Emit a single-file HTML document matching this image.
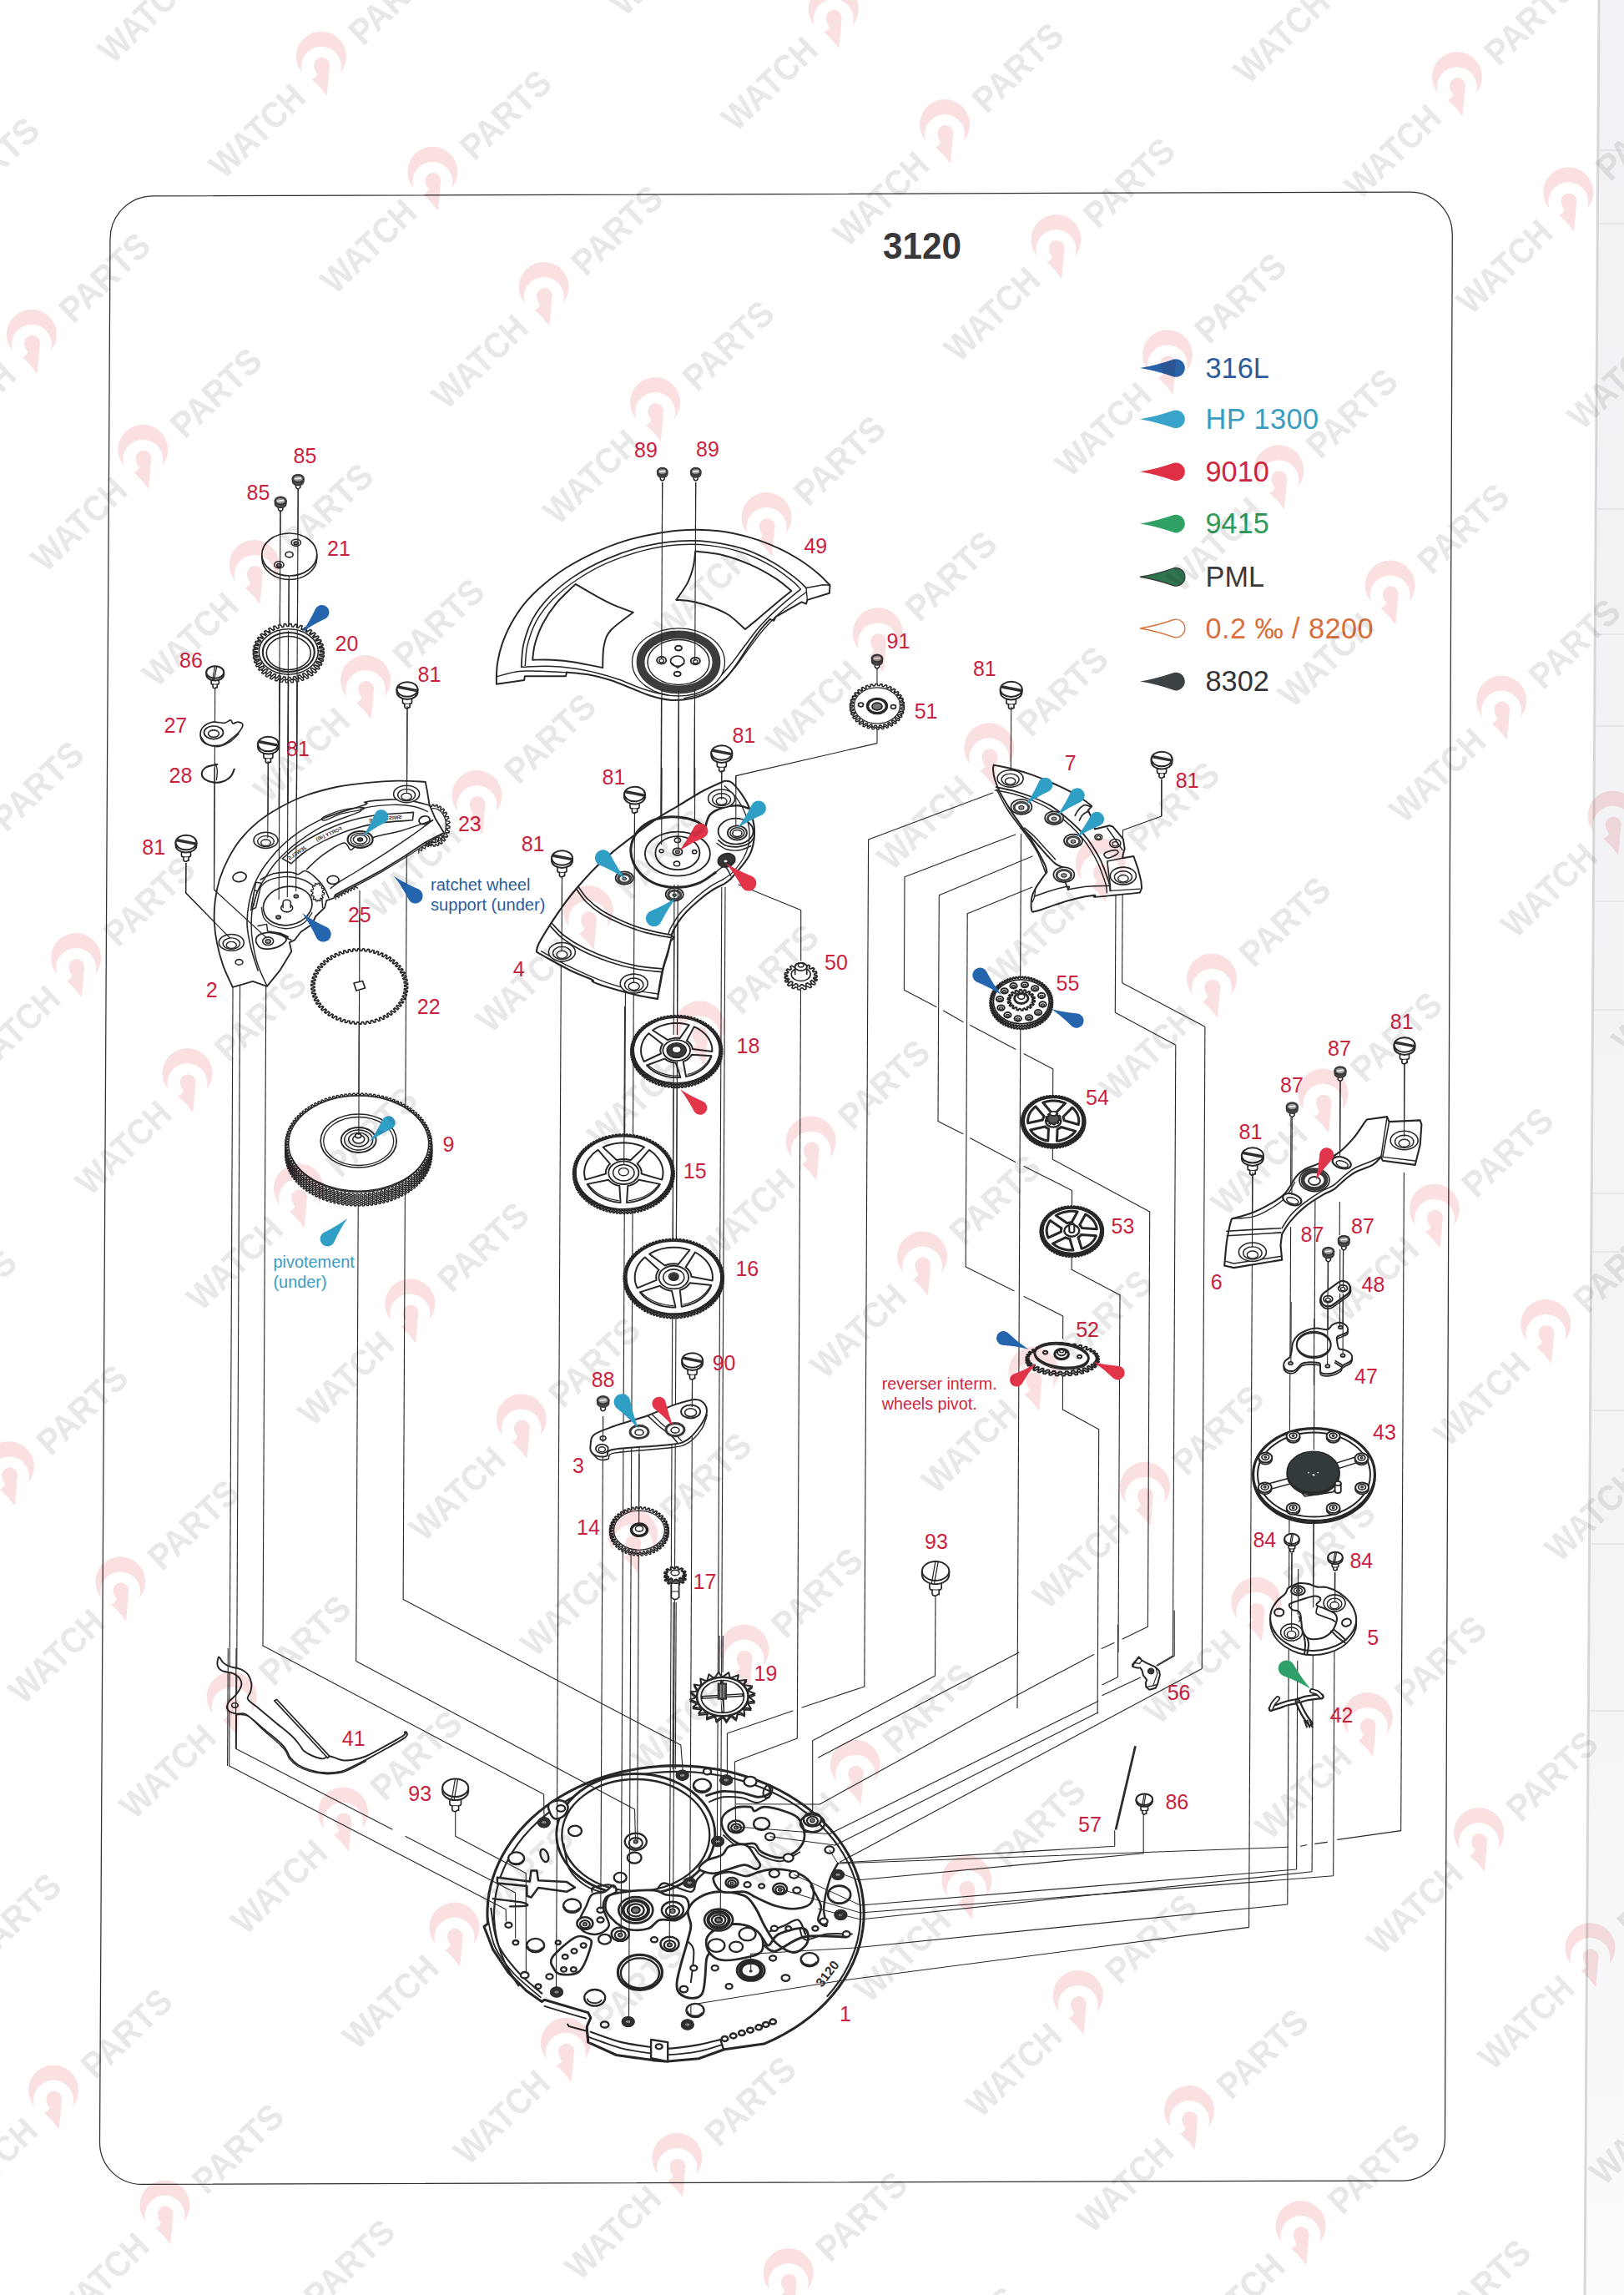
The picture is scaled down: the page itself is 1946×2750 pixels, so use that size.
<!DOCTYPE html>
<html lang="en">
<head>
<meta charset="utf-8">
<title>3120</title>
<style>
html,body{margin:0;padding:0;background:#fff;}
body{width:1946px;height:2750px;overflow:hidden;font-family:"Liberation Sans",Arial,Helvetica,sans-serif;}
svg{display:block;}
</style>
</head>
<body>
<svg width="1946" height="2750" viewBox="0 0 1946 2750" font-family="'Liberation Sans', Arial, Helvetica, sans-serif">
<rect x="0" y="0" width="1946" height="2750" fill="#fff"/>
<defs><linearGradient id="strip" x1="0" y1="0" x2="0" y2="1"><stop offset="0" stop-color="#f1f2f5"/><stop offset="0.7" stop-color="#f4f4f7"/><stop offset="1" stop-color="#fbfbfc"/></linearGradient></defs>
<polygon points="1916,0 1946,0 1946,2750 1899,2750" fill="url(#strip)"/>
<line x1="1916" y1="0" x2="1899" y2="2750" stroke="#d6d8d8" stroke-width="3"/>
<line x1="1916.9" y1="180" x2="1946" y2="180" stroke="#e6e7ea" stroke-width="2"/>
<line x1="1916.3" y1="268" x2="1946" y2="268" stroke="#e6e7ea" stroke-width="2"/>
<line x1="1914.2" y1="610" x2="1946" y2="610" stroke="#e6e7ea" stroke-width="2"/>
<line x1="1913.3" y1="760" x2="1946" y2="760" stroke="#e6e7ea" stroke-width="2"/>
<line x1="1912.6" y1="870" x2="1946" y2="870" stroke="#e6e7ea" stroke-width="2"/>
<line x1="1911.3" y1="1080" x2="1946" y2="1080" stroke="#e6e7ea" stroke-width="2"/>
<line x1="1910.5" y1="1210" x2="1946" y2="1210" stroke="#e6e7ea" stroke-width="2"/>
<line x1="1909.1" y1="1430" x2="1946" y2="1430" stroke="#e6e7ea" stroke-width="2"/>
<line x1="1908.7" y1="1500" x2="1946" y2="1500" stroke="#e6e7ea" stroke-width="2"/>
<line x1="1907.5" y1="1690" x2="1946" y2="1690" stroke="#e6e7ea" stroke-width="2"/>
<line x1="1906.5" y1="1850" x2="1946" y2="1850" stroke="#e6e7ea" stroke-width="2"/>
<line x1="1905.3" y1="2050" x2="1946" y2="2050" stroke="#e6e7ea" stroke-width="2"/>
<path d="M132 286 C132.2 257.8 155.1 234.9 183.3 234.8 L1689.5 230.2 C1717.7 230.1 1740.4 252.8 1740.3 281 L1731.5 2561.8 C1731.4 2590 1708.5 2612.9 1680.3 2613 L170.2 2617.4 C142 2617.5 119.3 2594.8 119.5 2566.6 Z" fill="none" stroke="#303033" stroke-width="1.25" stroke-linejoin="round" stroke-linecap="round" />
<path d="M584.5 2305.1 L584 2296 L584.1 2286.8 L584.8 2277.7 L586.1 2268.5 L588 2259.5 L590.5 2250.5 L593.6 2241.7 L597.3 2233 L601.5 2224.4 L606.3 2216.1 L611.7 2207.9 L617.5 2200 L623.9 2192.3 L630.8 2184.9 L638.2 2177.7 L646 2170.9 L654.3 2164.4 L662.9 2158.3 L672 2152.5 L681.5 2147.1 L691.3 2142.1 L701.4 2137.5 L711.8 2133.3 L722.4 2129.5 L733.3 2126.2 L744.4 2123.3 L755.7 2120.9 L767.1 2119 L778.7 2117.5 L790.3 2116.4 L802 2115.9 L813.7 2115.8 L825.3 2116.2 L837 2117.1 L848.5 2118.5 L860 2120.3 L871.3 2122.6 L882.5 2125.3 L893.4 2128.5 L904.2 2132.1 L914.7 2136.2 L924.9 2140.6 L934.8 2145.5 L944.3 2150.8 L953.5 2156.5 L962.3 2162.5 L970.7 2168.9 L978.7 2175.6 L986.2 2182.7 L993.2 2190 L999.8 2197.6 L1005.8 2205.4 L1011.3 2213.5 L1016.3 2221.8 L1020.7 2230.3 L1024.5 2239 L1027.8 2247.8 L1030.5 2256.7 L1032.6 2265.8 L1034 2274.9 L1034.9 2284 L1035.2 2293.2 L1034.9 2302.3 L1033.9 2311.5 L1032.4 2320.6 L1030.3 2329.6 L1030.3 2329.6 L1026.9 2340.3 L1022.7 2350.8 L1017.7 2361.1 L1011.9 2371.2 L1005.3 2380.9 L997.9 2390.3 L989.8 2399.3 L981 2407.9 L971.5 2416.1 L961.4 2423.7 L950.7 2430.9 L939.5 2437.5 L927.7 2443.6 L915.5 2449.1 L867.9 2455.7 L837.1 2466.8 L800.2 2470.1 L781.7 2468.6 L738.6 2462.5 L704.7 2447.1 L703.2 2428.6 L707.8 2417.8 L704.7 2411.6 L652.4 2396.3 L649.3 2398.4 L630.8 2385.5 L609.3 2363.9 L590.8 2336.2 L580 2308.5Z" fill="#fff" stroke="#27272a" stroke-width="3.06" stroke-linejoin="round" stroke-linecap="round" />
<path d="M621.4 2379.3 L615.1 2370.1 L609.5 2360.6 L604.6 2350.9 L600.5 2340.9 L597.2 2330.8 L594.7 2320.6 L593 2310.2 L592.1 2299.8 L592.1 2289.3 L592.8 2278.9 L594.4 2268.5 L596.8 2258.2 L600 2248.1 L604 2238.1 L608.7 2228.4 L614.2 2218.8 L620.5 2209.6 L627.4 2200.7 L635.1 2192.1 L643.4 2183.9 L652.3 2176.1 L661.8 2168.7 L671.9 2161.9 L682.5 2155.5 L693.6 2149.6 L705.1 2144.2 L717.1 2139.5 L729.3 2135.3 L741.9 2131.6 L754.8 2128.6 L767.8 2126.2 L781 2124.5 L794.4 2123.3 L807.8 2122.8 L821.2 2123 L834.6 2123.7 L847.8 2125.1 L861 2127.2 L874 2129.8 L886.7 2133.1 L899.2 2137 L911.3 2141.4 L923.1 2146.5 L934.4 2152 L945.3 2158.1 L955.7 2164.7 L965.5 2171.8 L974.8 2179.4 L983.5 2187.3 L991.5 2195.7 L998.8 2204.5 L1005.5 2213.5 L1011.4 2222.9 L1016.6 2232.5 L1021 2242.4 L1024.7 2252.4 L1027.5 2262.6 L1029.6 2273 L1030.8 2283.4 L1031.2 2293.8 L1030.8 2304.2 L1029.6 2314.6 L1027.5 2325 L1024.7 2335.2 L1021 2345.2 L1016.6 2355.1 L1011.4 2364.7 L1005.5 2374.1 L998.8 2383.1 L991.5 2391.9" fill="none" stroke="#27272a" stroke-width="2.16" stroke-linejoin="round" stroke-linecap="round" />
<path d="M588.3 2286.9 C589.8 2294.1 591.4 2317.2 596.9 2330.1 C602.5 2342.9 612.9 2354.2 621.6 2363.9 C630.3 2373.7 644.7 2384.4 649.3 2388.6" fill="none" stroke="#27272a" stroke-width="2.16" stroke-linejoin="round" stroke-linecap="round" />
<path d="M584 2296.2 C585.6 2302.3 588 2321.7 593.3 2333.1 C598.5 2344.5 606.3 2354.5 615.4 2364.5 C624.5 2374.5 642.4 2388.4 647.8 2393.2" fill="none" stroke="#27272a" stroke-width="1.8" stroke-linejoin="round" stroke-linecap="round" />
<path d="M652.4 2403.9 C657.5 2405.5 674.8 2410.7 683.2 2413.2 C691.5 2415.7 699.1 2417.8 702.2 2418.7" fill="none" stroke="#27272a" stroke-width="1.8" stroke-linejoin="round" stroke-linecap="round" />
<path d="M707.8 2434.7 C714 2436.8 732.4 2444 744.7 2447.1 C757.1 2450.1 772.5 2451.9 781.7 2453.2 C790.9 2454.5 790.9 2455.3 800.2 2454.8 C809.4 2454.2 826.6 2451.9 837.1 2450.1 C847.6 2448.3 858.9 2445 863.3 2444" fill="none" stroke="#27272a" stroke-width="2.16" stroke-linejoin="round" stroke-linecap="round" />
<path d="M705.3 2440.9 C711.9 2443.2 732 2451.2 744.7 2454.4 C757.5 2457.7 772.5 2459.3 781.7 2460.6 C790.9 2461.9 790.9 2462.6 800.2 2462.1 C809.4 2461.7 826.2 2460.1 837.1 2458.1 C848 2456.1 860.7 2451.5 865.4 2450.1" fill="none" stroke="#27272a" stroke-width="1.8" stroke-linejoin="round" stroke-linecap="round" />
<polygon points="780.1,2444 800.2,2447.1 800.2,2470.1 780.1,2466.1" fill="#fff" stroke="#27272a" stroke-width="2.34" stroke-linejoin="round" stroke-linecap="round" />
<ellipse cx="789.7" cy="2452.3" rx="4" ry="3" fill="none" stroke="#27272a" stroke-width="2.34" />
<polyline points="863.3,2444 867,2455.7" fill="none" stroke="#27272a" stroke-width="2.34" stroke-linejoin="round" stroke-linecap="round" />
<polyline points="703.2,2428.6 704.7,2447.1" fill="none" stroke="#27272a" stroke-width="2.16" stroke-linejoin="round" stroke-linecap="round" />
<polyline points="680.1,2425.5 681.6,2428 702.2,2433.5" fill="none" stroke="#27272a" stroke-width="1.98" stroke-linejoin="round" stroke-linecap="round" />
<ellipse cx="761.8" cy="2198" rx="95" ry="72.5" fill="#fff" stroke="#27272a" stroke-width="2.88" />
<ellipse cx="761.8" cy="2199" rx="88.5" ry="67" fill="none" stroke="#27272a" stroke-width="2.34" />
<path d="M675.5 2209.2 C676.6 2214.3 677.7 2231.2 682.3 2239.7 C686.8 2248.1 694.7 2254.9 702.6 2260 C710.5 2265.1 725.2 2268.5 729.7 2270.2" fill="none" stroke="#27272a" stroke-width="1.98" stroke-linejoin="round" stroke-linecap="round" />
<ellipse cx="761.8" cy="2206.8" rx="13" ry="10.1" fill="#fff" stroke="#27272a" stroke-width="2.34" />
<ellipse cx="761.8" cy="2208.4" rx="8.1" ry="6.3" fill="none" stroke="#27272a" stroke-width="2.11" />
<ellipse cx="761.8" cy="2206.8" rx="2.4" ry="1.9" fill="#777" stroke="#27272a" stroke-width="1.44" />
<ellipse cx="760.2" cy="2226.1" rx="8.4" ry="6.6" fill="#fff" stroke="#27272a" stroke-width="2.34" />
<path d="M846.5 2151.6 C849.6 2150.8 858.1 2147.1 865.2 2146.5 C872.2 2146 881.5 2147.1 888.9 2148.2 C896.2 2149.4 903.5 2153.3 909.2 2153.3 C914.8 2153.3 920.8 2150.7 922.7 2148.2 C924.7 2145.8 921.3 2140.3 921 2138.7" fill="none" stroke="#27272a" stroke-width="2.88" stroke-linejoin="round" stroke-linecap="round" />
<path d="M849.9 2159.1 C852.7 2158.1 860.4 2154.1 866.8 2153.3 C873.3 2152.5 882.1 2153.2 888.9 2154.3 C895.6 2155.4 902 2160.2 907.5 2160.1 C913 2159.9 919.6 2154.4 922.1 2153.3" fill="none" stroke="#27272a" stroke-width="1.98" stroke-linejoin="round" stroke-linecap="round" />
<ellipse cx="920" cy="2146.5" rx="5" ry="8" fill="none" stroke="#27272a" stroke-width="2.16" transform="rotate(20 920 2146.5)" />
<path d="M865.2 2178.7 C866.8 2173.9 873.1 2169.1 878.7 2166.9 C884.3 2164.6 894.8 2164.6 899 2165.2 C903.3 2165.7 901.3 2170.2 904.1 2170.2 C906.9 2170.2 910 2165.2 916 2165.2 C921.9 2165.2 932.9 2168 939.7 2170.2 C946.4 2172.5 952.5 2173.9 956.6 2178.7 C960.7 2183.5 964.1 2192.8 964.1 2199 C964.1 2205.2 961.2 2211.4 956.6 2216 C952 2220.5 943.6 2225.6 936.3 2226.1 C928.9 2226.7 917.9 2222.2 912.6 2219.3 C907.2 2216.5 908.6 2210.9 904.1 2209.2 C899.6 2207.5 891.4 2211.4 885.5 2209.2 C879.5 2206.9 871.9 2200.7 868.5 2195.6 C865.2 2190.6 863.5 2183.5 865.2 2178.7Z" fill="#fff" stroke="#27272a" stroke-width="2.7" stroke-linejoin="round" stroke-linecap="round" />
<path d="M866.8 2199 C869.8 2201.4 878.9 2210.9 884.8 2213.3 C890.7 2215.6 897.9 2211.6 902.4 2213.3 C906.9 2214.9 906.2 2220.6 911.9 2223.4 C917.5 2226.2 928.5 2230.9 936.3 2230.2 C944 2229.5 954.6 2221.2 958.3 2219.3" fill="none" stroke="#27272a" stroke-width="1.8" stroke-linejoin="round" stroke-linecap="round" />
<path d="M838.1 2239.7 C836.6 2237.1 842 2232.3 846.5 2229.5 C851 2226.7 860.6 2225.6 865.2 2222.7 C869.7 2219.9 868.8 2214.6 873.6 2212.6 C878.4 2210.6 888.6 2208.6 893.9 2210.9 C899.3 2213.1 903 2222.2 905.8 2226.1 C908.6 2230.1 910.9 2232.3 910.9 2234.6 C910.9 2236.8 908.9 2239.7 905.8 2239.7 C902.7 2239.7 897.6 2234.6 892.2 2234.6 C886.9 2234.6 879.8 2238 873.6 2239.7 C867.4 2241.4 860.9 2244.8 855 2244.8 C849.1 2244.8 839.5 2242.2 838.1 2239.7Z" fill="#fff" stroke="#27272a" stroke-width="2.7" stroke-linejoin="round" stroke-linecap="round" />
<path d="M824.5 2288.8 C826.2 2283.1 831.8 2277.2 838.1 2273.5 C844.3 2269.9 852.7 2267.1 861.8 2266.8 C870.8 2266.5 884.9 2268.5 892.2 2271.8 C899.6 2275.2 901.8 2281.2 905.8 2287.1 C909.7 2293 912 2300.6 916 2307.4 C919.9 2314.2 923.6 2322.4 929.5 2327.7 C935.4 2333.1 945.2 2339.6 951.5 2339.6 C957.8 2339.6 965.5 2332.5 967.4 2327.7 C969.4 2322.9 969.1 2312.5 963.4 2310.8 C957.6 2309.1 939.9 2314.2 932.9 2317.6 C925.8 2321 924.4 2330.6 921 2331.1 C917.7 2331.7 916.2 2324.6 912.6 2321 C908.9 2317.3 904.7 2311.6 899 2309.1 C893.4 2306.6 885.8 2305.2 878.7 2305.7 C871.6 2306.3 862 2309.4 856.7 2312.5 C851.3 2315.6 847.7 2319.8 846.5 2324.3 C845.4 2328.9 849.9 2335.6 849.9 2339.6 C849.9 2343.5 847.9 2339.9 846.5 2348.1 C845.1 2356.2 845.7 2381.2 841.4 2388.7 C837.2 2396.2 826.2 2394.7 821.1 2392.8 C816 2390.8 810.5 2388 811 2376.8 C811.4 2365.7 821 2337.6 823.8 2326 C826.7 2314.5 827.8 2313.6 827.9 2307.4 C828 2301.2 822.8 2294.4 824.5 2288.8Z" fill="#fff" stroke="#27272a" stroke-width="2.88" stroke-linejoin="round" stroke-linecap="round" />
<path d="M846.5 2324.3 C847.7 2319.8 851.3 2315.6 856.7 2312.5 C862 2309.4 871.6 2306.3 878.7 2305.7 C885.8 2305.2 893.4 2306.6 899 2309.1 C904.7 2311.6 910.3 2316.2 912.6 2321 C914.8 2325.8 915.4 2333.8 912.6 2337.9 C909.7 2342 903.5 2343.5 895.6 2345.3 C887.7 2347.2 872.8 2349.7 865.2 2348.7 C857.5 2347.8 853 2343.7 849.9 2339.6 C846.8 2335.5 845.4 2328.9 846.5 2324.3Z" fill="#fff" stroke="#27272a" stroke-width="2.7" stroke-linejoin="round" stroke-linecap="round" />
<path d="M823.8 2326 C825.1 2328 830.6 2329.7 831.3 2337.9 C832 2346.1 828.5 2368.9 827.9 2375.2" fill="none" stroke="#27272a" stroke-width="1.98" stroke-linejoin="round" stroke-linecap="round" />
<path d="M855 2249.8 C856.4 2245.9 867.1 2243.3 873.6 2243.1 C880.1 2242.8 888 2248.1 893.9 2248.1 C899.9 2248.1 903.3 2244.5 909.2 2243.1 C915.1 2241.6 921.6 2239.4 929.5 2239.7 C937.4 2240 949.3 2241.4 956.6 2244.8 C963.9 2248.1 971 2254.1 973.5 2260 C976.1 2265.9 975.2 2275.8 971.8 2280.3 C968.5 2284.8 960.3 2286.5 953.2 2287.1 C946.2 2287.7 937.4 2286 929.5 2283.7 C921.6 2281.4 912 2276.4 905.8 2273.5 C899.6 2270.7 899 2267.9 892.2 2266.8 C885.5 2265.6 871.4 2269.6 865.2 2266.8 C858.9 2263.9 853.6 2253.8 855 2249.8Z" fill="#fff" stroke="#27272a" stroke-width="2.7" stroke-linejoin="round" stroke-linecap="round" />
<path d="M971.8 2260 C973.8 2263.9 982.3 2276.9 983.7 2283.7 C985.1 2290.5 979.2 2296.7 980.3 2300.6 C981.4 2304.6 989.3 2309.7 990.5 2307.4 C991.6 2305.2 986.5 2296.1 987.1 2287.1 C987.6 2278.1 991 2262.3 993.9 2253.2 C996.7 2244.2 1002.3 2236.3 1004 2232.9" fill="none" stroke="#27272a" stroke-width="2.52" stroke-linejoin="round" stroke-linecap="round" />
<path d="M922.7 2314.2 C925.6 2313.1 934 2309.7 939.7 2307.4 C945.3 2305.2 952.4 2298.9 956.6 2300.6 C960.8 2302.3 963.7 2314.8 965.1 2317.6" fill="none" stroke="#27272a" stroke-width="2.34" stroke-linejoin="round" stroke-linecap="round" />
<path d="M916 2331.1 C918.2 2332.2 921.6 2339.6 929.5 2337.9 C937.4 2336.2 949.3 2323.8 963.4 2321 C977.5 2318.1 1005.7 2321 1014.2 2321" fill="none" stroke="#27272a" stroke-width="2.88" stroke-linejoin="round" stroke-linecap="round" />
<path d="M958.3 2310.8 C959.4 2313.1 959.7 2323.2 965.1 2324.3 C970.4 2325.5 981.2 2318.7 990.5 2317.6 C999.8 2316.4 1015.9 2317.6 1021 2317.6" fill="none" stroke="#27272a" stroke-width="1.98" stroke-linejoin="round" stroke-linecap="round" />
<path d="M729.7 2271.8 C733.7 2268.5 741 2267.9 750 2266.8 C759 2265.6 776 2264.5 783.9 2265.1 C791.8 2265.6 791.2 2268.7 797.4 2270.2 C803.6 2271.6 816.6 2270.4 821.1 2273.5 C825.6 2276.6 826.2 2284.3 824.5 2288.8 C822.8 2293.3 816.6 2298.7 811 2300.6 C805.3 2302.6 796.3 2298.9 790.6 2300.6 C785 2302.3 782.7 2308.8 777.1 2310.8 C771.4 2312.8 762.4 2313.1 756.8 2312.5 C751.1 2311.9 747.2 2309.7 743.2 2307.4 C739.3 2305.2 736 2302.3 733.1 2298.9 C730.1 2295.6 726.2 2291.6 725.6 2287.1 C725 2282.6 725.6 2275.2 729.7 2271.8Z" fill="#fff" stroke="#27272a" stroke-width="2.7" stroke-linejoin="round" stroke-linecap="round" />
<path d="M702.6 2283.7 C705.1 2278.3 705.7 2273 709.4 2270.2 C713 2267.3 720.4 2268.6 724.6 2266.8 C728.8 2265 732.5 2259.3 734.8 2259.3 C737 2259.3 739.6 2264.4 738.1 2266.8 C736.7 2269.1 728.8 2270.2 726.3 2273.5 C723.7 2276.9 722.3 2281.4 722.9 2287.1 C723.5 2292.7 730.8 2302.3 729.7 2307.4 C728.5 2312.5 721.2 2316.4 716.1 2317.6 C711 2318.7 702.9 2316.7 699.2 2314.2 C695.5 2311.6 693.5 2307.4 694.1 2302.3 C694.7 2297.3 700 2289.1 702.6 2283.7Z" fill="#fff" stroke="#27272a" stroke-width="2.52" stroke-linejoin="round" stroke-linecap="round" />
<path d="M788.9 2261.7 C790.4 2260.8 790.9 2255.8 797.4 2256.6 C803.9 2257.5 821.7 2267.3 827.9 2266.8 C834.1 2266.2 831.8 2257.2 834.7 2253.2 C837.5 2249.3 843.1 2244.8 844.8 2243.1" fill="none" stroke="#27272a" stroke-width="2.34" stroke-linejoin="round" stroke-linecap="round" />
<path d="M661.9 2345.3 C666.2 2339.1 681.8 2325.4 689 2321.6 C696.3 2317.9 702.1 2321 705.3 2322.7 C708.4 2324.3 709.9 2325.2 708 2331.8 C706.1 2338.4 700.1 2356.6 694.1 2362.3 C688.1 2367.9 677.2 2366.2 672.1 2365.7 C667 2365.1 665.3 2362.3 663.6 2358.9 C661.9 2355.5 657.7 2351.6 661.9 2345.3Z" fill="#fff" stroke="#27272a" stroke-width="2.7" stroke-linejoin="round" stroke-linecap="round" />
<polygon points="595.9,2249.8 634.8,2254.6 636.5,2241.4 643.3,2241.4 645,2253.2 678.9,2254.9 689,2261.7 678.9,2266.8 645,2262 636.5,2273.5 631.4,2271.8 631.4,2260 595.9,2256.6" fill="#fff" stroke="#27272a" stroke-width="2.52" stroke-linejoin="round" stroke-linecap="round" />
<path d="M590.8 2275.2 C594.2 2275.6 604.8 2276.8 611.1 2277.6 C617.4 2278.5 625.5 2279.3 628.7 2280.3 C632 2281.3 633.7 2283 630.8 2283.7 C627.8 2284.4 614.4 2284.3 611.1 2284.4" fill="none" stroke="#27272a" stroke-width="2.34" stroke-linejoin="round" stroke-linecap="round" />
<path d="M656.9 2165.2 C656.6 2161.9 659.1 2160.3 661.9 2159.1 C664.8 2157.8 670.7 2156.7 673.8 2157.7 C676.9 2158.7 680.3 2162.1 680.6 2165.2 C680.8 2168.2 678.3 2173.7 675.5 2176 C672.7 2178.3 666.7 2180.5 663.6 2178.7 C660.5 2176.9 657.1 2168.4 656.9 2165.2Z" fill="#fff" stroke="#27272a" stroke-width="2.52" stroke-linejoin="round" stroke-linecap="round" />
<ellipse cx="672.1" cy="2166.9" rx="5" ry="3.8" fill="none" stroke="#27272a" stroke-width="2.16" />
<ellipse cx="652.4" cy="2223.4" rx="4.4" ry="8" fill="none" stroke="#27272a" stroke-width="2.34" transform="rotate(-20 652.4 2223.4)" />
<path d="M709.4 2266.8 C709.6 2265.9 707.7 2263.1 711 2261.7 C714.4 2260.3 725.6 2258.3 729.7 2258.3 C733.8 2258.3 734.8 2261.1 735.8 2261.7" fill="none" stroke="#27272a" stroke-width="2.16" stroke-linejoin="round" stroke-linecap="round" />
<ellipse cx="651.8" cy="2183.8" rx="7.2" ry="5.6" fill="#fff" stroke="#27272a" stroke-width="1.8" />
<ellipse cx="651.8" cy="2183.8" rx="5.2" ry="4" fill="none" stroke="#2f2f31" stroke-width="5.44" />
<ellipse cx="651.8" cy="2183.8" rx="1.4" ry="1.1" fill="#bbb" stroke="#666" stroke-width="1.08" />
<ellipse cx="817.7" cy="2127.2" rx="7.2" ry="5.6" fill="#fff" stroke="#27272a" stroke-width="1.8" />
<ellipse cx="817.7" cy="2127.2" rx="5.2" ry="4" fill="none" stroke="#2f2f31" stroke-width="5.44" />
<ellipse cx="817.7" cy="2127.2" rx="1.4" ry="1.1" fill="#bbb" stroke="#666" stroke-width="1.08" />
<ellipse cx="870.2" cy="2133" rx="7.2" ry="5.6" fill="#fff" stroke="#27272a" stroke-width="1.8" />
<ellipse cx="870.2" cy="2133" rx="5.2" ry="4" fill="none" stroke="#2f2f31" stroke-width="5.44" />
<ellipse cx="870.2" cy="2133" rx="1.4" ry="1.1" fill="#bbb" stroke="#666" stroke-width="1.08" />
<ellipse cx="860.1" cy="2206.5" rx="7.2" ry="5.6" fill="#fff" stroke="#27272a" stroke-width="1.8" />
<ellipse cx="860.1" cy="2206.5" rx="5.2" ry="4" fill="none" stroke="#2f2f31" stroke-width="5.44" />
<ellipse cx="860.1" cy="2206.5" rx="1.4" ry="1.1" fill="#bbb" stroke="#666" stroke-width="1.08" />
<ellipse cx="826.2" cy="2255.9" rx="7.2" ry="5.6" fill="#fff" stroke="#27272a" stroke-width="1.8" />
<ellipse cx="826.2" cy="2255.9" rx="5.2" ry="4" fill="none" stroke="#2f2f31" stroke-width="5.44" />
<ellipse cx="826.2" cy="2255.9" rx="1.4" ry="1.1" fill="#bbb" stroke="#666" stroke-width="1.08" />
<ellipse cx="1004" cy="2246.4" rx="7.2" ry="5.6" fill="#fff" stroke="#27272a" stroke-width="1.8" />
<ellipse cx="1004" cy="2246.4" rx="5.2" ry="4" fill="none" stroke="#2f2f31" stroke-width="5.44" />
<ellipse cx="1004" cy="2246.4" rx="1.4" ry="1.1" fill="#bbb" stroke="#666" stroke-width="1.08" />
<ellipse cx="1007.4" cy="2294.5" rx="7.2" ry="5.6" fill="#fff" stroke="#27272a" stroke-width="1.8" />
<ellipse cx="1007.4" cy="2294.5" rx="5.2" ry="4" fill="none" stroke="#2f2f31" stroke-width="5.44" />
<ellipse cx="1007.4" cy="2294.5" rx="1.4" ry="1.1" fill="#bbb" stroke="#666" stroke-width="1.08" />
<ellipse cx="667" cy="2387" rx="7.2" ry="5.6" fill="#fff" stroke="#27272a" stroke-width="1.8" />
<ellipse cx="667" cy="2387" rx="5.2" ry="4" fill="none" stroke="#2f2f31" stroke-width="5.44" />
<ellipse cx="667" cy="2387" rx="1.4" ry="1.1" fill="#bbb" stroke="#666" stroke-width="1.08" />
<ellipse cx="752.7" cy="2422.6" rx="7.2" ry="5.6" fill="#fff" stroke="#27272a" stroke-width="1.8" />
<ellipse cx="752.7" cy="2422.6" rx="5.2" ry="4" fill="none" stroke="#2f2f31" stroke-width="5.44" />
<ellipse cx="752.7" cy="2422.6" rx="1.4" ry="1.1" fill="#bbb" stroke="#666" stroke-width="1.08" />
<ellipse cx="823.8" cy="2426" rx="7.2" ry="5.6" fill="#fff" stroke="#27272a" stroke-width="1.8" />
<ellipse cx="823.8" cy="2426" rx="5.2" ry="4" fill="none" stroke="#2f2f31" stroke-width="5.44" />
<ellipse cx="823.8" cy="2426" rx="1.4" ry="1.1" fill="#bbb" stroke="#666" stroke-width="1.08" />
<ellipse cx="841.4" cy="2139.8" rx="10.5" ry="8.2" fill="#fff" stroke="#27272a" stroke-width="2.34" />
<ellipse cx="847.5" cy="2122.8" rx="4.6" ry="3.6" fill="#fff" stroke="#27272a" stroke-width="2.34" />
<ellipse cx="899" cy="2134.7" rx="7.5" ry="5.9" fill="#fff" stroke="#27272a" stroke-width="2.34" />
<ellipse cx="689" cy="2193.9" rx="8" ry="6.2" fill="#fff" stroke="#27272a" stroke-width="2.34" />
<ellipse cx="618.6" cy="2226.8" rx="9.5" ry="7.4" fill="#fff" stroke="#27272a" stroke-width="2.34" />
<ellipse cx="743.2" cy="2249.8" rx="7.5" ry="5.9" fill="#fff" stroke="#27272a" stroke-width="2.34" />
<ellipse cx="685.6" cy="2283.7" rx="10.5" ry="8.2" fill="#fff" stroke="#27272a" stroke-width="2.34" />
<ellipse cx="724.6" cy="2323.7" rx="7.5" ry="5.9" fill="#fff" stroke="#27272a" stroke-width="2.34" />
<ellipse cx="641.6" cy="2331.1" rx="10.5" ry="8.2" fill="#fff" stroke="#27272a" stroke-width="2.34" />
<ellipse cx="712.7" cy="2393.8" rx="12.5" ry="9.8" fill="#fff" stroke="#27272a" stroke-width="2.34" />
<ellipse cx="833" cy="2409" rx="10.5" ry="8.2" fill="#fff" stroke="#27272a" stroke-width="2.34" />
<ellipse cx="970.1" cy="2348.1" rx="10.5" ry="8.2" fill="#fff" stroke="#27272a" stroke-width="2.34" />
<ellipse cx="912.6" cy="2185.5" rx="9.5" ry="7.4" fill="#fff" stroke="#27272a" stroke-width="2.34" />
<ellipse cx="922.7" cy="2200.7" rx="5.6" ry="4.4" fill="#fff" stroke="#27272a" stroke-width="2.34" />
<ellipse cx="944.7" cy="2226.1" rx="6" ry="4.7" fill="#fff" stroke="#27272a" stroke-width="2.34" />
<ellipse cx="993.9" cy="2216.6" rx="5.4" ry="4.2" fill="#fff" stroke="#27272a" stroke-width="2.34" />
<ellipse cx="927.8" cy="2244.8" rx="6" ry="4.7" fill="#fff" stroke="#27272a" stroke-width="2.34" />
<ellipse cx="951.5" cy="2246.4" rx="5.4" ry="4.2" fill="#fff" stroke="#27272a" stroke-width="2.34" />
<ellipse cx="912.6" cy="2260" rx="3.4" ry="2.7" fill="#fff" stroke="#27272a" stroke-width="2.34" />
<ellipse cx="954.9" cy="2265.1" rx="4.6" ry="3.6" fill="#fff" stroke="#27272a" stroke-width="2.34" />
<ellipse cx="895.6" cy="2258.3" rx="4" ry="3.1" fill="#fff" stroke="#27272a" stroke-width="2.34" />
<ellipse cx="719.5" cy="2288.8" rx="4" ry="3.1" fill="#fff" stroke="#27272a" stroke-width="2.34" />
<ellipse cx="719.5" cy="2300.6" rx="4" ry="3.1" fill="#fff" stroke="#27272a" stroke-width="2.34" />
<ellipse cx="882.1" cy="2332.8" rx="8" ry="6.2" fill="#fff" stroke="#27272a" stroke-width="2.34" />
<ellipse cx="895.6" cy="2317.6" rx="10" ry="7.8" fill="#fff" stroke="#27272a" stroke-width="2.34" />
<ellipse cx="858.4" cy="2331.1" rx="10" ry="7.8" fill="#fff" stroke="#27272a" stroke-width="2.34" />
<ellipse cx="856.7" cy="2358.2" rx="4" ry="3.1" fill="#fff" stroke="#27272a" stroke-width="2.34" />
<ellipse cx="831.3" cy="2358.2" rx="4" ry="3.1" fill="#fff" stroke="#27272a" stroke-width="2.34" />
<ellipse cx="819.4" cy="2383.6" rx="4.8" ry="3.7" fill="#fff" stroke="#27272a" stroke-width="2.34" />
<ellipse cx="873.6" cy="2380.2" rx="4" ry="3.1" fill="#fff" stroke="#27272a" stroke-width="2.34" />
<ellipse cx="941.4" cy="2370.1" rx="4.8" ry="3.7" fill="#fff" stroke="#27272a" stroke-width="2.34" />
<ellipse cx="926.1" cy="2346.4" rx="4" ry="3.1" fill="#fff" stroke="#27272a" stroke-width="2.34" />
<ellipse cx="927.8" cy="2310.8" rx="4" ry="3.1" fill="#fff" stroke="#27272a" stroke-width="2.34" />
<ellipse cx="944.7" cy="2310.8" rx="3.4" ry="2.7" fill="#fff" stroke="#27272a" stroke-width="2.34" />
<ellipse cx="609.4" cy="2306.7" rx="4" ry="3.1" fill="#fff" stroke="#27272a" stroke-width="2.34" />
<ellipse cx="617.9" cy="2327.7" rx="3.4" ry="2.7" fill="#fff" stroke="#27272a" stroke-width="2.34" />
<ellipse cx="668.7" cy="2327.7" rx="3" ry="2.3" fill="#fff" stroke="#27272a" stroke-width="2.34" />
<ellipse cx="658.5" cy="2368.4" rx="4" ry="3.1" fill="#fff" stroke="#27272a" stroke-width="2.34" />
<ellipse cx="645" cy="2380.2" rx="3.4" ry="2.7" fill="#fff" stroke="#27272a" stroke-width="2.34" />
<ellipse cx="628.7" cy="2366.7" rx="4.8" ry="3.7" fill="#fff" stroke="#27272a" stroke-width="2.34" />
<ellipse cx="677.2" cy="2344.7" rx="3.4" ry="2.7" fill="#fff" stroke="#27272a" stroke-width="2.34" />
<ellipse cx="688" cy="2337.9" rx="3.4" ry="2.7" fill="#fff" stroke="#27272a" stroke-width="2.34" />
<ellipse cx="699.2" cy="2331.1" rx="3.4" ry="2.7" fill="#fff" stroke="#27272a" stroke-width="2.34" />
<ellipse cx="675.5" cy="2359.9" rx="3.4" ry="2.7" fill="#fff" stroke="#27272a" stroke-width="2.34" />
<ellipse cx="687.3" cy="2359.9" rx="3.4" ry="2.7" fill="#fff" stroke="#27272a" stroke-width="2.34" />
<ellipse cx="724.6" cy="2426" rx="4.8" ry="3.7" fill="#fff" stroke="#27272a" stroke-width="2.34" />
<ellipse cx="783.9" cy="2324.3" rx="4" ry="3.1" fill="#fff" stroke="#27272a" stroke-width="2.34" />
<ellipse cx="987.1" cy="2302.3" rx="4.6" ry="3.6" fill="#fff" stroke="#27272a" stroke-width="2.34" />
<ellipse cx="1014.2" cy="2317.6" rx="4.4" ry="3.4" fill="#fff" stroke="#27272a" stroke-width="2.34" />
<ellipse cx="976.9" cy="2310.8" rx="3.6" ry="2.8" fill="#fff" stroke="#27272a" stroke-width="2.34" />
<path d="M832.4 2141.3 A9 6 0 0 0 849.4 2142.8" fill="none" stroke="#27272a" stroke-width="1.8" stroke-linejoin="round" stroke-linecap="round" />
<path d="M676.6 2285.2 A9 6 0 0 0 693.6 2286.7" fill="none" stroke="#27272a" stroke-width="1.8" stroke-linejoin="round" stroke-linecap="round" />
<path d="M632.6 2332.6 A9 6 0 0 0 649.6 2334.1" fill="none" stroke="#27272a" stroke-width="1.8" stroke-linejoin="round" stroke-linecap="round" />
<path d="M703.7 2395.3 A9 6 0 0 0 720.7 2396.8" fill="none" stroke="#27272a" stroke-width="1.8" stroke-linejoin="round" stroke-linecap="round" />
<path d="M824 2410.5 A9 6 0 0 0 841 2412" fill="none" stroke="#27272a" stroke-width="1.8" stroke-linejoin="round" stroke-linecap="round" />
<path d="M961.1 2349.6 A9 6 0 0 0 978.1 2351.1" fill="none" stroke="#27272a" stroke-width="1.8" stroke-linejoin="round" stroke-linecap="round" />
<path d="M903.6 2187 A9 6 0 0 0 920.6 2188.5" fill="none" stroke="#27272a" stroke-width="1.8" stroke-linejoin="round" stroke-linecap="round" />
<path d="M609.6 2228.3 A9 6 0 0 0 626.6 2229.8" fill="none" stroke="#27272a" stroke-width="1.8" stroke-linejoin="round" stroke-linecap="round" />
<ellipse cx="1005.7" cy="2270.2" rx="13.5" ry="10.5" fill="#fff" stroke="#27272a" stroke-width="2.7" />
<ellipse cx="973.5" cy="2180.4" rx="10.5" ry="8.2" fill="#fff" stroke="#27272a" stroke-width="2.52" />
<ellipse cx="973.5" cy="2181.7" rx="6.5" ry="5.1" fill="none" stroke="#27272a" stroke-width="2.27" />
<ellipse cx="973.5" cy="2181.4" rx="2.6" ry="2.1" fill="#888" stroke="#27272a" stroke-width="1.44" />
<ellipse cx="934.6" cy="2263.4" rx="8.5" ry="6.6" fill="#fff" stroke="#27272a" stroke-width="2.52" />
<ellipse cx="934.6" cy="2264.4" rx="5.3" ry="4.1" fill="none" stroke="#27272a" stroke-width="2.27" />
<ellipse cx="934.6" cy="2264.4" rx="2.1" ry="1.7" fill="#888" stroke="#27272a" stroke-width="1.44" />
<ellipse cx="877" cy="2255.9" rx="7.5" ry="5.9" fill="#fff" stroke="#27272a" stroke-width="2.52" />
<ellipse cx="877" cy="2256.8" rx="4.7" ry="3.6" fill="none" stroke="#27272a" stroke-width="2.27" />
<ellipse cx="877" cy="2256.9" rx="1.9" ry="1.5" fill="#888" stroke="#27272a" stroke-width="1.44" />
<ellipse cx="882.1" cy="2188.9" rx="9.5" ry="7.4" fill="#fff" stroke="#27272a" stroke-width="2.52" />
<ellipse cx="882.1" cy="2190" rx="5.9" ry="4.6" fill="none" stroke="#27272a" stroke-width="2.27" />
<ellipse cx="882.1" cy="2189.9" rx="2.4" ry="1.9" fill="#888" stroke="#27272a" stroke-width="1.44" />
<ellipse cx="805.9" cy="2288.8" rx="13" ry="10.1" fill="#fff" stroke="#27272a" stroke-width="2.52" />
<ellipse cx="805.9" cy="2290.3" rx="8.1" ry="6.3" fill="none" stroke="#27272a" stroke-width="2.27" />
<ellipse cx="805.9" cy="2289.8" rx="3.2" ry="2.6" fill="#888" stroke="#27272a" stroke-width="1.44" />
<ellipse cx="802.5" cy="2329.4" rx="11" ry="8.6" fill="#fff" stroke="#27272a" stroke-width="2.52" />
<ellipse cx="802.5" cy="2330.7" rx="6.8" ry="5.3" fill="none" stroke="#27272a" stroke-width="2.27" />
<ellipse cx="802.5" cy="2330.4" rx="2.8" ry="2.2" fill="#888" stroke="#27272a" stroke-width="1.44" />
<ellipse cx="743.2" cy="2317.6" rx="10.5" ry="8.2" fill="#fff" stroke="#27272a" stroke-width="2.52" />
<ellipse cx="743.2" cy="2318.8" rx="6.5" ry="5.1" fill="none" stroke="#27272a" stroke-width="2.27" />
<ellipse cx="743.2" cy="2318.6" rx="2.6" ry="2.1" fill="#888" stroke="#27272a" stroke-width="1.44" />
<ellipse cx="700.9" cy="2304.7" rx="9.5" ry="7.4" fill="#fff" stroke="#27272a" stroke-width="2.52" />
<ellipse cx="700.9" cy="2305.8" rx="5.9" ry="4.6" fill="none" stroke="#27272a" stroke-width="2.27" />
<ellipse cx="700.9" cy="2305.7" rx="2.4" ry="1.9" fill="#888" stroke="#27272a" stroke-width="1.44" />
<ellipse cx="973.5" cy="2184.8" rx="14.5" ry="10.5" fill="none" stroke="#27272a" stroke-width="2.34" />
<ellipse cx="861.1" cy="2300.6" rx="17" ry="12.9" fill="#fff" stroke="#27272a" stroke-width="2.7" />
<ellipse cx="861.1" cy="2300.6" rx="12.6" ry="9.6" fill="none" stroke="#27272a" stroke-width="3.96" />
<ellipse cx="861.1" cy="2300.6" rx="8.2" ry="6.2" fill="none" stroke="#27272a" stroke-width="2.34" />
<ellipse cx="861.1" cy="2300.6" rx="4.1" ry="3.1" fill="#777" stroke="#27272a" stroke-width="2.16" />
<ellipse cx="761.8" cy="2288.8" rx="20.5" ry="15.6" fill="#fff" stroke="#27272a" stroke-width="2.7" />
<ellipse cx="761.8" cy="2288.8" rx="15.2" ry="11.5" fill="none" stroke="#27272a" stroke-width="3.96" />
<ellipse cx="761.8" cy="2288.8" rx="9.8" ry="7.5" fill="none" stroke="#27272a" stroke-width="2.34" />
<ellipse cx="761.8" cy="2288.8" rx="4.9" ry="3.7" fill="#777" stroke="#27272a" stroke-width="2.16" />
<ellipse cx="766.9" cy="2363.3" rx="26.5" ry="21" fill="#fff" stroke="#27272a" stroke-width="3.24" />
<ellipse cx="766.9" cy="2364.3" rx="23" ry="18" fill="none" stroke="#27272a" stroke-width="2.34" />
<ellipse cx="899.7" cy="2360.9" rx="16.5" ry="12.5" fill="#fff" stroke="#27272a" stroke-width="2.88" />
<ellipse cx="899.7" cy="2360.9" rx="12.5" ry="9.4" fill="none" stroke="#27272a" stroke-width="4.68" />
<ellipse cx="899.7" cy="2361.9" rx="1.2" ry="1" fill="#555" stroke="#27272a" stroke-width="1.44" />
<ellipse cx="868.5" cy="2442.9" rx="3.8" ry="3" fill="#fff" stroke="#27272a" stroke-width="2.52" />
<ellipse cx="878.7" cy="2439.5" rx="3.8" ry="3" fill="#fff" stroke="#27272a" stroke-width="2.52" />
<ellipse cx="888.9" cy="2436.1" rx="3.8" ry="3" fill="#fff" stroke="#27272a" stroke-width="2.52" />
<ellipse cx="899" cy="2432.7" rx="3.8" ry="3" fill="#fff" stroke="#27272a" stroke-width="2.52" />
<ellipse cx="909.2" cy="2429.3" rx="3.8" ry="3" fill="#fff" stroke="#27272a" stroke-width="2.52" />
<ellipse cx="917.7" cy="2426" rx="3.8" ry="3" fill="#fff" stroke="#27272a" stroke-width="2.52" />
<ellipse cx="926.1" cy="2422.6" rx="3.8" ry="3" fill="#fff" stroke="#27272a" stroke-width="2.52" />
<text transform="translate(995.6 2368.3) rotate(-52)" font-size="15.5" font-weight="bold" fill="#2e2e30" text-anchor="middle">3120</text>
<g id="leaders">
<line x1="336" y1="611" x2="333.8" y2="1084" stroke="#27272a" stroke-width="1.1" />
<line x1="346.3" y1="650" x2="344.3" y2="1078" stroke="#27272a" stroke-width="1.1" />
<line x1="357.2" y1="586" x2="354.8" y2="1090" stroke="#27272a" stroke-width="1.1" />
<line x1="257.7" y1="824" x2="256.6" y2="1066" stroke="#27272a" stroke-width="1.1" />
<line x1="256.6" y1="1066" x2="319.7" y2="1124" stroke="#27272a" stroke-width="1.1" />
<line x1="321.4" y1="912" x2="321" y2="1006" stroke="#27272a" stroke-width="1.1" />
<line x1="488" y1="846" x2="487.5" y2="950" stroke="#27272a" stroke-width="1.1" />
<line x1="487.4" y1="1005" x2="483.1" y2="1916.5" stroke="#27272a" stroke-width="1.1" />
<polyline points="483.1,1916.5 815.8,2091 818.2,2122" fill="none" stroke="#27272a" stroke-width="1.1" stroke-linejoin="round" stroke-linecap="round" />
<line x1="223" y1="1034" x2="222.8" y2="1070" stroke="#27272a" stroke-width="1.1" />
<line x1="222.8" y1="1070" x2="275.6" y2="1124" stroke="#27272a" stroke-width="1.1" />
<line x1="279.2" y1="1150" x2="274.7" y2="2116" stroke="#27272a" stroke-width="1.1" />
<polyline points="274.7,2116 606.2,2288 606.4,2302" fill="none" stroke="#27272a" stroke-width="1.1" stroke-linejoin="round" stroke-linecap="round" />
<line x1="287.7" y1="1150" x2="283.3" y2="2095.7" stroke="#27272a" stroke-width="1.1" />
<polyline points="283.3,2095.7 470,2192" fill="none" stroke="#27272a" stroke-width="1.1" stroke-linejoin="round" stroke-linecap="round" />
<polyline points="486,2200.5 617.5,2268.1 617.7,2322" fill="none" stroke="#27272a" stroke-width="1.1" stroke-linejoin="round" stroke-linecap="round" />
<line x1="318.9" y1="1150" x2="315" y2="1972" stroke="#27272a" stroke-width="1.1" />
<polyline points="315,1972 651.6,2150 652,2178" fill="none" stroke="#27272a" stroke-width="1.1" stroke-linejoin="round" stroke-linecap="round" />
<line x1="431" y1="1067" x2="426.7" y2="1990.4" stroke="#27272a" stroke-width="1.1" />
<polyline points="426.7,1990.4 760.5,2168 761.5,2204" fill="none" stroke="#27272a" stroke-width="1.1" stroke-linejoin="round" stroke-linecap="round" />
<polyline points="545.7,2170 545.7,2200.2 630.2,2244.5 630.4,2362" fill="none" stroke="#27272a" stroke-width="1.1" stroke-linejoin="round" stroke-linecap="round" />
<line x1="673.5" y1="1051" x2="673.1" y2="1140" stroke="#27272a" stroke-width="1.1" />
<line x1="672.4" y1="1140" x2="666.5" y2="2385" stroke="#27272a" stroke-width="1.1" />
<line x1="760.5" y1="973" x2="759.5" y2="1178" stroke="#27272a" stroke-width="1.1" />
<line x1="749.6" y1="1160" x2="744.2" y2="2316" stroke="#27272a" stroke-width="1.1" />
<line x1="759.4" y1="1160" x2="753.5" y2="2421" stroke="#27272a" stroke-width="1.1" />
<line x1="864.8" y1="923" x2="864.6" y2="960" stroke="#27272a" stroke-width="1.1" />
<line x1="793.7" y1="578" x2="791.7" y2="1012" stroke="#27272a" stroke-width="1.1" />
<line x1="833.7" y1="578" x2="831.8" y2="985" stroke="#27272a" stroke-width="1.1" />
<line x1="813.6" y1="800" x2="812.6" y2="1018" stroke="#27272a" stroke-width="1.1" />
<line x1="808.2" y1="1060" x2="802.2" y2="2328" stroke="#27272a" stroke-width="1.1" />
<line x1="812.4" y1="1060" x2="806.6" y2="2288" stroke="#27272a" stroke-width="1.1" />
<line x1="864.8" y1="1063" x2="859.4" y2="2206" stroke="#27272a" stroke-width="1.1" />
<line x1="869" y1="1063" x2="863.2" y2="2300" stroke="#27272a" stroke-width="1.1" />
<line x1="722.6" y1="1697" x2="719.8" y2="2288" stroke="#27272a" stroke-width="1.1" />
<line x1="766" y1="1716" x2="763.7" y2="2205" stroke="#27272a" stroke-width="1.1" />
<line x1="829.6" y1="1652" x2="826.8" y2="2255" stroke="#27272a" stroke-width="1.1" />
<polyline points="885,1060 959.7,1090.5 959.7,1151" fill="none" stroke="#27272a" stroke-width="1.1" stroke-linejoin="round" stroke-linecap="round" />
<line x1="959.5" y1="1186" x2="955.3" y2="2083" stroke="#27272a" stroke-width="1.1" />
<polyline points="955.3,2083 880.4,2111 881.6,2187" fill="none" stroke="#27272a" stroke-width="1.1" stroke-linejoin="round" stroke-linecap="round" />
<polyline points="1051,872 1051,890.6 881.8,929.6 881.8,990" fill="none" stroke="#27272a" stroke-width="1.1" stroke-linejoin="round" stroke-linecap="round" />
<line x1="1121" y1="1908" x2="1120.5" y2="2008" stroke="#27272a" stroke-width="1.1" />
<polyline points="1120.5,2008 973.7,2085.8 973.7,2172" fill="none" stroke="#27272a" stroke-width="1.1" stroke-linejoin="round" stroke-linecap="round" />
<line x1="1040.6" y1="1006" x2="1035.8" y2="2021" stroke="#27272a" stroke-width="1.1" />
<polyline points="1189.7,950 1040.6,1006" fill="none" stroke="#27272a" stroke-width="1.1" stroke-linejoin="round" stroke-linecap="round" />
<polyline points="1035.8,2021 961,2046" fill="none" stroke="#27272a" stroke-width="1.1" stroke-linejoin="round" stroke-linecap="round" />
<polyline points="950,2050 871.4,2077 871.4,2128" fill="none" stroke="#27272a" stroke-width="1.1" stroke-linejoin="round" stroke-linecap="round" />
<polyline points="1216.8,999.9 1084,1050.7 1083.4,1186.2 1122,1206.5" fill="none" stroke="#27272a" stroke-width="1.1" stroke-linejoin="round" stroke-linecap="round" />
<polyline points="1130.4,1211 1154,1224.6" fill="none" stroke="#27272a" stroke-width="1.1" stroke-linejoin="round" stroke-linecap="round" />
<polyline points="1162.6,1228.5 1216.8,1257.3" fill="none" stroke="#27272a" stroke-width="1.1" stroke-linejoin="round" stroke-linecap="round" />
<polyline points="1227,1262.7 1261.8,1281 1261.6,1312" fill="none" stroke="#27272a" stroke-width="1.1" stroke-linejoin="round" stroke-linecap="round" />
<polyline points="1261.4,1374 1261.3,1389.2 1377.7,1451.9" fill="none" stroke="#27272a" stroke-width="1.1" stroke-linejoin="round" stroke-linecap="round" />
<line x1="1377.7" y1="1451.9" x2="1375.4" y2="1949.2" stroke="#27272a" stroke-width="1.1" />
<polyline points="1375.4,1949.2 1345,1964" fill="none" stroke="#27272a" stroke-width="1.1" stroke-linejoin="round" stroke-linecap="round" />
<polyline points="1335,1968.5 1320,1975.5" fill="none" stroke="#27272a" stroke-width="1.1" stroke-linejoin="round" stroke-linecap="round" />
<polyline points="1237,1026 1125.3,1072.7" fill="none" stroke="#27272a" stroke-width="1.1" stroke-linejoin="round" stroke-linecap="round" />
<line x1="1125.3" y1="1072.7" x2="1124" y2="1343.5" stroke="#27272a" stroke-width="1.1" />
<polyline points="1124,1343.5 1154,1358.7" fill="none" stroke="#27272a" stroke-width="1.1" stroke-linejoin="round" stroke-linecap="round" />
<polyline points="1162.6,1363.8 1216.8,1392.6" fill="none" stroke="#27272a" stroke-width="1.1" stroke-linejoin="round" stroke-linecap="round" />
<polyline points="1227,1397.6 1284.5,1426.4 1284.4,1446" fill="none" stroke="#27272a" stroke-width="1.1" stroke-linejoin="round" stroke-linecap="round" />
<polyline points="1284.2,1504 1284.1,1521.3 1342,1551.8" fill="none" stroke="#27272a" stroke-width="1.1" stroke-linejoin="round" stroke-linecap="round" />
<line x1="1342" y1="1551.8" x2="1340" y2="1980" stroke="#27272a" stroke-width="1.1" />
<polyline points="1237,1063 1159.2,1094.7" fill="none" stroke="#27272a" stroke-width="1.1" stroke-linejoin="round" stroke-linecap="round" />
<line x1="1159.2" y1="1094.7" x2="1157.2" y2="1518" stroke="#27272a" stroke-width="1.1" />
<polyline points="1157.2,1518 1215,1546.7" fill="none" stroke="#27272a" stroke-width="1.1" stroke-linejoin="round" stroke-linecap="round" />
<polyline points="1227,1553.5 1273.7,1577 1273.6,1604" fill="none" stroke="#27272a" stroke-width="1.1" stroke-linejoin="round" stroke-linecap="round" />
<polyline points="1273.5,1648 1273.4,1689 1316.7,1712.8" fill="none" stroke="#27272a" stroke-width="1.1" stroke-linejoin="round" stroke-linecap="round" />
<line x1="1316.7" y1="1712.8" x2="1315.1" y2="2053.6" stroke="#27272a" stroke-width="1.1" />
<line x1="1223.5" y1="999" x2="1222.7" y2="1173" stroke="#27272a" stroke-width="1.1" />
<line x1="1222.8" y1="1232" x2="1219" y2="2046.9" stroke="#27272a" stroke-width="1.1" />
<polyline points="1391.9,934 1391.9,977.9 1345.5,994.8" fill="none" stroke="#27272a" stroke-width="1.1" stroke-linejoin="round" stroke-linecap="round" />
<line x1="1345.5" y1="994.8" x2="1344.6" y2="1177.7" stroke="#27272a" stroke-width="1.1" />
<line x1="1344.6" y1="1177.7" x2="1443.9" y2="1230.2" stroke="#27272a" stroke-width="1.1" />
<line x1="1443.9" y1="1230.2" x2="1440.3" y2="1999.4" stroke="#27272a" stroke-width="1.1" />
<line x1="1440.3" y1="1999.4" x2="1005.9" y2="2231.4" stroke="#27272a" stroke-width="1.1" />
<line x1="1337" y1="1073" x2="1336.3" y2="1213.3" stroke="#27272a" stroke-width="1.1" />
<line x1="1336.3" y1="1213.3" x2="1408.8" y2="1252.2" stroke="#27272a" stroke-width="1.1" />
<line x1="1408.8" y1="1252.2" x2="1405.4" y2="1984" stroke="#27272a" stroke-width="1.1" />
<polyline points="1405.4,1984 1386,1995.4" fill="none" stroke="#27272a" stroke-width="1.1" stroke-linejoin="round" stroke-linecap="round" />
<polyline points="1221,1980 980.5,2106" fill="none" stroke="#27272a" stroke-width="1.1" stroke-linejoin="round" stroke-linecap="round" />
<polyline points="1310.7,1982.5 1221,2030 982.2,2162" fill="none" stroke="#27272a" stroke-width="1.1" stroke-linejoin="round" stroke-linecap="round" />
<polyline points="1315.8,2038.4 994,2197.6" fill="none" stroke="#27272a" stroke-width="1.1" stroke-linejoin="round" stroke-linecap="round" />
<polyline points="1315.8,2052 1000.8,2211.1" fill="none" stroke="#27272a" stroke-width="1.1" stroke-linejoin="round" stroke-linecap="round" />
<polyline points="1366.6,2010 1320.9,2031.6" fill="none" stroke="#27272a" stroke-width="1.1" stroke-linejoin="round" stroke-linecap="round" />
<polyline points="1339.5,1947 1339.5,2009.6 1320.9,2018.7" fill="none" stroke="#27272a" stroke-width="1.1" stroke-linejoin="round" stroke-linecap="round" />
<polyline points="1407.2,1930 1407.2,1984.2 1386.9,1996" fill="none" stroke="#27272a" stroke-width="1.1" stroke-linejoin="round" stroke-linecap="round" />
<line x1="1683" y1="1274" x2="1682.6" y2="1362" stroke="#27272a" stroke-width="1.1" />
<line x1="1682.4" y1="1405" x2="1678.7" y2="2193.6" stroke="#27272a" stroke-width="1.1" />
<polyline points="1678.7,2193.6 1602.7,2204.4" fill="none" stroke="#27272a" stroke-width="1.1" stroke-linejoin="round" stroke-linecap="round" />
<polyline points="1590.4,2207.4 1575.6,2209.4" fill="none" stroke="#27272a" stroke-width="1.1" stroke-linejoin="round" stroke-linecap="round" />
<polyline points="1565.8,2210.8 1558.4,2212.3" fill="none" stroke="#27272a" stroke-width="1.1" stroke-linejoin="round" stroke-linecap="round" />
<polyline points="1543.6,2213.3 1004,2233" fill="none" stroke="#27272a" stroke-width="1.1" stroke-linejoin="round" stroke-linecap="round" />
<line x1="1606" y1="1296" x2="1605.5" y2="1396" stroke="#27272a" stroke-width="1.1" />
<line x1="1605.4" y1="1440" x2="1605.2" y2="1480" stroke="#27272a" stroke-width="1.1" />
<line x1="1609.5" y1="1497" x2="1609" y2="1600" stroke="#27272a" stroke-width="1.1" />
<line x1="1547" y1="1339" x2="1546.5" y2="1440" stroke="#27272a" stroke-width="1.1" />
<line x1="1546.6" y1="1470" x2="1542.8" y2="2282" stroke="#27272a" stroke-width="1.1" />
<line x1="1542.8" y1="2282" x2="1024" y2="2334" stroke="#27272a" stroke-width="1.1" />
<line x1="1500.9" y1="1405" x2="1496.6" y2="2309.4" stroke="#27272a" stroke-width="1.1" />
<line x1="1496.6" y1="2309.4" x2="1003" y2="2374" stroke="#27272a" stroke-width="1.1" />
<line x1="1591.6" y1="1512" x2="1591.2" y2="1600" stroke="#27272a" stroke-width="1.1" />
<line x1="1576" y1="1418" x2="1572.1" y2="2242.8" stroke="#27272a" stroke-width="1.1" />
<line x1="1572.1" y1="2242.8" x2="1031" y2="2300" stroke="#27272a" stroke-width="1.1" />
<line x1="1599.4" y1="1884" x2="1597.7" y2="2247.8" stroke="#27272a" stroke-width="1.1" />
<line x1="1597.7" y1="2247.8" x2="1031" y2="2292" stroke="#27272a" stroke-width="1.1" />
<line x1="1548" y1="1861" x2="1547.8" y2="1900" stroke="#27272a" stroke-width="1.1" />
<line x1="1554.8" y1="1990" x2="1553.6" y2="2240" stroke="#27272a" stroke-width="1.1" />
<line x1="1553.6" y1="2240" x2="1031" y2="2283" stroke="#27272a" stroke-width="1.1" />
<polyline points="1335.7,2193.6 1335.7,2212.3 1006.6,2232" fill="none" stroke="#27272a" stroke-width="1.1" stroke-linejoin="round" stroke-linecap="round" />
<polyline points="1370.2,2174 1370.2,2220.7 1028.8,2252.7" fill="none" stroke="#27272a" stroke-width="1.1" stroke-linejoin="round" stroke-linecap="round" />
<line x1="1031" y1="2283" x2="951.5" y2="2246.4" stroke="#27272a" stroke-width="1.0" />
<line x1="1031" y1="2292" x2="934.6" y2="2263.4" stroke="#27272a" stroke-width="1.0" />
<line x1="1031" y1="2300" x2="980.3" y2="2287.1" stroke="#27272a" stroke-width="1.0" />
<line x1="1024" y1="2334" x2="899.7" y2="2341.3" stroke="#27272a" stroke-width="1.0" />
<line x1="1003" y1="2374" x2="827.9" y2="2402.2" stroke="#27272a" stroke-width="1.0" />
<line x1="1004" y1="2233" x2="993.9" y2="2216.6" stroke="#27272a" stroke-width="1.0" />
<line x1="1028.8" y1="2252.7" x2="1007.4" y2="2244.8" stroke="#27272a" stroke-width="1.0" />
<line x1="1000.8" y1="2211.1" x2="922.7" y2="2200.7" stroke="#27272a" stroke-width="1.0" />
<line x1="994" y1="2197.6" x2="882.1" y2="2188.9" stroke="#27272a" stroke-width="1.0" />
<line x1="982.2" y1="2162" x2="882.1" y2="2161.8" stroke="#27272a" stroke-width="1.0" />
<polyline points="899.7,2341.3 899.7,2359.9" fill="none" stroke="#27272a" stroke-width="1.1" stroke-linejoin="round" stroke-linecap="round" />
<polyline points="827.9,2402.2 827.9,2414.1" fill="none" stroke="#27272a" stroke-width="1.1" stroke-linejoin="round" stroke-linecap="round" />
</g>
<path d="M354.5 575.8 L354.5 583.9 Q357.2 587.8 359.9 583.9 L359.9 575.8" fill="#fff" stroke="#27272a" stroke-width="1.58" stroke-linejoin="round" stroke-linecap="round" />
<path d="M350.7 573.5 L350.7 577.1 A6.5 4.5 0 0 0 363.7 577.1 L363.7 573.5" fill="#555" stroke="#3a3a3c" stroke-width="1.98" stroke-linejoin="round" stroke-linecap="round" />
<ellipse cx="357.2" cy="573.5" rx="6.5" ry="4.5" fill="#9a9a9a" stroke="#3a3a3c" stroke-width="2.38" />
<line x1="353.3" y1="573.8" x2="361.1" y2="572.9" stroke="#f2f2f2" stroke-width="1.6" />
<path d="M333.5 602.5 L333.5 610.6 Q336.2 614.5 338.9 610.6 L338.9 602.5" fill="#fff" stroke="#27272a" stroke-width="1.58" stroke-linejoin="round" stroke-linecap="round" />
<path d="M329.7 600.2 L329.7 603.8 A6.5 4.5 0 0 0 342.7 603.8 L342.7 600.2" fill="#555" stroke="#3a3a3c" stroke-width="1.98" stroke-linejoin="round" stroke-linecap="round" />
<ellipse cx="336.2" cy="600.2" rx="6.5" ry="4.5" fill="#9a9a9a" stroke="#3a3a3c" stroke-width="2.38" />
<line x1="332.3" y1="600.5" x2="340.1" y2="599.6" stroke="#f2f2f2" stroke-width="1.6" />
<path d="M313.8 664.5 L313.8 668.5 A33 26 0 0 0 379.8 668.5 L379.8 664.5" fill="#fff" stroke="#27272a" stroke-width="1.58" stroke-linejoin="round" stroke-linecap="round" />
<ellipse cx="346.8" cy="664.5" rx="33" ry="25.5" fill="#fff" stroke="#27272a" stroke-width="1.72" />
<ellipse cx="354.8" cy="650.2" rx="5.6" ry="4" fill="none" stroke="#27272a" stroke-width="1.58" />
<ellipse cx="354.8" cy="650.8" rx="2.8" ry="2" fill="#777" stroke="#27272a" stroke-width="1.32" />
<ellipse cx="334.4" cy="676.8" rx="5.6" ry="4" fill="none" stroke="#27272a" stroke-width="1.58" />
<ellipse cx="334.4" cy="677.4" rx="2.8" ry="2" fill="#777" stroke="#27272a" stroke-width="1.32" />
<ellipse cx="346.6" cy="664.6" rx="4.6" ry="3.3" fill="none" stroke="#27272a" stroke-width="1.58" />
<line x1="336" y1="611" x2="333.8" y2="1084" stroke="#27272a" stroke-width="1.1" />
<line x1="357.2" y1="586" x2="354.8" y2="1090" stroke="#27272a" stroke-width="1.1" />
<line x1="346.3" y1="690" x2="344.5" y2="1078" stroke="#27272a" stroke-width="1.1" />
<path d="M383.1 784.5 L388.3 785.4 L388.2 787.1 L382.9 787.5 L382.6 788.9 L387.6 790.6 L387.1 792.3 L381.8 791.9 L381.3 793.3 L385.8 795.7 L385.1 797.3 L379.9 796.1 L379 797.5 L383.1 800.5 L382 802 L377.1 800.2 L376 801.4 L379.5 804.9 L378.1 806.3 L373.5 803.9 L372.2 805 L375 808.8 L373.4 810 L369.2 807.2 L367.7 808.2 L369.8 812.1 L368 813.1 L364.4 810 L362.7 810.9 L364 814.8 L362.1 815.4 L359.1 812.3 L357.3 813 L357.8 816.6 L355.7 817.1 L353.5 814 L351.6 814.4 L351.3 817.7 L349.1 817.9 L347.7 815 L345.8 815.1 L344.6 818 L342.5 817.9 L341.9 814.7 L340 814.4 L338 817.4 L335.9 817.1 L336.1 813.5 L334.3 813 L331.6 816.1 L329.5 815.4 L330.6 811.6 L328.9 810.9 L325.5 813.9 L323.6 813.1 L325.4 809.1 L323.9 808.2 L319.9 811.1 L318.2 810 L320.8 806.1 L319.4 805 L314.9 807.5 L313.5 806.3 L316.8 802.6 L315.6 801.4 L310.7 803.4 L309.6 802 L313.5 798.8 L312.6 797.5 L307.4 798.9 L306.5 797.3 L311 794.7 L310.3 793.3 L305 794 L304.5 792.3 L309.3 790.4 L309 788.9 L303.7 788.8 L303.4 787.1 L308.5 785.9 L308.5 784.5 L303.3 783.6 L303.4 781.9 L308.7 781.5 L309 780.1 L304 778.4 L304.5 776.7 L309.8 777.1 L310.3 775.7 L305.8 773.3 L306.5 771.7 L311.7 772.9 L312.6 771.5 L308.5 768.5 L309.6 767 L314.5 768.8 L315.6 767.6 L312.1 764.1 L313.5 762.7 L318.1 765.1 L319.4 764 L316.6 760.2 L318.2 759 L322.4 761.8 L323.9 760.8 L321.8 756.9 L323.6 755.9 L327.2 759 L328.9 758.1 L327.6 754.2 L329.5 753.6 L332.5 756.7 L334.3 756 L333.8 752.4 L335.9 751.9 L338.1 755 L340 754.6 L340.3 751.3 L342.5 751.1 L343.9 754 L345.8 753.9 L347 751 L349.1 751.1 L349.7 754.3 L351.6 754.6 L353.6 751.6 L355.7 751.9 L355.5 755.5 L357.3 756 L360 752.9 L362.1 753.6 L361 757.4 L362.7 758.1 L366.1 755.1 L368 755.9 L366.2 759.9 L367.7 760.8 L371.7 757.9 L373.4 759 L370.8 762.9 L372.2 764 L376.7 761.5 L378.1 762.7 L374.8 766.4 L376 767.6 L380.9 765.6 L382 767 L378.1 770.2 L379 771.5 L384.2 770.1 L385.1 771.7 L380.6 774.3 L381.3 775.7 L386.6 775 L387.1 776.7 L382.3 778.6 L382.6 780.1 L387.9 780.2 L388.2 781.9 L383.1 783.1Z" fill="#fff" stroke="#27272a" stroke-width="1.45" stroke-linejoin="round" stroke-linecap="round" />
<path d="M383.1 781 L388.3 781.9 L388.2 783.6 L382.9 784 L382.6 785.4 L387.6 787.1 L387.1 788.8 L381.8 788.4 L381.3 789.8 L385.8 792.2 L385.1 793.8 L379.9 792.6 L379 794 L383.1 797 L382 798.5 L377.1 796.7 L376 797.9 L379.5 801.4 L378.1 802.8 L373.5 800.4 L372.2 801.5 L375 805.3 L373.4 806.5 L369.2 803.7 L367.7 804.7 L369.8 808.6 L368 809.6 L364.4 806.5 L362.7 807.4 L364 811.3 L362.1 811.9 L359.1 808.8 L357.3 809.5 L357.8 813.1 L355.7 813.6 L353.5 810.5 L351.6 810.9 L351.3 814.2 L349.1 814.4 L347.7 811.5 L345.8 811.6 L344.6 814.5 L342.5 814.4 L341.9 811.2 L340 810.9 L338 813.9 L335.9 813.6 L336.1 810 L334.3 809.5 L331.6 812.6 L329.5 811.9 L330.6 808.1 L328.9 807.4 L325.5 810.4 L323.6 809.6 L325.4 805.6 L323.9 804.7 L319.9 807.6 L318.2 806.5 L320.8 802.6 L319.4 801.5 L314.9 804 L313.5 802.8 L316.8 799.1 L315.6 797.9 L310.7 799.9 L309.6 798.5 L313.5 795.3 L312.6 794 L307.4 795.4 L306.5 793.8 L311 791.2 L310.3 789.8 L305 790.5 L304.5 788.8 L309.3 786.9 L309 785.4 L303.7 785.3 L303.4 783.6 L308.5 782.4 L308.5 781 L303.3 780.1 L303.4 778.4 L308.7 778 L309 776.6 L304 774.9 L304.5 773.2 L309.8 773.6 L310.3 772.2 L305.8 769.8 L306.5 768.2 L311.7 769.4 L312.6 768 L308.5 765 L309.6 763.5 L314.5 765.3 L315.6 764.1 L312.1 760.6 L313.5 759.2 L318.1 761.6 L319.4 760.5 L316.6 756.7 L318.2 755.5 L322.4 758.3 L323.9 757.3 L321.8 753.4 L323.6 752.4 L327.2 755.5 L328.9 754.6 L327.6 750.7 L329.5 750.1 L332.5 753.2 L334.3 752.5 L333.8 748.9 L335.9 748.4 L338.1 751.5 L340 751.1 L340.3 747.8 L342.5 747.6 L343.9 750.5 L345.8 750.4 L347 747.5 L349.1 747.6 L349.7 750.8 L351.6 751.1 L353.6 748.1 L355.7 748.4 L355.5 752 L357.3 752.5 L360 749.4 L362.1 750.1 L361 753.9 L362.7 754.6 L366.1 751.6 L368 752.4 L366.2 756.4 L367.7 757.3 L371.7 754.4 L373.4 755.5 L370.8 759.4 L372.2 760.5 L376.7 758 L378.1 759.2 L374.8 762.9 L376 764.1 L380.9 762.1 L382 763.5 L378.1 766.7 L379 768 L384.2 766.6 L385.1 768.2 L380.6 770.8 L381.3 772.2 L386.6 771.5 L387.1 773.2 L382.3 775.1 L382.6 776.6 L387.9 776.7 L388.2 778.4 L383.1 779.6Z" fill="#fff" stroke="#27272a" stroke-width="1.58" stroke-linejoin="round" stroke-linecap="round" />
<ellipse cx="345.8" cy="781" rx="35.5" ry="27.2" fill="none" stroke="#27272a" stroke-width="1.58" />
<ellipse cx="345.8" cy="781.5" rx="31" ry="23.5" fill="none" stroke="#27272a" stroke-width="2.11" />
<ellipse cx="345.8" cy="782.5" rx="26.5" ry="20" fill="#fff" stroke="#27272a" stroke-width="1.58" />
<line x1="335.2" y1="756" x2="334.5" y2="900" stroke="#27272a" stroke-width="1.1" />
<line x1="345.5" y1="756" x2="344.8" y2="900" stroke="#27272a" stroke-width="1.1" />
<line x1="356.3" y1="756" x2="355.6" y2="900" stroke="#27272a" stroke-width="1.1" />
<path d="M0 0 Q15.1 -2.5 31.3 -8.4 A8.7 8.7 0 1 1 31.3 8.4 Q15.1 2.5 0 0Z" transform="translate(362 757.4) rotate(-45)" fill="#2565ae" stroke="none" stroke-width="1.4"/>
<g>
<path d="M253.1 812.3 L253.1 818.5 Q253.1 820 255.1 820 L255.1 823.2 Q255.1 824.4 257.7 824.8 L260.3 823.2 Q260.3 824.4 260.3 823.2 L260.3 820 Q262.3 820 262.3 818.5 L262.3 812.3" fill="#fff" stroke="#27272a" stroke-width="1.65" stroke-linejoin="round" stroke-linecap="round" />
<line x1="255.1" y1="820" x2="260.3" y2="820" stroke="#27272a" stroke-width="1.0" />
<path d="M247.2 805.5 L247.2 808.2 A10.5 7.3 0 0 0 268.2 808.2 L268.2 805.5" fill="#fff" stroke="#27272a" stroke-width="1.98" stroke-linejoin="round" stroke-linecap="round" />
<ellipse cx="257.7" cy="805.5" rx="10.5" ry="7.3" fill="#fff" stroke="#27272a" stroke-width="1.98" />
<line x1="257.6" y1="798.3" x2="254.7" y2="814.8" stroke="#27272a" stroke-width="1.25" />
<line x1="259.7" y1="798.3" x2="256.7" y2="814.8" stroke="#27272a" stroke-width="1.25" />
</g>
<path d="M240.1 880.5 C240.1 877.5 240.9 873.5 243.5 871 C246 868.5 251.1 866 255.3 865.2 C259.6 864.5 265.4 866.7 268.9 866.3 C272.4 865.9 274.6 862.8 276.3 862.9 C278 863 277.6 866.5 279 866.9 C280.5 867.3 283.1 865 285.1 865.2 C287.1 865.5 290.7 866.7 290.9 868.6 C291.1 870.6 288.5 874.6 286.5 877.1 C284.5 879.6 282.2 881.3 279 883.9 C275.8 886.4 271.4 890.8 267.2 892.3 C262.9 893.9 257.6 893.9 253.6 893.4 C249.7 892.8 245.7 891.1 243.5 889 C241.2 886.8 240.1 883.5 240.1 880.5Z" fill="#fff" stroke="#27272a" stroke-width="1.72" stroke-linejoin="round" stroke-linecap="round" />
<path d="M241.1 883.2 C242.1 884.4 243.6 888.7 246.9 890.6 C250.1 892.6 255.9 894.8 260.4 894.7 C264.9 894.6 269.7 892.5 273.9 890 C278.2 887.5 283.8 881.5 285.8 879.8" fill="none" stroke="#27272a" stroke-width="1.45" stroke-linejoin="round" stroke-linecap="round" />
<ellipse cx="256" cy="877.8" rx="11.5" ry="7.8" fill="none" stroke="#27272a" stroke-width="1.72" />
<ellipse cx="256" cy="879.1" rx="6.5" ry="4.2" fill="none" stroke="#27272a" stroke-width="1.58" />
<path d="M260.4 916 C258.1 916.6 250 917.5 246.9 919.4 C243.7 921.4 241.5 925.2 241.8 927.9 C242.1 930.6 244.9 933.8 248.5 935.4 C252.2 936.9 259.3 938.1 263.8 937.4 C268.3 936.7 272.8 933.9 275.6 931.3 C278.5 928.7 279.9 923.4 280.7 921.8" fill="none" stroke="#27272a" stroke-width="2.11" stroke-linejoin="round" stroke-linecap="round" />
<path d="M258 915 C258.4 916.3 260.2 919.5 260.4 922.8 C260.6 926.1 259.6 932.7 259.4 934.7" fill="none" stroke="#27272a" stroke-width="1.32" stroke-linejoin="round" stroke-linecap="round" />
<g>
<path d="M482.5 834.5 L482.5 841.5 Q482.5 843.3 484.9 843.3 L484.9 847 Q484.9 848.5 488 849 L491.1 847 Q491.1 848.5 491.1 847 L491.1 843.3 Q493.5 843.3 493.5 841.5 L493.5 834.5" fill="#fff" stroke="#27272a" stroke-width="1.65" stroke-linejoin="round" stroke-linecap="round" />
<line x1="484.9" y1="843.3" x2="491.1" y2="843.3" stroke="#27272a" stroke-width="1.0" />
<path d="M475.5 826 L475.5 829.2 A12.5 8.8 0 0 0 500.5 829.2 L500.5 826" fill="#fff" stroke="#27272a" stroke-width="1.98" stroke-linejoin="round" stroke-linecap="round" />
<ellipse cx="488" cy="826" rx="12.5" ry="8.8" fill="#fff" stroke="#27272a" stroke-width="1.98" />
<line x1="477.5" y1="823.2" x2="498.5" y2="827.4" stroke="#2f2f31" stroke-width="3.5" stroke-linecap="round"/>
</g>
<g>
<path d="M315.9 900 L315.9 907 Q315.9 908.8 318.3 908.8 L318.3 912.5 Q318.3 914 321.4 914.5 L324.5 912.5 Q324.5 914 324.5 912.5 L324.5 908.8 Q326.9 908.8 326.9 907 L326.9 900" fill="#fff" stroke="#27272a" stroke-width="1.65" stroke-linejoin="round" stroke-linecap="round" />
<line x1="318.3" y1="908.8" x2="324.5" y2="908.8" stroke="#27272a" stroke-width="1.0" />
<path d="M308.9 891.5 L308.9 894.8 A12.5 8.8 0 0 0 333.9 894.8 L333.9 891.5" fill="#fff" stroke="#27272a" stroke-width="1.98" stroke-linejoin="round" stroke-linecap="round" />
<ellipse cx="321.4" cy="891.5" rx="12.5" ry="8.8" fill="#fff" stroke="#27272a" stroke-width="1.98" />
<line x1="310.9" y1="888.8" x2="331.9" y2="892.9" stroke="#2f2f31" stroke-width="3.5" stroke-linecap="round"/>
</g>
<g>
<path d="M217.5 1018 L217.5 1025 Q217.5 1026.8 219.9 1026.8 L219.9 1030.5 Q219.9 1032 223 1032.5 L226.1 1030.5 Q226.1 1032 226.1 1030.5 L226.1 1026.8 Q228.5 1026.8 228.5 1025 L228.5 1018" fill="#fff" stroke="#27272a" stroke-width="1.65" stroke-linejoin="round" stroke-linecap="round" />
<line x1="219.9" y1="1026.8" x2="226.1" y2="1026.8" stroke="#27272a" stroke-width="1.0" />
<path d="M210.5 1009.5 L210.5 1012.8 A12.5 8.8 0 0 0 235.5 1012.8 L235.5 1009.5" fill="#fff" stroke="#27272a" stroke-width="1.98" stroke-linejoin="round" stroke-linecap="round" />
<ellipse cx="223" cy="1009.5" rx="12.5" ry="8.8" fill="#fff" stroke="#27272a" stroke-width="1.98" />
<line x1="212.5" y1="1006.8" x2="233.5" y2="1010.9" stroke="#2f2f31" stroke-width="3.5" stroke-linecap="round"/>
</g>
<path d="M535.8 989.1 L539 990.2 L538.9 992.1 L535.6 992.6 L535.4 994.3 L538.3 996.1 L537.8 998 L534.5 997.7 L534 999.3 L536.4 1001.6 L535.6 1003.3 L532.6 1002.4 L531.7 1003.8 L533.6 1006.5 L532.5 1007.8 L529.8 1006.4 L528.8 1007.6 L529.9 1010.3 L528.6 1011.2 L526.5 1009.6 L525.3 1010.4 L525.7 1012.8 L524.2 1013.4 L522.8 1011.6 L521.5 1012 L521.1 1014 L519.5 1014.1 L518.9 1012.3 L517.6 1012 L516.4 1013.8 L514.9 1013.4 L515 1011 L513.8 1010.4 L511.9 1012.1 L510.5 1011.2 L511.4 1008.6 L510.3 1007.6 L507.8 1009.1 L506.6 1007.8 L508.2 1005.1 L507.3 1003.8 L504.4 1004.9 L503.5 1003.3 L505.8 1000.8 L505.1 999.3 L501.9 999.8 L501.3 998 L504.1 996 L503.7 994.3 L500.4 994.1 L500.2 992.1 L503.3 990.8 L503.2 989.1 L500.1 988 L500.2 986.1 L503.5 985.6 L503.7 983.9 L500.8 982.1 L501.3 980.2 L504.6 980.5 L505.1 978.9 L502.7 976.6 L503.5 974.9 L506.5 975.8 L507.3 974.4 L505.5 971.7 L506.6 970.4 L509.3 971.8 L510.3 970.6 L509.2 967.9 L510.5 967 L512.6 968.6 L513.8 967.8 L513.4 965.4 L514.9 964.8 L516.3 966.6 L517.6 966.2 L518 964.2 L519.5 964.1 L520.2 965.9 L521.5 966.2 L522.7 964.4 L524.2 964.8 L524.1 967.2 L525.3 967.8 L527.2 966.1 L528.6 967 L527.7 969.6 L528.8 970.6 L531.3 969.1 L532.5 970.4 L530.9 973.1 L531.7 974.4 L534.7 973.3 L535.6 974.9 L533.3 977.4 L534 978.9 L537.2 978.4 L537.8 980.2 L535 982.2 L535.4 983.9 L538.7 984.2 L538.9 986.1 L535.8 987.4Z" fill="#fff" stroke="#27272a" stroke-width="1.45" stroke-linejoin="round" stroke-linecap="round" />
<ellipse cx="519.5" cy="989.1" rx="15" ry="20.5" fill="none" stroke="#27272a" stroke-width="1.32" />
<polyline points="533.2,1002.7 529.4,1001 529.2,1005.1 525.5,1003.4 525.3,1007.5 521.5,1005.7 521.3,1009.8 517.6,1008.1 517.4,1012.2 513.6,1010.5 513.4,1014.6 509.6,1012.9 509.5,1017 505.7,1015.4 505.6,1019.5 501.9,1017.9 501.8,1022" fill="none" stroke="#27272a" stroke-width="1.32" stroke-linejoin="round" stroke-linecap="round" />
<polyline points="428.5,1064.1 425.1,1061.9 424.7,1065.9 421.3,1063.7 420.9,1067.7 417.5,1065.5 417.1,1069.6 413.7,1067.5 413.4,1071.5 410,1069.5 409.7,1073.5 406.2,1071.5 406,1075.5 402.5,1073.5 402.3,1077.5" fill="none" stroke="#27272a" stroke-width="1.32" stroke-linejoin="round" stroke-linecap="round" />
<path d="M278.7 1182.8 C276.8 1178.4 270.4 1165.5 267.2 1156.6 C264.1 1147.7 261.6 1138.1 259.9 1129.4 C258.1 1120.7 257.1 1112.6 256.8 1104.3 C256.4 1095.9 256.8 1087.5 257.8 1079.1 C258.8 1070.8 260.4 1062.4 263 1054 C265.7 1045.6 269.3 1036.9 273.5 1028.9 C277.7 1020.9 282.2 1013.2 288.2 1005.9 C294.1 998.5 301.4 991.2 309.1 984.9 C316.8 978.6 324.8 973.4 334.2 968.2 C343.7 962.9 354.1 957.7 365.6 953.5 C377.2 949.3 390.8 945.7 403.3 943 C415.9 940.4 428.8 939 441 937.8 C453.2 936.6 465.2 935.9 476.6 935.7 C488.1 935.5 504.2 936.6 509.7 936.8 L511.4 945.1 L514.7 965 L521.6 980.7 L532.1 997.9 L510.1 1009 L485 1025.7 L457.8 1042.5 L432.6 1056.1 L415.9 1064.5 L401.7 1072.4 L400.2 1076 L391.2 1079.1 L389.1 1087.5 L378.2 1098 L374 1107.4 L360.4 1116.8 L353.1 1126.3 L346.8 1129.4 L349.3 1139.9 L335.3 1162.9 L320 1181.8 L302.8 1175.9 L290.3 1179.7Z" fill="#fff" stroke="#27272a" stroke-width="1.85" stroke-linejoin="round" stroke-linecap="round" />
<path d="M530 999.6 C526.4 1001.8 515.9 1008.2 508 1013.2 C500.2 1018.1 491.6 1023.9 482.9 1029.3 C474.2 1034.7 464.4 1040.6 455.7 1045.6 C447 1050.6 437.4 1055.7 430.6 1059.3 C423.7 1062.8 419.4 1064.8 414.8 1067.2 C410.3 1069.7 405.3 1072.8 403.3 1073.9" fill="none" stroke="#27272a" stroke-width="1.32" stroke-linejoin="round" stroke-linecap="round" />
<path d="M518.5 982.8 C514 986.1 501.1 995.9 491.3 1002.7 C481.5 1009.5 470.3 1016.8 459.9 1023.7 C449.4 1030.5 437.2 1038.1 428.5 1043.5 C419.7 1049 412.9 1052.6 407.5 1056.1 C402.1 1059.6 397.9 1063.1 396 1064.5" fill="none" stroke="#27272a" stroke-width="1.45" stroke-linejoin="round" stroke-linecap="round" />
<path d="M309.1 1162.9 C307.7 1158.4 302.9 1144.8 300.7 1135.7 C298.6 1126.6 296.5 1117.5 296.1 1108.5 C295.8 1099.4 296.7 1090.3 298.6 1081.2 C300.5 1072.2 303.2 1062.7 307.4 1054 C311.6 1045.3 316.8 1037.3 323.8 1028.9 C330.7 1020.5 338.4 1011.7 348.9 1003.8 C359.4 995.8 371.9 987.7 386.6 981.1 C401.2 974.6 428.3 967.7 436.8 964.4 C445.4 961 433 962.1 437.9 961 C442.8 960 457.3 958.4 466.2 958.1 C475.1 957.8 483.2 958.2 491.3 959.4 C499.4 960.5 510.8 964.1 514.7 965" fill="none" stroke="#27272a" stroke-width="1.58" stroke-linejoin="round" stroke-linecap="round" />
<path d="M320 1181.8 C318.2 1177.6 312 1165.3 309.1 1156.6 C306.2 1147.9 304.1 1137.4 302.8 1129.4 C301.5 1121.4 301.1 1115.4 301.1 1108.5 C301.1 1101.5 301.3 1094.8 302.8 1087.5 C304.3 1080.2 307.9 1070.1 310.1 1064.5 C312.4 1058.9 315.4 1055.8 316.4 1054" fill="none" stroke="#27272a" stroke-width="1.45" stroke-linejoin="round" stroke-linecap="round" />
<path d="M316.4 1054 C318.7 1050.7 323.9 1041.1 330 1034.1 C336.1 1027.1 343.7 1019.5 353.1 1012.1 C362.5 1004.8 373.8 996.6 386.6 990.1 C399.3 983.7 421.5 977 429.5 973.4 C437.5 969.8 427.9 970.1 434.7 968.6 C441.5 967.1 460 964.7 470.3 964.4 C480.6 964 489.5 965.2 496.5 966.5 C503.5 967.8 509.6 971.4 512.2 972.4" fill="none" stroke="#27272a" stroke-width="1.45" stroke-linejoin="round" stroke-linecap="round" />
<path d="M386.6 979.7 C389.5 977.8 399.7 973.3 407.5 971.3 C415.4 969.3 429.3 967.9 433.7 967.7 C438.1 967.6 437.7 969.1 433.7 970.3 C429.7 971.4 416.9 972.8 409.6 974.9 C402.3 977 393.6 982 389.7 982.8 C385.9 983.6 383.6 981.6 386.6 979.7Z" fill="none" stroke="#27272a" stroke-width="1.32" stroke-linejoin="round" stroke-linecap="round" />
<path d="M338.4 1028.9 C341.6 1026.3 349.9 1018.2 357.3 1013.2 C364.6 1008.1 373 1003.2 382.4 998.5 C391.8 993.9 402.6 988.9 413.8 985.3 C425 981.7 435.8 978.9 449.4 977 C463 975 487.8 974 495.5 973.4 L494.4 982.8 C487.3 983.4 464.2 984.6 451.5 986.6 C438.8 988.6 428.6 991.4 418 995 C407.3 998.5 396.4 1003.7 387.6 1007.9 C378.9 1012.2 372.1 1016 365.6 1020.5 C359.2 1025 351.7 1032.4 348.9 1034.8Z" fill="#fff" stroke="#27272a" stroke-width="1.58" stroke-linejoin="round" stroke-linecap="round" />
<g font-size="6.2" font-weight="bold" fill="#2e2e30">
<text transform="translate(357.3 1023.6) rotate(-34) scale(-1,1)" text-anchor="middle">JEWELS</text>
<text transform="translate(395 1001.2) rotate(-24) scale(-1,1)" text-anchor="middle">FORTY (40)</text>
<text transform="translate(462 983.1) rotate(-7) scale(-1,1)" text-anchor="middle">SWISS MADE</text>
</g>
<path d="M367.7 1041.5 C370.9 1038.7 379.3 1029.9 386.6 1024.7 C393.9 1019.5 406.1 1011.1 411.7 1010 C417.3 1009 417.3 1018.1 420.1 1018.4 C422.9 1018.8 423.6 1014.8 428.5 1012.1 C433.3 1009.5 440.7 1005.5 449.4 1002.7 C458.1 999.9 469.3 998.7 480.8 995.4 C492.3 992.1 512.2 984.9 518.5 982.8" fill="none" stroke="#27272a" stroke-width="1.58" stroke-linejoin="round" stroke-linecap="round" />
<path d="M312.2 1054 C314.9 1052.8 321.8 1048.2 327.9 1046.7 C334.1 1045.2 344 1045 348.9 1045.2 C353.8 1045.4 354.5 1048 357.3 1047.7 C360.1 1047.5 362.5 1043.2 365.6 1043.5 C368.8 1043.9 372.4 1046.7 376.1 1049.8 C379.8 1053 384.7 1058 387.6 1062.4 C390.6 1066.8 392.9 1073.7 393.9 1076" fill="none" stroke="#27272a" stroke-width="1.58" stroke-linejoin="round" stroke-linecap="round" />
<path d="M309.1 1066.6 C310.8 1064.8 314.7 1058.7 319.6 1056.1 C324.5 1053.5 332.1 1051.5 338.4 1050.9 C344.7 1050.2 351.3 1050.8 357.3 1052.3 C363.2 1053.9 369.5 1056.9 374 1060.3 C378.6 1063.7 382.4 1068.3 384.5 1072.9 C386.6 1077.4 386.2 1085.1 386.6 1087.5" fill="none" stroke="#27272a" stroke-width="1.45" stroke-linejoin="round" stroke-linecap="round" />
<ellipse cx="344.7" cy="1085.4" rx="29.5" ry="23" fill="#fff" stroke="#27272a" stroke-width="1.72" transform="rotate(-12 344.7 1085.4)" />
<path d="M313.3 1087.5 C313.8 1089.6 314 1096.4 316.4 1100.1 C318.9 1103.7 323.2 1107.4 327.9 1109.5 C332.7 1111.6 338.8 1113.2 344.7 1112.6 C350.6 1112.1 358.7 1109.5 363.5 1106.4 C368.4 1103.2 372.3 1095.9 374 1093.8" fill="none" stroke="#27272a" stroke-width="1.32" stroke-linejoin="round" stroke-linecap="round" />
<path d="M386.5 1069.1 L388.7 1070.1 L388.4 1071.9 L386.2 1072.2 L385.7 1073.6 L387.2 1075.4 L386.4 1076.9 L384.4 1076.1 L383.6 1077.1 L384.1 1079.1 L382.8 1079.7 L381.7 1078.6 L380.7 1078.9 L380 1080 L378.6 1079.7 L378.7 1078 L377.8 1077.1 L376.1 1078.1 L375.1 1076.9 L376.3 1074.9 L375.7 1073.6 L373.5 1073.7 L373 1071.9 L375 1070.6 L374.9 1069.1 L372.8 1068.1 L373 1066.2 L375.3 1066 L375.7 1064.6 L374.2 1062.7 L375.1 1061.3 L377 1062.1 L377.8 1061 L377.4 1059.1 L378.6 1058.5 L379.7 1059.6 L380.7 1059.3 L381.4 1058.1 L382.8 1058.5 L382.7 1060.2 L383.6 1061 L385.3 1060.1 L386.4 1061.3 L385.2 1063.3 L385.7 1064.6 L388 1064.5 L388.4 1066.2 L386.4 1067.6Z" fill="#fff" stroke="#27272a" stroke-width="1.32" stroke-linejoin="round" stroke-linecap="round" />
<ellipse cx="343.7" cy="1087.9" rx="7" ry="5" fill="#fff" stroke="#27272a" stroke-width="1.58" />
<path d="M339.1 1087.4 L339.1 1081.4 A4.6 3.2 0 0 1 348.3 1081.4 L348.3 1087.4" fill="#fff" stroke="#27272a" stroke-width="1.58" stroke-linejoin="round" stroke-linecap="round" />
<ellipse cx="354.8" cy="1073.9" rx="2.6" ry="2" fill="#888" stroke="#27272a" stroke-width="1.45" />
<ellipse cx="333.6" cy="1099" rx="2.8" ry="2.1" fill="#888" stroke="#27272a" stroke-width="1.45" />
<polygon points="306.6,1057.2 313.3,1058.2 306.6,1087.5 300.7,1090.7" fill="none" stroke="#27272a" stroke-width="1.45" stroke-linejoin="round" stroke-linecap="round" />
<polygon points="304.9,1066.6 308.1,1067.6 303.9,1085.4 301.1,1086.5" fill="none" stroke="#27272a" stroke-width="1.19" stroke-linejoin="round" stroke-linecap="round" />
<polyline points="309.1,1109.5 319.6,1107.4 320.6,1115.8 348.9,1126.3" fill="none" stroke="#27272a" stroke-width="1.45" stroke-linejoin="round" stroke-linecap="round" />
<path d="M306.6 1126.3 C306.8 1123.5 309.7 1120.3 313.3 1118.9 C316.8 1117.5 323.1 1117 327.9 1117.9 C332.8 1118.8 340.9 1121.9 342.6 1124.2 C344.4 1126.4 341.2 1129.4 338.4 1131.5 C335.6 1133.6 330.2 1136 325.9 1136.7 C321.5 1137.4 315.5 1137.4 312.2 1135.7 C309 1133.9 306.4 1129.1 306.6 1126.3Z" fill="#fff" stroke="#27272a" stroke-width="1.72" stroke-linejoin="round" stroke-linecap="round" />
<ellipse cx="321.2" cy="1127.7" rx="6.5" ry="4.8" fill="none" stroke="#27272a" stroke-width="1.58" />
<ellipse cx="321.2" cy="1128.1" rx="3.2" ry="2.4" fill="#999" stroke="#27272a" stroke-width="1.32" />
<polyline points="323.8,1116.8 336.3,1118.9 344.7,1122.7" fill="none" stroke="#27272a" stroke-width="2.64" stroke-linejoin="round" stroke-linecap="round" />
<ellipse cx="318.5" cy="1006.9" rx="14.5" ry="9.6" fill="#fff" stroke="#27272a" stroke-width="1.58" />
<ellipse cx="318.5" cy="1008.1" rx="9.9" ry="6.5" fill="none" stroke="#27272a" stroke-width="1.43" />
<ellipse cx="318.5" cy="1009.8" rx="5.8" ry="3.8" fill="none" stroke="#27272a" stroke-width="1.43" />
<ellipse cx="487.1" cy="951.4" rx="15.5" ry="10.2" fill="#fff" stroke="#27272a" stroke-width="1.58" />
<ellipse cx="487.1" cy="952.6" rx="10.5" ry="7" fill="none" stroke="#27272a" stroke-width="1.43" />
<ellipse cx="487.1" cy="954.5" rx="6.2" ry="4.1" fill="none" stroke="#27272a" stroke-width="1.43" />
<ellipse cx="277.3" cy="1129.4" rx="15" ry="9.9" fill="#fff" stroke="#27272a" stroke-width="1.58" />
<ellipse cx="277.3" cy="1130.6" rx="10.2" ry="6.7" fill="none" stroke="#27272a" stroke-width="1.43" />
<ellipse cx="277.3" cy="1132.4" rx="6" ry="4" fill="none" stroke="#27272a" stroke-width="1.43" />
<ellipse cx="431.6" cy="1005.9" rx="15" ry="9.9" fill="#fff" stroke="#27272a" stroke-width="2.24" />
<ellipse cx="431.6" cy="1005.9" rx="8.2" ry="5.4" fill="none" stroke="#27272a" stroke-width="1.45" />
<ellipse cx="431.6" cy="1005.9" rx="3" ry="2" fill="#555" stroke="#27272a" stroke-width="1.45" />
<ellipse cx="431.6" cy="1005.9" rx="11.5" ry="7.6" fill="none" stroke="#27272a" stroke-width="1.32" />
<ellipse cx="287.1" cy="1050.9" rx="8.2" ry="5.6" fill="none" stroke="#27272a" stroke-width="1.72" transform="rotate(-10 287.1 1050.9)" />
<ellipse cx="399.1" cy="1054.4" rx="7" ry="5" fill="none" stroke="#27272a" stroke-width="1.72" />
<ellipse cx="508.5" cy="982.8" rx="6.6" ry="4.8" fill="none" stroke="#27272a" stroke-width="1.72" transform="rotate(-15 508.5 982.8)" />
<ellipse cx="286.5" cy="1152.9" rx="4.4" ry="3.3" fill="none" stroke="#27272a" stroke-width="1.58" />
<line x1="334.9" y1="920" x2="334.2" y2="1078" stroke="#27272a" stroke-width="1.1" />
<line x1="345" y1="920" x2="344.3" y2="1075" stroke="#27272a" stroke-width="1.1" />
<line x1="355.4" y1="920" x2="354.7" y2="1068" stroke="#27272a" stroke-width="1.1" />
<line x1="321.2" y1="912" x2="320.8" y2="1004" stroke="#27272a" stroke-width="1.1" />
<line x1="488" y1="846" x2="487.5" y2="950" stroke="#27272a" stroke-width="1.1" />
<line x1="257.2" y1="920" x2="256.5" y2="1066" stroke="#27272a" stroke-width="1.1" />
<line x1="256.5" y1="1066" x2="319.7" y2="1124" stroke="#27272a" stroke-width="1.1" />
<line x1="222.8" y1="1034" x2="222.6" y2="1070" stroke="#27272a" stroke-width="1.1" />
<line x1="222.6" y1="1070" x2="275.6" y2="1124" stroke="#27272a" stroke-width="1.1" />
<path d="M0 0 Q14.6 -2.4 30.2 -8.1 A8.4 8.4 0 1 1 30.2 8.1 Q14.6 2.4 0 0Z" transform="translate(434.8 1002.4) rotate(-47.1)" fill="#2f9fc6" stroke="none" stroke-width="1.4"/>
<path d="M0 0 Q16.2 -2.7 33.6 -9 A9.3 9.3 0 1 1 33.6 9 Q16.2 2.7 0 0Z" transform="translate(362 1093.9) rotate(45)" fill="#2565ae" stroke="none" stroke-width="1.4"/>
<path d="M0 0 Q15.7 -2.6 32.6 -8.7 A9 9 0 1 1 32.6 8.7 Q15.7 2.6 0 0Z" transform="translate(472 1049.8) rotate(42.9)" fill="#2565ae" stroke="none" stroke-width="1.4"/>
<path d="M484.6 1182 L488.8 1182.8 L488.7 1184.3 L484.5 1184.8 L484.3 1186.1 L488.4 1187.4 L488.1 1188.8 L483.8 1188.9 L483.5 1190.3 L487.4 1191.9 L486.9 1193.3 L482.6 1193 L482.1 1194.3 L485.8 1196.3 L485.2 1197.7 L480.9 1197 L480.2 1198.2 L483.7 1200.6 L482.9 1201.9 L478.7 1200.8 L477.8 1202 L481 1204.6 L480 1205.9 L475.9 1204.5 L475 1205.6 L477.8 1208.5 L476.7 1209.7 L472.8 1207.9 L471.6 1209 L474.1 1212 L472.8 1213.1 L469.1 1211.2 L467.9 1212.1 L470 1215.3 L468.6 1216.3 L465.1 1214.1 L463.7 1215 L465.5 1218.2 L463.9 1219.1 L460.7 1216.8 L459.3 1217.5 L460.6 1220.8 L458.9 1221.5 L456.1 1219.1 L454.5 1219.8 L455.4 1222.9 L453.7 1223.5 L451.1 1221 L449.5 1221.6 L450 1224.7 L448.2 1225.1 L446 1222.6 L444.3 1223.1 L444.3 1226 L442.5 1226.3 L440.7 1223.8 L438.9 1224.1 L438.6 1226.8 L436.7 1227 L435.3 1224.6 L433.5 1224.7 L432.7 1227.2 L430.8 1227.2 L429.8 1224.8 L428.1 1224.7 L426.8 1227.1 L424.9 1227 L424.4 1224.4 L422.7 1224.1 L421 1226.6 L419.1 1226.3 L419 1223.4 L417.3 1223.1 L415.3 1225.5 L413.4 1225.1 L413.8 1222.1 L412.1 1221.6 L409.7 1224.1 L407.9 1223.5 L408.7 1220.4 L407.1 1219.8 L404.3 1222.2 L402.7 1221.5 L403.9 1218.3 L402.3 1217.5 L399.3 1219.9 L397.7 1219.1 L399.3 1215.9 L397.9 1215 L394.5 1217.2 L393 1216.3 L395 1213.1 L393.7 1212.1 L390.1 1214.2 L388.8 1213.1 L391.2 1210.1 L390 1209 L386.1 1210.8 L384.9 1209.7 L387.7 1206.7 L386.6 1205.6 L382.6 1207.2 L381.6 1205.9 L384.6 1203.2 L383.8 1202 L379.6 1203.2 L378.7 1201.9 L382.1 1199.5 L381.4 1198.2 L377.1 1199.1 L376.4 1197.7 L380 1195.6 L379.5 1194.3 L375.2 1194.8 L374.7 1193.3 L378.5 1191.6 L378.1 1190.3 L373.8 1190.3 L373.5 1188.8 L377.5 1187.5 L377.3 1186.1 L373 1185.8 L372.9 1184.3 L377 1183.4 L377 1182 L372.8 1181.2 L372.9 1179.7 L377.1 1179.2 L377.3 1177.9 L373.2 1176.6 L373.5 1175.2 L377.8 1175.1 L378.1 1173.7 L374.2 1172.1 L374.7 1170.7 L379 1171 L379.5 1169.7 L375.8 1167.7 L376.4 1166.3 L380.7 1167 L381.4 1165.8 L377.9 1163.4 L378.7 1162.1 L382.9 1163.2 L383.8 1162 L380.6 1159.4 L381.6 1158.1 L385.7 1159.5 L386.6 1158.4 L383.8 1155.5 L384.9 1154.3 L388.8 1156.1 L390 1155 L387.5 1152 L388.8 1150.9 L392.5 1152.8 L393.7 1151.9 L391.6 1148.7 L393 1147.7 L396.5 1149.9 L397.9 1149 L396.1 1145.8 L397.7 1144.9 L400.9 1147.2 L402.3 1146.5 L401 1143.2 L402.7 1142.5 L405.5 1144.9 L407.1 1144.2 L406.2 1141.1 L407.9 1140.5 L410.5 1143 L412.1 1142.4 L411.6 1139.3 L413.4 1138.9 L415.6 1141.4 L417.3 1140.9 L417.3 1138 L419.1 1137.7 L420.9 1140.2 L422.7 1139.9 L423 1137.2 L424.9 1137 L426.3 1139.4 L428.1 1139.3 L428.9 1136.8 L430.8 1136.8 L431.8 1139.2 L433.5 1139.3 L434.8 1136.9 L436.7 1137 L437.2 1139.6 L438.9 1139.9 L440.6 1137.4 L442.5 1137.7 L442.6 1140.6 L444.3 1140.9 L446.3 1138.5 L448.2 1138.9 L447.8 1141.9 L449.5 1142.4 L451.9 1139.9 L453.7 1140.5 L452.9 1143.6 L454.5 1144.2 L457.3 1141.8 L458.9 1142.5 L457.7 1145.7 L459.3 1146.5 L462.3 1144.1 L463.9 1144.9 L462.3 1148.1 L463.7 1149 L467.1 1146.8 L468.6 1147.7 L466.6 1150.9 L467.9 1151.9 L471.5 1149.8 L472.8 1150.9 L470.4 1153.9 L471.6 1155 L475.5 1153.2 L476.7 1154.3 L473.9 1157.3 L475 1158.4 L479 1156.8 L480 1158.1 L477 1160.8 L477.8 1162 L482 1160.8 L482.9 1162.1 L479.5 1164.5 L480.2 1165.8 L484.5 1164.9 L485.2 1166.3 L481.6 1168.4 L482.1 1169.7 L486.4 1169.2 L486.9 1170.7 L483.1 1172.4 L483.5 1173.7 L487.8 1173.7 L488.1 1175.2 L484.1 1176.5 L484.3 1177.9 L488.6 1178.2 L488.7 1179.7 L484.6 1180.6Z" fill="#fff" stroke="#27272a" stroke-width="1.72" stroke-linejoin="round" stroke-linecap="round" />
<polygon points="424,1178 434.5,1175.5 437.5,1184 427,1187" fill="none" stroke="#27272a" stroke-width="1.72" stroke-linejoin="round" stroke-linecap="round" />
<line x1="430.9" y1="1096" x2="430.7" y2="1176" stroke="#27272a" stroke-width="1.1" />
<line x1="430.6" y1="1187" x2="430.2" y2="1270" stroke="#27272a" stroke-width="1.1" />
<path d="M514.9 1384 L517.7 1384.6 L517.7 1385.7 L514.8 1386.2 L514.8 1387.3 L517.5 1388.1 L517.4 1389.2 L514.5 1389.6 L514.3 1390.6 L517 1391.6 L516.8 1392.7 L513.9 1392.9 L513.7 1393.9 L516.3 1395 L515.9 1396.1 L513 1396.1 L512.7 1397.2 L515.2 1398.4 L514.8 1399.5 L511.9 1399.4 L511.4 1400.4 L513.9 1401.8 L513.4 1402.9 L510.5 1402.6 L509.9 1403.6 L512.3 1405.1 L511.7 1406.1 L508.8 1405.7 L508.2 1406.7 L510.4 1408.3 L509.7 1409.3 L506.8 1408.8 L506.2 1409.7 L508.3 1411.5 L507.5 1412.5 L504.7 1411.7 L503.9 1412.7 L505.9 1414.5 L505.1 1415.5 L502.2 1414.6 L501.4 1415.6 L503.3 1417.5 L502.3 1418.4 L499.5 1417.5 L498.6 1418.4 L500.4 1420.3 L499.4 1421.2 L496.6 1420.2 L495.7 1421 L497.3 1423.1 L496.2 1423.9 L493.5 1422.8 L492.5 1423.6 L493.9 1425.7 L492.8 1426.5 L490.2 1425.2 L489.1 1426 L490.4 1428.2 L489.2 1428.9 L486.7 1427.6 L485.5 1428.3 L486.7 1430.5 L485.4 1431.2 L483 1429.8 L481.7 1430.5 L482.7 1432.7 L481.4 1433.4 L479.1 1431.9 L477.8 1432.5 L478.6 1434.7 L477.3 1435.3 L475 1433.8 L473.7 1434.4 L474.4 1436.5 L473 1437.1 L470.9 1435.5 L469.5 1436.1 L470 1438.2 L468.5 1438.7 L466.5 1437.1 L465.1 1437.6 L465.5 1439.7 L464 1440.2 L462.1 1438.6 L460.6 1439 L460.8 1441.1 L459.3 1441.5 L457.5 1439.8 L456 1440.2 L456.1 1442.2 L454.5 1442.5 L452.9 1440.9 L451.4 1441.2 L451.2 1443.1 L449.6 1443.4 L448.2 1441.8 L446.6 1442 L446.3 1443.9 L444.7 1444.1 L443.4 1442.5 L441.8 1442.7 L441.4 1444.5 L439.7 1444.6 L438.6 1443 L437 1443.1 L436.4 1444.8 L434.7 1444.9 L433.7 1443.3 L432.1 1443.4 L431.3 1445 L429.7 1445 L428.8 1443.4 L427.3 1443.4 L426.3 1445 L424.7 1444.9 L424 1443.2 L422.4 1443.1 L421.3 1444.7 L419.7 1444.6 L419.1 1442.8 L417.6 1442.7 L416.3 1444.3 L414.7 1444.1 L414.3 1442.3 L412.8 1442 L411.4 1443.7 L409.8 1443.4 L409.6 1441.5 L408 1441.2 L406.5 1442.8 L404.9 1442.5 L404.9 1440.5 L403.4 1440.2 L401.7 1441.8 L400.1 1441.5 L400.3 1439.4 L398.8 1439 L397 1440.6 L395.4 1440.2 L395.8 1438.1 L394.3 1437.6 L392.3 1439.2 L390.9 1438.7 L391.3 1436.6 L389.9 1436.1 L387.9 1437.7 L386.4 1437.1 L387.1 1434.9 L385.7 1434.4 L383.5 1435.9 L382.1 1435.3 L382.9 1433.1 L381.6 1432.5 L379.3 1434 L378 1433.4 L378.9 1431.1 L377.7 1430.5 L375.3 1431.9 L374 1431.2 L375.1 1429 L373.9 1428.3 L371.4 1429.7 L370.2 1428.9 L371.5 1426.8 L370.3 1426 L367.7 1427.3 L366.6 1426.5 L368 1424.4 L366.9 1423.6 L364.3 1424.8 L363.2 1423.9 L364.8 1421.9 L363.7 1421 L361 1422.1 L360 1421.2 L361.7 1419.2 L360.8 1418.4 L358 1419.4 L357.1 1418.4 L358.9 1416.5 L358 1415.6 L355.2 1416.5 L354.3 1415.5 L356.3 1413.6 L355.5 1412.7 L352.6 1413.5 L351.9 1412.5 L354 1410.7 L353.2 1409.7 L350.3 1410.4 L349.7 1409.3 L351.8 1407.7 L351.2 1406.7 L348.3 1407.2 L347.7 1406.1 L350 1404.6 L349.5 1403.6 L346.5 1403.9 L346 1402.9 L348.4 1401.4 L348 1400.4 L345 1400.6 L344.6 1399.5 L347.1 1398.2 L346.7 1397.2 L343.8 1397.2 L343.5 1396.1 L346 1395 L345.7 1393.9 L342.8 1393.8 L342.6 1392.7 L345.3 1391.7 L345.1 1390.6 L342.2 1390.3 L342 1389.2 L344.7 1388.4 L344.6 1387.3 L341.8 1386.9 L341.7 1385.7 L344.5 1385.1 L344.5 1384 L341.7 1383.4 L341.7 1382.3 L344.6 1381.8 L344.6 1380.7 L341.9 1379.9 L342 1378.8 L344.9 1378.4 L345.1 1377.4 L342.4 1376.4 L342.6 1375.3 L345.5 1375.1 L345.7 1374.1 L343.1 1373 L343.5 1371.9 L346.4 1371.9 L346.7 1370.8 L344.2 1369.6 L344.6 1368.5 L347.5 1368.6 L348 1367.6 L345.5 1366.2 L346 1365.1 L348.9 1365.4 L349.5 1364.4 L347.1 1362.9 L347.7 1361.9 L350.6 1362.3 L351.2 1361.3 L349 1359.7 L349.7 1358.7 L352.6 1359.2 L353.2 1358.3 L351.1 1356.5 L351.9 1355.5 L354.7 1356.3 L355.5 1355.3 L353.5 1353.5 L354.3 1352.5 L357.2 1353.4 L358 1352.4 L356.1 1350.5 L357.1 1349.6 L359.9 1350.5 L360.8 1349.6 L359 1347.7 L360 1346.8 L362.8 1347.8 L363.7 1347 L362.1 1344.9 L363.2 1344.1 L365.9 1345.2 L366.9 1344.4 L365.5 1342.3 L366.6 1341.5 L369.2 1342.8 L370.3 1342 L369 1339.8 L370.2 1339.1 L372.7 1340.4 L373.9 1339.7 L372.7 1337.5 L374 1336.8 L376.4 1338.2 L377.7 1337.5 L376.7 1335.3 L378 1334.6 L380.3 1336.1 L381.6 1335.5 L380.8 1333.3 L382.1 1332.7 L384.4 1334.2 L385.7 1333.6 L385 1331.5 L386.4 1330.9 L388.5 1332.5 L389.9 1331.9 L389.4 1329.8 L390.9 1329.3 L392.9 1330.9 L394.3 1330.4 L393.9 1328.3 L395.4 1327.8 L397.3 1329.4 L398.8 1329 L398.6 1326.9 L400.1 1326.5 L401.9 1328.2 L403.4 1327.8 L403.3 1325.8 L404.9 1325.5 L406.5 1327.1 L408 1326.8 L408.2 1324.9 L409.8 1324.6 L411.2 1326.2 L412.8 1326 L413.1 1324.1 L414.7 1323.9 L416 1325.5 L417.6 1325.3 L418 1323.5 L419.7 1323.4 L420.8 1325 L422.4 1324.9 L423 1323.2 L424.7 1323.1 L425.7 1324.7 L427.3 1324.6 L428.1 1323 L429.7 1323 L430.6 1324.6 L432.1 1324.6 L433.1 1323 L434.7 1323.1 L435.4 1324.8 L437 1324.9 L438.1 1323.3 L439.7 1323.4 L440.3 1325.2 L441.8 1325.3 L443.1 1323.7 L444.7 1323.9 L445.1 1325.7 L446.6 1326 L448 1324.3 L449.6 1324.6 L449.8 1326.5 L451.4 1326.8 L452.9 1325.2 L454.5 1325.5 L454.5 1327.5 L456 1327.8 L457.7 1326.2 L459.3 1326.5 L459.1 1328.6 L460.6 1329 L462.4 1327.4 L464 1327.8 L463.6 1329.9 L465.1 1330.4 L467.1 1328.8 L468.5 1329.3 L468.1 1331.4 L469.5 1331.9 L471.5 1330.3 L473 1330.9 L472.3 1333.1 L473.7 1333.6 L475.9 1332.1 L477.3 1332.7 L476.5 1334.9 L477.8 1335.5 L480.1 1334 L481.4 1334.6 L480.5 1336.9 L481.7 1337.5 L484.1 1336.1 L485.4 1336.8 L484.3 1339 L485.5 1339.7 L488 1338.3 L489.2 1339.1 L487.9 1341.2 L489.1 1342 L491.7 1340.7 L492.8 1341.5 L491.4 1343.6 L492.5 1344.4 L495.1 1343.2 L496.2 1344.1 L494.6 1346.1 L495.7 1347 L498.4 1345.9 L499.4 1346.8 L497.7 1348.8 L498.6 1349.6 L501.4 1348.6 L502.3 1349.6 L500.5 1351.5 L501.4 1352.4 L504.2 1351.5 L505.1 1352.5 L503.1 1354.4 L503.9 1355.3 L506.8 1354.5 L507.5 1355.5 L505.4 1357.3 L506.2 1358.3 L509.1 1357.6 L509.7 1358.7 L507.6 1360.3 L508.2 1361.3 L511.1 1360.8 L511.7 1361.9 L509.4 1363.4 L509.9 1364.4 L512.9 1364.1 L513.4 1365.1 L511 1366.6 L511.4 1367.6 L514.4 1367.4 L514.8 1368.5 L512.3 1369.8 L512.7 1370.8 L515.6 1370.8 L515.9 1371.9 L513.4 1373 L513.7 1374.1 L516.6 1374.2 L516.8 1375.3 L514.1 1376.3 L514.3 1377.4 L517.2 1377.7 L517.4 1378.8 L514.7 1379.6 L514.8 1380.7 L517.6 1381.1 L517.7 1382.3 L514.9 1382.9Z" fill="#fff" stroke="#27272a" stroke-width="1.52" stroke-linejoin="round" stroke-linecap="round" />
<path d="M514.9 1381.4 L517.7 1382 L517.7 1383.1 L514.8 1383.6 L514.8 1384.7 L517.5 1385.5 L517.4 1386.6 L514.5 1387 L514.3 1388 L517 1389 L516.8 1390.1 L513.9 1390.3 L513.7 1391.3 L516.3 1392.4 L515.9 1393.5 L513 1393.5 L512.7 1394.6 L515.2 1395.8 L514.8 1396.9 L511.9 1396.8 L511.4 1397.8 L513.9 1399.2 L513.4 1400.3 L510.5 1400 L509.9 1401 L512.3 1402.5 L511.7 1403.5 L508.8 1403.1 L508.2 1404.1 L510.4 1405.7 L509.7 1406.7 L506.8 1406.2 L506.2 1407.1 L508.3 1408.9 L507.5 1409.9 L504.7 1409.1 L503.9 1410.1 L505.9 1411.9 L505.1 1412.9 L502.2 1412 L501.4 1413 L503.3 1414.9 L502.3 1415.8 L499.5 1414.9 L498.6 1415.8 L500.4 1417.7 L499.4 1418.6 L496.6 1417.6 L495.7 1418.4 L497.3 1420.5 L496.2 1421.3 L493.5 1420.2 L492.5 1421 L493.9 1423.1 L492.8 1423.9 L490.2 1422.6 L489.1 1423.4 L490.4 1425.6 L489.2 1426.3 L486.7 1425 L485.5 1425.7 L486.7 1427.9 L485.4 1428.6 L483 1427.2 L481.7 1427.9 L482.7 1430.1 L481.4 1430.8 L479.1 1429.3 L477.8 1429.9 L478.6 1432.1 L477.3 1432.7 L475 1431.2 L473.7 1431.8 L474.4 1433.9 L473 1434.5 L470.9 1432.9 L469.5 1433.5 L470 1435.6 L468.5 1436.1 L466.5 1434.5 L465.1 1435 L465.5 1437.1 L464 1437.6 L462.1 1436 L460.6 1436.4 L460.8 1438.5 L459.3 1438.9 L457.5 1437.2 L456 1437.6 L456.1 1439.6 L454.5 1439.9 L452.9 1438.3 L451.4 1438.6 L451.2 1440.5 L449.6 1440.8 L448.2 1439.2 L446.6 1439.4 L446.3 1441.3 L444.7 1441.5 L443.4 1439.9 L441.8 1440.1 L441.4 1441.9 L439.7 1442 L438.6 1440.4 L437 1440.5 L436.4 1442.2 L434.7 1442.3 L433.7 1440.7 L432.1 1440.8 L431.3 1442.4 L429.7 1442.4 L428.8 1440.8 L427.3 1440.8 L426.3 1442.4 L424.7 1442.3 L424 1440.6 L422.4 1440.5 L421.3 1442.1 L419.7 1442 L419.1 1440.2 L417.6 1440.1 L416.3 1441.7 L414.7 1441.5 L414.3 1439.7 L412.8 1439.4 L411.4 1441.1 L409.8 1440.8 L409.6 1438.9 L408 1438.6 L406.5 1440.2 L404.9 1439.9 L404.9 1437.9 L403.4 1437.6 L401.7 1439.2 L400.1 1438.9 L400.3 1436.8 L398.8 1436.4 L397 1438 L395.4 1437.6 L395.8 1435.5 L394.3 1435 L392.3 1436.6 L390.9 1436.1 L391.3 1434 L389.9 1433.5 L387.9 1435.1 L386.4 1434.5 L387.1 1432.3 L385.7 1431.8 L383.5 1433.3 L382.1 1432.7 L382.9 1430.5 L381.6 1429.9 L379.3 1431.4 L378 1430.8 L378.9 1428.5 L377.7 1427.9 L375.3 1429.3 L374 1428.6 L375.1 1426.4 L373.9 1425.7 L371.4 1427.1 L370.2 1426.3 L371.5 1424.2 L370.3 1423.4 L367.7 1424.7 L366.6 1423.9 L368 1421.8 L366.9 1421 L364.3 1422.2 L363.2 1421.3 L364.8 1419.3 L363.7 1418.4 L361 1419.5 L360 1418.6 L361.7 1416.6 L360.8 1415.8 L358 1416.8 L357.1 1415.8 L358.9 1413.9 L358 1413 L355.2 1413.9 L354.3 1412.9 L356.3 1411 L355.5 1410.1 L352.6 1410.9 L351.9 1409.9 L354 1408.1 L353.2 1407.1 L350.3 1407.8 L349.7 1406.7 L351.8 1405.1 L351.2 1404.1 L348.3 1404.6 L347.7 1403.5 L350 1402 L349.5 1401 L346.5 1401.3 L346 1400.3 L348.4 1398.8 L348 1397.8 L345 1398 L344.6 1396.9 L347.1 1395.6 L346.7 1394.6 L343.8 1394.6 L343.5 1393.5 L346 1392.4 L345.7 1391.3 L342.8 1391.2 L342.6 1390.1 L345.3 1389.1 L345.1 1388 L342.2 1387.7 L342 1386.6 L344.7 1385.8 L344.6 1384.7 L341.8 1384.3 L341.7 1383.1 L344.5 1382.5 L344.5 1381.4 L341.7 1380.8 L341.7 1379.7 L344.6 1379.2 L344.6 1378.1 L341.9 1377.3 L342 1376.2 L344.9 1375.8 L345.1 1374.8 L342.4 1373.8 L342.6 1372.7 L345.5 1372.5 L345.7 1371.5 L343.1 1370.4 L343.5 1369.3 L346.4 1369.3 L346.7 1368.2 L344.2 1367 L344.6 1365.9 L347.5 1366 L348 1365 L345.5 1363.6 L346 1362.5 L348.9 1362.8 L349.5 1361.8 L347.1 1360.3 L347.7 1359.3 L350.6 1359.7 L351.2 1358.7 L349 1357.1 L349.7 1356.1 L352.6 1356.6 L353.2 1355.7 L351.1 1353.9 L351.9 1352.9 L354.7 1353.7 L355.5 1352.7 L353.5 1350.9 L354.3 1349.9 L357.2 1350.8 L358 1349.8 L356.1 1347.9 L357.1 1347 L359.9 1347.9 L360.8 1347 L359 1345.1 L360 1344.2 L362.8 1345.2 L363.7 1344.4 L362.1 1342.3 L363.2 1341.5 L365.9 1342.6 L366.9 1341.8 L365.5 1339.7 L366.6 1338.9 L369.2 1340.2 L370.3 1339.4 L369 1337.2 L370.2 1336.5 L372.7 1337.8 L373.9 1337.1 L372.7 1334.9 L374 1334.2 L376.4 1335.6 L377.7 1334.9 L376.7 1332.7 L378 1332 L380.3 1333.5 L381.6 1332.9 L380.8 1330.7 L382.1 1330.1 L384.4 1331.6 L385.7 1331 L385 1328.9 L386.4 1328.3 L388.5 1329.9 L389.9 1329.3 L389.4 1327.2 L390.9 1326.7 L392.9 1328.3 L394.3 1327.8 L393.9 1325.7 L395.4 1325.2 L397.3 1326.8 L398.8 1326.4 L398.6 1324.3 L400.1 1323.9 L401.9 1325.6 L403.4 1325.2 L403.3 1323.2 L404.9 1322.9 L406.5 1324.5 L408 1324.2 L408.2 1322.3 L409.8 1322 L411.2 1323.6 L412.8 1323.4 L413.1 1321.5 L414.7 1321.3 L416 1322.9 L417.6 1322.7 L418 1320.9 L419.7 1320.8 L420.8 1322.4 L422.4 1322.3 L423 1320.6 L424.7 1320.5 L425.7 1322.1 L427.3 1322 L428.1 1320.4 L429.7 1320.4 L430.6 1322 L432.1 1322 L433.1 1320.4 L434.7 1320.5 L435.4 1322.2 L437 1322.3 L438.1 1320.7 L439.7 1320.8 L440.3 1322.6 L441.8 1322.7 L443.1 1321.1 L444.7 1321.3 L445.1 1323.1 L446.6 1323.4 L448 1321.7 L449.6 1322 L449.8 1323.9 L451.4 1324.2 L452.9 1322.6 L454.5 1322.9 L454.5 1324.9 L456 1325.2 L457.7 1323.6 L459.3 1323.9 L459.1 1326 L460.6 1326.4 L462.4 1324.8 L464 1325.2 L463.6 1327.3 L465.1 1327.8 L467.1 1326.2 L468.5 1326.7 L468.1 1328.8 L469.5 1329.3 L471.5 1327.7 L473 1328.3 L472.3 1330.5 L473.7 1331 L475.9 1329.5 L477.3 1330.1 L476.5 1332.3 L477.8 1332.9 L480.1 1331.4 L481.4 1332 L480.5 1334.3 L481.7 1334.9 L484.1 1333.5 L485.4 1334.2 L484.3 1336.4 L485.5 1337.1 L488 1335.7 L489.2 1336.5 L487.9 1338.6 L489.1 1339.4 L491.7 1338.1 L492.8 1338.9 L491.4 1341 L492.5 1341.8 L495.1 1340.6 L496.2 1341.5 L494.6 1343.5 L495.7 1344.4 L498.4 1343.3 L499.4 1344.2 L497.7 1346.2 L498.6 1347 L501.4 1346 L502.3 1347 L500.5 1348.9 L501.4 1349.8 L504.2 1348.9 L505.1 1349.9 L503.1 1351.8 L503.9 1352.7 L506.8 1351.9 L507.5 1352.9 L505.4 1354.7 L506.2 1355.7 L509.1 1355 L509.7 1356.1 L507.6 1357.7 L508.2 1358.7 L511.1 1358.2 L511.7 1359.3 L509.4 1360.8 L509.9 1361.8 L512.9 1361.5 L513.4 1362.5 L511 1364 L511.4 1365 L514.4 1364.8 L514.8 1365.9 L512.3 1367.2 L512.7 1368.2 L515.6 1368.2 L515.9 1369.3 L513.4 1370.4 L513.7 1371.5 L516.6 1371.6 L516.8 1372.7 L514.1 1373.7 L514.3 1374.8 L517.2 1375.1 L517.4 1376.2 L514.7 1377 L514.8 1378.1 L517.6 1378.5 L517.7 1379.7 L514.9 1380.3Z" fill="#fff" stroke="#27272a" stroke-width="1.52" stroke-linejoin="round" stroke-linecap="round" />
<path d="M514.9 1378.8 L517.7 1379.4 L517.7 1380.5 L514.8 1381 L514.8 1382.1 L517.5 1382.9 L517.4 1384 L514.5 1384.4 L514.3 1385.4 L517 1386.4 L516.8 1387.5 L513.9 1387.7 L513.7 1388.7 L516.3 1389.8 L515.9 1390.9 L513 1390.9 L512.7 1392 L515.2 1393.2 L514.8 1394.3 L511.9 1394.2 L511.4 1395.2 L513.9 1396.6 L513.4 1397.7 L510.5 1397.4 L509.9 1398.4 L512.3 1399.9 L511.7 1400.9 L508.8 1400.5 L508.2 1401.5 L510.4 1403.1 L509.7 1404.1 L506.8 1403.6 L506.2 1404.5 L508.3 1406.3 L507.5 1407.3 L504.7 1406.5 L503.9 1407.5 L505.9 1409.3 L505.1 1410.3 L502.2 1409.4 L501.4 1410.4 L503.3 1412.3 L502.3 1413.2 L499.5 1412.3 L498.6 1413.2 L500.4 1415.1 L499.4 1416 L496.6 1415 L495.7 1415.8 L497.3 1417.9 L496.2 1418.7 L493.5 1417.6 L492.5 1418.4 L493.9 1420.5 L492.8 1421.3 L490.2 1420 L489.1 1420.8 L490.4 1423 L489.2 1423.7 L486.7 1422.4 L485.5 1423.1 L486.7 1425.3 L485.4 1426 L483 1424.6 L481.7 1425.3 L482.7 1427.5 L481.4 1428.2 L479.1 1426.7 L477.8 1427.3 L478.6 1429.5 L477.3 1430.1 L475 1428.6 L473.7 1429.2 L474.4 1431.3 L473 1431.9 L470.9 1430.3 L469.5 1430.9 L470 1433 L468.5 1433.5 L466.5 1431.9 L465.1 1432.4 L465.5 1434.5 L464 1435 L462.1 1433.4 L460.6 1433.8 L460.8 1435.9 L459.3 1436.3 L457.5 1434.6 L456 1435 L456.1 1437 L454.5 1437.3 L452.9 1435.7 L451.4 1436 L451.2 1437.9 L449.6 1438.2 L448.2 1436.6 L446.6 1436.8 L446.3 1438.7 L444.7 1438.9 L443.4 1437.3 L441.8 1437.5 L441.4 1439.3 L439.7 1439.4 L438.6 1437.8 L437 1437.9 L436.4 1439.6 L434.7 1439.7 L433.7 1438.1 L432.1 1438.2 L431.3 1439.8 L429.7 1439.8 L428.8 1438.2 L427.3 1438.2 L426.3 1439.8 L424.7 1439.7 L424 1438 L422.4 1437.9 L421.3 1439.5 L419.7 1439.4 L419.1 1437.6 L417.6 1437.5 L416.3 1439.1 L414.7 1438.9 L414.3 1437.1 L412.8 1436.8 L411.4 1438.5 L409.8 1438.2 L409.6 1436.3 L408 1436 L406.5 1437.6 L404.9 1437.3 L404.9 1435.3 L403.4 1435 L401.7 1436.6 L400.1 1436.3 L400.3 1434.2 L398.8 1433.8 L397 1435.4 L395.4 1435 L395.8 1432.9 L394.3 1432.4 L392.3 1434 L390.9 1433.5 L391.3 1431.4 L389.9 1430.9 L387.9 1432.5 L386.4 1431.9 L387.1 1429.7 L385.7 1429.2 L383.5 1430.7 L382.1 1430.1 L382.9 1427.9 L381.6 1427.3 L379.3 1428.8 L378 1428.2 L378.9 1425.9 L377.7 1425.3 L375.3 1426.7 L374 1426 L375.1 1423.8 L373.9 1423.1 L371.4 1424.5 L370.2 1423.7 L371.5 1421.6 L370.3 1420.8 L367.7 1422.1 L366.6 1421.3 L368 1419.2 L366.9 1418.4 L364.3 1419.6 L363.2 1418.7 L364.8 1416.7 L363.7 1415.8 L361 1416.9 L360 1416 L361.7 1414 L360.8 1413.2 L358 1414.2 L357.1 1413.2 L358.9 1411.3 L358 1410.4 L355.2 1411.3 L354.3 1410.3 L356.3 1408.4 L355.5 1407.5 L352.6 1408.3 L351.9 1407.3 L354 1405.5 L353.2 1404.5 L350.3 1405.2 L349.7 1404.1 L351.8 1402.5 L351.2 1401.5 L348.3 1402 L347.7 1400.9 L350 1399.4 L349.5 1398.4 L346.5 1398.7 L346 1397.7 L348.4 1396.2 L348 1395.2 L345 1395.4 L344.6 1394.3 L347.1 1393 L346.7 1392 L343.8 1392 L343.5 1390.9 L346 1389.8 L345.7 1388.7 L342.8 1388.6 L342.6 1387.5 L345.3 1386.5 L345.1 1385.4 L342.2 1385.1 L342 1384 L344.7 1383.2 L344.6 1382.1 L341.8 1381.7 L341.7 1380.5 L344.5 1379.9 L344.5 1378.8 L341.7 1378.2 L341.7 1377.1 L344.6 1376.6 L344.6 1375.5 L341.9 1374.7 L342 1373.6 L344.9 1373.2 L345.1 1372.2 L342.4 1371.2 L342.6 1370.1 L345.5 1369.9 L345.7 1368.9 L343.1 1367.8 L343.5 1366.7 L346.4 1366.7 L346.7 1365.6 L344.2 1364.4 L344.6 1363.3 L347.5 1363.4 L348 1362.4 L345.5 1361 L346 1359.9 L348.9 1360.2 L349.5 1359.2 L347.1 1357.7 L347.7 1356.7 L350.6 1357.1 L351.2 1356.1 L349 1354.5 L349.7 1353.5 L352.6 1354 L353.2 1353.1 L351.1 1351.3 L351.9 1350.3 L354.7 1351.1 L355.5 1350.1 L353.5 1348.3 L354.3 1347.3 L357.2 1348.2 L358 1347.2 L356.1 1345.3 L357.1 1344.4 L359.9 1345.3 L360.8 1344.4 L359 1342.5 L360 1341.6 L362.8 1342.6 L363.7 1341.8 L362.1 1339.7 L363.2 1338.9 L365.9 1340 L366.9 1339.2 L365.5 1337.1 L366.6 1336.3 L369.2 1337.6 L370.3 1336.8 L369 1334.6 L370.2 1333.9 L372.7 1335.2 L373.9 1334.5 L372.7 1332.3 L374 1331.6 L376.4 1333 L377.7 1332.3 L376.7 1330.1 L378 1329.4 L380.3 1330.9 L381.6 1330.3 L380.8 1328.1 L382.1 1327.5 L384.4 1329 L385.7 1328.4 L385 1326.3 L386.4 1325.7 L388.5 1327.3 L389.9 1326.7 L389.4 1324.6 L390.9 1324.1 L392.9 1325.7 L394.3 1325.2 L393.9 1323.1 L395.4 1322.6 L397.3 1324.2 L398.8 1323.8 L398.6 1321.7 L400.1 1321.3 L401.9 1323 L403.4 1322.6 L403.3 1320.6 L404.9 1320.3 L406.5 1321.9 L408 1321.6 L408.2 1319.7 L409.8 1319.4 L411.2 1321 L412.8 1320.8 L413.1 1318.9 L414.7 1318.7 L416 1320.3 L417.6 1320.1 L418 1318.3 L419.7 1318.2 L420.8 1319.8 L422.4 1319.7 L423 1318 L424.7 1317.9 L425.7 1319.5 L427.3 1319.4 L428.1 1317.8 L429.7 1317.8 L430.6 1319.4 L432.1 1319.4 L433.1 1317.8 L434.7 1317.9 L435.4 1319.6 L437 1319.7 L438.1 1318.1 L439.7 1318.2 L440.3 1320 L441.8 1320.1 L443.1 1318.5 L444.7 1318.7 L445.1 1320.5 L446.6 1320.8 L448 1319.1 L449.6 1319.4 L449.8 1321.3 L451.4 1321.6 L452.9 1320 L454.5 1320.3 L454.5 1322.3 L456 1322.6 L457.7 1321 L459.3 1321.3 L459.1 1323.4 L460.6 1323.8 L462.4 1322.2 L464 1322.6 L463.6 1324.7 L465.1 1325.2 L467.1 1323.6 L468.5 1324.1 L468.1 1326.2 L469.5 1326.7 L471.5 1325.1 L473 1325.7 L472.3 1327.9 L473.7 1328.4 L475.9 1326.9 L477.3 1327.5 L476.5 1329.7 L477.8 1330.3 L480.1 1328.8 L481.4 1329.4 L480.5 1331.7 L481.7 1332.3 L484.1 1330.9 L485.4 1331.6 L484.3 1333.8 L485.5 1334.5 L488 1333.1 L489.2 1333.9 L487.9 1336 L489.1 1336.8 L491.7 1335.5 L492.8 1336.3 L491.4 1338.4 L492.5 1339.2 L495.1 1338 L496.2 1338.9 L494.6 1340.9 L495.7 1341.8 L498.4 1340.7 L499.4 1341.6 L497.7 1343.6 L498.6 1344.4 L501.4 1343.4 L502.3 1344.4 L500.5 1346.3 L501.4 1347.2 L504.2 1346.3 L505.1 1347.3 L503.1 1349.2 L503.9 1350.1 L506.8 1349.3 L507.5 1350.3 L505.4 1352.1 L506.2 1353.1 L509.1 1352.4 L509.7 1353.5 L507.6 1355.1 L508.2 1356.1 L511.1 1355.6 L511.7 1356.7 L509.4 1358.2 L509.9 1359.2 L512.9 1358.9 L513.4 1359.9 L511 1361.4 L511.4 1362.4 L514.4 1362.2 L514.8 1363.3 L512.3 1364.6 L512.7 1365.6 L515.6 1365.6 L515.9 1366.7 L513.4 1367.8 L513.7 1368.9 L516.6 1369 L516.8 1370.1 L514.1 1371.1 L514.3 1372.2 L517.2 1372.5 L517.4 1373.6 L514.7 1374.4 L514.8 1375.5 L517.6 1375.9 L517.7 1377.1 L514.9 1377.7Z" fill="#fff" stroke="#27272a" stroke-width="1.52" stroke-linejoin="round" stroke-linecap="round" />
<path d="M514.9 1376.2 L517.7 1376.8 L517.7 1377.9 L514.8 1378.4 L514.8 1379.5 L517.5 1380.3 L517.4 1381.4 L514.5 1381.8 L514.3 1382.8 L517 1383.8 L516.8 1384.9 L513.9 1385.1 L513.7 1386.1 L516.3 1387.2 L515.9 1388.3 L513 1388.3 L512.7 1389.4 L515.2 1390.6 L514.8 1391.7 L511.9 1391.6 L511.4 1392.6 L513.9 1394 L513.4 1395.1 L510.5 1394.8 L509.9 1395.8 L512.3 1397.3 L511.7 1398.3 L508.8 1397.9 L508.2 1398.9 L510.4 1400.5 L509.7 1401.5 L506.8 1401 L506.2 1401.9 L508.3 1403.7 L507.5 1404.7 L504.7 1403.9 L503.9 1404.9 L505.9 1406.7 L505.1 1407.7 L502.2 1406.8 L501.4 1407.8 L503.3 1409.7 L502.3 1410.6 L499.5 1409.7 L498.6 1410.6 L500.4 1412.5 L499.4 1413.4 L496.6 1412.4 L495.7 1413.2 L497.3 1415.3 L496.2 1416.1 L493.5 1415 L492.5 1415.8 L493.9 1417.9 L492.8 1418.7 L490.2 1417.4 L489.1 1418.2 L490.4 1420.4 L489.2 1421.1 L486.7 1419.8 L485.5 1420.5 L486.7 1422.7 L485.4 1423.4 L483 1422 L481.7 1422.7 L482.7 1424.9 L481.4 1425.6 L479.1 1424.1 L477.8 1424.7 L478.6 1426.9 L477.3 1427.5 L475 1426 L473.7 1426.6 L474.4 1428.7 L473 1429.3 L470.9 1427.7 L469.5 1428.3 L470 1430.4 L468.5 1430.9 L466.5 1429.3 L465.1 1429.8 L465.5 1431.9 L464 1432.4 L462.1 1430.8 L460.6 1431.2 L460.8 1433.3 L459.3 1433.7 L457.5 1432 L456 1432.4 L456.1 1434.4 L454.5 1434.7 L452.9 1433.1 L451.4 1433.4 L451.2 1435.3 L449.6 1435.6 L448.2 1434 L446.6 1434.2 L446.3 1436.1 L444.7 1436.3 L443.4 1434.7 L441.8 1434.9 L441.4 1436.7 L439.7 1436.8 L438.6 1435.2 L437 1435.3 L436.4 1437 L434.7 1437.1 L433.7 1435.5 L432.1 1435.6 L431.3 1437.2 L429.7 1437.2 L428.8 1435.6 L427.3 1435.6 L426.3 1437.2 L424.7 1437.1 L424 1435.4 L422.4 1435.3 L421.3 1436.9 L419.7 1436.8 L419.1 1435 L417.6 1434.9 L416.3 1436.5 L414.7 1436.3 L414.3 1434.5 L412.8 1434.2 L411.4 1435.9 L409.8 1435.6 L409.6 1433.7 L408 1433.4 L406.5 1435 L404.9 1434.7 L404.9 1432.7 L403.4 1432.4 L401.7 1434 L400.1 1433.7 L400.3 1431.6 L398.8 1431.2 L397 1432.8 L395.4 1432.4 L395.8 1430.3 L394.3 1429.8 L392.3 1431.4 L390.9 1430.9 L391.3 1428.8 L389.9 1428.3 L387.9 1429.9 L386.4 1429.3 L387.1 1427.1 L385.7 1426.6 L383.5 1428.1 L382.1 1427.5 L382.9 1425.3 L381.6 1424.7 L379.3 1426.2 L378 1425.6 L378.9 1423.3 L377.7 1422.7 L375.3 1424.1 L374 1423.4 L375.1 1421.2 L373.9 1420.5 L371.4 1421.9 L370.2 1421.1 L371.5 1419 L370.3 1418.2 L367.7 1419.5 L366.6 1418.7 L368 1416.6 L366.9 1415.8 L364.3 1417 L363.2 1416.1 L364.8 1414.1 L363.7 1413.2 L361 1414.3 L360 1413.4 L361.7 1411.4 L360.8 1410.6 L358 1411.6 L357.1 1410.6 L358.9 1408.7 L358 1407.8 L355.2 1408.7 L354.3 1407.7 L356.3 1405.8 L355.5 1404.9 L352.6 1405.7 L351.9 1404.7 L354 1402.9 L353.2 1401.9 L350.3 1402.6 L349.7 1401.5 L351.8 1399.9 L351.2 1398.9 L348.3 1399.4 L347.7 1398.3 L350 1396.8 L349.5 1395.8 L346.5 1396.1 L346 1395.1 L348.4 1393.6 L348 1392.6 L345 1392.8 L344.6 1391.7 L347.1 1390.4 L346.7 1389.4 L343.8 1389.4 L343.5 1388.3 L346 1387.2 L345.7 1386.1 L342.8 1386 L342.6 1384.9 L345.3 1383.9 L345.1 1382.8 L342.2 1382.5 L342 1381.4 L344.7 1380.6 L344.6 1379.5 L341.8 1379.1 L341.7 1377.9 L344.5 1377.3 L344.5 1376.2 L341.7 1375.6 L341.7 1374.5 L344.6 1374 L344.6 1372.9 L341.9 1372.1 L342 1371 L344.9 1370.6 L345.1 1369.6 L342.4 1368.6 L342.6 1367.5 L345.5 1367.3 L345.7 1366.3 L343.1 1365.2 L343.5 1364.1 L346.4 1364.1 L346.7 1363 L344.2 1361.8 L344.6 1360.7 L347.5 1360.8 L348 1359.8 L345.5 1358.4 L346 1357.3 L348.9 1357.6 L349.5 1356.6 L347.1 1355.1 L347.7 1354.1 L350.6 1354.5 L351.2 1353.5 L349 1351.9 L349.7 1350.9 L352.6 1351.4 L353.2 1350.5 L351.1 1348.7 L351.9 1347.7 L354.7 1348.5 L355.5 1347.5 L353.5 1345.7 L354.3 1344.7 L357.2 1345.6 L358 1344.6 L356.1 1342.7 L357.1 1341.8 L359.9 1342.7 L360.8 1341.8 L359 1339.9 L360 1339 L362.8 1340 L363.7 1339.2 L362.1 1337.1 L363.2 1336.3 L365.9 1337.4 L366.9 1336.6 L365.5 1334.5 L366.6 1333.7 L369.2 1335 L370.3 1334.2 L369 1332 L370.2 1331.3 L372.7 1332.6 L373.9 1331.9 L372.7 1329.7 L374 1329 L376.4 1330.4 L377.7 1329.7 L376.7 1327.5 L378 1326.8 L380.3 1328.3 L381.6 1327.7 L380.8 1325.5 L382.1 1324.9 L384.4 1326.4 L385.7 1325.8 L385 1323.7 L386.4 1323.1 L388.5 1324.7 L389.9 1324.1 L389.4 1322 L390.9 1321.5 L392.9 1323.1 L394.3 1322.6 L393.9 1320.5 L395.4 1320 L397.3 1321.6 L398.8 1321.2 L398.6 1319.1 L400.1 1318.7 L401.9 1320.4 L403.4 1320 L403.3 1318 L404.9 1317.7 L406.5 1319.3 L408 1319 L408.2 1317.1 L409.8 1316.8 L411.2 1318.4 L412.8 1318.2 L413.1 1316.3 L414.7 1316.1 L416 1317.7 L417.6 1317.5 L418 1315.7 L419.7 1315.6 L420.8 1317.2 L422.4 1317.1 L423 1315.4 L424.7 1315.3 L425.7 1316.9 L427.3 1316.8 L428.1 1315.2 L429.7 1315.2 L430.6 1316.8 L432.1 1316.8 L433.1 1315.2 L434.7 1315.3 L435.4 1317 L437 1317.1 L438.1 1315.5 L439.7 1315.6 L440.3 1317.4 L441.8 1317.5 L443.1 1315.9 L444.7 1316.1 L445.1 1317.9 L446.6 1318.2 L448 1316.5 L449.6 1316.8 L449.8 1318.7 L451.4 1319 L452.9 1317.4 L454.5 1317.7 L454.5 1319.7 L456 1320 L457.7 1318.4 L459.3 1318.7 L459.1 1320.8 L460.6 1321.2 L462.4 1319.6 L464 1320 L463.6 1322.1 L465.1 1322.6 L467.1 1321 L468.5 1321.5 L468.1 1323.6 L469.5 1324.1 L471.5 1322.5 L473 1323.1 L472.3 1325.3 L473.7 1325.8 L475.9 1324.3 L477.3 1324.9 L476.5 1327.1 L477.8 1327.7 L480.1 1326.2 L481.4 1326.8 L480.5 1329.1 L481.7 1329.7 L484.1 1328.3 L485.4 1329 L484.3 1331.2 L485.5 1331.9 L488 1330.5 L489.2 1331.3 L487.9 1333.4 L489.1 1334.2 L491.7 1332.9 L492.8 1333.7 L491.4 1335.8 L492.5 1336.6 L495.1 1335.4 L496.2 1336.3 L494.6 1338.3 L495.7 1339.2 L498.4 1338.1 L499.4 1339 L497.7 1341 L498.6 1341.8 L501.4 1340.8 L502.3 1341.8 L500.5 1343.7 L501.4 1344.6 L504.2 1343.7 L505.1 1344.7 L503.1 1346.6 L503.9 1347.5 L506.8 1346.7 L507.5 1347.7 L505.4 1349.5 L506.2 1350.5 L509.1 1349.8 L509.7 1350.9 L507.6 1352.5 L508.2 1353.5 L511.1 1353 L511.7 1354.1 L509.4 1355.6 L509.9 1356.6 L512.9 1356.3 L513.4 1357.3 L511 1358.8 L511.4 1359.8 L514.4 1359.6 L514.8 1360.7 L512.3 1362 L512.7 1363 L515.6 1363 L515.9 1364.1 L513.4 1365.2 L513.7 1366.3 L516.6 1366.4 L516.8 1367.5 L514.1 1368.5 L514.3 1369.6 L517.2 1369.9 L517.4 1371 L514.7 1371.8 L514.8 1372.9 L517.6 1373.3 L517.7 1374.5 L514.9 1375.1Z" fill="#fff" stroke="#27272a" stroke-width="1.52" stroke-linejoin="round" stroke-linecap="round" />
<path d="M514.9 1373.6 L517.7 1374.2 L517.7 1375.3 L514.8 1375.8 L514.8 1376.9 L517.5 1377.7 L517.4 1378.8 L514.5 1379.2 L514.3 1380.2 L517 1381.2 L516.8 1382.3 L513.9 1382.5 L513.7 1383.5 L516.3 1384.6 L515.9 1385.7 L513 1385.7 L512.7 1386.8 L515.2 1388 L514.8 1389.1 L511.9 1389 L511.4 1390 L513.9 1391.4 L513.4 1392.5 L510.5 1392.2 L509.9 1393.2 L512.3 1394.7 L511.7 1395.7 L508.8 1395.3 L508.2 1396.3 L510.4 1397.9 L509.7 1398.9 L506.8 1398.4 L506.2 1399.3 L508.3 1401.1 L507.5 1402.1 L504.7 1401.3 L503.9 1402.3 L505.9 1404.1 L505.1 1405.1 L502.2 1404.2 L501.4 1405.2 L503.3 1407.1 L502.3 1408 L499.5 1407.1 L498.6 1408 L500.4 1409.9 L499.4 1410.8 L496.6 1409.8 L495.7 1410.6 L497.3 1412.7 L496.2 1413.5 L493.5 1412.4 L492.5 1413.2 L493.9 1415.3 L492.8 1416.1 L490.2 1414.8 L489.1 1415.6 L490.4 1417.8 L489.2 1418.5 L486.7 1417.2 L485.5 1417.9 L486.7 1420.1 L485.4 1420.8 L483 1419.4 L481.7 1420.1 L482.7 1422.3 L481.4 1423 L479.1 1421.5 L477.8 1422.1 L478.6 1424.3 L477.3 1424.9 L475 1423.4 L473.7 1424 L474.4 1426.1 L473 1426.7 L470.9 1425.1 L469.5 1425.7 L470 1427.8 L468.5 1428.3 L466.5 1426.7 L465.1 1427.2 L465.5 1429.3 L464 1429.8 L462.1 1428.2 L460.6 1428.6 L460.8 1430.7 L459.3 1431.1 L457.5 1429.4 L456 1429.8 L456.1 1431.8 L454.5 1432.1 L452.9 1430.5 L451.4 1430.8 L451.2 1432.7 L449.6 1433 L448.2 1431.4 L446.6 1431.6 L446.3 1433.5 L444.7 1433.7 L443.4 1432.1 L441.8 1432.3 L441.4 1434.1 L439.7 1434.2 L438.6 1432.6 L437 1432.7 L436.4 1434.4 L434.7 1434.5 L433.7 1432.9 L432.1 1433 L431.3 1434.6 L429.7 1434.6 L428.8 1433 L427.3 1433 L426.3 1434.6 L424.7 1434.5 L424 1432.8 L422.4 1432.7 L421.3 1434.3 L419.7 1434.2 L419.1 1432.4 L417.6 1432.3 L416.3 1433.9 L414.7 1433.7 L414.3 1431.9 L412.8 1431.6 L411.4 1433.3 L409.8 1433 L409.6 1431.1 L408 1430.8 L406.5 1432.4 L404.9 1432.1 L404.9 1430.1 L403.4 1429.8 L401.7 1431.4 L400.1 1431.1 L400.3 1429 L398.8 1428.6 L397 1430.2 L395.4 1429.8 L395.8 1427.7 L394.3 1427.2 L392.3 1428.8 L390.9 1428.3 L391.3 1426.2 L389.9 1425.7 L387.9 1427.3 L386.4 1426.7 L387.1 1424.5 L385.7 1424 L383.5 1425.5 L382.1 1424.9 L382.9 1422.7 L381.6 1422.1 L379.3 1423.6 L378 1423 L378.9 1420.7 L377.7 1420.1 L375.3 1421.5 L374 1420.8 L375.1 1418.6 L373.9 1417.9 L371.4 1419.3 L370.2 1418.5 L371.5 1416.4 L370.3 1415.6 L367.7 1416.9 L366.6 1416.1 L368 1414 L366.9 1413.2 L364.3 1414.4 L363.2 1413.5 L364.8 1411.5 L363.7 1410.6 L361 1411.7 L360 1410.8 L361.7 1408.8 L360.8 1408 L358 1409 L357.1 1408 L358.9 1406.1 L358 1405.2 L355.2 1406.1 L354.3 1405.1 L356.3 1403.2 L355.5 1402.3 L352.6 1403.1 L351.9 1402.1 L354 1400.3 L353.2 1399.3 L350.3 1400 L349.7 1398.9 L351.8 1397.3 L351.2 1396.3 L348.3 1396.8 L347.7 1395.7 L350 1394.2 L349.5 1393.2 L346.5 1393.5 L346 1392.5 L348.4 1391 L348 1390 L345 1390.2 L344.6 1389.1 L347.1 1387.8 L346.7 1386.8 L343.8 1386.8 L343.5 1385.7 L346 1384.6 L345.7 1383.5 L342.8 1383.4 L342.6 1382.3 L345.3 1381.3 L345.1 1380.2 L342.2 1379.9 L342 1378.8 L344.7 1378 L344.6 1376.9 L341.8 1376.5 L341.7 1375.3 L344.5 1374.7 L344.5 1373.6 L341.7 1373 L341.7 1371.9 L344.6 1371.4 L344.6 1370.3 L341.9 1369.5 L342 1368.4 L344.9 1368 L345.1 1367 L342.4 1366 L342.6 1364.9 L345.5 1364.7 L345.7 1363.7 L343.1 1362.6 L343.5 1361.5 L346.4 1361.5 L346.7 1360.4 L344.2 1359.2 L344.6 1358.1 L347.5 1358.2 L348 1357.2 L345.5 1355.8 L346 1354.7 L348.9 1355 L349.5 1354 L347.1 1352.5 L347.7 1351.5 L350.6 1351.9 L351.2 1350.9 L349 1349.3 L349.7 1348.3 L352.6 1348.8 L353.2 1347.9 L351.1 1346.1 L351.9 1345.1 L354.7 1345.9 L355.5 1344.9 L353.5 1343.1 L354.3 1342.1 L357.2 1343 L358 1342 L356.1 1340.1 L357.1 1339.2 L359.9 1340.1 L360.8 1339.2 L359 1337.3 L360 1336.4 L362.8 1337.4 L363.7 1336.6 L362.1 1334.5 L363.2 1333.7 L365.9 1334.8 L366.9 1334 L365.5 1331.9 L366.6 1331.1 L369.2 1332.4 L370.3 1331.6 L369 1329.4 L370.2 1328.7 L372.7 1330 L373.9 1329.3 L372.7 1327.1 L374 1326.4 L376.4 1327.8 L377.7 1327.1 L376.7 1324.9 L378 1324.2 L380.3 1325.7 L381.6 1325.1 L380.8 1322.9 L382.1 1322.3 L384.4 1323.8 L385.7 1323.2 L385 1321.1 L386.4 1320.5 L388.5 1322.1 L389.9 1321.5 L389.4 1319.4 L390.9 1318.9 L392.9 1320.5 L394.3 1320 L393.9 1317.9 L395.4 1317.4 L397.3 1319 L398.8 1318.6 L398.6 1316.5 L400.1 1316.1 L401.9 1317.8 L403.4 1317.4 L403.3 1315.4 L404.9 1315.1 L406.5 1316.7 L408 1316.4 L408.2 1314.5 L409.8 1314.2 L411.2 1315.8 L412.8 1315.6 L413.1 1313.7 L414.7 1313.5 L416 1315.1 L417.6 1314.9 L418 1313.1 L419.7 1313 L420.8 1314.6 L422.4 1314.5 L423 1312.8 L424.7 1312.7 L425.7 1314.3 L427.3 1314.2 L428.1 1312.6 L429.7 1312.6 L430.6 1314.2 L432.1 1314.2 L433.1 1312.6 L434.7 1312.7 L435.4 1314.4 L437 1314.5 L438.1 1312.9 L439.7 1313 L440.3 1314.8 L441.8 1314.9 L443.1 1313.3 L444.7 1313.5 L445.1 1315.3 L446.6 1315.6 L448 1313.9 L449.6 1314.2 L449.8 1316.1 L451.4 1316.4 L452.9 1314.8 L454.5 1315.1 L454.5 1317.1 L456 1317.4 L457.7 1315.8 L459.3 1316.1 L459.1 1318.2 L460.6 1318.6 L462.4 1317 L464 1317.4 L463.6 1319.5 L465.1 1320 L467.1 1318.4 L468.5 1318.9 L468.1 1321 L469.5 1321.5 L471.5 1319.9 L473 1320.5 L472.3 1322.7 L473.7 1323.2 L475.9 1321.7 L477.3 1322.3 L476.5 1324.5 L477.8 1325.1 L480.1 1323.6 L481.4 1324.2 L480.5 1326.5 L481.7 1327.1 L484.1 1325.7 L485.4 1326.4 L484.3 1328.6 L485.5 1329.3 L488 1327.9 L489.2 1328.7 L487.9 1330.8 L489.1 1331.6 L491.7 1330.3 L492.8 1331.1 L491.4 1333.2 L492.5 1334 L495.1 1332.8 L496.2 1333.7 L494.6 1335.7 L495.7 1336.6 L498.4 1335.5 L499.4 1336.4 L497.7 1338.4 L498.6 1339.2 L501.4 1338.2 L502.3 1339.2 L500.5 1341.1 L501.4 1342 L504.2 1341.1 L505.1 1342.1 L503.1 1344 L503.9 1344.9 L506.8 1344.1 L507.5 1345.1 L505.4 1346.9 L506.2 1347.9 L509.1 1347.2 L509.7 1348.3 L507.6 1349.9 L508.2 1350.9 L511.1 1350.4 L511.7 1351.5 L509.4 1353 L509.9 1354 L512.9 1353.7 L513.4 1354.7 L511 1356.2 L511.4 1357.2 L514.4 1357 L514.8 1358.1 L512.3 1359.4 L512.7 1360.4 L515.6 1360.4 L515.9 1361.5 L513.4 1362.6 L513.7 1363.7 L516.6 1363.8 L516.8 1364.9 L514.1 1365.9 L514.3 1367 L517.2 1367.3 L517.4 1368.4 L514.7 1369.2 L514.8 1370.3 L517.6 1370.7 L517.7 1371.9 L514.9 1372.5Z" fill="#fff" stroke="#27272a" stroke-width="1.52" stroke-linejoin="round" stroke-linecap="round" />
<path d="M514.9 1371 L517.7 1371.6 L517.7 1372.7 L514.8 1373.2 L514.8 1374.3 L517.5 1375.1 L517.4 1376.2 L514.5 1376.6 L514.3 1377.6 L517 1378.6 L516.8 1379.7 L513.9 1379.9 L513.7 1380.9 L516.3 1382 L515.9 1383.1 L513 1383.1 L512.7 1384.2 L515.2 1385.4 L514.8 1386.5 L511.9 1386.4 L511.4 1387.4 L513.9 1388.8 L513.4 1389.9 L510.5 1389.6 L509.9 1390.6 L512.3 1392.1 L511.7 1393.1 L508.8 1392.7 L508.2 1393.7 L510.4 1395.3 L509.7 1396.3 L506.8 1395.8 L506.2 1396.7 L508.3 1398.5 L507.5 1399.5 L504.7 1398.7 L503.9 1399.7 L505.9 1401.5 L505.1 1402.5 L502.2 1401.6 L501.4 1402.6 L503.3 1404.5 L502.3 1405.4 L499.5 1404.5 L498.6 1405.4 L500.4 1407.3 L499.4 1408.2 L496.6 1407.2 L495.7 1408 L497.3 1410.1 L496.2 1410.9 L493.5 1409.8 L492.5 1410.6 L493.9 1412.7 L492.8 1413.5 L490.2 1412.2 L489.1 1413 L490.4 1415.2 L489.2 1415.9 L486.7 1414.6 L485.5 1415.3 L486.7 1417.5 L485.4 1418.2 L483 1416.8 L481.7 1417.5 L482.7 1419.7 L481.4 1420.4 L479.1 1418.9 L477.8 1419.5 L478.6 1421.7 L477.3 1422.3 L475 1420.8 L473.7 1421.4 L474.4 1423.5 L473 1424.1 L470.9 1422.5 L469.5 1423.1 L470 1425.2 L468.5 1425.7 L466.5 1424.1 L465.1 1424.6 L465.5 1426.7 L464 1427.2 L462.1 1425.6 L460.6 1426 L460.8 1428.1 L459.3 1428.5 L457.5 1426.8 L456 1427.2 L456.1 1429.2 L454.5 1429.5 L452.9 1427.9 L451.4 1428.2 L451.2 1430.1 L449.6 1430.4 L448.2 1428.8 L446.6 1429 L446.3 1430.9 L444.7 1431.1 L443.4 1429.5 L441.8 1429.7 L441.4 1431.5 L439.7 1431.6 L438.6 1430 L437 1430.1 L436.4 1431.8 L434.7 1431.9 L433.7 1430.3 L432.1 1430.4 L431.3 1432 L429.7 1432 L428.8 1430.4 L427.3 1430.4 L426.3 1432 L424.7 1431.9 L424 1430.2 L422.4 1430.1 L421.3 1431.7 L419.7 1431.6 L419.1 1429.8 L417.6 1429.7 L416.3 1431.3 L414.7 1431.1 L414.3 1429.3 L412.8 1429 L411.4 1430.7 L409.8 1430.4 L409.6 1428.5 L408 1428.2 L406.5 1429.8 L404.9 1429.5 L404.9 1427.5 L403.4 1427.2 L401.7 1428.8 L400.1 1428.5 L400.3 1426.4 L398.8 1426 L397 1427.6 L395.4 1427.2 L395.8 1425.1 L394.3 1424.6 L392.3 1426.2 L390.9 1425.7 L391.3 1423.6 L389.9 1423.1 L387.9 1424.7 L386.4 1424.1 L387.1 1421.9 L385.7 1421.4 L383.5 1422.9 L382.1 1422.3 L382.9 1420.1 L381.6 1419.5 L379.3 1421 L378 1420.4 L378.9 1418.1 L377.7 1417.5 L375.3 1418.9 L374 1418.2 L375.1 1416 L373.9 1415.3 L371.4 1416.7 L370.2 1415.9 L371.5 1413.8 L370.3 1413 L367.7 1414.3 L366.6 1413.5 L368 1411.4 L366.9 1410.6 L364.3 1411.8 L363.2 1410.9 L364.8 1408.9 L363.7 1408 L361 1409.1 L360 1408.2 L361.7 1406.2 L360.8 1405.4 L358 1406.4 L357.1 1405.4 L358.9 1403.5 L358 1402.6 L355.2 1403.5 L354.3 1402.5 L356.3 1400.6 L355.5 1399.7 L352.6 1400.5 L351.9 1399.5 L354 1397.7 L353.2 1396.7 L350.3 1397.4 L349.7 1396.3 L351.8 1394.7 L351.2 1393.7 L348.3 1394.2 L347.7 1393.1 L350 1391.6 L349.5 1390.6 L346.5 1390.9 L346 1389.9 L348.4 1388.4 L348 1387.4 L345 1387.6 L344.6 1386.5 L347.1 1385.2 L346.7 1384.2 L343.8 1384.2 L343.5 1383.1 L346 1382 L345.7 1380.9 L342.8 1380.8 L342.6 1379.7 L345.3 1378.7 L345.1 1377.6 L342.2 1377.3 L342 1376.2 L344.7 1375.4 L344.6 1374.3 L341.8 1373.9 L341.7 1372.7 L344.5 1372.1 L344.5 1371 L341.7 1370.4 L341.7 1369.3 L344.6 1368.8 L344.6 1367.7 L341.9 1366.9 L342 1365.8 L344.9 1365.4 L345.1 1364.4 L342.4 1363.4 L342.6 1362.3 L345.5 1362.1 L345.7 1361.1 L343.1 1360 L343.5 1358.9 L346.4 1358.9 L346.7 1357.8 L344.2 1356.6 L344.6 1355.5 L347.5 1355.6 L348 1354.6 L345.5 1353.2 L346 1352.1 L348.9 1352.4 L349.5 1351.4 L347.1 1349.9 L347.7 1348.9 L350.6 1349.3 L351.2 1348.3 L349 1346.7 L349.7 1345.7 L352.6 1346.2 L353.2 1345.3 L351.1 1343.5 L351.9 1342.5 L354.7 1343.3 L355.5 1342.3 L353.5 1340.5 L354.3 1339.5 L357.2 1340.4 L358 1339.4 L356.1 1337.5 L357.1 1336.6 L359.9 1337.5 L360.8 1336.6 L359 1334.7 L360 1333.8 L362.8 1334.8 L363.7 1334 L362.1 1331.9 L363.2 1331.1 L365.9 1332.2 L366.9 1331.4 L365.5 1329.3 L366.6 1328.5 L369.2 1329.8 L370.3 1329 L369 1326.8 L370.2 1326.1 L372.7 1327.4 L373.9 1326.7 L372.7 1324.5 L374 1323.8 L376.4 1325.2 L377.7 1324.5 L376.7 1322.3 L378 1321.6 L380.3 1323.1 L381.6 1322.5 L380.8 1320.3 L382.1 1319.7 L384.4 1321.2 L385.7 1320.6 L385 1318.5 L386.4 1317.9 L388.5 1319.5 L389.9 1318.9 L389.4 1316.8 L390.9 1316.3 L392.9 1317.9 L394.3 1317.4 L393.9 1315.3 L395.4 1314.8 L397.3 1316.4 L398.8 1316 L398.6 1313.9 L400.1 1313.5 L401.9 1315.2 L403.4 1314.8 L403.3 1312.8 L404.9 1312.5 L406.5 1314.1 L408 1313.8 L408.2 1311.9 L409.8 1311.6 L411.2 1313.2 L412.8 1313 L413.1 1311.1 L414.7 1310.9 L416 1312.5 L417.6 1312.3 L418 1310.5 L419.7 1310.4 L420.8 1312 L422.4 1311.9 L423 1310.2 L424.7 1310.1 L425.7 1311.7 L427.3 1311.6 L428.1 1310 L429.7 1310 L430.6 1311.6 L432.1 1311.6 L433.1 1310 L434.7 1310.1 L435.4 1311.8 L437 1311.9 L438.1 1310.3 L439.7 1310.4 L440.3 1312.2 L441.8 1312.3 L443.1 1310.7 L444.7 1310.9 L445.1 1312.7 L446.6 1313 L448 1311.3 L449.6 1311.6 L449.8 1313.5 L451.4 1313.8 L452.9 1312.2 L454.5 1312.5 L454.5 1314.5 L456 1314.8 L457.7 1313.2 L459.3 1313.5 L459.1 1315.6 L460.6 1316 L462.4 1314.4 L464 1314.8 L463.6 1316.9 L465.1 1317.4 L467.1 1315.8 L468.5 1316.3 L468.1 1318.4 L469.5 1318.9 L471.5 1317.3 L473 1317.9 L472.3 1320.1 L473.7 1320.6 L475.9 1319.1 L477.3 1319.7 L476.5 1321.9 L477.8 1322.5 L480.1 1321 L481.4 1321.6 L480.5 1323.9 L481.7 1324.5 L484.1 1323.1 L485.4 1323.8 L484.3 1326 L485.5 1326.7 L488 1325.3 L489.2 1326.1 L487.9 1328.2 L489.1 1329 L491.7 1327.7 L492.8 1328.5 L491.4 1330.6 L492.5 1331.4 L495.1 1330.2 L496.2 1331.1 L494.6 1333.1 L495.7 1334 L498.4 1332.9 L499.4 1333.8 L497.7 1335.8 L498.6 1336.6 L501.4 1335.6 L502.3 1336.6 L500.5 1338.5 L501.4 1339.4 L504.2 1338.5 L505.1 1339.5 L503.1 1341.4 L503.9 1342.3 L506.8 1341.5 L507.5 1342.5 L505.4 1344.3 L506.2 1345.3 L509.1 1344.6 L509.7 1345.7 L507.6 1347.3 L508.2 1348.3 L511.1 1347.8 L511.7 1348.9 L509.4 1350.4 L509.9 1351.4 L512.9 1351.1 L513.4 1352.1 L511 1353.6 L511.4 1354.6 L514.4 1354.4 L514.8 1355.5 L512.3 1356.8 L512.7 1357.8 L515.6 1357.8 L515.9 1358.9 L513.4 1360 L513.7 1361.1 L516.6 1361.2 L516.8 1362.3 L514.1 1363.3 L514.3 1364.4 L517.2 1364.7 L517.4 1365.8 L514.7 1366.6 L514.8 1367.7 L517.6 1368.1 L517.7 1369.3 L514.9 1369.9Z" fill="#fff" stroke="#27272a" stroke-width="1.45" stroke-linejoin="round" stroke-linecap="round" />
<ellipse cx="429.7" cy="1370.5" rx="84" ry="57.6" fill="#fff" stroke="#27272a" stroke-width="1.58" />
<path d="M349.7 1387 A84 57.6 0 0 0 509.7 1387" fill="none" stroke="#27272a" stroke-width="1.32" stroke-linejoin="round" stroke-linecap="round" />
<ellipse cx="429.7" cy="1367" rx="45.5" ry="32" fill="none" stroke="#27272a" stroke-width="1.72" />
<ellipse cx="429.7" cy="1367.5" rx="42" ry="29" fill="none" stroke="#27272a" stroke-width="1.32" />
<ellipse cx="429.7" cy="1366" rx="21" ry="15" fill="#fff" stroke="#27272a" stroke-width="1.85" />
<ellipse cx="429.7" cy="1366" rx="17" ry="12" fill="none" stroke="#27272a" stroke-width="1.45" />
<ellipse cx="429.7" cy="1365.5" rx="12" ry="8.4" fill="none" stroke="#27272a" stroke-width="1.45" />
<ellipse cx="429.7" cy="1365" rx="7" ry="5" fill="#fff" stroke="#27272a" stroke-width="1.58" />
<ellipse cx="429.2" cy="1361" rx="3.6" ry="2.6" fill="#fff" stroke="#27272a" stroke-width="1.58" />
<line x1="430.2" y1="1270" x2="429.9" y2="1360" stroke="#27272a" stroke-width="1.1" />
<path d="M0 0 Q14.1 -2.3 29.2 -7.8 A8.1 8.1 0 1 1 29.2 7.8 Q14.1 2.3 0 0Z" transform="translate(443.3 1367.7) rotate(-45.1)" fill="#2f9fc6" stroke="none" stroke-width="1.4"/>
<path d="M0 0 Q15.4 -2.6 31.9 -8.5 A8.8 8.8 0 1 1 31.9 8.5 Q15.4 2.6 0 0Z" transform="translate(416.2 1460) rotate(134)" fill="#2f9fc6" stroke="none" stroke-width="1.4"/>
<path d="M791.3 567 L791.3 574.2 Q793.7 577.6 796.1 574.2 L796.1 567" fill="#fff" stroke="#27272a" stroke-width="1.58" stroke-linejoin="round" stroke-linecap="round" />
<path d="M788 565 L788 568.2 A5.8 4 0 0 0 799.5 568.2 L799.5 565" fill="#555" stroke="#3a3a3c" stroke-width="1.98" stroke-linejoin="round" stroke-linecap="round" />
<ellipse cx="793.7" cy="565" rx="5.8" ry="4" fill="#9a9a9a" stroke="#3a3a3c" stroke-width="2.38" />
<line x1="790.2" y1="565.3" x2="797.2" y2="564.4" stroke="#f2f2f2" stroke-width="1.6" />
<path d="M831.3 567 L831.3 574.2 Q833.7 577.6 836.1 574.2 L836.1 567" fill="#fff" stroke="#27272a" stroke-width="1.58" stroke-linejoin="round" stroke-linecap="round" />
<path d="M828 565 L828 568.2 A5.8 4 0 0 0 839.5 568.2 L839.5 565" fill="#555" stroke="#3a3a3c" stroke-width="1.98" stroke-linejoin="round" stroke-linecap="round" />
<ellipse cx="833.7" cy="565" rx="5.8" ry="4" fill="#9a9a9a" stroke="#3a3a3c" stroke-width="2.38" />
<line x1="830.2" y1="565.3" x2="837.2" y2="564.4" stroke="#f2f2f2" stroke-width="1.6" />
<path d="M594.9 811 C595.1 808 595.1 799.9 596.3 793.4 C597.4 786.8 599 779.4 601.7 771.7 C604.4 764 608 755.4 612.5 747.3 C617 739.2 622.4 730.6 628.8 722.9 C635.1 715.3 642.3 708.3 650.4 701.3 C658.6 694.3 667.6 687.3 677.5 681 C687.5 674.6 698.3 668.8 710 663.3 C721.8 657.9 734.9 652.5 748 648.4 C761.1 644.4 776 641.2 788.6 639 C801.2 636.7 811.6 635.4 823.8 634.9 C836 634.4 849.1 634.7 861.7 636.3 C874.4 637.8 887.9 641 899.7 644.4 C911.4 647.8 922.2 652.1 932.2 656.6 C942.1 661.1 951.1 666.3 959.3 671.5 C967.4 676.7 975.1 682.8 980.9 687.7 C986.8 692.7 992.2 699 994.5 701.3 L993.9 710.8 L967.4 718.9 L966 723.5 L960.6 721.3 L929.5 739.2 L927.3 743.8 L922.7 741.9 L922.7 741.9 C920.7 744.2 914.8 750 910.5 755.5 C906.2 760.9 901.9 767.2 897 774.4 C892 781.6 885.7 792 880.7 798.8 C875.7 805.6 872.1 810.1 867.2 815 C862.2 820 857.2 825 850.9 828.6 C844.6 832.2 836.9 835 829.2 836.7 C821.6 838.4 813 839.3 804.8 838.9 C796.7 838.4 788.6 836.4 780.5 834 C772.3 831.6 764.2 827.7 756.1 824.5 C748 821.4 740.3 817.8 731.7 815 C723.1 812.3 713.4 809.9 704.6 808.3 C695.8 806.7 683.2 806 678.9 805.6 L678.1 810.2 L628.8 810.2 L628.2 815 L594.9 819.7Z" fill="#fff" stroke="#27272a" stroke-width="1.98" stroke-linejoin="round" stroke-linecap="round" />
<path d="M624.7 799.3 C625.1 794.7 625.1 781.3 627.4 771.7 C629.7 762.1 633.1 751.4 638.2 741.9 C643.4 732.4 650.2 723.4 658.6 714.8 C666.9 706.2 677.1 697.9 688.4 690.4 C699.6 683 712.7 676 726.3 670.1 C739.8 664.2 755.2 658.8 769.6 655.2 C784.1 651.6 799.4 649.4 813 648.4 C826.5 647.5 837.8 647.7 850.9 649.3 C864 650.8 878.9 653.8 891.5 657.9 C904.2 662.1 916.4 668.3 926.8 674.2 C937.1 680 947.3 688.1 953.8 693.1 C960.4 698.2 964 702.6 966 704.5" fill="none" stroke="#27272a" stroke-width="1.72" stroke-linejoin="round" stroke-linecap="round" />
<path d="M629.3 797.4 C629.8 793.4 629.8 782 632 773.1 C634.3 764.2 637.7 753.2 642.8 744.1 C648 734.9 654.5 726.3 662.6 718.1 C670.8 709.8 680.6 701.8 691.6 694.5 C702.6 687.2 715.2 680 728.5 674.2 C741.7 668.4 756.9 663.1 771 659.6 C785.1 656 799.7 653.8 813 652.8 C826.2 651.8 837.6 652.1 850.4 653.6 C863.1 655.1 877.2 658 889.4 662 C901.6 666 913.4 672 923.5 677.7 C933.6 683.4 943.8 691.7 949.8 696.4 C955.7 701.1 957.7 704.5 959.3 706.1" fill="none" stroke="#27272a" stroke-width="1.45" stroke-linejoin="round" stroke-linecap="round" />
<path d="M959.3 706.1 C954.7 709.9 940.3 721.5 932.2 728.9 C924 736.3 917.3 742.9 910.5 750.6 C903.7 758.2 897.4 767.3 891.5 775 C885.7 782.6 880.7 790.1 875.3 796.6 C869.9 803.1 864.9 809.1 859 814 C853.2 818.8 846.8 822.8 840.1 825.9 C833.3 829 825.6 831.3 818.4 832.4 C811.2 833.5 804.8 833.6 796.7 832.4 C788.6 831.2 778.7 828.3 769.6 825.3 C760.6 822.4 751.6 817.7 742.5 814.5 C733.5 811.3 724.5 808.6 715.5 806.4 C706.4 804.1 698.3 802.3 688.4 801 C678.4 799.6 666.5 798.5 655.9 798.3 C645.2 798 629.9 799.2 624.7 799.3" fill="none" stroke="#27272a" stroke-width="1.58" stroke-linejoin="round" stroke-linecap="round" />
<path d="M966 709.4 C961.3 713.1 945.9 724.3 937.6 731.6 C929.2 738.9 922.7 745.6 915.9 753.3 C909.1 761 902.8 769.9 897 777.7 C891.1 785.4 886.2 793.3 880.7 799.9 C875.2 806.5 870 812.2 863.9 817.2 C857.8 822.2 851.5 826.7 844.1 829.9 C836.8 833.2 823.8 835.6 819.7 836.7" fill="none" stroke="#27272a" stroke-width="1.32" stroke-linejoin="round" stroke-linecap="round" />
<path d="M594.9 811 C599.9 809.9 610.7 805.1 624.7 804.2 C638.7 803.3 669.8 805.3 678.9 805.6" fill="none" stroke="#27272a" stroke-width="1.45" stroke-linejoin="round" stroke-linecap="round" />
<polyline points="966,704.5 986.3,700.7 994.5,701.3" fill="none" stroke="#27272a" stroke-width="1.45" stroke-linejoin="round" stroke-linecap="round" />
<polyline points="966,704.5 967.4,718.9" fill="none" stroke="#27272a" stroke-width="1.32" stroke-linejoin="round" stroke-linecap="round" />
<path d="M689.7 699.9 C694 702.4 707.5 710.5 715.5 714.8 C723.4 719.1 729.9 722.5 737.1 725.7 C744.3 728.8 755.2 732.4 758.8 733.8L758.8 733.8 C754.3 737.4 737.6 748.7 731.7 755.5 C725.8 762.2 725.2 767 723.6 774.4 C722 781.9 722.4 795.9 722.2 800.1L722.2 800.1 C716.6 799 698.5 795 688.4 793.4 C678.2 791.8 669.6 791.1 661.3 790.7 C652.9 790.2 642.1 790.7 638.2 790.7L638.2 790.7 C638.7 787.5 638.9 778.9 641 771.7 C643 764.5 646.1 755.4 650.4 747.3 C654.7 739.2 660.1 730.8 666.7 722.9 C673.2 715 685.9 703.8 689.7 699.9Z" fill="#fff" stroke="#27272a" stroke-width="1.98" stroke-linejoin="round" stroke-linecap="round" />
<path d="M833.3 660.6 C838.5 661.3 853.4 662 864.4 664.7 C875.5 667.4 888.8 672.1 899.7 676.9 C910.5 681.6 921.3 688 929.5 693.1 C937.6 698.3 945.3 705.6 948.4 708L948.4 708 C944.8 711 933.5 720 926.8 725.7 C920 731.3 913.4 737.2 907.8 741.9 C902.1 746.6 895.4 752.1 892.9 754.1L892.9 754.1 C889.5 751.2 880 741.2 872.6 736.5 C865.1 731.7 855.9 728.4 848.2 725.7 C840.5 722.9 832.8 721.4 826.5 720.2 C820.2 719.1 813 719.1 810.3 718.9L810.3 718.9 C812.5 715.5 820.4 705.1 823.8 698.6 C827.2 692 829 685.9 830.6 679.6 C832.2 673.3 832.8 663.8 833.3 660.6Z" fill="#fff" stroke="#27272a" stroke-width="1.98" stroke-linejoin="round" stroke-linecap="round" />
<ellipse cx="813" cy="793.4" rx="55.5" ry="40.6" fill="#fff" stroke="#27272a" stroke-width="1.32" />
<ellipse cx="813" cy="793.4" rx="45.5" ry="33" fill="#fff" stroke="#3c3c3e" stroke-width="9.77" />
<ellipse cx="813" cy="793.4" rx="37" ry="27" fill="none" stroke="#27272a" stroke-width="1.45" />
<ellipse cx="792.7" cy="791.2" rx="5.6" ry="4.2" fill="none" stroke="#27272a" stroke-width="1.98" />
<ellipse cx="792.7" cy="791.8" rx="2.8" ry="2.1" fill="none" stroke="#27272a" stroke-width="1.32" />
<ellipse cx="833.3" cy="792.1" rx="5.6" ry="4.2" fill="none" stroke="#27272a" stroke-width="1.98" />
<ellipse cx="833.3" cy="792.7" rx="2.8" ry="2.1" fill="none" stroke="#27272a" stroke-width="1.32" />
<ellipse cx="813" cy="776.6" rx="4" ry="2.8" fill="none" stroke="#27272a" stroke-width="1.98" />
<ellipse cx="811.7" cy="807.5" rx="4" ry="2.8" fill="none" stroke="#27272a" stroke-width="1.98" />
<ellipse cx="811.7" cy="792.2" rx="8.2" ry="6.2" fill="none" stroke="#27272a" stroke-width="1.72" />
<path d="M805 794.4 L812 800.4 L820 794.9" fill="none" stroke="#27272a" stroke-width="1.32" stroke-linejoin="round" stroke-linecap="round" />
<line x1="793.7" y1="578" x2="792.7" y2="790" stroke="#27272a" stroke-width="1.1" />
<line x1="833.7" y1="578" x2="832.7" y2="792" stroke="#27272a" stroke-width="1.1" />
<line x1="793" y1="826" x2="792.1" y2="1012" stroke="#27272a" stroke-width="1.1" />
<line x1="832.6" y1="826" x2="831.9" y2="985" stroke="#27272a" stroke-width="1.1" />
<line x1="813.2" y1="826" x2="812.3" y2="1018" stroke="#27272a" stroke-width="1.1" />
<path d="M1048.4 791.2 L1048.4 799 Q1051 802.8 1053.6 799 L1053.6 791.2" fill="#fff" stroke="#27272a" stroke-width="1.58" stroke-linejoin="round" stroke-linecap="round" />
<path d="M1044.8 789 L1044.8 792.5 A6.2 4.4 0 0 0 1057.2 792.5 L1057.2 789" fill="#555" stroke="#3a3a3c" stroke-width="1.98" stroke-linejoin="round" stroke-linecap="round" />
<ellipse cx="1051" cy="789" rx="6.2" ry="4.4" fill="#9a9a9a" stroke="#3a3a3c" stroke-width="2.38" />
<line x1="1047.2" y1="789.3" x2="1054.8" y2="788.4" stroke="#f2f2f2" stroke-width="1.6" />
<line x1="1051" y1="801" x2="1051" y2="826" stroke="#27272a" stroke-width="1.1" />
<path d="M1079.9 848 L1083.5 848.8 L1083.4 850.4 L1079.7 850.8 L1079.4 852.1 L1082.7 853.6 L1082.3 855.1 L1078.5 854.8 L1077.9 856.1 L1080.9 858.2 L1080.1 859.6 L1076.4 858.7 L1075.6 859.9 L1078.1 862.4 L1076.9 863.7 L1073.5 862.3 L1072.4 863.4 L1074.3 866.1 L1072.9 867.2 L1069.8 865.5 L1068.4 866.4 L1069.7 869.2 L1068.1 870.1 L1065.4 868.1 L1063.9 868.9 L1064.5 871.6 L1062.7 872.2 L1060.6 870.2 L1058.9 870.7 L1058.9 873.2 L1057 873.6 L1055.4 871.5 L1053.7 871.8 L1053 874 L1051 874 L1050.1 872 L1048.3 871.8 L1047 873.8 L1045 873.6 L1044.8 871.1 L1043.1 870.7 L1041.1 872.8 L1039.3 872.2 L1039.7 869.5 L1038.1 868.9 L1035.6 870.9 L1033.9 870.1 L1035 867.3 L1033.6 866.4 L1030.6 868.2 L1029.1 867.2 L1030.8 864.4 L1029.6 863.4 L1026.3 864.9 L1025.1 863.7 L1027.4 861.1 L1026.4 859.9 L1022.8 861 L1021.9 859.6 L1024.7 857.4 L1024.1 856.1 L1020.3 856.6 L1019.7 855.1 L1023 853.4 L1022.6 852.1 L1018.9 851.9 L1018.6 850.4 L1022.2 849.3 L1022.1 848 L1018.5 847.2 L1018.6 845.6 L1022.3 845.2 L1022.6 843.9 L1019.3 842.4 L1019.7 840.9 L1023.5 841.2 L1024.1 839.9 L1021.1 837.8 L1021.9 836.4 L1025.6 837.3 L1026.4 836.1 L1023.9 833.6 L1025.1 832.3 L1028.5 833.7 L1029.6 832.6 L1027.7 829.9 L1029.1 828.8 L1032.2 830.5 L1033.6 829.6 L1032.3 826.8 L1033.9 825.9 L1036.6 827.9 L1038.1 827.1 L1037.5 824.4 L1039.3 823.8 L1041.4 825.8 L1043.1 825.3 L1043.1 822.8 L1045 822.4 L1046.6 824.5 L1048.3 824.2 L1049 822 L1051 822 L1051.9 824 L1053.7 824.2 L1055 822.2 L1057 822.4 L1057.2 824.9 L1058.9 825.3 L1060.9 823.2 L1062.7 823.8 L1062.3 826.5 L1063.9 827.1 L1066.4 825.1 L1068.1 825.9 L1067 828.7 L1068.4 829.6 L1071.4 827.8 L1072.9 828.8 L1071.2 831.6 L1072.4 832.6 L1075.7 831.1 L1076.9 832.3 L1074.6 834.9 L1075.6 836.1 L1079.2 835 L1080.1 836.4 L1077.3 838.6 L1077.9 839.9 L1081.7 839.4 L1082.3 840.9 L1079 842.6 L1079.4 843.9 L1083.1 844.1 L1083.4 845.6 L1079.8 846.7Z" fill="#fff" stroke="#27272a" stroke-width="1.45" stroke-linejoin="round" stroke-linecap="round" />
<path d="M1079.9 845.5 L1083.5 846.3 L1083.4 847.9 L1079.7 848.3 L1079.4 849.6 L1082.7 851.1 L1082.3 852.6 L1078.5 852.3 L1077.9 853.6 L1080.9 855.7 L1080.1 857.1 L1076.4 856.2 L1075.6 857.4 L1078.1 859.9 L1076.9 861.2 L1073.5 859.8 L1072.4 860.9 L1074.3 863.6 L1072.9 864.7 L1069.8 863 L1068.4 863.9 L1069.7 866.7 L1068.1 867.6 L1065.4 865.6 L1063.9 866.4 L1064.5 869.1 L1062.7 869.7 L1060.6 867.7 L1058.9 868.2 L1058.9 870.7 L1057 871.1 L1055.4 869 L1053.7 869.3 L1053 871.5 L1051 871.5 L1050.1 869.5 L1048.3 869.3 L1047 871.3 L1045 871.1 L1044.8 868.6 L1043.1 868.2 L1041.1 870.3 L1039.3 869.7 L1039.7 867 L1038.1 866.4 L1035.6 868.4 L1033.9 867.6 L1035 864.8 L1033.6 863.9 L1030.6 865.7 L1029.1 864.7 L1030.8 861.9 L1029.6 860.9 L1026.3 862.4 L1025.1 861.2 L1027.4 858.6 L1026.4 857.4 L1022.8 858.5 L1021.9 857.1 L1024.7 854.9 L1024.1 853.6 L1020.3 854.1 L1019.7 852.6 L1023 850.9 L1022.6 849.6 L1018.9 849.4 L1018.6 847.9 L1022.2 846.8 L1022.1 845.5 L1018.5 844.7 L1018.6 843.1 L1022.3 842.7 L1022.6 841.4 L1019.3 839.9 L1019.7 838.4 L1023.5 838.7 L1024.1 837.4 L1021.1 835.3 L1021.9 833.9 L1025.6 834.8 L1026.4 833.6 L1023.9 831.1 L1025.1 829.8 L1028.5 831.2 L1029.6 830.1 L1027.7 827.4 L1029.1 826.3 L1032.2 828 L1033.6 827.1 L1032.3 824.3 L1033.9 823.4 L1036.6 825.4 L1038.1 824.6 L1037.5 821.9 L1039.3 821.3 L1041.4 823.3 L1043.1 822.8 L1043.1 820.3 L1045 819.9 L1046.6 822 L1048.3 821.7 L1049 819.5 L1051 819.5 L1051.9 821.5 L1053.7 821.7 L1055 819.7 L1057 819.9 L1057.2 822.4 L1058.9 822.8 L1060.9 820.7 L1062.7 821.3 L1062.3 824 L1063.9 824.6 L1066.4 822.6 L1068.1 823.4 L1067 826.2 L1068.4 827.1 L1071.4 825.3 L1072.9 826.3 L1071.2 829.1 L1072.4 830.1 L1075.7 828.6 L1076.9 829.8 L1074.6 832.4 L1075.6 833.6 L1079.2 832.5 L1080.1 833.9 L1077.3 836.1 L1077.9 837.4 L1081.7 836.9 L1082.3 838.4 L1079 840.1 L1079.4 841.4 L1083.1 841.6 L1083.4 843.1 L1079.8 844.2Z" fill="#fff" stroke="#27272a" stroke-width="1.58" stroke-linejoin="round" stroke-linecap="round" />
<ellipse cx="1051" cy="845.5" rx="27.5" ry="21.6" fill="none" stroke="#27272a" stroke-width="1.32" />
<ellipse cx="1051" cy="846" rx="11.5" ry="8.6" fill="#fff" stroke="#27272a" stroke-width="3.43" />
<ellipse cx="1051" cy="846.5" rx="6" ry="4.4" fill="#777" stroke="#27272a" stroke-width="1.72" />
<ellipse cx="1031.5" cy="844.5" rx="3" ry="2.3" fill="none" stroke="#27272a" stroke-width="1.72" />
<ellipse cx="1070.5" cy="847" rx="3" ry="2.3" fill="none" stroke="#27272a" stroke-width="1.72" />
<g>
<path d="M859.3 910.5 L859.3 917.5 Q859.3 919.3 861.7 919.3 L861.7 923 Q861.7 924.5 864.8 925 L867.9 923 Q867.9 924.5 867.9 923 L867.9 919.3 Q870.3 919.3 870.3 917.5 L870.3 910.5" fill="#fff" stroke="#27272a" stroke-width="1.65" stroke-linejoin="round" stroke-linecap="round" />
<line x1="861.7" y1="919.3" x2="867.9" y2="919.3" stroke="#27272a" stroke-width="1.0" />
<path d="M852.3 902 L852.3 905.2 A12.5 8.8 0 0 0 877.3 905.2 L877.3 902" fill="#fff" stroke="#27272a" stroke-width="1.98" stroke-linejoin="round" stroke-linecap="round" />
<ellipse cx="864.8" cy="902" rx="12.5" ry="8.8" fill="#fff" stroke="#27272a" stroke-width="1.98" />
<line x1="854.3" y1="899.2" x2="875.3" y2="903.4" stroke="#2f2f31" stroke-width="3.5" stroke-linecap="round"/>
</g>
<g>
<path d="M755 960 L755 967 Q755 968.8 757.4 968.8 L757.4 972.5 Q757.4 974 760.5 974.5 L763.6 972.5 Q763.6 974 763.6 972.5 L763.6 968.8 Q766 968.8 766 967 L766 960" fill="#fff" stroke="#27272a" stroke-width="1.65" stroke-linejoin="round" stroke-linecap="round" />
<line x1="757.4" y1="968.8" x2="763.6" y2="968.8" stroke="#27272a" stroke-width="1.0" />
<path d="M748 951.5 L748 954.8 A12.5 8.8 0 0 0 773 954.8 L773 951.5" fill="#fff" stroke="#27272a" stroke-width="1.98" stroke-linejoin="round" stroke-linecap="round" />
<ellipse cx="760.5" cy="951.5" rx="12.5" ry="8.8" fill="#fff" stroke="#27272a" stroke-width="1.98" />
<line x1="750" y1="948.8" x2="771" y2="952.9" stroke="#2f2f31" stroke-width="3.5" stroke-linecap="round"/>
</g>
<g>
<path d="M668 1036.5 L668 1043.5 Q668 1045.3 670.4 1045.3 L670.4 1049 Q670.4 1050.5 673.5 1051 L676.6 1049 Q676.6 1050.5 676.6 1049 L676.6 1045.3 Q679 1045.3 679 1043.5 L679 1036.5" fill="#fff" stroke="#27272a" stroke-width="1.65" stroke-linejoin="round" stroke-linecap="round" />
<line x1="670.4" y1="1045.3" x2="676.6" y2="1045.3" stroke="#27272a" stroke-width="1.0" />
<path d="M661 1028 L661 1031.2 A12.5 8.8 0 0 0 686 1031.2 L686 1028" fill="#fff" stroke="#27272a" stroke-width="1.98" stroke-linejoin="round" stroke-linecap="round" />
<ellipse cx="673.5" cy="1028" rx="12.5" ry="8.8" fill="#fff" stroke="#27272a" stroke-width="1.98" />
<line x1="663" y1="1025.2" x2="684" y2="1029.4" stroke="#2f2f31" stroke-width="3.5" stroke-linecap="round"/>
</g>
<path d="M642.9 1140.7 C643.4 1139 642.6 1136.6 645.7 1130.6 C648.8 1124.6 656 1113 661.4 1104.7 C666.8 1096.4 672.8 1087.8 678 1080.7 C683.3 1073.6 687.3 1068.7 692.8 1062.2 C698.3 1055.8 704.5 1048.7 711.3 1041.9 C718 1035.1 725.4 1028.4 733.4 1021.6 C741.4 1014.8 750.4 1008 759.3 1001.3 C768.2 994.5 777.8 987.1 787 981 C796.2 974.8 805.5 969.9 814.7 964.3 C823.9 958.8 833.5 952.5 842.4 947.7 C851.3 942.9 864 937.7 868.3 935.7 L868.3 935.7 C869.6 936 873.2 934.9 876.6 937.5 C880 940.2 885 946.3 888.6 951.4 C892.1 956.5 895.4 961.9 897.8 968 C900.3 974.2 902.4 981.9 903.4 988.3 C904.3 994.8 904.1 1001 903.4 1006.8 C902.6 1012.7 901.2 1018.2 898.7 1023.4 C896.3 1028.7 892.4 1033.3 888.6 1038.2 C884.7 1043.1 879 1049.5 875.7 1053 C872.3 1056.4 869.5 1057.9 868.3 1058.9 L868.3 1058.9 C865.5 1060.4 857.5 1063.8 851.6 1067.8 C845.8 1071.7 838.7 1077.6 833.2 1082.5 C827.6 1087.5 822.7 1092.1 818.4 1097.3 C814.1 1102.5 809.6 1109.9 807.3 1113.9 C805 1118 805 1120.4 804.5 1121.7 L807.7 1123.2 L803.6 1127.8 L803.6 1127.8 C803 1130.1 801.5 1136.3 799.9 1141.6 C798.4 1147 795.9 1154 794.4 1160.1 C792.8 1166.3 791.8 1172.4 790.7 1178.6 C789.6 1184.7 788.4 1194 787.9 1197 L787.9 1197 C783.1 1196.1 769.6 1194 759.3 1191.5 C749 1189 734.2 1184.8 726 1182.3 C717.9 1179.7 713.1 1177.7 710.3 1176.4 C707.6 1175 713.6 1176.1 709.4 1174 C705.3 1171.9 694 1168 685.4 1163.8 C676.8 1159.6 664.8 1152.9 657.7 1149 C650.6 1145.2 645.4 1142.1 642.9 1140.7Z" fill="#fff" stroke="#27272a" stroke-width="2.11" stroke-linejoin="round" stroke-linecap="round" />
<path d="M868.3 941.8 C870.7 944.3 878.9 951.3 883 956.9 C887.2 962.5 890.7 969.3 893.2 975.4 C895.7 981.6 897.2 987.7 897.8 993.9 C898.4 1000 898.1 1006.5 896.9 1012.4 C895.7 1018.2 893.7 1023.4 890.4 1029 C887.2 1034.5 881.5 1041.4 877.5 1045.6 C873.5 1049.8 868.3 1052.5 866.4 1053.9" fill="none" stroke="#27272a" stroke-width="1.32" stroke-linejoin="round" stroke-linecap="round" />
<path d="M866.4 1053.9 C863.6 1055.4 855.8 1059 849.8 1063.1 C843.8 1067.3 836.2 1073.6 830.4 1078.8 C824.6 1084.1 819.2 1089 814.7 1094.5 C810.2 1100.1 805.9 1107.9 803.6 1112.1 C801.3 1116.3 801.3 1118.6 800.8 1119.8" fill="none" stroke="#27272a" stroke-width="1.45" stroke-linejoin="round" stroke-linecap="round" />
<path d="M648.5 1139.8 C654.6 1143.1 672.5 1153.5 685.4 1159.7 C698.3 1166 713.7 1172.7 726 1177.1 C738.4 1181.5 748.8 1184 759.3 1186.3 C769.8 1188.7 784.2 1190.3 789.2 1191.1" fill="none" stroke="#27272a" stroke-width="1.45" stroke-linejoin="round" stroke-linecap="round" />
<path d="M804.5 1121.7 C803.9 1125 802.4 1135.2 800.8 1141.6 C799.3 1148 796.8 1154 795.3 1160.1 C793.8 1166.3 792.8 1173.4 791.8 1178.6 C790.8 1183.8 789.6 1189 789.2 1191.1" fill="none" stroke="#27272a" stroke-width="1.32" stroke-linejoin="round" stroke-linecap="round" />
<path d="M692.8 1062.2 C694.6 1064.7 699 1072.1 703.9 1077 C708.8 1081.9 715 1087.2 722.4 1091.8 C729.7 1096.4 739.6 1101 748.2 1104.7 C756.8 1108.4 764.7 1111.3 774.1 1113.9 C783.5 1116.6 799.5 1119.3 804.5 1120.4" fill="none" stroke="#27272a" stroke-width="1.72" stroke-linejoin="round" stroke-linecap="round" />
<path d="M690.6 1065 C692.4 1067.5 696.7 1074.9 701.7 1080 C706.7 1085 713 1090.4 720.5 1095.1 C728 1099.8 738 1104.3 746.7 1108 C755.5 1111.7 763.7 1114.7 773.1 1117.3 C782.6 1119.8 798.5 1122.5 803.6 1123.5" fill="none" stroke="#27272a" stroke-width="1.72" stroke-linejoin="round" stroke-linecap="round" />
<path d="M661.4 1106.5 C663.9 1109 669.7 1116.4 676.2 1121.3 C682.6 1126.2 691 1131.5 700.2 1136.1 C709.4 1140.7 721.1 1145.5 731.6 1149 C742.1 1152.6 752.7 1155.3 763 1157.3 C773.3 1159.3 788.4 1160.4 793.5 1161" fill="none" stroke="#27272a" stroke-width="1.72" stroke-linejoin="round" stroke-linecap="round" />
<path d="M659.6 1109.9 C662 1112.3 667.8 1119.7 674.3 1124.6 C680.9 1129.6 689.3 1135.1 698.7 1139.8 C708.1 1144.5 720.1 1149.2 730.7 1152.7 C741.2 1156.3 751.7 1159 762.1 1161 C772.4 1163 787.5 1164.1 792.5 1164.7" fill="none" stroke="#27272a" stroke-width="1.72" stroke-linejoin="round" stroke-linecap="round" />
<path d="M845.2 991.1 C843.2 989.9 837.9 985.7 833.2 983.7 C828.4 981.8 822.7 980.2 816.5 979.5 C810.4 978.8 802.7 978.5 796.2 979.5 C789.8 980.4 783.3 982 777.8 985 C772.2 988 766.6 992.4 763 997.6 C759.4 1002.7 756.6 1009.9 756 1016 C755.3 1022.2 756.6 1028.7 759.3 1034.5 C762 1040.4 766.7 1046.7 772.2 1051.1 C777.8 1055.6 785.1 1059.3 792.5 1061.3 C799.9 1063.3 808.9 1063.8 816.5 1063.1 C824.2 1062.5 831.9 1060.5 838.7 1057.6 C845.5 1054.7 854.1 1047.6 857.2 1045.6" fill="none" stroke="#27272a" stroke-width="3.04" stroke-linejoin="round" stroke-linecap="round" />
<path d="M857.2 1045.6 C859 1044.4 865.2 1037.6 868.3 1038.2 C871.3 1038.8 874.4 1047.4 875.7 1049.3" fill="none" stroke="#27272a" stroke-width="1.58" stroke-linejoin="round" stroke-linecap="round" />
<ellipse cx="811.9" cy="1023.1" rx="39" ry="26.5" fill="#fff" stroke="#27272a" stroke-width="1.85" />
<ellipse cx="811.9" cy="1022.1" rx="26.5" ry="20" fill="none" stroke="#27272a" stroke-width="1.85" />
<ellipse cx="811.9" cy="1020.7" rx="5.6" ry="4.4" fill="none" stroke="#27272a" stroke-width="1.85" />
<ellipse cx="811.9" cy="1020.7" rx="2.4" ry="1.9" fill="#888" stroke="#27272a" stroke-width="1.32" />
<ellipse cx="792.5" cy="1019.7" rx="2.4" ry="2" fill="none" stroke="#27272a" stroke-width="1.58" />
<ellipse cx="832.2" cy="1020.7" rx="2.6" ry="2.1" fill="none" stroke="#27272a" stroke-width="1.58" />
<ellipse cx="811.9" cy="1006.8" rx="3.6" ry="2.8" fill="#fff" stroke="#27272a" stroke-width="1.58" />
<ellipse cx="811" cy="1034.9" rx="3.6" ry="2.8" fill="#fff" stroke="#27272a" stroke-width="1.58" />
<path d="M845.2 991.1 C846.1 988.6 847.2 980.2 850.7 976.3 C854.3 972.4 860.7 969.5 866.4 967.7 C872.1 965.8 880 965.1 884.9 965.3 C889.8 965.4 894.1 967.9 896 968.4" fill="none" stroke="#27272a" stroke-width="2.64" stroke-linejoin="round" stroke-linecap="round" />
<ellipse cx="881.6" cy="996.1" rx="21" ry="15.5" fill="none" stroke="#27272a" stroke-width="1.85" />
<path d="M860.9 1006.8 C862.4 1007.9 866.1 1012 870.1 1013.3 C874.1 1014.6 880.3 1015 884.9 1014.6 C889.5 1014.1 894.8 1012.3 897.8 1010.5 C900.8 1008.7 902.1 1005.1 903 1004" fill="none" stroke="#27272a" stroke-width="1.72" stroke-linejoin="round" stroke-linecap="round" />
<path d="M859 1010.5 C860.9 1011.7 865.6 1016.1 870.1 1017.5 C874.6 1018.9 880.9 1019.4 885.8 1018.8 C890.7 1018.2 897.4 1014.7 899.7 1013.8" fill="none" stroke="#27272a" stroke-width="1.45" stroke-linejoin="round" stroke-linecap="round" />
<ellipse cx="883.4" cy="997.9" rx="11.5" ry="8.6" fill="#fff" stroke="#27272a" stroke-width="1.85" />
<ellipse cx="883.4" cy="997.9" rx="8.5" ry="6.2" fill="none" stroke="#27272a" stroke-width="1.58" />
<ellipse cx="883.4" cy="998.5" rx="5.6" ry="4" fill="none" stroke="#27272a" stroke-width="1.58" />
<ellipse cx="870.5" cy="1030.8" rx="10.5" ry="8" fill="#343436" stroke="#27272a" stroke-width="1.58" transform="rotate(-15 870.5 1030.8)" />
<ellipse cx="869.5" cy="1032" rx="2.6" ry="2" fill="#fff" stroke="#27272a" stroke-width="1.06" />
<ellipse cx="864.6" cy="956.9" rx="16" ry="10.9" fill="#fff" stroke="#27272a" stroke-width="1.58" />
<ellipse cx="864.6" cy="958.2" rx="10.9" ry="7.4" fill="none" stroke="#27272a" stroke-width="1.43" />
<ellipse cx="864.6" cy="960.1" rx="6.4" ry="4.4" fill="none" stroke="#27272a" stroke-width="1.43" />
<ellipse cx="673.4" cy="1140.7" rx="16" ry="11.2" fill="#fff" stroke="#27272a" stroke-width="1.58" />
<ellipse cx="673.4" cy="1142" rx="10.9" ry="7.6" fill="none" stroke="#27272a" stroke-width="1.43" />
<ellipse cx="673.4" cy="1143.9" rx="6.4" ry="4.5" fill="none" stroke="#27272a" stroke-width="1.43" />
<ellipse cx="759.7" cy="1178.6" rx="16.5" ry="11.5" fill="#fff" stroke="#27272a" stroke-width="1.58" />
<ellipse cx="759.7" cy="1179.9" rx="11.2" ry="7.9" fill="none" stroke="#27272a" stroke-width="1.43" />
<ellipse cx="759.7" cy="1181.9" rx="6.6" ry="4.6" fill="none" stroke="#27272a" stroke-width="1.43" />
<ellipse cx="748.2" cy="1052.1" rx="10.6" ry="7.8" fill="#fff" stroke="#27272a" stroke-width="1.72" />
<ellipse cx="748.2" cy="1052.7" rx="7.4" ry="5.4" fill="none" stroke="#444" stroke-width="3.17" />
<ellipse cx="748.2" cy="1052.9" rx="2.2" ry="1.6" fill="#999" stroke="#27272a" stroke-width="1.06" />
<ellipse cx="808.2" cy="1071.8" rx="10.6" ry="7.8" fill="#fff" stroke="#27272a" stroke-width="1.72" />
<ellipse cx="808.2" cy="1072.4" rx="7.4" ry="5.4" fill="none" stroke="#444" stroke-width="3.17" />
<ellipse cx="808.2" cy="1072.6" rx="2.2" ry="1.6" fill="#999" stroke="#27272a" stroke-width="1.06" />
<line x1="793.1" y1="920" x2="792.7" y2="1012" stroke="#27272a" stroke-width="1.1" />
<line x1="832.8" y1="920" x2="832.5" y2="985" stroke="#27272a" stroke-width="1.1" />
<line x1="813.3" y1="920" x2="812.8" y2="1018" stroke="#27272a" stroke-width="1.1" />
<line x1="864.8" y1="923" x2="864.6" y2="958" stroke="#27272a" stroke-width="1.1" />
<line x1="760.5" y1="973" x2="759.5" y2="1178" stroke="#27272a" stroke-width="1.1" />
<line x1="673.5" y1="1051" x2="673.1" y2="1140" stroke="#27272a" stroke-width="1.1" />
<polyline points="881.8,929.6 881.8,990" fill="none" stroke="#27272a" stroke-width="1.1" stroke-linejoin="round" stroke-linecap="round" />
<path d="M0 0 Q15.7 -2.6 32.5 -8.7 A9 9 0 1 1 32.5 8.7 Q15.7 2.6 0 0Z" transform="translate(883.5 992.3) rotate(-43.1)" fill="#2f9fc6" stroke="none" stroke-width="1.4"/>
<path d="M0 0 Q15.7 -2.6 32.5 -8.7 A9 9 0 1 1 32.5 8.7 Q15.7 2.6 0 0Z" transform="translate(814 1019.4) rotate(-43.1)" fill="#e2354a" stroke="none" stroke-width="1.4"/>
<path d="M0 0 Q16.7 -2.8 34.7 -9.3 A9.6 9.6 0 1 1 34.7 9.3 Q16.7 2.8 0 0Z" transform="translate(749.7 1053.2) rotate(-136.9)" fill="#2f9fc6" stroke="none" stroke-width="1.4"/>
<path d="M0 0 Q16.7 -2.8 34.7 -9.3 A9.6 9.6 0 1 1 34.7 9.3 Q16.7 2.8 0 0Z" transform="translate(810.6 1075.2) rotate(136.9)" fill="#2f9fc6" stroke="none" stroke-width="1.4"/>
<path d="M0 0 Q16.2 -2.7 33.6 -9 A9.3 9.3 0 1 1 33.6 9 Q16.2 2.7 0 0Z" transform="translate(870 1034.6) rotate(41.3)" fill="#e2354a" stroke="none" stroke-width="1.4"/>
<path d="M975.8 1172.5 L979.2 1173.4 L978.8 1175.1 L975.2 1175.2 L974.6 1176.4 L977.2 1178.5 L975.9 1180 L972.4 1178.9 L971.1 1180 L972.5 1182.7 L970.5 1183.7 L967.7 1181.9 L965.9 1182.7 L965.9 1185.3 L963.5 1185.7 L961.7 1183.8 L959.7 1184.1 L958.4 1186 L955.9 1185.7 L955.5 1183.3 L953.5 1182.7 L951 1184.6 L948.9 1183.7 L949.9 1181 L948.3 1180 L945 1181.4 L943.5 1180 L945.7 1177.6 L944.8 1176.4 L941.2 1176.8 L940.6 1175.1 L943.7 1173.8 L943.6 1172.5 L940.2 1171.6 L940.6 1169.9 L944.2 1169.8 L944.8 1168.6 L942.2 1166.5 L943.5 1165 L947 1166.1 L948.3 1165 L946.9 1162.3 L948.9 1161.3 L951.7 1163.1 L953.5 1162.3 L953.5 1159.7 L955.9 1159.3 L957.7 1161.2 L959.7 1160.9 L961 1159 L963.5 1159.3 L963.9 1161.7 L965.9 1162.3 L968.4 1160.4 L970.5 1161.3 L969.5 1164 L971.1 1165 L974.4 1163.6 L975.9 1165 L973.7 1167.4 L974.6 1168.6 L978.2 1168.2 L978.8 1169.9 L975.7 1171.2Z" fill="#fff" stroke="#27272a" stroke-width="1.58" stroke-linejoin="round" stroke-linecap="round" />
<path d="M975.8 1168.5 L979.2 1169.4 L978.8 1171.1 L975.2 1171.2 L974.6 1172.4 L977.2 1174.5 L975.9 1176 L972.4 1174.9 L971.1 1176 L972.5 1178.7 L970.5 1179.7 L967.7 1177.9 L965.9 1178.7 L965.9 1181.3 L963.5 1181.7 L961.7 1179.8 L959.7 1180.1 L958.4 1182 L955.9 1181.7 L955.5 1179.3 L953.5 1178.7 L951 1180.6 L948.9 1179.7 L949.9 1177 L948.3 1176 L945 1177.4 L943.5 1176 L945.7 1173.6 L944.8 1172.4 L941.2 1172.8 L940.6 1171.1 L943.7 1169.8 L943.6 1168.5 L940.2 1167.6 L940.6 1165.9 L944.2 1165.8 L944.8 1164.6 L942.2 1162.5 L943.5 1161 L947 1162.1 L948.3 1161 L946.9 1158.3 L948.9 1157.3 L951.7 1159.1 L953.5 1158.3 L953.5 1155.7 L955.9 1155.3 L957.7 1157.2 L959.7 1156.9 L961 1155 L963.5 1155.3 L963.9 1157.7 L965.9 1158.3 L968.4 1156.4 L970.5 1157.3 L969.5 1160 L971.1 1161 L974.4 1159.6 L975.9 1161 L973.7 1163.4 L974.6 1164.6 L978.2 1164.2 L978.8 1165.9 L975.7 1167.2Z" fill="#fff" stroke="#27272a" stroke-width="1.72" stroke-linejoin="round" stroke-linecap="round" />
<ellipse cx="959.7" cy="1167.5" rx="11.5" ry="8" fill="#fff" stroke="#27272a" stroke-width="1.58" />
<path d="M952.7 1167.5 L952.7 1158.5 A7 4.6 0 0 1 966.7 1158.5 L966.7 1167.5" fill="#fff" stroke="#27272a" stroke-width="1.72" stroke-linejoin="round" stroke-linecap="round" />
<ellipse cx="959.7" cy="1158.5" rx="7" ry="4.6" fill="#fff" stroke="#27272a" stroke-width="1.58" />
<ellipse cx="959.7" cy="1156.5" rx="3.4" ry="2.4" fill="#fff" stroke="#27272a" stroke-width="1.45" />
<path d="M862.6 1261.7 L865.4 1262.2 L865.4 1263.2 L862.5 1263.6 L862.4 1264.6 L865.2 1265.3 L865 1266.3 L862.2 1266.5 L862 1267.5 L864.7 1268.4 L864.4 1269.4 L861.5 1269.4 L861.3 1270.3 L863.8 1271.5 L863.5 1272.5 L860.6 1272.3 L860.3 1273.2 L862.7 1274.5 L862.3 1275.5 L859.4 1275 L859 1275.9 L861.3 1277.4 L860.8 1278.4 L858 1277.8 L857.4 1278.6 L859.6 1280.3 L859 1281.2 L856.2 1280.4 L855.6 1281.2 L857.7 1283 L857 1283.9 L854.2 1282.9 L853.5 1283.7 L855.4 1285.6 L854.7 1286.5 L852 1285.4 L851.2 1286.1 L853 1288.1 L852.1 1288.9 L849.5 1287.7 L848.7 1288.4 L850.3 1290.5 L849.3 1291.2 L846.9 1289.9 L845.9 1290.5 L847.3 1292.7 L846.3 1293.3 L844 1291.9 L843 1292.5 L844.2 1294.7 L843.1 1295.3 L840.9 1293.7 L839.9 1294.3 L840.9 1296.5 L839.7 1297 L837.7 1295.4 L836.6 1296 L837.4 1298.1 L836.2 1298.6 L834.3 1297 L833.1 1297.4 L833.7 1299.5 L832.5 1299.9 L830.8 1298.3 L829.6 1298.7 L829.9 1300.7 L828.7 1301.1 L827.1 1299.4 L825.9 1299.7 L826.1 1301.7 L824.8 1302 L823.4 1300.3 L822.2 1300.6 L822.1 1302.5 L820.8 1302.7 L819.6 1301.1 L818.4 1301.2 L818.1 1303 L816.7 1303.1 L815.8 1301.5 L814.5 1301.7 L814 1303.3 L812.7 1303.4 L811.9 1301.8 L810.6 1301.9 L809.9 1303.4 L808.6 1303.4 L808 1301.7 L806.7 1301.6 L805.8 1303.2 L804.5 1303.1 L804.1 1301.4 L802.9 1301.2 L801.8 1302.8 L800.5 1302.7 L800.3 1300.8 L799.1 1300.6 L797.8 1302.2 L796.5 1302 L796.5 1300 L795.3 1299.7 L793.8 1301.4 L792.6 1301 L792.8 1299 L791.7 1298.6 L790 1300.3 L788.8 1299.9 L789.3 1297.8 L788.1 1297.4 L786.3 1299 L785.1 1298.5 L785.8 1296.4 L784.7 1295.9 L782.7 1297.5 L781.5 1297 L782.4 1294.8 L781.4 1294.2 L779.2 1295.8 L778.2 1295.2 L779.3 1293 L778.3 1292.4 L776 1293.9 L775 1293.2 L776.3 1291.1 L775.3 1290.4 L772.9 1291.8 L772 1291.1 L773.5 1289 L772.6 1288.3 L770.1 1289.6 L769.2 1288.8 L770.9 1286.8 L770.1 1286 L767.4 1287.2 L766.6 1286.4 L768.5 1284.4 L767.8 1283.6 L765.1 1284.6 L764.3 1283.8 L766.4 1282 L765.7 1281.1 L762.9 1282 L762.3 1281.1 L764.5 1279.4 L763.9 1278.5 L761.1 1279.2 L760.5 1278.3 L762.8 1276.7 L762.4 1275.8 L759.5 1276.3 L759 1275.3 L761.5 1274 L761.1 1273.1 L758.2 1273.3 L757.8 1272.4 L760.4 1271.2 L760.1 1270.2 L757.2 1270.3 L756.9 1269.3 L759.6 1268.3 L759.4 1267.4 L756.5 1267.2 L756.3 1266.2 L759 1265.4 L758.9 1264.5 L756.1 1264.1 L756 1263.1 L758.8 1262.5 L758.8 1261.5 L756 1261 L756 1260 L758.9 1259.6 L759 1258.6 L756.2 1257.9 L756.4 1256.9 L759.2 1256.7 L759.4 1255.7 L756.7 1254.8 L757 1253.8 L759.9 1253.8 L760.1 1252.9 L757.6 1251.7 L757.9 1250.7 L760.8 1250.9 L761.1 1250 L758.7 1248.7 L759.1 1247.7 L762 1248.2 L762.4 1247.3 L760.1 1245.8 L760.6 1244.8 L763.4 1245.4 L764 1244.6 L761.8 1242.9 L762.4 1242 L765.2 1242.8 L765.8 1242 L763.7 1240.2 L764.4 1239.3 L767.2 1240.3 L767.9 1239.5 L766 1237.6 L766.7 1236.7 L769.4 1237.8 L770.2 1237.1 L768.4 1235.1 L769.3 1234.3 L771.9 1235.5 L772.7 1234.8 L771.1 1232.7 L772.1 1232 L774.5 1233.3 L775.5 1232.7 L774.1 1230.5 L775.1 1229.9 L777.4 1231.3 L778.4 1230.7 L777.2 1228.5 L778.3 1227.9 L780.5 1229.5 L781.5 1228.9 L780.5 1226.7 L781.7 1226.2 L783.7 1227.8 L784.8 1227.2 L784 1225.1 L785.2 1224.6 L787.1 1226.2 L788.3 1225.8 L787.7 1223.7 L788.9 1223.3 L790.6 1224.9 L791.8 1224.5 L791.5 1222.5 L792.7 1222.1 L794.3 1223.8 L795.5 1223.5 L795.3 1221.5 L796.6 1221.2 L798 1222.9 L799.2 1222.6 L799.3 1220.7 L800.6 1220.5 L801.8 1222.1 L803 1222 L803.3 1220.2 L804.7 1220.1 L805.6 1221.7 L806.9 1221.5 L807.4 1219.9 L808.7 1219.8 L809.5 1221.4 L810.8 1221.3 L811.5 1219.8 L812.8 1219.8 L813.4 1221.5 L814.7 1221.6 L815.6 1220 L816.9 1220.1 L817.3 1221.8 L818.5 1222 L819.6 1220.4 L820.9 1220.5 L821.1 1222.4 L822.3 1222.6 L823.6 1221 L824.9 1221.2 L824.9 1223.2 L826.1 1223.5 L827.6 1221.8 L828.8 1222.2 L828.6 1224.2 L829.7 1224.6 L831.4 1222.9 L832.6 1223.3 L832.1 1225.4 L833.3 1225.8 L835.1 1224.2 L836.3 1224.7 L835.6 1226.8 L836.7 1227.3 L838.7 1225.7 L839.9 1226.2 L839 1228.4 L840 1229 L842.2 1227.4 L843.2 1228 L842.1 1230.2 L843.1 1230.8 L845.4 1229.3 L846.4 1230 L845.1 1232.1 L846.1 1232.8 L848.5 1231.4 L849.4 1232.1 L847.9 1234.2 L848.8 1234.9 L851.3 1233.6 L852.2 1234.4 L850.5 1236.4 L851.3 1237.2 L854 1236 L854.8 1236.8 L852.9 1238.8 L853.6 1239.6 L856.3 1238.6 L857.1 1239.4 L855 1241.2 L855.7 1242.1 L858.5 1241.2 L859.1 1242.1 L856.9 1243.8 L857.5 1244.7 L860.3 1244 L860.9 1244.9 L858.6 1246.5 L859 1247.4 L861.9 1246.9 L862.4 1247.9 L859.9 1249.2 L860.3 1250.1 L863.2 1249.9 L863.6 1250.8 L861 1252 L861.3 1253 L864.2 1252.9 L864.5 1253.9 L861.8 1254.9 L862 1255.8 L864.9 1256 L865.1 1257 L862.4 1257.8 L862.5 1258.7 L865.3 1259.1 L865.4 1260.1 L862.6 1260.7Z" fill="#fff" stroke="#27272a" stroke-width="1.85" stroke-linejoin="round" stroke-linecap="round" />
<path d="M862.6 1258.7 L865.4 1259.2 L865.4 1260.2 L862.5 1260.6 L862.4 1261.6 L865.2 1262.3 L865 1263.3 L862.2 1263.5 L862 1264.5 L864.7 1265.4 L864.4 1266.4 L861.5 1266.4 L861.3 1267.3 L863.8 1268.5 L863.5 1269.5 L860.6 1269.3 L860.3 1270.2 L862.7 1271.5 L862.3 1272.5 L859.4 1272 L859 1272.9 L861.3 1274.4 L860.8 1275.4 L858 1274.8 L857.4 1275.6 L859.6 1277.3 L859 1278.2 L856.2 1277.4 L855.6 1278.2 L857.7 1280 L857 1280.9 L854.2 1279.9 L853.5 1280.7 L855.4 1282.6 L854.7 1283.5 L852 1282.4 L851.2 1283.1 L853 1285.1 L852.1 1285.9 L849.5 1284.7 L848.7 1285.4 L850.3 1287.5 L849.3 1288.2 L846.9 1286.9 L845.9 1287.5 L847.3 1289.7 L846.3 1290.3 L844 1288.9 L843 1289.5 L844.2 1291.7 L843.1 1292.3 L840.9 1290.7 L839.9 1291.3 L840.9 1293.5 L839.7 1294 L837.7 1292.4 L836.6 1293 L837.4 1295.1 L836.2 1295.6 L834.3 1294 L833.1 1294.4 L833.7 1296.5 L832.5 1296.9 L830.8 1295.3 L829.6 1295.7 L829.9 1297.7 L828.7 1298.1 L827.1 1296.4 L825.9 1296.7 L826.1 1298.7 L824.8 1299 L823.4 1297.3 L822.2 1297.6 L822.1 1299.5 L820.8 1299.7 L819.6 1298.1 L818.4 1298.2 L818.1 1300 L816.7 1300.1 L815.8 1298.5 L814.5 1298.7 L814 1300.3 L812.7 1300.4 L811.9 1298.8 L810.6 1298.9 L809.9 1300.4 L808.6 1300.4 L808 1298.7 L806.7 1298.6 L805.8 1300.2 L804.5 1300.1 L804.1 1298.4 L802.9 1298.2 L801.8 1299.8 L800.5 1299.7 L800.3 1297.8 L799.1 1297.6 L797.8 1299.2 L796.5 1299 L796.5 1297 L795.3 1296.7 L793.8 1298.4 L792.6 1298 L792.8 1296 L791.7 1295.6 L790 1297.3 L788.8 1296.9 L789.3 1294.8 L788.1 1294.4 L786.3 1296 L785.1 1295.5 L785.8 1293.4 L784.7 1292.9 L782.7 1294.5 L781.5 1294 L782.4 1291.8 L781.4 1291.2 L779.2 1292.8 L778.2 1292.2 L779.3 1290 L778.3 1289.4 L776 1290.9 L775 1290.2 L776.3 1288.1 L775.3 1287.4 L772.9 1288.8 L772 1288.1 L773.5 1286 L772.6 1285.3 L770.1 1286.6 L769.2 1285.8 L770.9 1283.8 L770.1 1283 L767.4 1284.2 L766.6 1283.4 L768.5 1281.4 L767.8 1280.6 L765.1 1281.6 L764.3 1280.8 L766.4 1279 L765.7 1278.1 L762.9 1279 L762.3 1278.1 L764.5 1276.4 L763.9 1275.5 L761.1 1276.2 L760.5 1275.3 L762.8 1273.7 L762.4 1272.8 L759.5 1273.3 L759 1272.3 L761.5 1271 L761.1 1270.1 L758.2 1270.3 L757.8 1269.4 L760.4 1268.2 L760.1 1267.2 L757.2 1267.3 L756.9 1266.3 L759.6 1265.3 L759.4 1264.4 L756.5 1264.2 L756.3 1263.2 L759 1262.4 L758.9 1261.5 L756.1 1261.1 L756 1260.1 L758.8 1259.5 L758.8 1258.5 L756 1258 L756 1257 L758.9 1256.6 L759 1255.6 L756.2 1254.9 L756.4 1253.9 L759.2 1253.7 L759.4 1252.7 L756.7 1251.8 L757 1250.8 L759.9 1250.8 L760.1 1249.9 L757.6 1248.7 L757.9 1247.7 L760.8 1247.9 L761.1 1247 L758.7 1245.7 L759.1 1244.7 L762 1245.2 L762.4 1244.3 L760.1 1242.8 L760.6 1241.8 L763.4 1242.4 L764 1241.6 L761.8 1239.9 L762.4 1239 L765.2 1239.8 L765.8 1239 L763.7 1237.2 L764.4 1236.3 L767.2 1237.3 L767.9 1236.5 L766 1234.6 L766.7 1233.7 L769.4 1234.8 L770.2 1234.1 L768.4 1232.1 L769.3 1231.3 L771.9 1232.5 L772.7 1231.8 L771.1 1229.7 L772.1 1229 L774.5 1230.3 L775.5 1229.7 L774.1 1227.5 L775.1 1226.9 L777.4 1228.3 L778.4 1227.7 L777.2 1225.5 L778.3 1224.9 L780.5 1226.5 L781.5 1225.9 L780.5 1223.7 L781.7 1223.2 L783.7 1224.8 L784.8 1224.2 L784 1222.1 L785.2 1221.6 L787.1 1223.2 L788.3 1222.8 L787.7 1220.7 L788.9 1220.3 L790.6 1221.9 L791.8 1221.5 L791.5 1219.5 L792.7 1219.1 L794.3 1220.8 L795.5 1220.5 L795.3 1218.5 L796.6 1218.2 L798 1219.9 L799.2 1219.6 L799.3 1217.7 L800.6 1217.5 L801.8 1219.1 L803 1219 L803.3 1217.2 L804.7 1217.1 L805.6 1218.7 L806.9 1218.5 L807.4 1216.9 L808.7 1216.8 L809.5 1218.4 L810.8 1218.3 L811.5 1216.8 L812.8 1216.8 L813.4 1218.5 L814.7 1218.6 L815.6 1217 L816.9 1217.1 L817.3 1218.8 L818.5 1219 L819.6 1217.4 L820.9 1217.5 L821.1 1219.4 L822.3 1219.6 L823.6 1218 L824.9 1218.2 L824.9 1220.2 L826.1 1220.5 L827.6 1218.8 L828.8 1219.2 L828.6 1221.2 L829.7 1221.6 L831.4 1219.9 L832.6 1220.3 L832.1 1222.4 L833.3 1222.8 L835.1 1221.2 L836.3 1221.7 L835.6 1223.8 L836.7 1224.3 L838.7 1222.7 L839.9 1223.2 L839 1225.4 L840 1226 L842.2 1224.4 L843.2 1225 L842.1 1227.2 L843.1 1227.8 L845.4 1226.3 L846.4 1227 L845.1 1229.1 L846.1 1229.8 L848.5 1228.4 L849.4 1229.1 L847.9 1231.2 L848.8 1231.9 L851.3 1230.6 L852.2 1231.4 L850.5 1233.4 L851.3 1234.2 L854 1233 L854.8 1233.8 L852.9 1235.8 L853.6 1236.6 L856.3 1235.6 L857.1 1236.4 L855 1238.2 L855.7 1239.1 L858.5 1238.2 L859.1 1239.1 L856.9 1240.8 L857.5 1241.7 L860.3 1241 L860.9 1241.9 L858.6 1243.5 L859 1244.4 L861.9 1243.9 L862.4 1244.9 L859.9 1246.2 L860.3 1247.1 L863.2 1246.9 L863.6 1247.8 L861 1249 L861.3 1250 L864.2 1249.9 L864.5 1250.9 L861.8 1251.9 L862 1252.8 L864.9 1253 L865.1 1254 L862.4 1254.8 L862.5 1255.7 L865.3 1256.1 L865.4 1257.1 L862.6 1257.7Z" fill="#fff" stroke="#27272a" stroke-width="2.11" stroke-linejoin="round" stroke-linecap="round" />
<ellipse cx="810.7" cy="1258.6" rx="51.5" ry="39.4" fill="none" stroke="#27272a" stroke-width="1.58" />
<polygon points="852.5,1265.2 851.5,1268.1 850.2,1270.9 848.6,1273.6 846.6,1276.2 844.3,1278.7 841.8,1280.9 839,1283 836,1284.9 832.7,1286.5 829.3,1288 825.7,1289.1 822,1290 818.7,1272.1 820.9,1271.2 823,1270.1 824.8,1268.7 826.4,1267.2 827.8,1265.6 828.8,1263.8" fill="#fff" stroke="#27272a" stroke-width="1.98" stroke-linejoin="round" stroke-linecap="round" />
<polyline points="852,1264.7 850.7,1267.8 849,1270.7 847,1273.6 844.5,1276.2 841.8,1278.7 838.7,1281 835.4,1283 831.8,1284.7 828.1,1286.2 824.1,1287.4" fill="none" stroke="#27272a" stroke-width="1.19" stroke-linejoin="round" stroke-linecap="round" />
<polygon points="815.4,1291 811.5,1291.2 807.6,1291.1 803.7,1290.8 799.9,1290.1 796.1,1289.2 792.5,1288.1 789.1,1286.7 785.8,1285.1 782.7,1283.2 779.9,1281.2 777.3,1278.9 775,1276.5 796.4,1268.6 798.2,1269.9 800.2,1271.1 802.5,1272 804.8,1272.7 807.3,1273.2 809.8,1273.4" fill="#fff" stroke="#27272a" stroke-width="1.98" stroke-linejoin="round" stroke-linecap="round" />
<polyline points="813.2,1288.9 808.9,1289 804.7,1288.7 800.5,1288.1 796.5,1287.1 792.5,1285.9 788.8,1284.4 785.3,1282.6 782,1280.5 779,1278.2 776.3,1275.7" fill="none" stroke="#27272a" stroke-width="1.19" stroke-linejoin="round" stroke-linecap="round" />
<polygon points="771.8,1272 770.4,1269.2 769.3,1266.4 768.5,1263.4 768.1,1260.5 768.1,1257.5 768.4,1254.5 769,1251.6 770.1,1248.7 771.4,1245.9 773.1,1243.2 775.1,1240.6 777.4,1238.2 793.9,1251.3 792.8,1253 792,1254.8 791.5,1256.7 791.3,1258.7 791.5,1260.6 792,1262.5" fill="#fff" stroke="#27272a" stroke-width="1.98" stroke-linejoin="round" stroke-linecap="round" />
<polygon points="782,1234.5 785,1232.6 788.2,1230.9 791.6,1229.4 795.2,1228.2 798.9,1227.3 802.7,1226.6 806.6,1226.1 810.5,1226 814.4,1226.1 818.3,1226.5 822.1,1227.2 825.8,1228.1 814.6,1244.1 812.1,1243.8 809.6,1243.8 807.1,1244.1 804.6,1244.6 802.3,1245.3 800.1,1246.2" fill="#fff" stroke="#27272a" stroke-width="1.98" stroke-linejoin="round" stroke-linecap="round" />
<polygon points="831.8,1230.3 835.1,1231.9 838.2,1233.7 841.1,1235.7 843.7,1237.9 846.1,1240.3 848.1,1242.9 849.8,1245.6 851.2,1248.4 852.3,1251.2 853,1254.2 853.3,1257.1 853.3,1260.1 829.9,1257 829.5,1255.1 828.7,1253.2 827.7,1251.5 826.3,1249.8 824.7,1248.4 822.8,1247.1" fill="#fff" stroke="#27272a" stroke-width="1.98" stroke-linejoin="round" stroke-linecap="round" />
<ellipse cx="810.7" cy="1258.6" rx="16.4" ry="12.5" fill="#fff" stroke="#27272a" stroke-width="1.85" />
<ellipse cx="810.7" cy="1258.6" rx="11.5" ry="8.8" fill="#3a3a3a" stroke="#27272a" stroke-width="1.58" />
<ellipse cx="810.7" cy="1257.6" rx="5.4" ry="4.1" fill="#fff" stroke="#27272a" stroke-width="1.45" />
<line x1="808" y1="1060" x2="807.2" y2="1240" stroke="#27272a" stroke-width="1.1" />
<line x1="812.3" y1="1060" x2="811.5" y2="1240" stroke="#27272a" stroke-width="1.1" />
<line x1="807.2" y1="1272" x2="806.2" y2="1492" stroke="#27272a" stroke-width="1.1" />
<line x1="811.4" y1="1272" x2="810.4" y2="1492" stroke="#27272a" stroke-width="1.1" />
<path d="M0 0 Q14.6 -2.4 30.3 -8.1 A8.4 8.4 0 1 1 30.3 8.1 Q14.6 2.4 0 0Z" transform="translate(815 1305.3) rotate(42.7)" fill="#e2354a" stroke="none" stroke-width="1.4"/>
<path d="M805 1408.4 L807.8 1408.9 L807.8 1410 L804.9 1410.4 L804.8 1411.4 L807.6 1412.1 L807.4 1413.2 L804.6 1413.4 L804.4 1414.4 L807.1 1415.3 L806.8 1416.3 L804 1416.4 L803.7 1417.3 L806.3 1418.5 L806 1419.5 L803.1 1419.3 L802.7 1420.3 L805.2 1421.6 L804.8 1422.6 L801.9 1422.2 L801.5 1423.1 L803.8 1424.6 L803.3 1425.6 L800.5 1425 L799.9 1426 L802.2 1427.6 L801.6 1428.5 L798.8 1427.8 L798.2 1428.7 L800.3 1430.4 L799.6 1431.3 L796.8 1430.5 L796.1 1431.3 L798.1 1433.2 L797.3 1434.1 L794.6 1433 L793.9 1433.9 L795.7 1435.8 L794.8 1436.6 L792.2 1435.5 L791.4 1436.3 L793 1438.3 L792.1 1439.1 L789.6 1437.8 L788.7 1438.6 L790.2 1440.7 L789.2 1441.4 L786.7 1440 L785.8 1440.7 L787.1 1442.9 L786 1443.5 L783.7 1442.1 L782.7 1442.7 L783.8 1444.9 L782.7 1445.5 L780.5 1444 L779.4 1444.6 L780.3 1446.7 L779.2 1447.3 L777.1 1445.7 L776 1446.2 L776.7 1448.4 L775.5 1448.9 L773.6 1447.3 L772.4 1447.7 L773 1449.9 L771.7 1450.3 L769.9 1448.6 L768.7 1449 L769.1 1451.1 L767.8 1451.5 L766.2 1449.8 L764.9 1450.2 L765.1 1452.2 L763.8 1452.5 L762.3 1450.8 L761.1 1451.1 L761 1453 L759.7 1453.2 L758.4 1451.6 L757.1 1451.8 L756.9 1453.6 L755.5 1453.8 L754.4 1452.2 L753.1 1452.3 L752.7 1454 L751.3 1454.1 L750.4 1452.5 L749.1 1452.6 L748.5 1454.2 L747.1 1454.2 L746.4 1452.6 L745.1 1452.6 L744.2 1454.1 L742.9 1454.1 L742.4 1452.4 L741.1 1452.3 L740 1453.9 L738.7 1453.7 L738.4 1451.9 L737.1 1451.7 L735.9 1453.4 L734.5 1453.2 L734.4 1451.3 L733.1 1451 L731.7 1452.7 L730.4 1452.4 L730.5 1450.4 L729.3 1450.1 L727.7 1451.7 L726.4 1451.4 L726.7 1449.3 L725.5 1448.9 L723.8 1450.6 L722.5 1450.2 L723 1448 L721.8 1447.6 L719.9 1449.2 L718.7 1448.7 L719.4 1446.6 L718.3 1446.1 L716.2 1447.7 L715.1 1447.1 L716 1445 L714.9 1444.4 L712.7 1445.9 L711.6 1445.3 L712.7 1443.1 L711.6 1442.5 L709.3 1444 L708.2 1443.3 L709.5 1441.2 L708.5 1440.5 L706.1 1441.9 L705.1 1441.2 L706.6 1439.1 L705.7 1438.3 L703.1 1439.6 L702.2 1438.9 L703.8 1436.8 L703 1436 L700.3 1437.2 L699.5 1436.4 L701.3 1434.4 L700.5 1433.6 L697.8 1434.7 L697 1433.8 L699 1431.9 L698.3 1431.1 L695.5 1432 L694.8 1431.1 L696.9 1429.3 L696.3 1428.4 L693.4 1429.2 L692.8 1428.2 L695 1426.6 L694.5 1425.7 L691.7 1426.2 L691.1 1425.3 L693.5 1423.8 L693 1422.9 L690.1 1423.3 L689.7 1422.3 L692.2 1420.9 L691.8 1420 L688.9 1420.2 L688.5 1419.2 L691.1 1418 L690.8 1417 L687.9 1417.1 L687.7 1416 L690.3 1415 L690.1 1414.1 L687.3 1413.9 L687.1 1412.8 L689.8 1412 L689.7 1411.1 L686.9 1410.7 L686.8 1409.6 L689.6 1409 L689.6 1408 L686.8 1407.5 L686.8 1406.4 L689.7 1406 L689.8 1405 L687 1404.3 L687.2 1403.2 L690 1403 L690.2 1402 L687.5 1401.1 L687.8 1400.1 L690.6 1400 L690.9 1399.1 L688.3 1397.9 L688.6 1396.9 L691.5 1397.1 L691.9 1396.1 L689.4 1394.8 L689.8 1393.8 L692.7 1394.2 L693.1 1393.3 L690.8 1391.8 L691.3 1390.8 L694.1 1391.4 L694.7 1390.4 L692.4 1388.8 L693 1387.9 L695.8 1388.6 L696.4 1387.7 L694.3 1386 L695 1385.1 L697.8 1385.9 L698.5 1385.1 L696.5 1383.2 L697.3 1382.3 L700 1383.4 L700.7 1382.5 L698.9 1380.6 L699.8 1379.8 L702.4 1380.9 L703.2 1380.1 L701.6 1378.1 L702.5 1377.3 L705 1378.6 L705.9 1377.8 L704.4 1375.7 L705.4 1375 L707.9 1376.4 L708.8 1375.7 L707.5 1373.5 L708.6 1372.9 L710.9 1374.3 L711.9 1373.7 L710.8 1371.5 L711.9 1370.9 L714.1 1372.4 L715.2 1371.8 L714.3 1369.7 L715.4 1369.1 L717.5 1370.7 L718.6 1370.2 L717.9 1368 L719.1 1367.5 L721 1369.1 L722.2 1368.7 L721.6 1366.5 L722.9 1366.1 L724.7 1367.8 L725.9 1367.4 L725.5 1365.3 L726.8 1364.9 L728.4 1366.6 L729.7 1366.2 L729.5 1364.2 L730.8 1363.9 L732.3 1365.6 L733.5 1365.3 L733.6 1363.4 L734.9 1363.2 L736.2 1364.8 L737.5 1364.6 L737.7 1362.8 L739.1 1362.6 L740.2 1364.2 L741.5 1364.1 L741.9 1362.4 L743.3 1362.3 L744.2 1363.9 L745.5 1363.8 L746.1 1362.2 L747.5 1362.2 L748.2 1363.8 L749.5 1363.8 L750.4 1362.3 L751.7 1362.3 L752.2 1364 L753.5 1364.1 L754.6 1362.5 L755.9 1362.7 L756.2 1364.5 L757.5 1364.7 L758.7 1363 L760.1 1363.2 L760.2 1365.1 L761.5 1365.4 L762.9 1363.7 L764.2 1364 L764.1 1366 L765.3 1366.3 L766.9 1364.7 L768.2 1365 L767.9 1367.1 L769.1 1367.5 L770.8 1365.8 L772.1 1366.2 L771.6 1368.4 L772.8 1368.8 L774.7 1367.2 L775.9 1367.7 L775.2 1369.8 L776.3 1370.3 L778.4 1368.7 L779.5 1369.3 L778.6 1371.4 L779.7 1372 L781.9 1370.5 L783 1371.1 L781.9 1373.3 L783 1373.9 L785.3 1372.4 L786.4 1373.1 L785.1 1375.2 L786.1 1375.9 L788.5 1374.5 L789.5 1375.2 L788 1377.3 L788.9 1378.1 L791.5 1376.8 L792.4 1377.5 L790.8 1379.6 L791.6 1380.4 L794.3 1379.2 L795.1 1380 L793.3 1382 L794.1 1382.8 L796.8 1381.7 L797.6 1382.6 L795.6 1384.5 L796.3 1385.3 L799.1 1384.4 L799.8 1385.3 L797.7 1387.1 L798.3 1388 L801.2 1387.2 L801.8 1388.2 L799.6 1389.8 L800.1 1390.7 L802.9 1390.2 L803.5 1391.1 L801.1 1392.6 L801.6 1393.5 L804.5 1393.1 L804.9 1394.1 L802.4 1395.5 L802.8 1396.4 L805.7 1396.2 L806.1 1397.2 L803.5 1398.4 L803.8 1399.4 L806.7 1399.3 L806.9 1400.4 L804.3 1401.4 L804.5 1402.3 L807.3 1402.5 L807.5 1403.6 L804.8 1404.4 L804.9 1405.3 L807.7 1405.7 L807.8 1406.8 L805 1407.4Z" fill="#fff" stroke="#27272a" stroke-width="1.85" stroke-linejoin="round" stroke-linecap="round" />
<path d="M805 1405.4 L807.8 1405.9 L807.8 1407 L804.9 1407.4 L804.8 1408.4 L807.6 1409.1 L807.4 1410.2 L804.6 1410.4 L804.4 1411.4 L807.1 1412.3 L806.8 1413.3 L804 1413.4 L803.7 1414.3 L806.3 1415.5 L806 1416.5 L803.1 1416.3 L802.7 1417.3 L805.2 1418.6 L804.8 1419.6 L801.9 1419.2 L801.5 1420.1 L803.8 1421.6 L803.3 1422.6 L800.5 1422 L799.9 1423 L802.2 1424.6 L801.6 1425.5 L798.8 1424.8 L798.2 1425.7 L800.3 1427.4 L799.6 1428.3 L796.8 1427.5 L796.1 1428.3 L798.1 1430.2 L797.3 1431.1 L794.6 1430 L793.9 1430.9 L795.7 1432.8 L794.8 1433.6 L792.2 1432.5 L791.4 1433.3 L793 1435.3 L792.1 1436.1 L789.6 1434.8 L788.7 1435.6 L790.2 1437.7 L789.2 1438.4 L786.7 1437 L785.8 1437.7 L787.1 1439.9 L786 1440.5 L783.7 1439.1 L782.7 1439.7 L783.8 1441.9 L782.7 1442.5 L780.5 1441 L779.4 1441.6 L780.3 1443.7 L779.2 1444.3 L777.1 1442.7 L776 1443.2 L776.7 1445.4 L775.5 1445.9 L773.6 1444.3 L772.4 1444.7 L773 1446.9 L771.7 1447.3 L769.9 1445.6 L768.7 1446 L769.1 1448.1 L767.8 1448.5 L766.2 1446.8 L764.9 1447.2 L765.1 1449.2 L763.8 1449.5 L762.3 1447.8 L761.1 1448.1 L761 1450 L759.7 1450.2 L758.4 1448.6 L757.1 1448.8 L756.9 1450.6 L755.5 1450.8 L754.4 1449.2 L753.1 1449.3 L752.7 1451 L751.3 1451.1 L750.4 1449.5 L749.1 1449.6 L748.5 1451.2 L747.1 1451.2 L746.4 1449.6 L745.1 1449.6 L744.2 1451.1 L742.9 1451.1 L742.4 1449.4 L741.1 1449.3 L740 1450.9 L738.7 1450.7 L738.4 1448.9 L737.1 1448.7 L735.9 1450.4 L734.5 1450.2 L734.4 1448.3 L733.1 1448 L731.7 1449.7 L730.4 1449.4 L730.5 1447.4 L729.3 1447.1 L727.7 1448.7 L726.4 1448.4 L726.7 1446.3 L725.5 1445.9 L723.8 1447.6 L722.5 1447.2 L723 1445 L721.8 1444.6 L719.9 1446.2 L718.7 1445.7 L719.4 1443.6 L718.3 1443.1 L716.2 1444.7 L715.1 1444.1 L716 1442 L714.9 1441.4 L712.7 1442.9 L711.6 1442.3 L712.7 1440.1 L711.6 1439.5 L709.3 1441 L708.2 1440.3 L709.5 1438.2 L708.5 1437.5 L706.1 1438.9 L705.1 1438.2 L706.6 1436.1 L705.7 1435.3 L703.1 1436.6 L702.2 1435.9 L703.8 1433.8 L703 1433 L700.3 1434.2 L699.5 1433.4 L701.3 1431.4 L700.5 1430.6 L697.8 1431.7 L697 1430.8 L699 1428.9 L698.3 1428.1 L695.5 1429 L694.8 1428.1 L696.9 1426.3 L696.3 1425.4 L693.4 1426.2 L692.8 1425.2 L695 1423.6 L694.5 1422.7 L691.7 1423.2 L691.1 1422.3 L693.5 1420.8 L693 1419.9 L690.1 1420.3 L689.7 1419.3 L692.2 1417.9 L691.8 1417 L688.9 1417.2 L688.5 1416.2 L691.1 1415 L690.8 1414 L687.9 1414.1 L687.7 1413 L690.3 1412 L690.1 1411.1 L687.3 1410.9 L687.1 1409.8 L689.8 1409 L689.7 1408.1 L686.9 1407.7 L686.8 1406.6 L689.6 1406 L689.6 1405 L686.8 1404.5 L686.8 1403.4 L689.7 1403 L689.8 1402 L687 1401.3 L687.2 1400.2 L690 1400 L690.2 1399 L687.5 1398.1 L687.8 1397.1 L690.6 1397 L690.9 1396.1 L688.3 1394.9 L688.6 1393.9 L691.5 1394.1 L691.9 1393.1 L689.4 1391.8 L689.8 1390.8 L692.7 1391.2 L693.1 1390.3 L690.8 1388.8 L691.3 1387.8 L694.1 1388.4 L694.7 1387.4 L692.4 1385.8 L693 1384.9 L695.8 1385.6 L696.4 1384.7 L694.3 1383 L695 1382.1 L697.8 1382.9 L698.5 1382.1 L696.5 1380.2 L697.3 1379.3 L700 1380.4 L700.7 1379.5 L698.9 1377.6 L699.8 1376.8 L702.4 1377.9 L703.2 1377.1 L701.6 1375.1 L702.5 1374.3 L705 1375.6 L705.9 1374.8 L704.4 1372.7 L705.4 1372 L707.9 1373.4 L708.8 1372.7 L707.5 1370.5 L708.6 1369.9 L710.9 1371.3 L711.9 1370.7 L710.8 1368.5 L711.9 1367.9 L714.1 1369.4 L715.2 1368.8 L714.3 1366.7 L715.4 1366.1 L717.5 1367.7 L718.6 1367.2 L717.9 1365 L719.1 1364.5 L721 1366.1 L722.2 1365.7 L721.6 1363.5 L722.9 1363.1 L724.7 1364.8 L725.9 1364.4 L725.5 1362.3 L726.8 1361.9 L728.4 1363.6 L729.7 1363.2 L729.5 1361.2 L730.8 1360.9 L732.3 1362.6 L733.5 1362.3 L733.6 1360.4 L734.9 1360.2 L736.2 1361.8 L737.5 1361.6 L737.7 1359.8 L739.1 1359.6 L740.2 1361.2 L741.5 1361.1 L741.9 1359.4 L743.3 1359.3 L744.2 1360.9 L745.5 1360.8 L746.1 1359.2 L747.5 1359.2 L748.2 1360.8 L749.5 1360.8 L750.4 1359.3 L751.7 1359.3 L752.2 1361 L753.5 1361.1 L754.6 1359.5 L755.9 1359.7 L756.2 1361.5 L757.5 1361.7 L758.7 1360 L760.1 1360.2 L760.2 1362.1 L761.5 1362.4 L762.9 1360.7 L764.2 1361 L764.1 1363 L765.3 1363.3 L766.9 1361.7 L768.2 1362 L767.9 1364.1 L769.1 1364.5 L770.8 1362.8 L772.1 1363.2 L771.6 1365.4 L772.8 1365.8 L774.7 1364.2 L775.9 1364.7 L775.2 1366.8 L776.3 1367.3 L778.4 1365.7 L779.5 1366.3 L778.6 1368.4 L779.7 1369 L781.9 1367.5 L783 1368.1 L781.9 1370.3 L783 1370.9 L785.3 1369.4 L786.4 1370.1 L785.1 1372.2 L786.1 1372.9 L788.5 1371.5 L789.5 1372.2 L788 1374.3 L788.9 1375.1 L791.5 1373.8 L792.4 1374.5 L790.8 1376.6 L791.6 1377.4 L794.3 1376.2 L795.1 1377 L793.3 1379 L794.1 1379.8 L796.8 1378.7 L797.6 1379.6 L795.6 1381.5 L796.3 1382.3 L799.1 1381.4 L799.8 1382.3 L797.7 1384.1 L798.3 1385 L801.2 1384.2 L801.8 1385.2 L799.6 1386.8 L800.1 1387.7 L802.9 1387.2 L803.5 1388.1 L801.1 1389.6 L801.6 1390.5 L804.5 1390.1 L804.9 1391.1 L802.4 1392.5 L802.8 1393.4 L805.7 1393.2 L806.1 1394.2 L803.5 1395.4 L803.8 1396.4 L806.7 1396.3 L806.9 1397.4 L804.3 1398.4 L804.5 1399.3 L807.3 1399.5 L807.5 1400.6 L804.8 1401.4 L804.9 1402.3 L807.7 1402.7 L807.8 1403.8 L805 1404.4Z" fill="#fff" stroke="#27272a" stroke-width="2.11" stroke-linejoin="round" stroke-linecap="round" />
<ellipse cx="747.3" cy="1405.2" rx="57.3" ry="43.6" fill="none" stroke="#27272a" stroke-width="1.58" />
<polygon points="790.9,1418.9 789.1,1421.9 786.9,1424.7 784.4,1427.4 781.5,1429.9 778.4,1432.2 775,1434.2 771.4,1436 767.6,1437.6 763.6,1438.9 759.5,1439.9 755.3,1440.6 751,1441 752.3,1421 755,1420.4 757.5,1419.5 759.9,1418.4 762,1417 763.9,1415.4 765.6,1413.7" fill="#fff" stroke="#27272a" stroke-width="1.98" stroke-linejoin="round" stroke-linecap="round" />
<polyline points="789.9,1418.4 787.7,1421.6 785,1424.5 782,1427.3 778.7,1429.8 775,1432 771.1,1434 766.9,1435.6 762.6,1436.9 758.1,1437.9 753.5,1438.6" fill="none" stroke="#27272a" stroke-width="1.19" stroke-linejoin="round" stroke-linecap="round" />
<polygon points="743.6,1441 739.3,1440.6 735.1,1439.9 731,1438.9 727,1437.6 723.2,1436 719.6,1434.2 716.2,1432.2 713.1,1429.9 710.2,1427.4 707.7,1424.7 705.5,1421.9 703.7,1418.9 729,1413.7 730.7,1415.4 732.6,1417 734.7,1418.4 737.1,1419.5 739.6,1420.4 742.3,1421" fill="#fff" stroke="#27272a" stroke-width="1.98" stroke-linejoin="round" stroke-linecap="round" />
<polyline points="741.1,1438.6 736.5,1437.9 732,1436.9 727.7,1435.6 723.5,1434 719.6,1432 715.9,1429.8 712.6,1427.3 709.6,1424.5 706.9,1421.6 704.7,1418.4" fill="none" stroke="#27272a" stroke-width="1.19" stroke-linejoin="round" stroke-linecap="round" />
<polygon points="701.4,1413.6 700.6,1410.3 700.2,1407.1 700.1,1403.8 700.5,1400.5 701.3,1397.3 702.4,1394.1 703.9,1391 705.8,1388.1 708.1,1385.3 710.6,1382.6 713.5,1380.2 716.7,1377.9 731,1394.6 729.3,1396.3 728,1398.2 726.9,1400.2 726.2,1402.2 725.9,1404.3 725.9,1406.5" fill="#fff" stroke="#27272a" stroke-width="1.98" stroke-linejoin="round" stroke-linecap="round" />
<polygon points="722.6,1374.6 726.4,1373 730.4,1371.7 734.5,1370.7 738.7,1369.9 743,1369.5 747.3,1369.3 751.6,1369.5 755.9,1369.9 760.1,1370.7 764.2,1371.7 768.2,1373 772,1374.6 755.5,1390.2 752.8,1389.5 750.1,1389.1 747.3,1388.9 744.5,1389.1 741.8,1389.5 739.1,1390.2" fill="#fff" stroke="#27272a" stroke-width="1.98" stroke-linejoin="round" stroke-linecap="round" />
<polygon points="777.9,1377.9 781.1,1380.2 784,1382.6 786.5,1385.3 788.8,1388.1 790.7,1391 792.2,1394.1 793.3,1397.3 794.1,1400.5 794.5,1403.8 794.4,1407.1 794,1410.3 793.2,1413.6 768.7,1406.5 768.7,1404.3 768.4,1402.2 767.7,1400.2 766.6,1398.2 765.3,1396.3 763.6,1394.6" fill="#fff" stroke="#27272a" stroke-width="1.98" stroke-linejoin="round" stroke-linecap="round" />
<ellipse cx="747.3" cy="1405.2" rx="18.1" ry="13.8" fill="#fff" stroke="#27272a" stroke-width="1.85" />
<ellipse cx="747.3" cy="1405.2" rx="12.7" ry="9.7" fill="#fff" stroke="#27272a" stroke-width="1.58" />
<ellipse cx="747.3" cy="1404.2" rx="6" ry="4.6" fill="#fff" stroke="#27272a" stroke-width="1.45" />
<line x1="748.6" y1="1206" x2="747.7" y2="1396" stroke="#27272a" stroke-width="1.1" />
<path d="M864.3 1533.7 L867.1 1534.3 L867.1 1535.3 L864.2 1535.7 L864.2 1536.7 L866.9 1537.5 L866.8 1538.5 L863.9 1538.7 L863.7 1539.7 L866.4 1540.7 L866.2 1541.7 L863.3 1541.7 L863 1542.7 L865.6 1543.8 L865.3 1544.8 L862.4 1544.7 L862.1 1545.6 L864.5 1546.9 L864.1 1547.9 L861.3 1547.6 L860.8 1548.5 L863.2 1549.9 L862.7 1550.9 L859.8 1550.4 L859.3 1551.3 L861.6 1552.9 L861 1553.9 L858.2 1553.2 L857.6 1554 L859.7 1555.8 L859 1556.7 L856.3 1555.8 L855.6 1556.7 L857.6 1558.5 L856.8 1559.4 L854.1 1558.4 L853.3 1559.2 L855.2 1561.2 L854.3 1562 L851.7 1560.9 L850.9 1561.6 L852.6 1563.7 L851.7 1564.5 L849.1 1563.2 L848.2 1563.9 L849.7 1566 L848.8 1566.8 L846.3 1565.4 L845.4 1566.1 L846.7 1568.2 L845.6 1568.9 L843.3 1567.4 L842.3 1568.1 L843.4 1570.3 L842.3 1570.9 L840.1 1569.3 L839.1 1569.9 L840 1572.1 L838.9 1572.7 L836.8 1571.1 L835.7 1571.6 L836.5 1573.8 L835.3 1574.3 L833.3 1572.6 L832.2 1573.1 L832.7 1575.2 L831.5 1575.7 L829.7 1574 L828.5 1574.4 L828.9 1576.5 L827.6 1576.9 L826 1575.2 L824.8 1575.5 L825 1577.5 L823.7 1577.8 L822.2 1576.2 L821 1576.5 L820.9 1578.4 L819.6 1578.6 L818.4 1577 L817.1 1577.2 L816.8 1579 L815.5 1579.2 L814.4 1577.6 L813.1 1577.7 L812.7 1579.4 L811.3 1579.5 L810.5 1577.9 L809.2 1578 L808.5 1579.6 L807.2 1579.6 L806.5 1578 L805.2 1578 L804.4 1579.5 L803 1579.5 L802.5 1577.8 L801.2 1577.7 L800.2 1579.3 L798.9 1579.1 L798.6 1577.3 L797.3 1577.2 L796.1 1578.8 L794.7 1578.6 L794.7 1576.7 L793.4 1576.4 L792 1578.1 L790.7 1577.8 L790.8 1575.8 L789.6 1575.5 L788 1577.1 L786.7 1576.8 L787 1574.7 L785.8 1574.3 L784.1 1576 L782.9 1575.6 L783.4 1573.5 L782.2 1573 L780.3 1574.7 L779.1 1574.2 L779.8 1572 L778.7 1571.5 L776.7 1573.1 L775.5 1572.6 L776.4 1570.4 L775.3 1569.8 L773.2 1571.4 L772 1570.8 L773.1 1568.6 L772.1 1568 L769.8 1569.4 L768.8 1568.8 L770 1566.6 L769.1 1566 L766.7 1567.3 L765.7 1566.6 L767.1 1564.5 L766.2 1563.8 L763.7 1565.1 L762.8 1564.3 L764.4 1562.2 L763.6 1561.5 L760.9 1562.7 L760.1 1561.8 L761.9 1559.9 L761.1 1559.1 L758.4 1560.1 L757.7 1559.2 L759.6 1557.4 L758.9 1556.5 L756.1 1557.4 L755.4 1556.5 L757.5 1554.7 L756.9 1553.9 L754.1 1554.6 L753.5 1553.7 L755.7 1552 L755.2 1551.1 L752.3 1551.7 L751.8 1550.7 L754.2 1549.2 L753.7 1548.3 L750.8 1548.7 L750.4 1547.7 L752.8 1546.4 L752.5 1545.4 L749.6 1545.6 L749.2 1544.6 L751.8 1543.5 L751.5 1542.5 L748.6 1542.5 L748.4 1541.5 L751 1540.5 L750.8 1539.5 L748 1539.3 L747.8 1538.3 L750.5 1537.5 L750.4 1536.5 L747.6 1536.2 L747.5 1535.1 L750.3 1534.5 L750.3 1533.5 L747.5 1532.9 L747.5 1531.9 L750.4 1531.5 L750.4 1530.5 L747.7 1529.7 L747.8 1528.7 L750.7 1528.5 L750.9 1527.5 L748.2 1526.5 L748.4 1525.5 L751.3 1525.5 L751.6 1524.5 L749 1523.4 L749.3 1522.4 L752.2 1522.5 L752.5 1521.6 L750.1 1520.3 L750.5 1519.3 L753.3 1519.6 L753.8 1518.7 L751.4 1517.3 L751.9 1516.3 L754.8 1516.8 L755.3 1515.9 L753 1514.3 L753.6 1513.3 L756.4 1514 L757 1513.2 L754.9 1511.4 L755.6 1510.5 L758.3 1511.4 L759 1510.5 L757 1508.7 L757.8 1507.8 L760.5 1508.8 L761.3 1508 L759.4 1506 L760.3 1505.2 L762.9 1506.3 L763.7 1505.6 L762 1503.5 L762.9 1502.7 L765.5 1504 L766.4 1503.3 L764.9 1501.2 L765.8 1500.4 L768.3 1501.8 L769.2 1501.1 L767.9 1499 L769 1498.3 L771.3 1499.8 L772.3 1499.1 L771.2 1496.9 L772.3 1496.3 L774.5 1497.9 L775.5 1497.3 L774.6 1495.1 L775.7 1494.5 L777.8 1496.1 L778.9 1495.6 L778.1 1493.4 L779.3 1492.9 L781.3 1494.6 L782.4 1494.1 L781.9 1492 L783.1 1491.5 L784.9 1493.2 L786.1 1492.8 L785.7 1490.7 L787 1490.3 L788.6 1492 L789.8 1491.7 L789.6 1489.7 L790.9 1489.4 L792.4 1491 L793.6 1490.7 L793.7 1488.8 L795 1488.6 L796.2 1490.2 L797.5 1490 L797.8 1488.2 L799.1 1488 L800.2 1489.6 L801.5 1489.5 L801.9 1487.8 L803.3 1487.7 L804.1 1489.3 L805.4 1489.2 L806.1 1487.6 L807.4 1487.6 L808.1 1489.2 L809.4 1489.2 L810.2 1487.7 L811.6 1487.7 L812.1 1489.4 L813.4 1489.5 L814.4 1487.9 L815.7 1488.1 L816 1489.9 L817.3 1490 L818.5 1488.4 L819.9 1488.6 L819.9 1490.5 L821.2 1490.8 L822.6 1489.1 L823.9 1489.4 L823.8 1491.4 L825 1491.7 L826.6 1490.1 L827.9 1490.4 L827.6 1492.5 L828.8 1492.9 L830.5 1491.2 L831.7 1491.6 L831.2 1493.7 L832.4 1494.2 L834.3 1492.5 L835.5 1493 L834.8 1495.2 L835.9 1495.7 L837.9 1494.1 L839.1 1494.6 L838.2 1496.8 L839.3 1497.4 L841.4 1495.8 L842.6 1496.4 L841.5 1498.6 L842.5 1499.2 L844.8 1497.8 L845.8 1498.4 L844.6 1500.6 L845.5 1501.2 L847.9 1499.9 L848.9 1500.6 L847.5 1502.7 L848.4 1503.4 L850.9 1502.1 L851.8 1502.9 L850.2 1505 L851 1505.7 L853.7 1504.5 L854.5 1505.4 L852.7 1507.3 L853.5 1508.1 L856.2 1507.1 L856.9 1508 L855 1509.8 L855.7 1510.7 L858.5 1509.8 L859.2 1510.7 L857.1 1512.5 L857.7 1513.3 L860.5 1512.6 L861.1 1513.5 L858.9 1515.2 L859.4 1516.1 L862.3 1515.5 L862.8 1516.5 L860.4 1518 L860.9 1518.9 L863.8 1518.5 L864.2 1519.5 L861.8 1520.8 L862.1 1521.8 L865 1521.6 L865.4 1522.6 L862.8 1523.7 L863.1 1524.7 L866 1524.7 L866.2 1525.7 L863.6 1526.7 L863.8 1527.7 L866.6 1527.9 L866.8 1528.9 L864.1 1529.7 L864.2 1530.7 L867 1531 L867.1 1532.1 L864.3 1532.7Z" fill="#fff" stroke="#27272a" stroke-width="1.85" stroke-linejoin="round" stroke-linecap="round" />
<path d="M864.3 1530.7 L867.1 1531.3 L867.1 1532.3 L864.2 1532.7 L864.2 1533.7 L866.9 1534.5 L866.8 1535.5 L863.9 1535.7 L863.7 1536.7 L866.4 1537.7 L866.2 1538.7 L863.3 1538.7 L863 1539.7 L865.6 1540.8 L865.3 1541.8 L862.4 1541.7 L862.1 1542.6 L864.5 1543.9 L864.1 1544.9 L861.3 1544.6 L860.8 1545.5 L863.2 1546.9 L862.7 1547.9 L859.8 1547.4 L859.3 1548.3 L861.6 1549.9 L861 1550.9 L858.2 1550.2 L857.6 1551 L859.7 1552.8 L859 1553.7 L856.3 1552.8 L855.6 1553.7 L857.6 1555.5 L856.8 1556.4 L854.1 1555.4 L853.3 1556.2 L855.2 1558.2 L854.3 1559 L851.7 1557.9 L850.9 1558.6 L852.6 1560.7 L851.7 1561.5 L849.1 1560.2 L848.2 1560.9 L849.7 1563 L848.8 1563.8 L846.3 1562.4 L845.4 1563.1 L846.7 1565.2 L845.6 1565.9 L843.3 1564.4 L842.3 1565.1 L843.4 1567.3 L842.3 1567.9 L840.1 1566.3 L839.1 1566.9 L840 1569.1 L838.9 1569.7 L836.8 1568.1 L835.7 1568.6 L836.5 1570.8 L835.3 1571.3 L833.3 1569.6 L832.2 1570.1 L832.7 1572.2 L831.5 1572.7 L829.7 1571 L828.5 1571.4 L828.9 1573.5 L827.6 1573.9 L826 1572.2 L824.8 1572.5 L825 1574.5 L823.7 1574.8 L822.2 1573.2 L821 1573.5 L820.9 1575.4 L819.6 1575.6 L818.4 1574 L817.1 1574.2 L816.8 1576 L815.5 1576.2 L814.4 1574.6 L813.1 1574.7 L812.7 1576.4 L811.3 1576.5 L810.5 1574.9 L809.2 1575 L808.5 1576.6 L807.2 1576.6 L806.5 1575 L805.2 1575 L804.4 1576.5 L803 1576.5 L802.5 1574.8 L801.2 1574.7 L800.2 1576.3 L798.9 1576.1 L798.6 1574.3 L797.3 1574.2 L796.1 1575.8 L794.7 1575.6 L794.7 1573.7 L793.4 1573.4 L792 1575.1 L790.7 1574.8 L790.8 1572.8 L789.6 1572.5 L788 1574.1 L786.7 1573.8 L787 1571.7 L785.8 1571.3 L784.1 1573 L782.9 1572.6 L783.4 1570.5 L782.2 1570 L780.3 1571.7 L779.1 1571.2 L779.8 1569 L778.7 1568.5 L776.7 1570.1 L775.5 1569.6 L776.4 1567.4 L775.3 1566.8 L773.2 1568.4 L772 1567.8 L773.1 1565.6 L772.1 1565 L769.8 1566.4 L768.8 1565.8 L770 1563.6 L769.1 1563 L766.7 1564.3 L765.7 1563.6 L767.1 1561.5 L766.2 1560.8 L763.7 1562.1 L762.8 1561.3 L764.4 1559.2 L763.6 1558.5 L760.9 1559.7 L760.1 1558.8 L761.9 1556.9 L761.1 1556.1 L758.4 1557.1 L757.7 1556.2 L759.6 1554.4 L758.9 1553.5 L756.1 1554.4 L755.4 1553.5 L757.5 1551.7 L756.9 1550.9 L754.1 1551.6 L753.5 1550.7 L755.7 1549 L755.2 1548.1 L752.3 1548.7 L751.8 1547.7 L754.2 1546.2 L753.7 1545.3 L750.8 1545.7 L750.4 1544.7 L752.8 1543.4 L752.5 1542.4 L749.6 1542.6 L749.2 1541.6 L751.8 1540.5 L751.5 1539.5 L748.6 1539.5 L748.4 1538.5 L751 1537.5 L750.8 1536.5 L748 1536.3 L747.8 1535.3 L750.5 1534.5 L750.4 1533.5 L747.6 1533.2 L747.5 1532.1 L750.3 1531.5 L750.3 1530.5 L747.5 1529.9 L747.5 1528.9 L750.4 1528.5 L750.4 1527.5 L747.7 1526.7 L747.8 1525.7 L750.7 1525.5 L750.9 1524.5 L748.2 1523.5 L748.4 1522.5 L751.3 1522.5 L751.6 1521.5 L749 1520.4 L749.3 1519.4 L752.2 1519.5 L752.5 1518.6 L750.1 1517.3 L750.5 1516.3 L753.3 1516.6 L753.8 1515.7 L751.4 1514.3 L751.9 1513.3 L754.8 1513.8 L755.3 1512.9 L753 1511.3 L753.6 1510.3 L756.4 1511 L757 1510.2 L754.9 1508.4 L755.6 1507.5 L758.3 1508.4 L759 1507.5 L757 1505.7 L757.8 1504.8 L760.5 1505.8 L761.3 1505 L759.4 1503 L760.3 1502.2 L762.9 1503.3 L763.7 1502.6 L762 1500.5 L762.9 1499.7 L765.5 1501 L766.4 1500.3 L764.9 1498.2 L765.8 1497.4 L768.3 1498.8 L769.2 1498.1 L767.9 1496 L769 1495.3 L771.3 1496.8 L772.3 1496.1 L771.2 1493.9 L772.3 1493.3 L774.5 1494.9 L775.5 1494.3 L774.6 1492.1 L775.7 1491.5 L777.8 1493.1 L778.9 1492.6 L778.1 1490.4 L779.3 1489.9 L781.3 1491.6 L782.4 1491.1 L781.9 1489 L783.1 1488.5 L784.9 1490.2 L786.1 1489.8 L785.7 1487.7 L787 1487.3 L788.6 1489 L789.8 1488.7 L789.6 1486.7 L790.9 1486.4 L792.4 1488 L793.6 1487.7 L793.7 1485.8 L795 1485.6 L796.2 1487.2 L797.5 1487 L797.8 1485.2 L799.1 1485 L800.2 1486.6 L801.5 1486.5 L801.9 1484.8 L803.3 1484.7 L804.1 1486.3 L805.4 1486.2 L806.1 1484.6 L807.4 1484.6 L808.1 1486.2 L809.4 1486.2 L810.2 1484.7 L811.6 1484.7 L812.1 1486.4 L813.4 1486.5 L814.4 1484.9 L815.7 1485.1 L816 1486.9 L817.3 1487 L818.5 1485.4 L819.9 1485.6 L819.9 1487.5 L821.2 1487.8 L822.6 1486.1 L823.9 1486.4 L823.8 1488.4 L825 1488.7 L826.6 1487.1 L827.9 1487.4 L827.6 1489.5 L828.8 1489.9 L830.5 1488.2 L831.7 1488.6 L831.2 1490.7 L832.4 1491.2 L834.3 1489.5 L835.5 1490 L834.8 1492.2 L835.9 1492.7 L837.9 1491.1 L839.1 1491.6 L838.2 1493.8 L839.3 1494.4 L841.4 1492.8 L842.6 1493.4 L841.5 1495.6 L842.5 1496.2 L844.8 1494.8 L845.8 1495.4 L844.6 1497.6 L845.5 1498.2 L847.9 1496.9 L848.9 1497.6 L847.5 1499.7 L848.4 1500.4 L850.9 1499.1 L851.8 1499.9 L850.2 1502 L851 1502.7 L853.7 1501.5 L854.5 1502.4 L852.7 1504.3 L853.5 1505.1 L856.2 1504.1 L856.9 1505 L855 1506.8 L855.7 1507.7 L858.5 1506.8 L859.2 1507.7 L857.1 1509.5 L857.7 1510.3 L860.5 1509.6 L861.1 1510.5 L858.9 1512.2 L859.4 1513.1 L862.3 1512.5 L862.8 1513.5 L860.4 1515 L860.9 1515.9 L863.8 1515.5 L864.2 1516.5 L861.8 1517.8 L862.1 1518.8 L865 1518.6 L865.4 1519.6 L862.8 1520.7 L863.1 1521.7 L866 1521.7 L866.2 1522.7 L863.6 1523.7 L863.8 1524.7 L866.6 1524.9 L866.8 1525.9 L864.1 1526.7 L864.2 1527.7 L867 1528 L867.1 1529.1 L864.3 1529.7Z" fill="#fff" stroke="#27272a" stroke-width="2.11" stroke-linejoin="round" stroke-linecap="round" />
<ellipse cx="807.3" cy="1530.6" rx="56.6" ry="43.5" fill="none" stroke="#27272a" stroke-width="1.58" />
<polygon points="852.3,1540.1 851,1543.2 849.3,1546.2 847.3,1549.1 844.9,1551.8 842.2,1554.4 839.2,1556.8 836,1558.9 832.5,1560.8 828.8,1562.4 824.9,1563.8 820.9,1564.9 816.8,1565.7 814.8,1545.8 817.3,1545 819.7,1543.8 821.8,1542.5 823.7,1540.9 825.3,1539.2 826.6,1537.3" fill="#fff" stroke="#27272a" stroke-width="1.98" stroke-linejoin="round" stroke-linecap="round" />
<polyline points="851.6,1539.7 849.9,1543 847.8,1546.2 845.3,1549.2 842.4,1552 839.2,1554.6 835.7,1556.9 831.9,1558.9 827.8,1560.6 823.6,1562 819.1,1563.1" fill="none" stroke="#27272a" stroke-width="1.19" stroke-linejoin="round" stroke-linecap="round" />
<polygon points="809.5,1566.4 805.2,1566.4 801,1566.1 796.8,1565.6 792.7,1564.7 788.7,1563.5 784.8,1562 781.2,1560.3 777.8,1558.4 774.6,1556.2 771.7,1553.8 769.1,1551.2 766.8,1548.4 790.8,1540.8 792.6,1542.4 794.8,1543.7 797.1,1544.9 799.6,1545.8 802.3,1546.4 805,1546.8" fill="#fff" stroke="#27272a" stroke-width="1.98" stroke-linejoin="round" stroke-linecap="round" />
<polyline points="807.1,1564.3 802.4,1564.1 797.8,1563.5 793.4,1562.6 789,1561.4 784.8,1559.8 780.9,1558 777.2,1555.8 773.8,1553.4 770.7,1550.7 768,1547.8" fill="none" stroke="#27272a" stroke-width="1.19" stroke-linejoin="round" stroke-linecap="round" />
<polygon points="763.7,1543.3 762.3,1540.2 761.4,1537 760.8,1533.7 760.7,1530.4 760.9,1527.1 761.5,1523.9 762.5,1520.7 763.8,1517.6 765.6,1514.6 767.7,1511.7 770.1,1509 772.8,1506.5 789.6,1521.7 788.2,1523.5 787.2,1525.5 786.5,1527.5 786.2,1529.7 786.2,1531.8 786.6,1533.9" fill="#fff" stroke="#27272a" stroke-width="1.98" stroke-linejoin="round" stroke-linecap="round" />
<polygon points="778.1,1502.6 781.6,1500.7 785.3,1499 789.1,1497.6 793.1,1496.4 797.2,1495.6 801.5,1495 805.7,1494.7 810,1494.8 814.2,1495.1 818.4,1495.8 822.5,1496.7 826.5,1497.9 812.9,1514.9 810.2,1514.5 807.4,1514.3 804.6,1514.4 801.9,1514.8 799.3,1515.5 796.8,1516.5" fill="#fff" stroke="#27272a" stroke-width="1.98" stroke-linejoin="round" stroke-linecap="round" />
<polygon points="832.9,1500.6 836.4,1502.5 839.6,1504.7 842.5,1507.1 845.2,1509.7 847.5,1512.4 849.5,1515.3 851.1,1518.4 852.4,1521.5 853.3,1524.7 853.8,1528 853.9,1531.3 853.7,1534.5 828.4,1529.8 828.1,1527.7 827.5,1525.6 826.5,1523.7 825.1,1521.8 823.5,1520.1 821.5,1518.6" fill="#fff" stroke="#27272a" stroke-width="1.98" stroke-linejoin="round" stroke-linecap="round" />
<ellipse cx="807.3" cy="1530.6" rx="17.9" ry="13.8" fill="#fff" stroke="#27272a" stroke-width="1.85" />
<ellipse cx="807.3" cy="1530.6" rx="12.6" ry="9.7" fill="#fff" stroke="#27272a" stroke-width="1.58" />
<ellipse cx="807.3" cy="1529.6" rx="5.9" ry="4.6" fill="#fff" stroke="#27272a" stroke-width="1.45" />
<ellipse cx="807.3" cy="1530" rx="4.5" ry="3.4" fill="#333" stroke="#27272a" stroke-width="1.32" />
<g>
<path d="M824.1 1638.5 L824.1 1645.5 Q824.1 1647.3 826.5 1647.3 L826.5 1651 Q826.5 1652.5 829.6 1653 L832.7 1651 Q832.7 1652.5 832.7 1651 L832.7 1647.3 Q835.1 1647.3 835.1 1645.5 L835.1 1638.5" fill="#fff" stroke="#27272a" stroke-width="1.65" stroke-linejoin="round" stroke-linecap="round" />
<line x1="826.5" y1="1647.3" x2="832.7" y2="1647.3" stroke="#27272a" stroke-width="1.0" />
<path d="M817.1 1630 L817.1 1633.2 A12.5 8.8 0 0 0 842.1 1633.2 L842.1 1630" fill="#fff" stroke="#27272a" stroke-width="1.98" stroke-linejoin="round" stroke-linecap="round" />
<ellipse cx="829.6" cy="1630" rx="12.5" ry="8.8" fill="#fff" stroke="#27272a" stroke-width="1.98" />
<line x1="819.1" y1="1627.2" x2="840.1" y2="1631.4" stroke="#2f2f31" stroke-width="3.5" stroke-linecap="round"/>
</g>
<path d="M719.8 1680.4 L719.8 1688.8 Q722.6 1692.8 725.4 1688.8 L725.4 1680.4" fill="#fff" stroke="#27272a" stroke-width="1.58" stroke-linejoin="round" stroke-linecap="round" />
<path d="M715.9 1678 L715.9 1681.8 A6.8 4.7 0 0 0 729.4 1681.8 L729.4 1678" fill="#555" stroke="#3a3a3c" stroke-width="1.98" stroke-linejoin="round" stroke-linecap="round" />
<ellipse cx="722.6" cy="1678" rx="6.8" ry="4.7" fill="#9a9a9a" stroke="#3a3a3c" stroke-width="2.38" />
<line x1="718.6" y1="1678.3" x2="726.6" y2="1677.4" stroke="#f2f2f2" stroke-width="1.6" />
<path d="M707.7 1731 C708.3 1727.7 707.1 1722.9 711.8 1719.2 C716.4 1715.5 724.8 1712.9 735.5 1709 C746.2 1705.2 763.7 1700.6 776.1 1696.2 C788.5 1691.8 800.4 1685.8 810 1682.6 C819.6 1679.4 827.9 1676.9 833.7 1676.9 C839.5 1676.9 842.4 1679.8 844.5 1682.6 C846.7 1685.4 847.5 1689.4 846.6 1693.8 C845.6 1698.2 842.6 1703.8 838.8 1709 C834.9 1714.3 829.5 1721.6 823.5 1725.3 C817.6 1729 817.9 1729.1 803.2 1731 C788.5 1733 748.2 1734.5 735.5 1736.8 C722.8 1739.1 730.4 1743.3 727 1744.6 C723.6 1745.9 718.3 1745.4 715.2 1744.6 C712.1 1743.7 709.6 1741.8 708.4 1739.5 C707.1 1737.3 707.1 1734.4 707.7 1731Z" fill="#fff" stroke="#27272a" stroke-width="1.98" stroke-linejoin="round" stroke-linecap="round" />
<path d="M709.1 1740.2 C710.4 1741.5 713.6 1747 716.9 1748.3 C720.1 1749.7 725.3 1749.6 728.7 1748.3 C732.1 1747.1 724.8 1743.1 737.2 1740.9 C749.6 1738.6 788.5 1736.8 803.2 1734.8 C817.9 1732.7 818.9 1732.5 825.2 1728.7 C831.6 1724.8 837.5 1717.3 841.2 1711.7 C844.8 1706.2 846.2 1698.2 847.3 1695.5" fill="none" stroke="#27272a" stroke-width="1.45" stroke-linejoin="round" stroke-linecap="round" />
<path d="M776.1 1696.2 C778.4 1698.3 785.2 1705.2 789.7 1709 C794.2 1712.9 799.6 1715.9 803.2 1719.2 C806.9 1722.5 810.3 1727.1 811.7 1728.7" fill="none" stroke="#27272a" stroke-width="1.58" stroke-linejoin="round" stroke-linecap="round" />
<path d="M781.2 1694.8 C783.5 1696.9 790.2 1703.8 794.8 1707.7 C799.3 1711.5 804.6 1714.7 808.3 1717.8 C812 1721 815.4 1725.2 816.8 1726.6" fill="none" stroke="#27272a" stroke-width="1.32" stroke-linejoin="round" stroke-linecap="round" />
<ellipse cx="827.6" cy="1691.4" rx="11.5" ry="8" fill="#fff" stroke="#27272a" stroke-width="1.98" />
<ellipse cx="827.6" cy="1692.6" rx="7" ry="4.8" fill="none" stroke="#27272a" stroke-width="1.58" />
<ellipse cx="721.3" cy="1736.1" rx="7.4" ry="5.4" fill="none" stroke="#27272a" stroke-width="1.72" />
<ellipse cx="721.3" cy="1736.7" rx="4" ry="3" fill="none" stroke="#27272a" stroke-width="1.45" />
<ellipse cx="722.6" cy="1723.3" rx="3.4" ry="2.6" fill="none" stroke="#27272a" stroke-width="1.58" />
<ellipse cx="766" cy="1715.8" rx="11" ry="7.6" fill="#fff" stroke="#3a3a3c" stroke-width="2.9" />
<ellipse cx="766" cy="1716.4" rx="5" ry="3.4" fill="none" stroke="#27272a" stroke-width="1.58" />
<ellipse cx="809" cy="1713.1" rx="11" ry="7.6" fill="#fff" stroke="#3a3a3c" stroke-width="2.9" />
<ellipse cx="809" cy="1713.7" rx="5" ry="3.4" fill="none" stroke="#27272a" stroke-width="1.58" />
<line x1="829.5" y1="1652" x2="829.3" y2="1686" stroke="#27272a" stroke-width="1.1" />
<line x1="722.6" y1="1697" x2="722.5" y2="1728" stroke="#27272a" stroke-width="1.1" />
<path d="M0 0 Q17 -2.8 35.3 -9.4 A9.8 9.8 0 1 1 35.3 9.4 Q17 2.8 0 0Z" transform="translate(765.3 1712.4) rotate(-121.5)" fill="#2f9fc6" stroke="none" stroke-width="1.4"/>
<path d="M0 0 Q14.4 -2.4 29.8 -7.9 A8.2 8.2 0 1 1 29.8 7.9 Q14.4 2.4 0 0Z" transform="translate(806.6 1709) rotate(-122)" fill="#e2354a" stroke="none" stroke-width="1.4"/>
<path d="M797.9 1836.2 L801.5 1836.9 L801.4 1838.2 L797.8 1838.5 L797.6 1839.7 L801 1840.9 L800.7 1842.2 L797 1842 L796.6 1843.1 L799.8 1844.8 L799.3 1846 L795.6 1845.3 L795 1846.4 L797.9 1848.5 L797.2 1849.6 L793.6 1848.5 L792.8 1849.5 L795.4 1851.9 L794.4 1853 L791.1 1851.5 L790.1 1852.4 L792.2 1855.1 L791.1 1856 L788 1854.2 L786.9 1855.1 L788.6 1857.8 L787.3 1858.6 L784.5 1856.6 L783.2 1857.4 L784.4 1860.1 L783 1860.8 L780.6 1858.7 L779.3 1859.3 L779.9 1862 L778.4 1862.4 L776.4 1860.3 L775 1860.7 L775.1 1863.3 L773.5 1863.6 L772 1861.5 L770.5 1861.7 L770.2 1864 L768.5 1864.1 L767.5 1862.1 L766 1862.2 L765.1 1864.2 L763.5 1864.1 L762.9 1861.9 L761.5 1861.7 L760.1 1863.8 L758.5 1863.6 L758.4 1861.1 L757 1860.7 L755.2 1862.9 L753.6 1862.4 L754.1 1859.8 L752.7 1859.3 L750.5 1861.4 L749 1860.8 L750 1858 L748.8 1857.4 L746.1 1859.4 L744.7 1858.6 L746.3 1855.8 L745.1 1855.1 L742.1 1856.9 L740.9 1856 L742.9 1853.3 L741.9 1852.4 L738.6 1854 L737.6 1853 L740 1850.5 L739.2 1849.5 L735.7 1850.7 L734.8 1849.6 L737.6 1847.4 L737 1846.4 L733.3 1847.2 L732.7 1846 L735.8 1844.2 L735.4 1843.1 L731.7 1843.4 L731.3 1842.2 L734.7 1840.8 L734.4 1839.7 L730.7 1839.5 L730.6 1838.2 L734.1 1837.3 L734.1 1836.2 L730.5 1835.5 L730.6 1834.2 L734.2 1833.9 L734.4 1832.7 L731 1831.5 L731.3 1830.2 L735 1830.4 L735.4 1829.3 L732.2 1827.6 L732.7 1826.4 L736.4 1827.1 L737 1826 L734.1 1823.9 L734.8 1822.8 L738.4 1823.9 L739.2 1822.9 L736.6 1820.5 L737.6 1819.4 L740.9 1820.9 L741.9 1820 L739.8 1817.3 L740.9 1816.4 L744 1818.2 L745.1 1817.3 L743.4 1814.6 L744.7 1813.8 L747.5 1815.8 L748.8 1815 L747.6 1812.3 L749 1811.6 L751.4 1813.7 L752.7 1813.1 L752.1 1810.4 L753.6 1810 L755.6 1812.1 L757 1811.7 L756.9 1809.1 L758.5 1808.8 L760 1810.9 L761.5 1810.7 L761.8 1808.4 L763.5 1808.3 L764.5 1810.3 L766 1810.2 L766.9 1808.2 L768.5 1808.3 L769.1 1810.5 L770.5 1810.7 L771.9 1808.6 L773.5 1808.8 L773.6 1811.3 L775 1811.7 L776.8 1809.5 L778.4 1810 L777.9 1812.6 L779.3 1813.1 L781.5 1811 L783 1811.6 L782 1814.4 L783.2 1815 L785.9 1813 L787.3 1813.8 L785.7 1816.6 L786.9 1817.3 L789.9 1815.5 L791.1 1816.4 L789.1 1819.1 L790.1 1820 L793.4 1818.4 L794.4 1819.4 L792 1821.9 L792.8 1822.9 L796.3 1821.7 L797.2 1822.8 L794.4 1825 L795 1826 L798.7 1825.2 L799.3 1826.4 L796.2 1828.2 L796.6 1829.3 L800.3 1829 L800.7 1830.2 L797.3 1831.6 L797.6 1832.7 L801.3 1832.9 L801.4 1834.2 L797.9 1835.1Z" fill="#fff" stroke="#27272a" stroke-width="1.45" stroke-linejoin="round" stroke-linecap="round" />
<path d="M797.9 1833.7 L801.5 1834.4 L801.4 1835.7 L797.8 1836 L797.6 1837.2 L801 1838.4 L800.7 1839.7 L797 1839.5 L796.6 1840.6 L799.8 1842.3 L799.3 1843.5 L795.6 1842.8 L795 1843.9 L797.9 1846 L797.2 1847.1 L793.6 1846 L792.8 1847 L795.4 1849.4 L794.4 1850.5 L791.1 1849 L790.1 1849.9 L792.2 1852.6 L791.1 1853.5 L788 1851.7 L786.9 1852.6 L788.6 1855.3 L787.3 1856.1 L784.5 1854.1 L783.2 1854.9 L784.4 1857.6 L783 1858.3 L780.6 1856.2 L779.3 1856.8 L779.9 1859.5 L778.4 1859.9 L776.4 1857.8 L775 1858.2 L775.1 1860.8 L773.5 1861.1 L772 1859 L770.5 1859.2 L770.2 1861.5 L768.5 1861.6 L767.5 1859.6 L766 1859.7 L765.1 1861.7 L763.5 1861.6 L762.9 1859.4 L761.5 1859.2 L760.1 1861.3 L758.5 1861.1 L758.4 1858.6 L757 1858.2 L755.2 1860.4 L753.6 1859.9 L754.1 1857.3 L752.7 1856.8 L750.5 1858.9 L749 1858.3 L750 1855.5 L748.8 1854.9 L746.1 1856.9 L744.7 1856.1 L746.3 1853.3 L745.1 1852.6 L742.1 1854.4 L740.9 1853.5 L742.9 1850.8 L741.9 1849.9 L738.6 1851.5 L737.6 1850.5 L740 1848 L739.2 1847 L735.7 1848.2 L734.8 1847.1 L737.6 1844.9 L737 1843.9 L733.3 1844.7 L732.7 1843.5 L735.8 1841.7 L735.4 1840.6 L731.7 1840.9 L731.3 1839.7 L734.7 1838.3 L734.4 1837.2 L730.7 1837 L730.6 1835.7 L734.1 1834.8 L734.1 1833.7 L730.5 1833 L730.6 1831.7 L734.2 1831.4 L734.4 1830.2 L731 1829 L731.3 1827.7 L735 1827.9 L735.4 1826.8 L732.2 1825.1 L732.7 1823.9 L736.4 1824.6 L737 1823.5 L734.1 1821.4 L734.8 1820.3 L738.4 1821.4 L739.2 1820.4 L736.6 1818 L737.6 1816.9 L740.9 1818.4 L741.9 1817.5 L739.8 1814.8 L740.9 1813.9 L744 1815.7 L745.1 1814.8 L743.4 1812.1 L744.7 1811.3 L747.5 1813.3 L748.8 1812.5 L747.6 1809.8 L749 1809.1 L751.4 1811.2 L752.7 1810.6 L752.1 1807.9 L753.6 1807.5 L755.6 1809.6 L757 1809.2 L756.9 1806.6 L758.5 1806.3 L760 1808.4 L761.5 1808.2 L761.8 1805.9 L763.5 1805.8 L764.5 1807.8 L766 1807.7 L766.9 1805.7 L768.5 1805.8 L769.1 1808 L770.5 1808.2 L771.9 1806.1 L773.5 1806.3 L773.6 1808.8 L775 1809.2 L776.8 1807 L778.4 1807.5 L777.9 1810.1 L779.3 1810.6 L781.5 1808.5 L783 1809.1 L782 1811.9 L783.2 1812.5 L785.9 1810.5 L787.3 1811.3 L785.7 1814.1 L786.9 1814.8 L789.9 1813 L791.1 1813.9 L789.1 1816.6 L790.1 1817.5 L793.4 1815.9 L794.4 1816.9 L792 1819.4 L792.8 1820.4 L796.3 1819.2 L797.2 1820.3 L794.4 1822.5 L795 1823.5 L798.7 1822.7 L799.3 1823.9 L796.2 1825.7 L796.6 1826.8 L800.3 1826.5 L800.7 1827.7 L797.3 1829.1 L797.6 1830.2 L801.3 1830.4 L801.4 1831.7 L797.9 1832.6Z" fill="#fff" stroke="#27272a" stroke-width="1.58" stroke-linejoin="round" stroke-linecap="round" />
<ellipse cx="766" cy="1833.7" rx="30.5" ry="23.6" fill="none" stroke="#27272a" stroke-width="1.32" />
<ellipse cx="766" cy="1833.2" rx="9.5" ry="7.2" fill="#fff" stroke="#27272a" stroke-width="3.43" />
<ellipse cx="766" cy="1831.7" rx="4.6" ry="3.4" fill="#fff" stroke="#27272a" stroke-width="1.58" />
<line x1="766" y1="1742" x2="765.6" y2="1828" stroke="#27272a" stroke-width="1.1" />
<path d="M819 1891 L821.9 1891.8 L821.6 1893.2 L818.4 1892.9 L817.7 1893.8 L819.6 1895.9 L818.2 1897 L815.4 1895.6 L814 1896.3 L814.4 1898.7 L812.4 1899.2 L810.7 1897.5 L809 1897.8 L807.8 1899.5 L805.6 1899.2 L805.5 1897 L804 1896.3 L801.5 1897.9 L799.8 1897 L801.3 1894.7 L800.3 1893.8 L797.2 1894.6 L796.4 1893.2 L799.1 1891.9 L799 1891 L796.1 1890.2 L796.4 1888.8 L799.6 1889.1 L800.3 1888.2 L798.4 1886.1 L799.8 1885 L802.6 1886.4 L804 1885.7 L803.6 1883.3 L805.6 1882.8 L807.3 1884.5 L809 1884.2 L810.2 1882.5 L812.4 1882.8 L812.5 1885 L814 1885.7 L816.5 1884.1 L818.2 1885 L816.7 1887.3 L817.7 1888.2 L820.8 1887.4 L821.6 1888.8 L818.9 1890.1Z" fill="#666" stroke="#27272a" stroke-width="1.85" stroke-linejoin="round" stroke-linecap="round" />
<path d="M819 1886 L821.9 1886.8 L821.6 1888.2 L818.4 1887.9 L817.7 1888.8 L819.6 1890.9 L818.2 1892 L815.4 1890.6 L814 1891.3 L814.4 1893.7 L812.4 1894.2 L810.7 1892.5 L809 1892.8 L807.8 1894.5 L805.6 1894.2 L805.5 1892 L804 1891.3 L801.5 1892.9 L799.8 1892 L801.3 1889.7 L800.3 1888.8 L797.2 1889.6 L796.4 1888.2 L799.1 1886.9 L799 1886 L796.1 1885.2 L796.4 1883.8 L799.6 1884.1 L800.3 1883.2 L798.4 1881.1 L799.8 1880 L802.6 1881.4 L804 1880.7 L803.6 1878.3 L805.6 1877.8 L807.3 1879.5 L809 1879.2 L810.2 1877.5 L812.4 1877.8 L812.5 1880 L814 1880.7 L816.5 1879.1 L818.2 1880 L816.7 1882.3 L817.7 1883.2 L820.8 1882.4 L821.6 1883.8 L818.9 1885.1Z" fill="#fff" stroke="#27272a" stroke-width="2.11" stroke-linejoin="round" stroke-linecap="round" />
<ellipse cx="809" cy="1884.5" rx="5" ry="3.3" fill="#fff" stroke="#27272a" stroke-width="1.45" />
<path d="M804.4 1898 L804.4 1914 Q809 1919 813.6 1914 L813.6 1898" fill="#fff" stroke="#27272a" stroke-width="1.72" stroke-linejoin="round" stroke-linecap="round" />
<line x1="804.4" y1="1907" x2="813.6" y2="1907" stroke="#27272a" stroke-width="1.0" />
<line x1="807" y1="1920" x2="806.1" y2="2120" stroke="#27272a" stroke-width="1.1" />
<line x1="810.2" y1="1920" x2="809.3" y2="2120" stroke="#27272a" stroke-width="1.1" />
<polygon points="897,2035 904.1,2040.7 898.3,2041.3 895.5,2042.3 899.9,2049.4 894.1,2048.6 891,2048.9 892.3,2056.6 887.2,2054.5 884.1,2054.1 882.2,2061.8 878.1,2058.6 875.4,2057.4 870.4,2064.3 867.9,2060.3 865.8,2058.6 858.3,2063.9 857.5,2059.6 856.2,2057.4 846.8,2060.8 847.8,2056.4 847.5,2054.1 837.2,2055.1 840,2051.2 840.6,2048.9 830.4,2047.4 834.6,2044.3 836.1,2042.3 827.1,2038.5 832.3,2036.6 834.6,2035 827.5,2029.3 833.3,2028.7 836.1,2027.7 831.7,2020.6 837.5,2021.4 840.6,2021.1 839.3,2013.4 844.4,2015.5 847.5,2015.9 849.4,2008.2 853.5,2011.4 856.2,2012.6 861.2,2005.7 863.7,2009.7 865.8,2011.4 873.3,2006.1 874.1,2010.4 875.4,2012.6 884.8,2009.2 883.8,2013.6 884.1,2015.9 894.4,2014.9 891.6,2018.8 891,2021.1 901.2,2022.6 897,2025.7 895.5,2027.7 904.5,2031.5 899.3,2033.4" fill="#fff" stroke="#27272a" stroke-width="1.58" stroke-linejoin="round" stroke-linecap="round" />
<polygon points="897,2033 904.1,2038.7 898.3,2039.3 895.5,2040.3 899.9,2047.4 894.1,2046.6 891,2046.9 892.3,2054.6 887.2,2052.5 884.1,2052.1 882.2,2059.8 878.1,2056.6 875.4,2055.4 870.4,2062.3 867.9,2058.3 865.8,2056.6 858.3,2061.9 857.5,2057.6 856.2,2055.4 846.8,2058.8 847.8,2054.4 847.5,2052.1 837.2,2053.1 840,2049.2 840.6,2046.9 830.4,2045.4 834.6,2042.3 836.1,2040.3 827.1,2036.5 832.3,2034.6 834.6,2033 827.5,2027.3 833.3,2026.7 836.1,2025.7 831.7,2018.6 837.5,2019.4 840.6,2019.1 839.3,2011.4 844.4,2013.5 847.5,2013.9 849.4,2006.2 853.5,2009.4 856.2,2010.6 861.2,2003.7 863.7,2007.7 865.8,2009.4 873.3,2004.1 874.1,2008.4 875.4,2010.6 884.8,2007.2 883.8,2011.6 884.1,2013.9 894.4,2012.9 891.6,2016.8 891,2019.1 901.2,2020.6 897,2023.7 895.5,2025.7 904.5,2029.5 899.3,2031.4" fill="#fff" stroke="#27272a" stroke-width="1.98" stroke-linejoin="round" stroke-linecap="round" />
<ellipse cx="865.8" cy="2033" rx="30.8" ry="23.3" fill="none" stroke="#27272a" stroke-width="2.64" />
<ellipse cx="865.8" cy="2033" rx="25.7" ry="19.5" fill="#fff" stroke="#27272a" stroke-width="1.72" />
<line x1="840.1" y1="2034" x2="891.5" y2="2031" stroke="#27272a" stroke-width="4.0" />
<line x1="864.8" y1="2013.5" x2="866.3" y2="2052.5" stroke="#27272a" stroke-width="4.0" />
<line x1="842.4" y1="2034" x2="889.2" y2="2031" stroke="#fff" stroke-width="1.2" />
<line x1="864.8" y1="2037" x2="866.3" y2="2050.7" stroke="#fff" stroke-width="1.2" />
<rect x="860.3" y="2017" width="10" height="19" fill="#4a4a4c" stroke="#27272a" stroke-width="1.2"/>
<line x1="863.8" y1="2019" x2="863.8" y2="2034" stroke="#ddd" stroke-width="0.8" />
<line x1="867.3" y1="2019" x2="867.3" y2="2034" stroke="#ddd" stroke-width="0.8" />
<line x1="862.2" y1="1960" x2="862" y2="2004" stroke="#27272a" stroke-width="1.1" />
<line x1="866.3" y1="1960" x2="866.1" y2="2004" stroke="#27272a" stroke-width="1.1" />
<g>
<path d="M1386.6 918 L1386.6 925 Q1386.6 926.8 1389 926.8 L1389 930.5 Q1389 932 1392.1 932.5 L1395.2 930.5 Q1395.2 932 1395.2 930.5 L1395.2 926.8 Q1397.6 926.8 1397.6 925 L1397.6 918" fill="#fff" stroke="#27272a" stroke-width="1.65" stroke-linejoin="round" stroke-linecap="round" />
<line x1="1389" y1="926.8" x2="1395.2" y2="926.8" stroke="#27272a" stroke-width="1.0" />
<path d="M1379.6 909.5 L1379.6 912.8 A12.5 8.8 0 0 0 1404.6 912.8 L1404.6 909.5" fill="#fff" stroke="#27272a" stroke-width="1.98" stroke-linejoin="round" stroke-linecap="round" />
<ellipse cx="1392.1" cy="909.5" rx="12.5" ry="8.8" fill="#fff" stroke="#27272a" stroke-width="1.98" />
<line x1="1381.6" y1="906.8" x2="1402.6" y2="910.9" stroke="#2f2f31" stroke-width="3.5" stroke-linecap="round"/>
</g>
<g>
<path d="M1206 834.8 L1206 842 Q1206 843.9 1208.5 843.9 L1208.5 847.8 Q1208.5 849.3 1211.7 849.8 L1215 847.8 Q1215 849.3 1215 847.8 L1215 843.9 Q1217.4 843.9 1217.4 842 L1217.4 834.8" fill="#fff" stroke="#27272a" stroke-width="1.65" stroke-linejoin="round" stroke-linecap="round" />
<line x1="1208.5" y1="843.9" x2="1215" y2="843.9" stroke="#27272a" stroke-width="1.0" />
<path d="M1198.7 825.9 L1198.7 829.3 A13 9.1 0 0 0 1224.7 829.3 L1224.7 825.9" fill="#fff" stroke="#27272a" stroke-width="1.98" stroke-linejoin="round" stroke-linecap="round" />
<ellipse cx="1211.7" cy="825.9" rx="13" ry="9.1" fill="#fff" stroke="#27272a" stroke-width="1.98" />
<line x1="1200.8" y1="823" x2="1222.6" y2="827.3" stroke="#2f2f31" stroke-width="3.6" stroke-linecap="round"/>
</g>
<line x1="1211.7" y1="847" x2="1211.3" y2="923" stroke="#27272a" stroke-width="1.1" />
<path d="M1190.7 916.6 C1194.6 917.5 1206.7 919.8 1214.3 921.8 C1222 923.7 1229.1 925.8 1236.5 928.4 C1243.9 931 1251.3 934.1 1258.7 937.3 C1266.1 940.5 1274 943.9 1280.8 947.6 C1287.7 951.3 1295.5 956.4 1300.1 959.5 C1304.6 962.5 1306.8 965 1308.2 966.1 L1303.8 971 L1307.5 978.7 L1311.9 993.5 L1329.6 989.3 L1333.8 990.8 L1345.9 1005.3 L1347.7 1017.1 L1345.9 1023 L1345.1 1028.2 L1358.4 1026 L1363.6 1040.8 L1367.3 1055.5 L1368.1 1064.4 L1365.8 1069.6 L1365.8 1069.6 C1361 1070.1 1346 1071.7 1337 1072.5 C1328.1 1073.4 1316.5 1074.7 1312.2 1074.8 C1307.9 1074.8 1315.1 1072.3 1311.1 1072.7 C1307.2 1073.1 1295.8 1075.1 1288.2 1077 C1280.7 1078.8 1273 1081.4 1266.1 1083.6 C1259.2 1085.8 1251.7 1088.7 1246.9 1090.3 C1242.1 1091.8 1238.9 1092.4 1237.2 1092.8 L1237.2 1092.8 C1237 1092.1 1235.9 1091.8 1235.8 1088.8 C1235.6 1085.8 1235.6 1078.8 1236.5 1074.8 C1237.4 1070.7 1238.7 1068.3 1240.9 1064.4 C1243.2 1060.5 1247.5 1054.3 1249.8 1051.1 C1252.1 1047.9 1253.8 1046.2 1254.5 1045.2 L1254.5 1045.2 C1254.2 1044 1254 1041 1252.8 1037.8 C1251.5 1034.6 1249.8 1031.4 1246.9 1026 C1243.9 1020.6 1239.5 1012.2 1235 1005.3 C1230.6 998.4 1224.7 991 1220.3 984.6 C1215.8 978.2 1212.1 972.8 1208.4 966.9 C1204.7 960.9 1200.8 954.5 1198.1 949.1 C1195.4 943.7 1193.5 938.8 1192.2 934.3 C1190.8 929.9 1190.2 925.5 1190 922.5 C1189.7 919.6 1190.6 917.6 1190.7 916.6Z" fill="#fff" stroke="#27272a" stroke-width="1.98" stroke-linejoin="round" stroke-linecap="round" />
<path d="M1193.6 943.2 C1197.1 943.9 1207.2 945.7 1214.3 947.6 C1221.5 949.6 1229.1 952.1 1236.5 955 C1243.9 958 1252 961.4 1258.7 965.4 C1265.3 969.3 1270.8 974 1276.4 978.7 C1282.1 983.4 1288.2 989 1292.7 993.5 C1297.1 997.9 1299.8 1001.1 1303 1005.3 C1306.2 1009.5 1309.2 1014.2 1311.9 1018.6 C1314.6 1023 1317.1 1027.2 1319.3 1031.9 C1321.5 1036.6 1323.5 1042 1325.2 1046.7 C1326.9 1051.3 1328.8 1056.5 1329.6 1060 C1330.5 1063.4 1330.2 1066.1 1330.4 1067.4" fill="none" stroke="#27272a" stroke-width="1.85" stroke-linejoin="round" stroke-linecap="round" />
<path d="M1192.2 946.9 C1195.9 947.6 1207.1 949.4 1214.3 951.3 C1221.6 953.3 1228.6 955.8 1235.8 958.7 C1242.9 961.7 1250.8 965.2 1257.2 969.1 C1263.6 972.9 1268.7 977.4 1274.2 981.9 C1279.7 986.5 1285.7 992 1290 996.4 C1294.3 1000.8 1297 1004.1 1300.1 1008.2 C1303.2 1012.4 1306 1016.9 1308.6 1021.2 C1311.2 1025.6 1313.4 1029.5 1315.6 1034.1 C1317.7 1038.7 1319.8 1044.3 1321.5 1048.9 C1323.1 1053.4 1324.7 1058 1325.5 1061.4 C1326.3 1064.9 1326.2 1068.2 1326.4 1069.6" fill="none" stroke="#27272a" stroke-width="1.45" stroke-linejoin="round" stroke-linecap="round" />
<path d="M1194.4 946.2 C1196.5 950.1 1202.1 962.2 1207 969.8 C1211.8 977.4 1218.5 985.6 1223.2 992 C1227.9 998.4 1231.6 1003.1 1235 1008.2 C1238.5 1013.4 1240.9 1016.9 1243.9 1023 C1246.9 1029.2 1251.3 1041.5 1252.8 1045.2" fill="none" stroke="#27272a" stroke-width="1.58" stroke-linejoin="round" stroke-linecap="round" />
<path d="M1223.2 992 C1224.7 993.2 1228.6 995.9 1232.1 999.4 C1235.5 1002.8 1240 1008.2 1243.9 1012.7 C1247.8 1017.1 1252.3 1022.3 1255.7 1026 C1259.2 1029.7 1261.6 1032.6 1264.6 1034.8 C1267.5 1037.1 1272 1038.5 1273.5 1039.3" fill="none" stroke="#27272a" stroke-width="2.11" stroke-linejoin="round" stroke-linecap="round" />
<path d="M1227.6 992 C1229.6 993.7 1235.3 998.1 1239.5 1002.3 C1243.7 1006.5 1248.6 1012.6 1252.8 1017.1 C1257 1021.7 1262.6 1027.6 1264.6 1029.7" fill="none" stroke="#27272a" stroke-width="1.45" stroke-linejoin="round" stroke-linecap="round" />
<path d="M1239.5 1074 C1242.7 1072.9 1251.9 1069.3 1258.7 1067.4 C1265.5 1065.4 1276.7 1062.4 1280.1 1062.2 C1283.6 1061.9 1279.5 1065.3 1279.4 1065.9" fill="none" stroke="#27272a" stroke-width="1.58" stroke-linejoin="round" stroke-linecap="round" />
<path d="M1280.1 1065.9 C1283.9 1065.3 1294.6 1062.9 1303 1062.2 C1311.4 1061.4 1325.8 1061.6 1330.4 1061.4" fill="none" stroke="#27272a" stroke-width="1.58" stroke-linejoin="round" stroke-linecap="round" />
<path d="M1240.9 1064.4 C1240.7 1066.1 1240.1 1072 1239.5 1074.8 C1238.9 1077.5 1237.6 1079.7 1237.2 1080.7" fill="none" stroke="#27272a" stroke-width="1.32" stroke-linejoin="round" stroke-linecap="round" />
<polyline points="1275.7,1055.5 1280.1,1065.9" fill="none" stroke="#27272a" stroke-width="1.72" stroke-linejoin="round" stroke-linecap="round" />
<polyline points="1330.4,1067.4 1365.8,1065.1" fill="none" stroke="#27272a" stroke-width="1.45" stroke-linejoin="round" stroke-linecap="round" />
<polyline points="1345.1,1028.2 1326.7,1031.9 1330.4,1061.4 1330.4,1067.4" fill="none" stroke="#27272a" stroke-width="1.58" stroke-linejoin="round" stroke-linecap="round" />
<path d="M1288.2 977.2 C1289 976 1290.7 971.9 1292.7 969.8 C1294.6 967.7 1297.6 965.1 1300.1 964.6 C1302.5 964.1 1306.2 966.5 1307.5 966.9" fill="none" stroke="#27272a" stroke-width="1.72" stroke-linejoin="round" stroke-linecap="round" />
<path d="M1293.4 983.1 C1294 982 1295.4 978.3 1297.1 976.5 C1298.8 974.6 1302.7 972.8 1303.8 972" fill="none" stroke="#27272a" stroke-width="1.72" stroke-linejoin="round" stroke-linecap="round" />
<polyline points="1326.7,992 1345.1,1018.6" fill="none" stroke="#27272a" stroke-width="1.45" stroke-linejoin="round" stroke-linecap="round" />
<path d="M1323 1023.8 C1323 1022.5 1324.3 1021.7 1326.7 1020.8 C1329 1019.9 1334.8 1018.5 1337 1018.6 C1339.2 1018.7 1340.2 1020.4 1340 1021.5 C1339.7 1022.7 1337.8 1024.1 1335.5 1025.2 C1333.3 1026.3 1328.8 1028.4 1326.7 1028.2 C1324.6 1027.9 1323 1025 1323 1023.8Z" fill="none" stroke="#27272a" stroke-width="1.58" stroke-linejoin="round" stroke-linecap="round" />
<ellipse cx="1210.6" cy="932.9" rx="15.5" ry="10.2" fill="#fff" stroke="#27272a" stroke-width="1.58" />
<ellipse cx="1210.6" cy="934.1" rx="10.5" ry="7" fill="none" stroke="#27272a" stroke-width="1.43" />
<ellipse cx="1210.6" cy="936" rx="6.2" ry="4.1" fill="none" stroke="#27272a" stroke-width="1.43" />
<ellipse cx="1345.9" cy="1049.6" rx="15.5" ry="10.5" fill="#fff" stroke="#27272a" stroke-width="1.58" />
<ellipse cx="1345.9" cy="1050.9" rx="10.5" ry="7.2" fill="none" stroke="#27272a" stroke-width="1.43" />
<ellipse cx="1345.9" cy="1052.7" rx="6.2" ry="4.2" fill="none" stroke="#27272a" stroke-width="1.43" />
<ellipse cx="1223.9" cy="966.9" rx="12.5" ry="9" fill="#fff" stroke="#27272a" stroke-width="1.72" />
<ellipse cx="1223.9" cy="967.5" rx="8.8" ry="6.2" fill="none" stroke="#444" stroke-width="2.9" />
<ellipse cx="1223.9" cy="967.7" rx="3.1" ry="2.2" fill="#999" stroke="#27272a" stroke-width="1.06" />
<ellipse cx="1263.1" cy="980.2" rx="11" ry="7.9" fill="#fff" stroke="#27272a" stroke-width="1.72" />
<ellipse cx="1263.1" cy="980.8" rx="7.7" ry="5.5" fill="none" stroke="#444" stroke-width="2.9" />
<ellipse cx="1263.1" cy="981" rx="2.8" ry="2" fill="#999" stroke="#27272a" stroke-width="1.06" />
<ellipse cx="1286" cy="1007.5" rx="11" ry="7.9" fill="#fff" stroke="#27272a" stroke-width="1.72" />
<ellipse cx="1286" cy="1008.1" rx="7.7" ry="5.5" fill="none" stroke="#444" stroke-width="2.9" />
<ellipse cx="1286" cy="1008.3" rx="2.8" ry="2" fill="#999" stroke="#27272a" stroke-width="1.06" />
<ellipse cx="1274.9" cy="1048.1" rx="12.5" ry="9" fill="#fff" stroke="#27272a" stroke-width="1.72" />
<ellipse cx="1274.9" cy="1048.7" rx="8.8" ry="6.2" fill="none" stroke="#444" stroke-width="2.9" />
<ellipse cx="1274.9" cy="1048.9" rx="3.1" ry="2.2" fill="#999" stroke="#27272a" stroke-width="1.06" />
<ellipse cx="1316.3" cy="1003.1" rx="4.4" ry="3.4" fill="none" stroke="#27272a" stroke-width="1.58" />
<ellipse cx="1316.3" cy="1003.5" rx="2.4" ry="1.8" fill="none" stroke="#27272a" stroke-width="1.19" />
<ellipse cx="1336.3" cy="1010.5" rx="6.6" ry="5" fill="none" stroke="#27272a" stroke-width="1.58" />
<ellipse cx="1336.3" cy="1011.2" rx="3.4" ry="2.6" fill="none" stroke="#27272a" stroke-width="1.19" />
<line x1="1391.9" y1="934" x2="1391.7" y2="977.9" stroke="#27272a" stroke-width="1.1" />
<path d="M0 0 Q15.2 -2.5 31.4 -8.4 A8.7 8.7 0 1 1 31.4 8.4 Q15.2 2.5 0 0Z" transform="translate(1229.1 964.6) rotate(-45.7)" fill="#2f9fc6" stroke="none" stroke-width="1.4"/>
<path d="M0 0 Q15.3 -2.5 31.8 -8.5 A8.8 8.8 0 1 1 31.8 8.5 Q15.3 2.5 0 0Z" transform="translate(1266.8 977.2) rotate(-45)" fill="#2f9fc6" stroke="none" stroke-width="1.4"/>
<path d="M0 0 Q15 -2.5 31.1 -8.3 A8.6 8.6 0 1 1 31.1 8.3 Q15 2.5 0 0Z" transform="translate(1289.7 1003.8) rotate(-42.1)" fill="#2f9fc6" stroke="none" stroke-width="1.4"/>
<path d="M1258.8 1203.3 L1261.4 1203.8 L1261.4 1204.8 L1258.7 1205.1 L1258.6 1206 L1261.2 1206.8 L1261 1207.7 L1258.3 1207.8 L1258.1 1208.6 L1260.5 1209.7 L1260.3 1210.6 L1257.6 1210.4 L1257.3 1211.3 L1259.6 1212.5 L1259.2 1213.4 L1256.5 1213 L1256.1 1213.8 L1258.3 1215.3 L1257.8 1216.1 L1255.2 1215.5 L1254.7 1216.3 L1256.7 1217.9 L1256.1 1218.7 L1253.5 1217.9 L1252.9 1218.6 L1254.7 1220.4 L1254 1221.2 L1251.5 1220.1 L1250.9 1220.9 L1252.5 1222.7 L1251.7 1223.4 L1249.3 1222.3 L1248.5 1222.9 L1249.9 1224.9 L1249.1 1225.5 L1246.9 1224.2 L1246 1224.8 L1247.2 1226.8 L1246.2 1227.4 L1244.2 1226 L1243.2 1226.5 L1244.1 1228.5 L1243.1 1229 L1241.3 1227.5 L1240.3 1228 L1241 1230 L1239.9 1230.4 L1238.2 1228.9 L1237.2 1229.3 L1237.6 1231.2 L1236.5 1231.5 L1235 1230 L1234 1230.3 L1234.1 1232.2 L1232.9 1232.4 L1231.7 1230.9 L1230.6 1231.1 L1230.5 1232.8 L1229.3 1233 L1228.3 1231.5 L1227.2 1231.6 L1226.8 1233.2 L1225.6 1233.3 L1224.9 1231.8 L1223.8 1231.9 L1223.2 1233.3 L1222 1233.3 L1221.5 1231.7 L1220.4 1231.6 L1219.5 1233.1 L1218.3 1233 L1218.1 1231.3 L1217 1231.1 L1215.8 1232.6 L1214.7 1232.4 L1214.7 1230.6 L1213.6 1230.3 L1212.3 1231.9 L1211.1 1231.5 L1211.4 1229.6 L1210.4 1229.3 L1208.8 1230.8 L1207.7 1230.4 L1208.3 1228.4 L1207.3 1228 L1205.5 1229.5 L1204.5 1229 L1205.3 1227 L1204.4 1226.5 L1202.4 1228 L1201.4 1227.4 L1202.5 1225.4 L1201.6 1224.8 L1199.5 1226.2 L1198.5 1225.5 L1199.9 1223.6 L1199.1 1222.9 L1196.8 1224.1 L1195.9 1223.4 L1197.5 1221.5 L1196.7 1220.9 L1194.3 1221.9 L1193.6 1221.2 L1195.3 1219.4 L1194.7 1218.6 L1192.2 1219.5 L1191.5 1218.7 L1193.5 1217.1 L1192.9 1216.3 L1190.3 1217 L1189.8 1216.1 L1191.9 1214.6 L1191.5 1213.8 L1188.8 1214.3 L1188.4 1213.4 L1190.6 1212.1 L1190.3 1211.3 L1187.6 1211.5 L1187.3 1210.6 L1189.7 1209.5 L1189.5 1208.6 L1186.8 1208.6 L1186.6 1207.7 L1189.1 1206.9 L1189 1206 L1186.3 1205.7 L1186.2 1204.8 L1188.8 1204.2 L1188.8 1203.3 L1186.2 1202.8 L1186.2 1201.8 L1188.9 1201.5 L1189 1200.6 L1186.4 1199.8 L1186.6 1198.9 L1189.3 1198.8 L1189.5 1198 L1187.1 1196.9 L1187.3 1196 L1190 1196.2 L1190.3 1195.3 L1188 1194.1 L1188.4 1193.2 L1191.1 1193.6 L1191.5 1192.8 L1189.3 1191.3 L1189.8 1190.5 L1192.4 1191.1 L1192.9 1190.3 L1190.9 1188.7 L1191.5 1187.9 L1194.1 1188.7 L1194.7 1188 L1192.9 1186.2 L1193.6 1185.4 L1196.1 1186.5 L1196.7 1185.7 L1195.1 1183.9 L1195.9 1183.2 L1198.3 1184.3 L1199.1 1183.7 L1197.7 1181.7 L1198.5 1181.1 L1200.7 1182.4 L1201.6 1181.8 L1200.4 1179.8 L1201.4 1179.2 L1203.4 1180.6 L1204.4 1180.1 L1203.5 1178.1 L1204.5 1177.6 L1206.3 1179.1 L1207.3 1178.6 L1206.6 1176.6 L1207.7 1176.2 L1209.4 1177.7 L1210.4 1177.3 L1210 1175.4 L1211.1 1175.1 L1212.6 1176.6 L1213.6 1176.3 L1213.5 1174.4 L1214.7 1174.2 L1215.9 1175.7 L1217 1175.5 L1217.1 1173.8 L1218.3 1173.6 L1219.3 1175.1 L1220.4 1175 L1220.8 1173.4 L1222 1173.3 L1222.7 1174.8 L1223.8 1174.7 L1224.4 1173.3 L1225.6 1173.3 L1226.1 1174.9 L1227.2 1175 L1228.1 1173.5 L1229.3 1173.6 L1229.5 1175.3 L1230.6 1175.5 L1231.8 1174 L1232.9 1174.2 L1232.9 1176 L1234 1176.3 L1235.3 1174.7 L1236.5 1175.1 L1236.2 1177 L1237.2 1177.3 L1238.8 1175.8 L1239.9 1176.2 L1239.3 1178.2 L1240.3 1178.6 L1242.1 1177.1 L1243.1 1177.6 L1242.3 1179.6 L1243.2 1180.1 L1245.2 1178.6 L1246.2 1179.2 L1245.1 1181.2 L1246 1181.8 L1248.1 1180.4 L1249.1 1181.1 L1247.7 1183 L1248.5 1183.7 L1250.8 1182.5 L1251.7 1183.2 L1250.1 1185.1 L1250.9 1185.7 L1253.3 1184.7 L1254 1185.4 L1252.3 1187.2 L1252.9 1188 L1255.4 1187.1 L1256.1 1187.9 L1254.1 1189.5 L1254.7 1190.3 L1257.3 1189.6 L1257.8 1190.5 L1255.7 1192 L1256.1 1192.8 L1258.8 1192.3 L1259.2 1193.2 L1257 1194.5 L1257.3 1195.3 L1260 1195.1 L1260.3 1196 L1257.9 1197.1 L1258.1 1198 L1260.8 1198 L1261 1198.9 L1258.5 1199.7 L1258.6 1200.6 L1261.3 1200.9 L1261.4 1201.8 L1258.8 1202.4Z" fill="#fff" stroke="#27272a" stroke-width="1.72" stroke-linejoin="round" stroke-linecap="round" />
<path d="M1258.8 1200.3 L1261.4 1200.8 L1261.4 1201.8 L1258.7 1202.1 L1258.6 1203 L1261.2 1203.8 L1261 1204.7 L1258.3 1204.8 L1258.1 1205.6 L1260.5 1206.7 L1260.3 1207.6 L1257.6 1207.4 L1257.3 1208.3 L1259.6 1209.5 L1259.2 1210.4 L1256.5 1210 L1256.1 1210.8 L1258.3 1212.3 L1257.8 1213.1 L1255.2 1212.5 L1254.7 1213.3 L1256.7 1214.9 L1256.1 1215.7 L1253.5 1214.9 L1252.9 1215.6 L1254.7 1217.4 L1254 1218.2 L1251.5 1217.1 L1250.9 1217.9 L1252.5 1219.7 L1251.7 1220.4 L1249.3 1219.3 L1248.5 1219.9 L1249.9 1221.9 L1249.1 1222.5 L1246.9 1221.2 L1246 1221.8 L1247.2 1223.8 L1246.2 1224.4 L1244.2 1223 L1243.2 1223.5 L1244.1 1225.5 L1243.1 1226 L1241.3 1224.5 L1240.3 1225 L1241 1227 L1239.9 1227.4 L1238.2 1225.9 L1237.2 1226.3 L1237.6 1228.2 L1236.5 1228.5 L1235 1227 L1234 1227.3 L1234.1 1229.2 L1232.9 1229.4 L1231.7 1227.9 L1230.6 1228.1 L1230.5 1229.8 L1229.3 1230 L1228.3 1228.5 L1227.2 1228.6 L1226.8 1230.2 L1225.6 1230.3 L1224.9 1228.8 L1223.8 1228.9 L1223.2 1230.3 L1222 1230.3 L1221.5 1228.7 L1220.4 1228.6 L1219.5 1230.1 L1218.3 1230 L1218.1 1228.3 L1217 1228.1 L1215.8 1229.6 L1214.7 1229.4 L1214.7 1227.6 L1213.6 1227.3 L1212.3 1228.9 L1211.1 1228.5 L1211.4 1226.6 L1210.4 1226.3 L1208.8 1227.8 L1207.7 1227.4 L1208.3 1225.4 L1207.3 1225 L1205.5 1226.5 L1204.5 1226 L1205.3 1224 L1204.4 1223.5 L1202.4 1225 L1201.4 1224.4 L1202.5 1222.4 L1201.6 1221.8 L1199.5 1223.2 L1198.5 1222.5 L1199.9 1220.6 L1199.1 1219.9 L1196.8 1221.1 L1195.9 1220.4 L1197.5 1218.5 L1196.7 1217.9 L1194.3 1218.9 L1193.6 1218.2 L1195.3 1216.4 L1194.7 1215.6 L1192.2 1216.5 L1191.5 1215.7 L1193.5 1214.1 L1192.9 1213.3 L1190.3 1214 L1189.8 1213.1 L1191.9 1211.6 L1191.5 1210.8 L1188.8 1211.3 L1188.4 1210.4 L1190.6 1209.1 L1190.3 1208.3 L1187.6 1208.5 L1187.3 1207.6 L1189.7 1206.5 L1189.5 1205.6 L1186.8 1205.6 L1186.6 1204.7 L1189.1 1203.9 L1189 1203 L1186.3 1202.7 L1186.2 1201.8 L1188.8 1201.2 L1188.8 1200.3 L1186.2 1199.8 L1186.2 1198.8 L1188.9 1198.5 L1189 1197.6 L1186.4 1196.8 L1186.6 1195.9 L1189.3 1195.8 L1189.5 1195 L1187.1 1193.9 L1187.3 1193 L1190 1193.2 L1190.3 1192.3 L1188 1191.1 L1188.4 1190.2 L1191.1 1190.6 L1191.5 1189.8 L1189.3 1188.3 L1189.8 1187.5 L1192.4 1188.1 L1192.9 1187.3 L1190.9 1185.7 L1191.5 1184.9 L1194.1 1185.7 L1194.7 1185 L1192.9 1183.2 L1193.6 1182.4 L1196.1 1183.5 L1196.7 1182.7 L1195.1 1180.9 L1195.9 1180.2 L1198.3 1181.3 L1199.1 1180.7 L1197.7 1178.7 L1198.5 1178.1 L1200.7 1179.4 L1201.6 1178.8 L1200.4 1176.8 L1201.4 1176.2 L1203.4 1177.6 L1204.4 1177.1 L1203.5 1175.1 L1204.5 1174.6 L1206.3 1176.1 L1207.3 1175.6 L1206.6 1173.6 L1207.7 1173.2 L1209.4 1174.7 L1210.4 1174.3 L1210 1172.4 L1211.1 1172.1 L1212.6 1173.6 L1213.6 1173.3 L1213.5 1171.4 L1214.7 1171.2 L1215.9 1172.7 L1217 1172.5 L1217.1 1170.8 L1218.3 1170.6 L1219.3 1172.1 L1220.4 1172 L1220.8 1170.4 L1222 1170.3 L1222.7 1171.8 L1223.8 1171.7 L1224.4 1170.3 L1225.6 1170.3 L1226.1 1171.9 L1227.2 1172 L1228.1 1170.5 L1229.3 1170.6 L1229.5 1172.3 L1230.6 1172.5 L1231.8 1171 L1232.9 1171.2 L1232.9 1173 L1234 1173.3 L1235.3 1171.7 L1236.5 1172.1 L1236.2 1174 L1237.2 1174.3 L1238.8 1172.8 L1239.9 1173.2 L1239.3 1175.2 L1240.3 1175.6 L1242.1 1174.1 L1243.1 1174.6 L1242.3 1176.6 L1243.2 1177.1 L1245.2 1175.6 L1246.2 1176.2 L1245.1 1178.2 L1246 1178.8 L1248.1 1177.4 L1249.1 1178.1 L1247.7 1180 L1248.5 1180.7 L1250.8 1179.5 L1251.7 1180.2 L1250.1 1182.1 L1250.9 1182.7 L1253.3 1181.7 L1254 1182.4 L1252.3 1184.2 L1252.9 1185 L1255.4 1184.1 L1256.1 1184.9 L1254.1 1186.5 L1254.7 1187.3 L1257.3 1186.6 L1257.8 1187.5 L1255.7 1189 L1256.1 1189.8 L1258.8 1189.3 L1259.2 1190.2 L1257 1191.5 L1257.3 1192.3 L1260 1192.1 L1260.3 1193 L1257.9 1194.1 L1258.1 1195 L1260.8 1195 L1261 1195.9 L1258.5 1196.7 L1258.6 1197.6 L1261.3 1197.9 L1261.4 1198.8 L1258.8 1199.4Z" fill="#fff" stroke="#27272a" stroke-width="1.85" stroke-linejoin="round" stroke-linecap="round" />
<ellipse cx="1223.8" cy="1200.3" rx="33.5" ry="26.5" fill="none" stroke="#27272a" stroke-width="1.85" />
<ellipse cx="1249.5" cy="1203.5" rx="4.2" ry="3.2" fill="#fff" stroke="#27272a" stroke-width="1.98" />
<ellipse cx="1249.5" cy="1204.3" rx="2.2" ry="1.6" fill="#888" stroke="#27272a" stroke-width="1.06" />
<ellipse cx="1244" cy="1213.2" rx="4.2" ry="3.2" fill="#fff" stroke="#27272a" stroke-width="1.98" />
<ellipse cx="1244" cy="1214" rx="2.2" ry="1.6" fill="#888" stroke="#27272a" stroke-width="1.06" />
<ellipse cx="1233.1" cy="1219.4" rx="4.2" ry="3.2" fill="#fff" stroke="#27272a" stroke-width="1.98" />
<ellipse cx="1233.1" cy="1220.2" rx="2.2" ry="1.6" fill="#888" stroke="#27272a" stroke-width="1.06" />
<ellipse cx="1219.7" cy="1220.5" rx="4.2" ry="3.2" fill="#fff" stroke="#27272a" stroke-width="1.98" />
<ellipse cx="1219.7" cy="1221.3" rx="2.2" ry="1.6" fill="#888" stroke="#27272a" stroke-width="1.06" />
<ellipse cx="1207.4" cy="1216.2" rx="4.2" ry="3.2" fill="#fff" stroke="#27272a" stroke-width="1.98" />
<ellipse cx="1207.4" cy="1217" rx="2.2" ry="1.6" fill="#888" stroke="#27272a" stroke-width="1.06" />
<ellipse cx="1199.5" cy="1207.6" rx="4.2" ry="3.2" fill="#fff" stroke="#27272a" stroke-width="1.98" />
<ellipse cx="1199.5" cy="1208.4" rx="2.2" ry="1.6" fill="#888" stroke="#27272a" stroke-width="1.06" />
<ellipse cx="1198.1" cy="1197.1" rx="4.2" ry="3.2" fill="#fff" stroke="#27272a" stroke-width="1.98" />
<ellipse cx="1198.1" cy="1197.9" rx="2.2" ry="1.6" fill="#888" stroke="#27272a" stroke-width="1.06" />
<ellipse cx="1203.6" cy="1187.4" rx="4.2" ry="3.2" fill="#fff" stroke="#27272a" stroke-width="1.98" />
<ellipse cx="1203.6" cy="1188.2" rx="2.2" ry="1.6" fill="#888" stroke="#27272a" stroke-width="1.06" />
<ellipse cx="1214.5" cy="1181.2" rx="4.2" ry="3.2" fill="#fff" stroke="#27272a" stroke-width="1.98" />
<ellipse cx="1214.5" cy="1182" rx="2.2" ry="1.6" fill="#888" stroke="#27272a" stroke-width="1.06" />
<ellipse cx="1227.9" cy="1180.1" rx="4.2" ry="3.2" fill="#fff" stroke="#27272a" stroke-width="1.98" />
<ellipse cx="1227.9" cy="1180.9" rx="2.2" ry="1.6" fill="#888" stroke="#27272a" stroke-width="1.06" />
<ellipse cx="1240.2" cy="1184.4" rx="4.2" ry="3.2" fill="#fff" stroke="#27272a" stroke-width="1.98" />
<ellipse cx="1240.2" cy="1185.2" rx="2.2" ry="1.6" fill="#888" stroke="#27272a" stroke-width="1.06" />
<ellipse cx="1248.1" cy="1193" rx="4.2" ry="3.2" fill="#fff" stroke="#27272a" stroke-width="1.98" />
<ellipse cx="1248.1" cy="1193.8" rx="2.2" ry="1.6" fill="#888" stroke="#27272a" stroke-width="1.06" />
<path d="M1237.1 1198.3 L1240.3 1199.1 L1240 1200.5 L1236.7 1200.5 L1236.3 1201.5 L1238.9 1203.3 L1238.1 1204.5 L1234.9 1203.6 L1234 1204.5 L1235.8 1206.9 L1234.4 1207.9 L1231.7 1206.2 L1230.5 1207 L1231.2 1209.5 L1229.4 1210 L1227.6 1208.2 L1226.1 1208.6 L1225.7 1210.7 L1223.8 1210.8 L1223 1208.9 L1221.5 1208.6 L1219.9 1210.5 L1218.2 1210 L1218.5 1207.6 L1217.1 1207 L1214.7 1208.7 L1213.2 1207.9 L1214.6 1205.4 L1213.6 1204.5 L1210.5 1205.7 L1209.5 1204.5 L1211.9 1202.5 L1211.3 1201.5 L1208 1201.9 L1207.6 1200.5 L1210.6 1199.4 L1210.5 1198.3 L1207.3 1197.5 L1207.6 1196.1 L1210.9 1196.1 L1211.3 1195.1 L1208.7 1193.3 L1209.5 1192 L1212.7 1193 L1213.6 1192.1 L1211.8 1189.7 L1213.2 1188.7 L1215.9 1190.4 L1217.1 1189.6 L1216.4 1187.1 L1218.2 1186.6 L1220 1188.4 L1221.5 1188 L1221.9 1185.9 L1223.8 1185.8 L1224.6 1187.7 L1226.1 1188 L1227.7 1186.1 L1229.4 1186.6 L1229.1 1189 L1230.5 1189.6 L1232.9 1187.9 L1234.4 1188.7 L1233 1191.2 L1234 1192.1 L1237.1 1190.9 L1238.1 1192 L1235.7 1194.1 L1236.3 1195.1 L1239.6 1194.7 L1240 1196.1 L1237 1197.2Z" fill="#fff" stroke="#27272a" stroke-width="1.98" stroke-linejoin="round" stroke-linecap="round" />
<ellipse cx="1223.8" cy="1196.3" rx="8.2" ry="6.2" fill="#fff" stroke="#27272a" stroke-width="2.9" />
<ellipse cx="1223.8" cy="1194.3" rx="4" ry="3" fill="#fff" stroke="#27272a" stroke-width="1.58" />
<path d="M0 0 Q15.8 -2.6 32.7 -8.7 A9 9 0 1 1 32.7 8.7 Q15.8 2.6 0 0Z" transform="translate(1200.1 1192.2) rotate(-137.5)" fill="#2565ae" stroke="none" stroke-width="1.4"/>
<path d="M0 0 Q14.9 -2.5 31 -8.3 A8.6 8.6 0 1 1 31 8.3 Q14.9 2.5 0 0Z" transform="translate(1259.8 1209.1) rotate(24.9)" fill="#2565ae" stroke="none" stroke-width="1.4"/>
<path d="M1297.8 1345.5 L1300.4 1346 L1300.4 1346.9 L1297.7 1347.3 L1297.6 1348.1 L1300.2 1348.9 L1300 1349.8 L1297.3 1349.9 L1297.2 1350.7 L1299.6 1351.7 L1299.3 1352.6 L1296.7 1352.5 L1296.4 1353.3 L1298.7 1354.5 L1298.3 1355.4 L1295.6 1355 L1295.2 1355.8 L1297.4 1357.2 L1296.9 1358.1 L1294.3 1357.5 L1293.8 1358.3 L1295.9 1359.8 L1295.3 1360.7 L1292.7 1359.8 L1292.1 1360.6 L1294 1362.3 L1293.3 1363.1 L1290.9 1362.1 L1290.2 1362.8 L1291.8 1364.6 L1291.1 1365.3 L1288.7 1364.2 L1288 1364.8 L1289.4 1366.8 L1288.6 1367.4 L1286.3 1366.1 L1285.5 1366.7 L1286.7 1368.7 L1285.8 1369.3 L1283.7 1367.9 L1282.9 1368.5 L1283.8 1370.5 L1282.9 1371 L1280.9 1369.5 L1280 1370 L1280.7 1372 L1279.7 1372.4 L1278 1370.9 L1277 1371.3 L1277.5 1373.3 L1276.4 1373.6 L1274.9 1372.1 L1273.8 1372.4 L1274.1 1374.3 L1273 1374.6 L1271.7 1373 L1270.6 1373.3 L1270.6 1375.1 L1269.4 1375.3 L1268.4 1373.7 L1267.3 1373.9 L1267 1375.6 L1265.8 1375.7 L1265 1374.2 L1263.9 1374.3 L1263.4 1375.8 L1262.2 1375.8 L1261.6 1374.3 L1260.5 1374.3 L1259.7 1375.7 L1258.6 1375.7 L1258.2 1374.1 L1257.1 1373.9 L1256.1 1375.4 L1255 1375.3 L1254.9 1373.5 L1253.8 1373.3 L1252.6 1374.8 L1251.4 1374.6 L1251.6 1372.7 L1250.6 1372.4 L1249.1 1374 L1248 1373.6 L1248.4 1371.7 L1247.4 1371.3 L1245.8 1372.8 L1244.7 1372.4 L1245.4 1370.4 L1244.4 1370 L1242.6 1371.5 L1241.5 1371 L1242.5 1369 L1241.5 1368.5 L1239.5 1369.9 L1238.6 1369.3 L1239.7 1367.3 L1238.9 1366.7 L1236.7 1368.1 L1235.8 1367.4 L1237.2 1365.5 L1236.4 1364.8 L1234.1 1366 L1233.3 1365.3 L1234.9 1363.5 L1234.2 1362.8 L1231.8 1363.8 L1231.1 1363.1 L1232.9 1361.3 L1232.3 1360.6 L1229.7 1361.5 L1229.1 1360.7 L1231.1 1359 L1230.6 1358.3 L1228 1358.9 L1227.5 1358.1 L1229.6 1356.6 L1229.2 1355.8 L1226.5 1356.3 L1226.1 1355.4 L1228.4 1354.1 L1228 1353.3 L1225.4 1353.6 L1225.1 1352.6 L1227.5 1351.6 L1227.2 1350.7 L1224.6 1350.7 L1224.4 1349.8 L1226.9 1349 L1226.8 1348.1 L1224.1 1347.9 L1224 1346.9 L1226.6 1346.4 L1226.6 1345.5 L1224 1345 L1224 1344.1 L1226.7 1343.7 L1226.8 1342.9 L1224.2 1342.1 L1224.4 1341.2 L1227.1 1341.1 L1227.2 1340.3 L1224.8 1339.3 L1225.1 1338.4 L1227.7 1338.5 L1228 1337.7 L1225.7 1336.5 L1226.1 1335.6 L1228.8 1336 L1229.2 1335.2 L1227 1333.8 L1227.5 1332.9 L1230.1 1333.5 L1230.6 1332.7 L1228.5 1331.2 L1229.1 1330.3 L1231.7 1331.2 L1232.3 1330.4 L1230.4 1328.7 L1231.1 1327.9 L1233.5 1328.9 L1234.2 1328.2 L1232.6 1326.4 L1233.3 1325.7 L1235.7 1326.8 L1236.4 1326.2 L1235 1324.2 L1235.8 1323.6 L1238.1 1324.9 L1238.9 1324.3 L1237.7 1322.3 L1238.6 1321.7 L1240.7 1323.1 L1241.5 1322.5 L1240.6 1320.5 L1241.5 1320 L1243.5 1321.5 L1244.4 1321 L1243.7 1319 L1244.7 1318.6 L1246.4 1320.1 L1247.4 1319.7 L1246.9 1317.7 L1248 1317.4 L1249.5 1318.9 L1250.6 1318.6 L1250.3 1316.7 L1251.4 1316.4 L1252.7 1318 L1253.8 1317.7 L1253.8 1315.9 L1255 1315.7 L1256 1317.3 L1257.1 1317.1 L1257.4 1315.4 L1258.6 1315.3 L1259.4 1316.8 L1260.5 1316.7 L1261 1315.2 L1262.2 1315.2 L1262.8 1316.7 L1263.9 1316.7 L1264.7 1315.3 L1265.8 1315.3 L1266.2 1316.9 L1267.3 1317.1 L1268.3 1315.6 L1269.4 1315.7 L1269.5 1317.5 L1270.6 1317.7 L1271.8 1316.2 L1273 1316.4 L1272.8 1318.3 L1273.8 1318.6 L1275.3 1317 L1276.4 1317.4 L1276 1319.3 L1277 1319.7 L1278.6 1318.2 L1279.7 1318.6 L1279 1320.6 L1280 1321 L1281.8 1319.5 L1282.9 1320 L1281.9 1322 L1282.9 1322.5 L1284.9 1321.1 L1285.8 1321.7 L1284.7 1323.7 L1285.5 1324.3 L1287.7 1322.9 L1288.6 1323.6 L1287.2 1325.5 L1288 1326.2 L1290.3 1325 L1291.1 1325.7 L1289.5 1327.5 L1290.2 1328.2 L1292.6 1327.2 L1293.3 1327.9 L1291.5 1329.7 L1292.1 1330.4 L1294.7 1329.5 L1295.3 1330.3 L1293.3 1332 L1293.8 1332.7 L1296.4 1332.1 L1296.9 1332.9 L1294.8 1334.4 L1295.2 1335.2 L1297.9 1334.7 L1298.3 1335.6 L1296 1336.9 L1296.4 1337.7 L1299 1337.4 L1299.3 1338.4 L1296.9 1339.4 L1297.2 1340.3 L1299.8 1340.3 L1300 1341.2 L1297.5 1342 L1297.6 1342.9 L1300.3 1343.1 L1300.4 1344.1 L1297.8 1344.6Z" fill="#fff" stroke="#27272a" stroke-width="1.98" stroke-linejoin="round" stroke-linecap="round" />
<path d="M1297.8 1343.3 L1300.4 1343.8 L1300.4 1344.7 L1297.7 1345.1 L1297.6 1345.9 L1300.2 1346.7 L1300 1347.6 L1297.3 1347.7 L1297.2 1348.5 L1299.6 1349.5 L1299.3 1350.4 L1296.7 1350.3 L1296.4 1351.1 L1298.7 1352.3 L1298.3 1353.2 L1295.6 1352.8 L1295.2 1353.6 L1297.4 1355 L1296.9 1355.9 L1294.3 1355.3 L1293.8 1356.1 L1295.9 1357.6 L1295.3 1358.5 L1292.7 1357.6 L1292.1 1358.4 L1294 1360.1 L1293.3 1360.9 L1290.9 1359.9 L1290.2 1360.6 L1291.8 1362.4 L1291.1 1363.1 L1288.7 1362 L1288 1362.6 L1289.4 1364.6 L1288.6 1365.2 L1286.3 1363.9 L1285.5 1364.5 L1286.7 1366.5 L1285.8 1367.1 L1283.7 1365.7 L1282.9 1366.3 L1283.8 1368.3 L1282.9 1368.8 L1280.9 1367.3 L1280 1367.8 L1280.7 1369.8 L1279.7 1370.2 L1278 1368.7 L1277 1369.1 L1277.5 1371.1 L1276.4 1371.4 L1274.9 1369.9 L1273.8 1370.2 L1274.1 1372.1 L1273 1372.4 L1271.7 1370.8 L1270.6 1371.1 L1270.6 1372.9 L1269.4 1373.1 L1268.4 1371.5 L1267.3 1371.7 L1267 1373.4 L1265.8 1373.5 L1265 1372 L1263.9 1372.1 L1263.4 1373.6 L1262.2 1373.6 L1261.6 1372.1 L1260.5 1372.1 L1259.7 1373.5 L1258.6 1373.5 L1258.2 1371.9 L1257.1 1371.7 L1256.1 1373.2 L1255 1373.1 L1254.9 1371.3 L1253.8 1371.1 L1252.6 1372.6 L1251.4 1372.4 L1251.6 1370.5 L1250.6 1370.2 L1249.1 1371.8 L1248 1371.4 L1248.4 1369.5 L1247.4 1369.1 L1245.8 1370.6 L1244.7 1370.2 L1245.4 1368.2 L1244.4 1367.8 L1242.6 1369.3 L1241.5 1368.8 L1242.5 1366.8 L1241.5 1366.3 L1239.5 1367.7 L1238.6 1367.1 L1239.7 1365.1 L1238.9 1364.5 L1236.7 1365.9 L1235.8 1365.2 L1237.2 1363.3 L1236.4 1362.6 L1234.1 1363.8 L1233.3 1363.1 L1234.9 1361.3 L1234.2 1360.6 L1231.8 1361.6 L1231.1 1360.9 L1232.9 1359.1 L1232.3 1358.4 L1229.7 1359.3 L1229.1 1358.5 L1231.1 1356.8 L1230.6 1356.1 L1228 1356.7 L1227.5 1355.9 L1229.6 1354.4 L1229.2 1353.6 L1226.5 1354.1 L1226.1 1353.2 L1228.4 1351.9 L1228 1351.1 L1225.4 1351.4 L1225.1 1350.4 L1227.5 1349.4 L1227.2 1348.5 L1224.6 1348.5 L1224.4 1347.6 L1226.9 1346.8 L1226.8 1345.9 L1224.1 1345.7 L1224 1344.7 L1226.6 1344.2 L1226.6 1343.3 L1224 1342.8 L1224 1341.9 L1226.7 1341.5 L1226.8 1340.7 L1224.2 1339.9 L1224.4 1339 L1227.1 1338.9 L1227.2 1338.1 L1224.8 1337.1 L1225.1 1336.2 L1227.7 1336.3 L1228 1335.5 L1225.7 1334.3 L1226.1 1333.4 L1228.8 1333.8 L1229.2 1333 L1227 1331.6 L1227.5 1330.7 L1230.1 1331.3 L1230.6 1330.5 L1228.5 1329 L1229.1 1328.1 L1231.7 1329 L1232.3 1328.2 L1230.4 1326.5 L1231.1 1325.7 L1233.5 1326.7 L1234.2 1326 L1232.6 1324.2 L1233.3 1323.5 L1235.7 1324.6 L1236.4 1324 L1235 1322 L1235.8 1321.4 L1238.1 1322.7 L1238.9 1322.1 L1237.7 1320.1 L1238.6 1319.5 L1240.7 1320.9 L1241.5 1320.3 L1240.6 1318.3 L1241.5 1317.8 L1243.5 1319.3 L1244.4 1318.8 L1243.7 1316.8 L1244.7 1316.4 L1246.4 1317.9 L1247.4 1317.5 L1246.9 1315.5 L1248 1315.2 L1249.5 1316.7 L1250.6 1316.4 L1250.3 1314.5 L1251.4 1314.2 L1252.7 1315.8 L1253.8 1315.5 L1253.8 1313.7 L1255 1313.5 L1256 1315.1 L1257.1 1314.9 L1257.4 1313.2 L1258.6 1313.1 L1259.4 1314.6 L1260.5 1314.5 L1261 1313 L1262.2 1313 L1262.8 1314.5 L1263.9 1314.5 L1264.7 1313.1 L1265.8 1313.1 L1266.2 1314.7 L1267.3 1314.9 L1268.3 1313.4 L1269.4 1313.5 L1269.5 1315.3 L1270.6 1315.5 L1271.8 1314 L1273 1314.2 L1272.8 1316.1 L1273.8 1316.4 L1275.3 1314.8 L1276.4 1315.2 L1276 1317.1 L1277 1317.5 L1278.6 1316 L1279.7 1316.4 L1279 1318.4 L1280 1318.8 L1281.8 1317.3 L1282.9 1317.8 L1281.9 1319.8 L1282.9 1320.3 L1284.9 1318.9 L1285.8 1319.5 L1284.7 1321.5 L1285.5 1322.1 L1287.7 1320.7 L1288.6 1321.4 L1287.2 1323.3 L1288 1324 L1290.3 1322.8 L1291.1 1323.5 L1289.5 1325.3 L1290.2 1326 L1292.6 1325 L1293.3 1325.7 L1291.5 1327.5 L1292.1 1328.2 L1294.7 1327.3 L1295.3 1328.1 L1293.3 1329.8 L1293.8 1330.5 L1296.4 1329.9 L1296.9 1330.7 L1294.8 1332.2 L1295.2 1333 L1297.9 1332.5 L1298.3 1333.4 L1296 1334.7 L1296.4 1335.5 L1299 1335.2 L1299.3 1336.2 L1296.9 1337.2 L1297.2 1338.1 L1299.8 1338.1 L1300 1339 L1297.5 1339.8 L1297.6 1340.7 L1300.3 1340.9 L1300.4 1341.9 L1297.8 1342.4Z" fill="#fff" stroke="#27272a" stroke-width="2.38" stroke-linejoin="round" stroke-linecap="round" />
<ellipse cx="1262.2" cy="1343.3" rx="35" ry="27.8" fill="none" stroke="#27272a" stroke-width="1.58" />
<polygon points="1288.7,1355.4 1287.2,1357.3 1285.5,1359 1283.6,1360.6 1281.5,1362.1 1279.3,1363.4 1276.9,1364.5 1274.4,1365.5 1271.8,1366.3 1269.2,1366.9 1266.5,1367.3 1267.1,1352.9 1268.1,1352.5 1269,1352.1 1269.9,1351.6 1270.8,1351.1 1271.5,1350.5" fill="#fff" stroke="#27272a" stroke-width="3.04" stroke-linejoin="round" stroke-linecap="round" />
<polygon points="1255.8,1367 1253.2,1366.5 1250.6,1365.7 1248,1364.8 1245.6,1363.7 1243.4,1362.4 1241.3,1361 1239.3,1359.4 1237.6,1357.7 1236.1,1355.9 1234.7,1353.9 1252.3,1349.9 1253,1350.6 1253.8,1351.1 1254.6,1351.7 1255.5,1352.1 1256.5,1352.6" fill="#fff" stroke="#27272a" stroke-width="3.04" stroke-linejoin="round" stroke-linecap="round" />
<polygon points="1231.8,1345.8 1231.6,1343.6 1231.7,1341.4 1232.1,1339.3 1232.7,1337.1 1233.5,1335 1234.5,1333 1235.8,1331 1237.4,1329.2 1239.1,1327.5 1241,1325.9 1251.2,1337.8 1250.6,1338.6 1250.2,1339.4 1249.8,1340.2 1249.5,1341 1249.3,1341.9" fill="#fff" stroke="#27272a" stroke-width="3.04" stroke-linejoin="round" stroke-linecap="round" />
<polygon points="1249.8,1321.2 1252.4,1320.4 1255,1319.7 1257.7,1319.3 1260.5,1319.1 1263.3,1319.1 1266,1319.3 1268.8,1319.6 1271.4,1320.2 1274,1321 1276.5,1321.9 1265.3,1333.3 1264.3,1333.1 1263.2,1333 1262.1,1333 1261,1333 1259.9,1333.2" fill="#fff" stroke="#27272a" stroke-width="3.04" stroke-linejoin="round" stroke-linecap="round" />
<polygon points="1284.9,1327.1 1286.7,1328.8 1288.2,1330.6 1289.6,1332.5 1290.7,1334.5 1291.6,1336.6 1292.2,1338.8 1292.6,1340.9 1292.8,1343.1 1292.7,1345.3 1292.3,1347.5 1275.2,1342.6 1275,1341.7 1274.8,1340.9 1274.5,1340 1274.1,1339.2 1273.7,1338.5" fill="#fff" stroke="#27272a" stroke-width="3.04" stroke-linejoin="round" stroke-linecap="round" />
<ellipse cx="1262.2" cy="1343.3" rx="9.2" ry="7.3" fill="#fff" stroke="#27272a" stroke-width="2.38" />
<path d="M1268.9 1340.3 L1270.9 1341.1 L1270.5 1342.6 L1268.3 1342.5 L1267.6 1343.5 L1268.6 1345.2 L1267.3 1346.2 L1265.5 1345.3 L1264.3 1346 L1264 1347.5 L1262.2 1347.6 L1261.5 1346.4 L1260.1 1346 L1258.6 1347 L1257.1 1346.2 L1257.7 1344.5 L1256.8 1343.5 L1254.6 1343.9 L1253.9 1342.6 L1255.6 1341.4 L1255.5 1340.3 L1253.5 1339.5 L1253.9 1338 L1256.1 1338.1 L1256.8 1337.1 L1255.8 1335.4 L1257.1 1334.4 L1258.9 1335.3 L1260.1 1334.6 L1260.4 1333.1 L1262.2 1333 L1262.9 1334.2 L1264.3 1334.6 L1265.8 1333.6 L1267.3 1334.4 L1266.7 1336.1 L1267.6 1337.1 L1269.8 1336.7 L1270.5 1338 L1268.8 1339.2Z" fill="#555" stroke="#27272a" stroke-width="1.85" stroke-linejoin="round" stroke-linecap="round" />
<ellipse cx="1262.2" cy="1334.3" rx="4" ry="2.6" fill="#fff" stroke="#27272a" stroke-width="1.58" />
<path d="M1319.4 1476.9 L1322 1477.4 L1322 1478.4 L1319.3 1478.7 L1319.2 1479.6 L1321.7 1480.4 L1321.6 1481.3 L1318.9 1481.4 L1318.7 1482.3 L1321.1 1483.3 L1320.8 1484.2 L1318.1 1484.1 L1317.8 1484.9 L1320.1 1486.2 L1319.7 1487.1 L1317 1486.6 L1316.6 1487.5 L1318.7 1488.9 L1318.1 1489.8 L1315.5 1489.1 L1315 1489.9 L1316.9 1491.6 L1316.3 1492.4 L1313.8 1491.5 L1313.1 1492.3 L1314.9 1494.1 L1314.1 1494.8 L1311.7 1493.8 L1310.9 1494.5 L1312.5 1496.4 L1311.6 1497.1 L1309.3 1495.9 L1308.5 1496.5 L1309.8 1498.5 L1308.9 1499.1 L1306.7 1497.8 L1305.8 1498.4 L1306.8 1500.4 L1305.8 1500.9 L1303.8 1499.5 L1302.9 1500 L1303.7 1502 L1302.6 1502.5 L1300.8 1501 L1299.8 1501.5 L1300.3 1503.4 L1299.2 1503.8 L1297.6 1502.3 L1296.5 1502.7 L1296.8 1504.6 L1295.6 1504.9 L1294.2 1503.3 L1293.1 1503.6 L1293.1 1505.4 L1291.9 1505.6 L1290.8 1504.1 L1289.6 1504.3 L1289.3 1505.9 L1288.1 1506 L1287.2 1504.6 L1286.1 1504.7 L1285.5 1506.2 L1284.3 1506.2 L1283.7 1504.7 L1282.5 1504.7 L1281.7 1506.1 L1280.5 1506 L1280.1 1504.4 L1279 1504.3 L1277.9 1505.8 L1276.7 1505.6 L1276.6 1503.8 L1275.5 1503.6 L1274.2 1505.1 L1273 1504.9 L1273.2 1503 L1272.1 1502.7 L1270.6 1504.2 L1269.4 1503.8 L1269.9 1501.9 L1268.8 1501.5 L1267.1 1503 L1266 1502.5 L1266.7 1500.5 L1265.7 1500 L1263.8 1501.5 L1262.8 1500.9 L1263.7 1498.9 L1262.8 1498.4 L1260.7 1499.7 L1259.7 1499.1 L1261 1497.1 L1260.1 1496.5 L1257.8 1497.8 L1257 1497.1 L1258.4 1495.2 L1257.7 1494.5 L1255.3 1495.6 L1254.5 1494.8 L1256.2 1493 L1255.5 1492.3 L1253 1493.2 L1252.3 1492.4 L1254.2 1490.7 L1253.6 1489.9 L1251 1490.7 L1250.5 1489.8 L1252.5 1488.3 L1252 1487.5 L1249.4 1488 L1248.9 1487.1 L1251.2 1485.7 L1250.8 1484.9 L1248.1 1485.2 L1247.8 1484.2 L1250.2 1483.1 L1249.9 1482.3 L1247.2 1482.3 L1247 1481.3 L1249.5 1480.5 L1249.4 1479.6 L1246.7 1479.3 L1246.6 1478.4 L1249.2 1477.8 L1249.2 1476.9 L1246.6 1476.4 L1246.6 1475.4 L1249.3 1475.1 L1249.4 1474.2 L1246.9 1473.4 L1247 1472.5 L1249.7 1472.4 L1249.9 1471.5 L1247.5 1470.5 L1247.8 1469.6 L1250.5 1469.7 L1250.8 1468.9 L1248.5 1467.6 L1248.9 1466.7 L1251.6 1467.2 L1252 1466.3 L1249.9 1464.9 L1250.5 1464 L1253.1 1464.7 L1253.6 1463.9 L1251.7 1462.2 L1252.3 1461.4 L1254.8 1462.3 L1255.5 1461.5 L1253.7 1459.7 L1254.5 1459 L1256.9 1460 L1257.7 1459.3 L1256.1 1457.4 L1257 1456.7 L1259.3 1457.9 L1260.1 1457.3 L1258.8 1455.3 L1259.7 1454.7 L1261.9 1456 L1262.8 1455.4 L1261.8 1453.4 L1262.8 1452.9 L1264.8 1454.3 L1265.7 1453.8 L1264.9 1451.8 L1266 1451.3 L1267.8 1452.8 L1268.8 1452.3 L1268.3 1450.4 L1269.4 1450 L1271 1451.5 L1272.1 1451.1 L1271.8 1449.2 L1273 1448.9 L1274.4 1450.5 L1275.5 1450.2 L1275.5 1448.4 L1276.7 1448.2 L1277.8 1449.7 L1279 1449.5 L1279.3 1447.9 L1280.5 1447.8 L1281.4 1449.2 L1282.5 1449.1 L1283.1 1447.6 L1284.3 1447.6 L1284.9 1449.1 L1286.1 1449.1 L1286.9 1447.7 L1288.1 1447.8 L1288.5 1449.4 L1289.6 1449.5 L1290.7 1448 L1291.9 1448.2 L1292 1450 L1293.1 1450.2 L1294.4 1448.7 L1295.6 1448.9 L1295.4 1450.8 L1296.5 1451.1 L1298 1449.6 L1299.2 1450 L1298.7 1451.9 L1299.8 1452.3 L1301.5 1450.8 L1302.6 1451.3 L1301.9 1453.3 L1302.9 1453.8 L1304.8 1452.3 L1305.8 1452.9 L1304.9 1454.9 L1305.8 1455.4 L1307.9 1454.1 L1308.9 1454.7 L1307.6 1456.7 L1308.5 1457.3 L1310.8 1456 L1311.6 1456.7 L1310.2 1458.6 L1310.9 1459.3 L1313.3 1458.2 L1314.1 1459 L1312.4 1460.8 L1313.1 1461.5 L1315.6 1460.6 L1316.3 1461.4 L1314.4 1463.1 L1315 1463.9 L1317.6 1463.1 L1318.1 1464 L1316.1 1465.5 L1316.6 1466.3 L1319.2 1465.8 L1319.7 1466.7 L1317.4 1468.1 L1317.8 1468.9 L1320.5 1468.6 L1320.8 1469.6 L1318.4 1470.7 L1318.7 1471.5 L1321.4 1471.5 L1321.6 1472.5 L1319.1 1473.3 L1319.2 1474.2 L1321.9 1474.5 L1322 1475.4 L1319.4 1476Z" fill="#fff" stroke="#27272a" stroke-width="1.98" stroke-linejoin="round" stroke-linecap="round" />
<path d="M1319.4 1474.7 L1322 1475.2 L1322 1476.2 L1319.3 1476.5 L1319.2 1477.4 L1321.7 1478.2 L1321.6 1479.1 L1318.9 1479.2 L1318.7 1480.1 L1321.1 1481.1 L1320.8 1482 L1318.1 1481.9 L1317.8 1482.7 L1320.1 1484 L1319.7 1484.9 L1317 1484.4 L1316.6 1485.3 L1318.7 1486.7 L1318.1 1487.6 L1315.5 1486.9 L1315 1487.7 L1316.9 1489.4 L1316.3 1490.2 L1313.8 1489.3 L1313.1 1490.1 L1314.9 1491.9 L1314.1 1492.6 L1311.7 1491.6 L1310.9 1492.3 L1312.5 1494.2 L1311.6 1494.9 L1309.3 1493.7 L1308.5 1494.3 L1309.8 1496.3 L1308.9 1496.9 L1306.7 1495.6 L1305.8 1496.2 L1306.8 1498.2 L1305.8 1498.7 L1303.8 1497.3 L1302.9 1497.8 L1303.7 1499.8 L1302.6 1500.3 L1300.8 1498.8 L1299.8 1499.3 L1300.3 1501.2 L1299.2 1501.6 L1297.6 1500.1 L1296.5 1500.5 L1296.8 1502.4 L1295.6 1502.7 L1294.2 1501.1 L1293.1 1501.4 L1293.1 1503.2 L1291.9 1503.4 L1290.8 1501.9 L1289.6 1502.1 L1289.3 1503.7 L1288.1 1503.8 L1287.2 1502.4 L1286.1 1502.5 L1285.5 1504 L1284.3 1504 L1283.7 1502.5 L1282.5 1502.5 L1281.7 1503.9 L1280.5 1503.8 L1280.1 1502.2 L1279 1502.1 L1277.9 1503.6 L1276.7 1503.4 L1276.6 1501.6 L1275.5 1501.4 L1274.2 1502.9 L1273 1502.7 L1273.2 1500.8 L1272.1 1500.5 L1270.6 1502 L1269.4 1501.6 L1269.9 1499.7 L1268.8 1499.3 L1267.1 1500.8 L1266 1500.3 L1266.7 1498.3 L1265.7 1497.8 L1263.8 1499.3 L1262.8 1498.7 L1263.7 1496.7 L1262.8 1496.2 L1260.7 1497.5 L1259.7 1496.9 L1261 1494.9 L1260.1 1494.3 L1257.8 1495.6 L1257 1494.9 L1258.4 1493 L1257.7 1492.3 L1255.3 1493.4 L1254.5 1492.6 L1256.2 1490.8 L1255.5 1490.1 L1253 1491 L1252.3 1490.2 L1254.2 1488.5 L1253.6 1487.7 L1251 1488.5 L1250.5 1487.6 L1252.5 1486.1 L1252 1485.3 L1249.4 1485.8 L1248.9 1484.9 L1251.2 1483.5 L1250.8 1482.7 L1248.1 1483 L1247.8 1482 L1250.2 1480.9 L1249.9 1480.1 L1247.2 1480.1 L1247 1479.1 L1249.5 1478.3 L1249.4 1477.4 L1246.7 1477.1 L1246.6 1476.2 L1249.2 1475.6 L1249.2 1474.7 L1246.6 1474.2 L1246.6 1473.2 L1249.3 1472.9 L1249.4 1472 L1246.9 1471.2 L1247 1470.3 L1249.7 1470.2 L1249.9 1469.3 L1247.5 1468.3 L1247.8 1467.4 L1250.5 1467.5 L1250.8 1466.7 L1248.5 1465.4 L1248.9 1464.5 L1251.6 1465 L1252 1464.1 L1249.9 1462.7 L1250.5 1461.8 L1253.1 1462.5 L1253.6 1461.7 L1251.7 1460 L1252.3 1459.2 L1254.8 1460.1 L1255.5 1459.3 L1253.7 1457.5 L1254.5 1456.8 L1256.9 1457.8 L1257.7 1457.1 L1256.1 1455.2 L1257 1454.5 L1259.3 1455.7 L1260.1 1455.1 L1258.8 1453.1 L1259.7 1452.5 L1261.9 1453.8 L1262.8 1453.2 L1261.8 1451.2 L1262.8 1450.7 L1264.8 1452.1 L1265.7 1451.6 L1264.9 1449.6 L1266 1449.1 L1267.8 1450.6 L1268.8 1450.1 L1268.3 1448.2 L1269.4 1447.8 L1271 1449.3 L1272.1 1448.9 L1271.8 1447 L1273 1446.7 L1274.4 1448.3 L1275.5 1448 L1275.5 1446.2 L1276.7 1446 L1277.8 1447.5 L1279 1447.3 L1279.3 1445.7 L1280.5 1445.6 L1281.4 1447 L1282.5 1446.9 L1283.1 1445.4 L1284.3 1445.4 L1284.9 1446.9 L1286.1 1446.9 L1286.9 1445.5 L1288.1 1445.6 L1288.5 1447.2 L1289.6 1447.3 L1290.7 1445.8 L1291.9 1446 L1292 1447.8 L1293.1 1448 L1294.4 1446.5 L1295.6 1446.7 L1295.4 1448.6 L1296.5 1448.9 L1298 1447.4 L1299.2 1447.8 L1298.7 1449.7 L1299.8 1450.1 L1301.5 1448.6 L1302.6 1449.1 L1301.9 1451.1 L1302.9 1451.6 L1304.8 1450.1 L1305.8 1450.7 L1304.9 1452.7 L1305.8 1453.2 L1307.9 1451.9 L1308.9 1452.5 L1307.6 1454.5 L1308.5 1455.1 L1310.8 1453.8 L1311.6 1454.5 L1310.2 1456.4 L1310.9 1457.1 L1313.3 1456 L1314.1 1456.8 L1312.4 1458.6 L1313.1 1459.3 L1315.6 1458.4 L1316.3 1459.2 L1314.4 1460.9 L1315 1461.7 L1317.6 1460.9 L1318.1 1461.8 L1316.1 1463.3 L1316.6 1464.1 L1319.2 1463.6 L1319.7 1464.5 L1317.4 1465.9 L1317.8 1466.7 L1320.5 1466.4 L1320.8 1467.4 L1318.4 1468.5 L1318.7 1469.3 L1321.4 1469.3 L1321.6 1470.3 L1319.1 1471.1 L1319.2 1472 L1321.9 1472.3 L1322 1473.2 L1319.4 1473.8Z" fill="#fff" stroke="#27272a" stroke-width="2.38" stroke-linejoin="round" stroke-linecap="round" />
<ellipse cx="1284.3" cy="1474.7" rx="34.5" ry="26.8" fill="none" stroke="#27272a" stroke-width="1.58" />
<polygon points="1313.4,1480.8 1312.6,1482.8 1311.5,1484.8 1310.3,1486.6 1308.8,1488.4 1307.1,1490.1 1305.2,1491.6 1303.1,1493 1300.9,1494.3 1298.6,1495.4 1296.1,1496.3 1292,1482.7 1292.8,1482.1 1293.6,1481.5 1294.3,1480.9 1295,1480.2 1295.5,1479.5" fill="#fff" stroke="#27272a" stroke-width="3.04" stroke-linejoin="round" stroke-linecap="round" />
<polygon points="1285.9,1498.1 1283.1,1498.1 1280.4,1497.9 1277.7,1497.6 1275.1,1497 1272.5,1496.3 1270,1495.4 1267.7,1494.3 1265.5,1493 1263.4,1491.6 1261.5,1490.1 1276.9,1482.9 1277.9,1483.3 1278.8,1483.7 1279.8,1484 1280.8,1484.3 1281.9,1484.5" fill="#fff" stroke="#27272a" stroke-width="3.04" stroke-linejoin="round" stroke-linecap="round" />
<polygon points="1256.1,1483.1 1255.3,1481.1 1254.7,1479 1254.3,1476.9 1254.1,1474.8 1254.3,1472.7 1254.6,1470.5 1255.2,1468.5 1256.1,1466.5 1257.1,1464.5 1258.4,1462.6 1272,1471.8 1271.8,1472.6 1271.6,1473.4 1271.5,1474.2 1271.5,1475.1 1271.6,1475.9" fill="#fff" stroke="#27272a" stroke-width="3.04" stroke-linejoin="round" stroke-linecap="round" />
<polygon points="1265.3,1456.5 1267.5,1455.2 1269.9,1454.1 1272.3,1453.2 1274.9,1452.4 1277.5,1451.9 1280.2,1451.5 1282.9,1451.3 1285.7,1451.3 1288.4,1451.5 1291.1,1451.9 1284.1,1464.7 1283,1464.8 1281.9,1464.9 1280.9,1465.1 1279.9,1465.4 1278.9,1465.7" fill="#fff" stroke="#27272a" stroke-width="3.04" stroke-linejoin="round" stroke-linecap="round" />
<polygon points="1300.7,1455 1303,1456.3 1305,1457.7 1306.9,1459.2 1308.6,1460.9 1310.2,1462.6 1311.5,1464.5 1312.5,1466.5 1313.4,1468.5 1314,1470.5 1314.3,1472.7 1296.4,1471.5 1296,1470.7 1295.6,1469.9 1295,1469.2 1294.4,1468.5 1293.7,1467.9" fill="#fff" stroke="#27272a" stroke-width="3.04" stroke-linejoin="round" stroke-linecap="round" />
<ellipse cx="1284.3" cy="1474.7" rx="9" ry="7" fill="#fff" stroke="#27272a" stroke-width="2.38" />
<path d="M1281.3 1475.7 L1281.3 1468.7 A3 2.4 0 0 1 1287.3 1468.7 L1287.3 1475.7 A3.6 2.8 0 0 1 1281.3 1475.7Z" fill="#fff" stroke="#27272a" stroke-width="2.11" stroke-linejoin="round" stroke-linecap="round" />
<polygon points="1280.8,1467.7 1284.3,1463.7 1287.8,1467.7" fill="#444" stroke="#27272a" stroke-width="1.32" stroke-linejoin="round" stroke-linecap="round" />
<path d="M1313.5 1630.6 L1316.9 1631.2 L1316.7 1632.3 L1313.2 1632.4 L1312.8 1633.3 L1315.9 1634.5 L1315.2 1635.5 L1311.6 1635.1 L1310.8 1635.9 L1313.4 1637.6 L1312.3 1638.6 L1308.7 1637.6 L1307.4 1638.4 L1309.6 1640.6 L1308.1 1641.4 L1304.5 1640 L1303 1640.7 L1304.5 1643.2 L1302.6 1643.9 L1299.3 1642.1 L1297.4 1642.7 L1298.4 1645.3 L1296.2 1645.9 L1293.2 1643.9 L1291.1 1644.4 L1291.3 1647 L1288.9 1647.4 L1286.5 1645.3 L1284.2 1645.7 L1283.7 1648.1 L1281.1 1648.3 L1279.2 1646.3 L1276.8 1646.5 L1275.7 1648.6 L1273.1 1648.6 L1271.8 1646.7 L1269.4 1646.5 L1267.7 1648.5 L1265.1 1648.3 L1264.4 1646 L1262 1645.7 L1259.8 1647.7 L1257.3 1647.4 L1257.3 1644.9 L1255.1 1644.4 L1252.3 1646.4 L1250 1645.9 L1250.7 1643.3 L1248.8 1642.7 L1245.6 1644.6 L1243.6 1643.9 L1244.9 1641.4 L1243.2 1640.7 L1239.8 1642.3 L1238.1 1641.4 L1240.1 1639.2 L1238.8 1638.4 L1235.1 1639.6 L1233.9 1638.6 L1236.4 1636.7 L1235.4 1635.9 L1231.8 1636.6 L1231 1635.5 L1233.9 1634.2 L1233.4 1633.3 L1229.8 1633.3 L1229.5 1632.3 L1232.8 1631.5 L1232.7 1630.6 L1229.3 1630 L1229.5 1628.9 L1233 1628.8 L1233.4 1627.9 L1230.3 1626.7 L1231 1625.7 L1234.6 1626.1 L1235.4 1625.3 L1232.8 1623.6 L1233.9 1622.6 L1237.5 1623.6 L1238.8 1622.8 L1236.6 1620.6 L1238.1 1619.8 L1241.7 1621.2 L1243.2 1620.5 L1241.7 1618 L1243.6 1617.3 L1246.9 1619.1 L1248.8 1618.5 L1247.8 1615.9 L1250 1615.3 L1253 1617.3 L1255.1 1616.8 L1254.9 1614.2 L1257.3 1613.8 L1259.7 1615.9 L1262 1615.5 L1262.5 1613.1 L1265.1 1612.9 L1267 1614.9 L1269.4 1614.7 L1270.5 1612.6 L1273.1 1612.6 L1274.4 1614.5 L1276.8 1614.7 L1278.5 1612.7 L1281.1 1612.9 L1281.8 1615.2 L1284.2 1615.5 L1286.4 1613.5 L1288.9 1613.8 L1288.9 1616.3 L1291.1 1616.8 L1293.9 1614.8 L1296.2 1615.3 L1295.5 1617.9 L1297.4 1618.5 L1300.6 1616.6 L1302.6 1617.3 L1301.3 1619.8 L1303 1620.5 L1306.4 1618.9 L1308.1 1619.8 L1306.1 1622 L1307.4 1622.8 L1311.1 1621.6 L1312.3 1622.6 L1309.8 1624.5 L1310.8 1625.3 L1314.4 1624.6 L1315.2 1625.7 L1312.3 1627 L1312.8 1627.9 L1316.4 1627.9 L1316.7 1628.9 L1313.4 1629.7Z" fill="#fff" stroke="#27272a" stroke-width="1.98" stroke-linejoin="round" stroke-linecap="round" />
<path d="M1313.5 1627.6 L1316.9 1628.2 L1316.7 1629.3 L1313.2 1629.4 L1312.8 1630.3 L1315.9 1631.5 L1315.2 1632.5 L1311.6 1632.1 L1310.8 1632.9 L1313.4 1634.6 L1312.3 1635.6 L1308.7 1634.6 L1307.4 1635.4 L1309.6 1637.6 L1308.1 1638.4 L1304.5 1637 L1303 1637.7 L1304.5 1640.2 L1302.6 1640.9 L1299.3 1639.1 L1297.4 1639.7 L1298.4 1642.3 L1296.2 1642.9 L1293.2 1640.9 L1291.1 1641.4 L1291.3 1644 L1288.9 1644.4 L1286.5 1642.3 L1284.2 1642.7 L1283.7 1645.1 L1281.1 1645.3 L1279.2 1643.3 L1276.8 1643.5 L1275.7 1645.6 L1273.1 1645.6 L1271.8 1643.7 L1269.4 1643.5 L1267.7 1645.5 L1265.1 1645.3 L1264.4 1643 L1262 1642.7 L1259.8 1644.7 L1257.3 1644.4 L1257.3 1641.9 L1255.1 1641.4 L1252.3 1643.4 L1250 1642.9 L1250.7 1640.3 L1248.8 1639.7 L1245.6 1641.6 L1243.6 1640.9 L1244.9 1638.4 L1243.2 1637.7 L1239.8 1639.3 L1238.1 1638.4 L1240.1 1636.2 L1238.8 1635.4 L1235.1 1636.6 L1233.9 1635.6 L1236.4 1633.7 L1235.4 1632.9 L1231.8 1633.6 L1231 1632.5 L1233.9 1631.2 L1233.4 1630.3 L1229.8 1630.3 L1229.5 1629.3 L1232.8 1628.5 L1232.7 1627.6 L1229.3 1627 L1229.5 1625.9 L1233 1625.8 L1233.4 1624.9 L1230.3 1623.7 L1231 1622.7 L1234.6 1623.1 L1235.4 1622.3 L1232.8 1620.6 L1233.9 1619.6 L1237.5 1620.6 L1238.8 1619.8 L1236.6 1617.6 L1238.1 1616.8 L1241.7 1618.2 L1243.2 1617.5 L1241.7 1615 L1243.6 1614.3 L1246.9 1616.1 L1248.8 1615.5 L1247.8 1612.9 L1250 1612.3 L1253 1614.3 L1255.1 1613.8 L1254.9 1611.2 L1257.3 1610.8 L1259.7 1612.9 L1262 1612.5 L1262.5 1610.1 L1265.1 1609.9 L1267 1611.9 L1269.4 1611.7 L1270.5 1609.6 L1273.1 1609.6 L1274.4 1611.5 L1276.8 1611.7 L1278.5 1609.7 L1281.1 1609.9 L1281.8 1612.2 L1284.2 1612.5 L1286.4 1610.5 L1288.9 1610.8 L1288.9 1613.3 L1291.1 1613.8 L1293.9 1611.8 L1296.2 1612.3 L1295.5 1614.9 L1297.4 1615.5 L1300.6 1613.6 L1302.6 1614.3 L1301.3 1616.8 L1303 1617.5 L1306.4 1615.9 L1308.1 1616.8 L1306.1 1619 L1307.4 1619.8 L1311.1 1618.6 L1312.3 1619.6 L1309.8 1621.5 L1310.8 1622.3 L1314.4 1621.6 L1315.2 1622.7 L1312.3 1624 L1312.8 1624.9 L1316.4 1624.9 L1316.7 1625.9 L1313.4 1626.7Z" fill="#fff" stroke="#27272a" stroke-width="1.98" stroke-linejoin="round" stroke-linecap="round" />
<ellipse cx="1272.1" cy="1624.1" rx="32.5" ry="14.5" fill="#fff" stroke="#27272a" stroke-width="2.9" transform="rotate(7 1272.1 1624.1)" />
<ellipse cx="1272.1" cy="1626.1" rx="32.5" ry="14.5" fill="none" stroke="#27272a" stroke-width="1.32" transform="rotate(7 1272.1 1626.1)" />
<ellipse cx="1272.1" cy="1622.6" rx="8.4" ry="6" fill="#fff" stroke="#27272a" stroke-width="3.17" />
<ellipse cx="1272.1" cy="1620.6" rx="5" ry="3.6" fill="#fff" stroke="#27272a" stroke-width="1.98" />
<ellipse cx="1272.1" cy="1619.1" rx="2.4" ry="1.7" fill="none" stroke="#27272a" stroke-width="1.32" />
<ellipse cx="1252.6" cy="1620.6" rx="2.6" ry="1.9" fill="none" stroke="#27272a" stroke-width="1.98" />
<ellipse cx="1293.6" cy="1625.6" rx="2.6" ry="1.9" fill="none" stroke="#27272a" stroke-width="1.98" />
<path d="M0 0 Q14.7 -2.4 30.6 -8.2 A8.4 8.4 0 1 1 30.6 8.2 Q14.7 2.4 0 0Z" transform="translate(1232.1 1616.5) rotate(-156.2)" fill="#2565ae" stroke="none" stroke-width="1.4"/>
<path d="M0 0 Q13.8 -2.3 28.6 -7.6 A7.9 7.9 0 1 1 28.6 7.6 Q13.8 2.3 0 0Z" transform="translate(1241.5 1633.7) rotate(139.7)" fill="#e2354a" stroke="none" stroke-width="1.4"/>
<path d="M0 0 Q14.6 -2.4 30.2 -8.1 A8.3 8.3 0 1 1 30.2 8.1 Q14.6 2.4 0 0Z" transform="translate(1310.2 1632) rotate(24.2)" fill="#e2354a" stroke="none" stroke-width="1.4"/>
<g>
<path d="M1677.5 1260.5 L1677.5 1267.5 Q1677.5 1269.3 1679.9 1269.3 L1679.9 1273 Q1679.9 1274.5 1683 1275 L1686.1 1273 Q1686.1 1274.5 1686.1 1273 L1686.1 1269.3 Q1688.5 1269.3 1688.5 1267.5 L1688.5 1260.5" fill="#fff" stroke="#27272a" stroke-width="1.65" stroke-linejoin="round" stroke-linecap="round" />
<line x1="1679.9" y1="1269.3" x2="1686.1" y2="1269.3" stroke="#27272a" stroke-width="1.0" />
<path d="M1670.5 1252 L1670.5 1255.2 A12.5 8.8 0 0 0 1695.5 1255.2 L1695.5 1252" fill="#fff" stroke="#27272a" stroke-width="1.98" stroke-linejoin="round" stroke-linecap="round" />
<ellipse cx="1683" cy="1252" rx="12.5" ry="8.8" fill="#fff" stroke="#27272a" stroke-width="1.98" />
<line x1="1672.5" y1="1249.2" x2="1693.5" y2="1253.4" stroke="#2f2f31" stroke-width="3.5" stroke-linecap="round"/>
</g>
<g>
<path d="M1495.2 1393.3 L1495.2 1400.5 Q1495.2 1402.4 1497.7 1402.4 L1497.7 1406.3 Q1497.7 1407.8 1500.9 1408.3 L1504.2 1406.3 Q1504.2 1407.8 1504.2 1406.3 L1504.2 1402.4 Q1506.6 1402.4 1506.6 1400.5 L1506.6 1393.3" fill="#fff" stroke="#27272a" stroke-width="1.65" stroke-linejoin="round" stroke-linecap="round" />
<line x1="1497.7" y1="1402.4" x2="1504.2" y2="1402.4" stroke="#27272a" stroke-width="1.0" />
<path d="M1487.9 1384.4 L1487.9 1387.8 A13 9.1 0 0 0 1513.9 1387.8 L1513.9 1384.4" fill="#fff" stroke="#27272a" stroke-width="1.98" stroke-linejoin="round" stroke-linecap="round" />
<ellipse cx="1500.9" cy="1384.4" rx="13" ry="9.1" fill="#fff" stroke="#27272a" stroke-width="1.98" />
<line x1="1490" y1="1381.5" x2="1511.8" y2="1385.8" stroke="#2f2f31" stroke-width="3.6" stroke-linecap="round"/>
</g>
<path d="M1603.3 1285.3 L1603.3 1293.4 Q1606 1297.3 1608.7 1293.4 L1608.7 1285.3" fill="#fff" stroke="#27272a" stroke-width="1.58" stroke-linejoin="round" stroke-linecap="round" />
<path d="M1599.5 1283 L1599.5 1286.6 A6.5 4.5 0 0 0 1612.5 1286.6 L1612.5 1283" fill="#555" stroke="#3a3a3c" stroke-width="1.98" stroke-linejoin="round" stroke-linecap="round" />
<ellipse cx="1606" cy="1283" rx="6.5" ry="4.5" fill="#9a9a9a" stroke="#3a3a3c" stroke-width="2.38" />
<line x1="1602.1" y1="1283.3" x2="1609.9" y2="1282.4" stroke="#f2f2f2" stroke-width="1.6" />
<path d="M1545.6 1328.3 L1545.6 1336.4 Q1548.3 1340.3 1551 1336.4 L1551 1328.3" fill="#fff" stroke="#27272a" stroke-width="1.58" stroke-linejoin="round" stroke-linecap="round" />
<path d="M1541.8 1326 L1541.8 1329.6 A6.5 4.5 0 0 0 1554.8 1329.6 L1554.8 1326" fill="#555" stroke="#3a3a3c" stroke-width="1.98" stroke-linejoin="round" stroke-linecap="round" />
<ellipse cx="1548.3" cy="1326" rx="6.5" ry="4.5" fill="#9a9a9a" stroke="#3a3a3c" stroke-width="2.38" />
<line x1="1544.4" y1="1326.3" x2="1552.2" y2="1325.4" stroke="#f2f2f2" stroke-width="1.6" />
<path d="M1607.6 1487.8 L1607.6 1495.9 Q1610.3 1499.8 1613 1495.9 L1613 1487.8" fill="#fff" stroke="#27272a" stroke-width="1.58" stroke-linejoin="round" stroke-linecap="round" />
<path d="M1603.8 1485.5 L1603.8 1489.1 A6.5 4.5 0 0 0 1616.8 1489.1 L1616.8 1485.5" fill="#555" stroke="#3a3a3c" stroke-width="1.98" stroke-linejoin="round" stroke-linecap="round" />
<ellipse cx="1610.3" cy="1485.5" rx="6.5" ry="4.5" fill="#9a9a9a" stroke="#3a3a3c" stroke-width="2.38" />
<line x1="1606.4" y1="1485.8" x2="1614.2" y2="1484.9" stroke="#f2f2f2" stroke-width="1.6" />
<path d="M1589 1501.8 L1589 1509.9 Q1591.7 1513.8 1594.4 1509.9 L1594.4 1501.8" fill="#fff" stroke="#27272a" stroke-width="1.58" stroke-linejoin="round" stroke-linecap="round" />
<path d="M1585.2 1499.5 L1585.2 1503.1 A6.5 4.5 0 0 0 1598.2 1503.1 L1598.2 1499.5" fill="#555" stroke="#3a3a3c" stroke-width="1.98" stroke-linejoin="round" stroke-linecap="round" />
<ellipse cx="1591.7" cy="1499.5" rx="6.5" ry="4.5" fill="#9a9a9a" stroke="#3a3a3c" stroke-width="2.38" />
<line x1="1587.8" y1="1499.8" x2="1595.6" y2="1498.9" stroke="#f2f2f2" stroke-width="1.6" />
<path d="M1467.2 1516.5 C1467.7 1511.9 1468.8 1496.7 1469.8 1489 C1470.8 1481.2 1472.3 1474.7 1473.3 1470 C1474.3 1465.2 1475.4 1462.1 1475.9 1460.5 L1475.9 1460.5 C1480.2 1459.2 1494 1455.8 1501.7 1452.7 C1509.5 1449.7 1516.1 1446.1 1522.4 1442.4 C1528.7 1438.7 1534.5 1435.8 1539.6 1430.3 C1544.8 1424.9 1549.4 1414.5 1553.4 1409.6 C1557.5 1404.8 1558.6 1403.9 1563.8 1401 C1569 1398.2 1577.6 1395.9 1584.5 1392.4 C1591.4 1389 1598.8 1385.2 1605.2 1380.3 C1611.5 1375.5 1617.5 1368.8 1622.4 1363.1 C1627.3 1357.4 1631.9 1349.5 1634.5 1345.9 C1637.1 1342.3 1637.3 1342.3 1637.9 1341.5 L1662.1 1338.1 L1664.6 1344.1 L1701.7 1342.4 L1703.4 1347.6 L1701.7 1371.7 L1695.7 1395.9 L1656.9 1390.7 L1654.8 1386.4 L1654.8 1386.4 C1653.1 1388 1649.9 1392.8 1644.8 1395.9 C1639.7 1398.9 1629.6 1401.6 1624.1 1404.5 C1618.7 1407.3 1616.4 1409.6 1612.1 1413.1 C1607.7 1416.5 1602.9 1422 1598.3 1425.2 C1593.7 1428.3 1590.2 1428.6 1584.5 1432.1 C1578.7 1435.5 1570.1 1440.7 1563.8 1445.9 C1557.5 1451 1551.1 1457.6 1546.5 1463.1 C1541.9 1468.6 1537.9 1476 1536.2 1478.6 L1534.5 1492.4 L1536.2 1509.6 L1478.4 1519.1 L1467.2 1516.5Z" fill="#fff" stroke="#27272a" stroke-width="2.11" stroke-linejoin="round" stroke-linecap="round" />
<path d="M1536.2 1471.7 C1537.9 1469.1 1541.9 1461.4 1546.5 1456.2 C1551.1 1451 1557.5 1445.6 1563.8 1440.7 C1570.1 1435.8 1578.7 1430.3 1584.5 1426.9 C1590.2 1423.4 1593.7 1423.2 1598.3 1420 C1602.9 1416.8 1607.7 1411.4 1612.1 1407.9 C1616.4 1404.5 1618.7 1402.2 1624.1 1399.3 C1629.6 1396.4 1639.6 1393 1644.8 1390.7 C1650 1388.4 1653.4 1386.4 1655.2 1385.5" fill="none" stroke="#27272a" stroke-width="1.58" stroke-linejoin="round" stroke-linecap="round" />
<path d="M1475.9 1460.5 C1480.2 1460.1 1494 1459.9 1501.7 1457.9 C1509.5 1455.9 1516.1 1452.2 1522.4 1448.4 C1528.7 1444.7 1534.8 1440.8 1539.6 1435.5 C1544.5 1430.2 1549.7 1419.7 1551.7 1416.5" fill="none" stroke="#27272a" stroke-width="1.32" stroke-linejoin="round" stroke-linecap="round" />
<polyline points="1469.8,1475.2 1501.7,1473.4 1534.5,1471.7" fill="none" stroke="#27272a" stroke-width="1.58" stroke-linejoin="round" stroke-linecap="round" />
<polyline points="1470.3,1480.7 1501.7,1479 1534.8,1476.9" fill="none" stroke="#27272a" stroke-width="1.58" stroke-linejoin="round" stroke-linecap="round" />
<polyline points="1664.6,1344.1 1656.9,1385.5" fill="none" stroke="#27272a" stroke-width="1.58" stroke-linejoin="round" stroke-linecap="round" />
<polyline points="1662.1,1338.1 1654.8,1386.4" fill="none" stroke="#27272a" stroke-width="1.45" stroke-linejoin="round" stroke-linecap="round" />
<polyline points="1469,1511.4 1478.4,1514 1535.9,1505.3" fill="none" stroke="#27272a" stroke-width="1.45" stroke-linejoin="round" stroke-linecap="round" />
<polyline points="1656.9,1386.4 1695.7,1391" fill="none" stroke="#27272a" stroke-width="1.32" stroke-linejoin="round" stroke-linecap="round" />
<ellipse cx="1500.9" cy="1500.2" rx="16.5" ry="11.2" fill="#fff" stroke="#27272a" stroke-width="1.58" />
<ellipse cx="1500.9" cy="1501.5" rx="11.2" ry="7.6" fill="none" stroke="#27272a" stroke-width="1.43" />
<ellipse cx="1500.9" cy="1503.5" rx="6.6" ry="4.5" fill="none" stroke="#27272a" stroke-width="1.43" />
<ellipse cx="1682.7" cy="1366.5" rx="16.5" ry="11.2" fill="#fff" stroke="#27272a" stroke-width="1.58" />
<ellipse cx="1682.7" cy="1367.9" rx="11.2" ry="7.6" fill="none" stroke="#27272a" stroke-width="1.43" />
<ellipse cx="1682.7" cy="1369.8" rx="6.6" ry="4.5" fill="none" stroke="#27272a" stroke-width="1.43" />
<ellipse cx="1575" cy="1414" rx="18" ry="13.6" fill="#fff" stroke="#27272a" stroke-width="1.72" />
<ellipse cx="1575" cy="1414" rx="14" ry="10.6" fill="#fff" stroke="#3a3a3c" stroke-width="4.75" />
<ellipse cx="1575" cy="1415" rx="7" ry="5" fill="none" stroke="#27272a" stroke-width="1.85" />
<ellipse cx="1548.3" cy="1437.2" rx="11.5" ry="6.6" fill="#fff" stroke="#27272a" stroke-width="2.11" transform="rotate(18 1548.3 1437.2)" />
<ellipse cx="1548.8" cy="1438.8" rx="7.4" ry="3.6" fill="none" stroke="#27272a" stroke-width="1.45" transform="rotate(18 1548.8 1438.8)" />
<ellipse cx="1607.7" cy="1393.3" rx="11.5" ry="6.6" fill="#fff" stroke="#27272a" stroke-width="2.11" transform="rotate(18 1607.7 1393.3)" />
<ellipse cx="1608.2" cy="1394.9" rx="7.4" ry="3.6" fill="none" stroke="#27272a" stroke-width="1.45" transform="rotate(18 1608.2 1394.9)" />
<line x1="1682.9" y1="1274" x2="1682.5" y2="1362" stroke="#27272a" stroke-width="1.1" />
<line x1="1500.9" y1="1405" x2="1500.5" y2="1495" stroke="#27272a" stroke-width="1.1" />
<line x1="1606" y1="1296" x2="1605.6" y2="1385" stroke="#27272a" stroke-width="1.1" />
<line x1="1548.3" y1="1339" x2="1547.9" y2="1432" stroke="#27272a" stroke-width="1.1" />
<path d="M0 0 Q14.8 -2.5 30.7 -8.2 A8.5 8.5 0 1 1 30.7 8.2 Q14.8 2.5 0 0Z" transform="translate(1576.7 1414) rotate(-66.7)" fill="#e2354a" stroke="none" stroke-width="1.4"/>
<line x1="1591.4" y1="1558.6" x2="1609.1" y2="1545.8" stroke="#27272a" stroke-width="21" stroke-linecap="round"/>
<line x1="1591.4" y1="1558.6" x2="1609.1" y2="1545.8" stroke="#fff" stroke-width="17.5" stroke-linecap="round"/>
<line x1="1591.4" y1="1556.6" x2="1609.1" y2="1543.8" stroke="#27272a" stroke-width="20" stroke-linecap="round"/>
<line x1="1591.4" y1="1556.6" x2="1609.1" y2="1543.8" stroke="#fff" stroke-width="15.5" stroke-linecap="round"/>
<ellipse cx="1591.4" cy="1556.6" rx="5.4" ry="4" fill="none" stroke="#27272a" stroke-width="1.85" />
<ellipse cx="1591.4" cy="1557.4" rx="2.8" ry="2" fill="none" stroke="#27272a" stroke-width="1.32" />
<ellipse cx="1609.1" cy="1543.8" rx="5.4" ry="4" fill="none" stroke="#27272a" stroke-width="1.85" />
<ellipse cx="1609.1" cy="1544.6" rx="2.8" ry="2" fill="none" stroke="#27272a" stroke-width="1.32" />
<path d="M1547.6 1622.3 C1548.3 1619.4 1548 1614.6 1549.3 1611.2 C1550.6 1607.9 1552.5 1604.9 1555.4 1602.4 C1558.3 1599.9 1562.8 1597.7 1566.5 1596.3 C1570.2 1594.9 1573.5 1594.2 1577.6 1594.1 C1581.6 1594 1587.7 1596.4 1590.9 1595.7 C1594 1595.1 1594.2 1591.6 1596.4 1590.2 C1598.6 1588.8 1601.8 1587.6 1604.2 1587.4 C1606.6 1587.2 1609 1588.1 1610.8 1589.1 C1612.6 1590.1 1614.1 1591.8 1614.7 1593.5 C1615.2 1595.2 1615.5 1597.6 1614.1 1599.1 C1612.7 1600.5 1608.4 1601.4 1606.4 1602.4 C1604.3 1603.4 1602.5 1603.1 1601.9 1605.1 C1601.4 1607.2 1602.6 1612.3 1603 1614.6 C1603.5 1616.9 1603.4 1618.1 1604.7 1619 C1606 1619.9 1608.7 1619.4 1610.8 1620.1 C1612.9 1620.8 1615.9 1622.1 1617.4 1623.4 C1619 1624.7 1620 1626.2 1620.2 1627.9 C1620.4 1629.5 1620.1 1631.7 1618.6 1633.4 C1617 1635.1 1612.6 1636.7 1610.8 1637.8 C1609 1638.9 1608.8 1639.1 1608 1640 C1607.3 1641 1608.1 1642.1 1606.4 1643.4 C1604.6 1644.7 1600.5 1646.9 1597.5 1647.8 C1594.5 1648.7 1591.1 1649.1 1588.6 1648.9 C1586.1 1648.7 1583.7 1648.5 1582.5 1646.7 C1581.4 1644.8 1582.5 1639.7 1582 1637.8 C1581.5 1636 1582.4 1636.1 1579.8 1635.6 C1577.2 1635.2 1569.8 1634.9 1566.5 1635.1 C1563.2 1635.2 1562 1635.3 1559.8 1636.7 C1557.6 1638.1 1555 1641.9 1553.2 1643.4 C1551.3 1644.8 1550.8 1645.5 1548.8 1645.6 C1546.7 1645.7 1542.8 1645 1541 1643.9 C1539.2 1642.8 1538.4 1640.7 1538.2 1638.9 C1538 1637.2 1538.7 1635.1 1539.9 1633.4 C1541.1 1631.7 1544.1 1630.8 1545.4 1629 C1546.7 1627.1 1547 1625.3 1547.6 1622.3Z" fill="#fff" stroke="#27272a" stroke-width="1.72" stroke-linejoin="round" stroke-linecap="round" />
<path d="M1547.6 1619.7 C1548.3 1616.8 1548 1612 1549.3 1608.6 C1550.6 1605.3 1552.5 1602.3 1555.4 1599.8 C1558.3 1597.3 1562.8 1595.1 1566.5 1593.7 C1570.2 1592.3 1573.5 1591.6 1577.6 1591.5 C1581.6 1591.4 1587.7 1593.8 1590.9 1593.1 C1594 1592.5 1594.2 1589 1596.4 1587.6 C1598.6 1586.2 1601.8 1585 1604.2 1584.8 C1606.6 1584.6 1609 1585.5 1610.8 1586.5 C1612.6 1587.5 1614.1 1589.2 1614.7 1590.9 C1615.2 1592.6 1615.5 1595 1614.1 1596.5 C1612.7 1597.9 1608.4 1598.8 1606.4 1599.8 C1604.3 1600.8 1602.5 1600.5 1601.9 1602.5 C1601.4 1604.6 1602.6 1609.7 1603 1612 C1603.5 1614.3 1603.4 1615.5 1604.7 1616.4 C1606 1617.3 1608.7 1616.8 1610.8 1617.5 C1612.9 1618.2 1615.9 1619.5 1617.4 1620.8 C1619 1622.1 1620 1623.6 1620.2 1625.3 C1620.4 1626.9 1620.1 1629.1 1618.6 1630.8 C1617 1632.5 1612.6 1634.1 1610.8 1635.2 C1609 1636.3 1608.8 1636.5 1608 1637.4 C1607.3 1638.4 1608.1 1639.5 1606.4 1640.8 C1604.6 1642.1 1600.5 1644.3 1597.5 1645.2 C1594.5 1646.1 1591.1 1646.5 1588.6 1646.3 C1586.1 1646.1 1583.7 1645.9 1582.5 1644.1 C1581.4 1642.2 1582.5 1637.1 1582 1635.2 C1581.5 1633.4 1582.4 1633.5 1579.8 1633 C1577.2 1632.6 1569.8 1632.3 1566.5 1632.5 C1563.2 1632.6 1562 1632.7 1559.8 1634.1 C1557.6 1635.5 1555 1639.3 1553.2 1640.8 C1551.3 1642.2 1550.8 1642.9 1548.8 1643 C1546.7 1643.1 1542.8 1642.4 1541 1641.3 C1539.2 1640.2 1538.4 1638.1 1538.2 1636.3 C1538 1634.6 1538.7 1632.5 1539.9 1630.8 C1541.1 1629.1 1544.1 1628.2 1545.4 1626.4 C1546.7 1624.5 1547 1622.7 1547.6 1619.7Z" fill="#fff" stroke="#27272a" stroke-width="1.98" stroke-linejoin="round" stroke-linecap="round" />
<ellipse cx="1574.2" cy="1612" rx="20.5" ry="15" fill="#fff" stroke="#27272a" stroke-width="1.98" />
<ellipse cx="1574.2" cy="1610.5" rx="20.5" ry="15" fill="none" stroke="#27272a" stroke-width="1.32" />
<ellipse cx="1546.5" cy="1633.6" rx="2.6" ry="1.9" fill="#aaa" stroke="#27272a" stroke-width="1.58" />
<ellipse cx="1590.9" cy="1636.9" rx="2.6" ry="1.9" fill="#aaa" stroke="#27272a" stroke-width="1.58" />
<ellipse cx="1609.1" cy="1624.2" rx="2.6" ry="1.9" fill="#aaa" stroke="#27272a" stroke-width="1.58" />
<ellipse cx="1606.4" cy="1590.4" rx="2.6" ry="1.9" fill="#aaa" stroke="#27272a" stroke-width="1.58" />
<polyline points="1600.3,1630.8 1608,1635.2" fill="none" stroke="#27272a" stroke-width="1.85" stroke-linejoin="round" stroke-linecap="round" />
<polyline points="1599.7,1633 1607.5,1637.7" fill="none" stroke="#27272a" stroke-width="1.85" stroke-linejoin="round" stroke-linecap="round" />
<line x1="1574.8" y1="1580" x2="1574.4" y2="1660" stroke="#27272a" stroke-width="1.1" />
<line x1="1591.2" y1="1512" x2="1591" y2="1556" stroke="#27272a" stroke-width="1.1" />
<line x1="1591" y1="1560" x2="1590.6" y2="1636" stroke="#27272a" stroke-width="1.1" />
<line x1="1605.8" y1="1497" x2="1605.6" y2="1543" stroke="#27272a" stroke-width="1.1" />
<line x1="1609.7" y1="1497" x2="1609.5" y2="1543" stroke="#27272a" stroke-width="1.1" />
<line x1="1605.6" y1="1550" x2="1605.4" y2="1590" stroke="#27272a" stroke-width="1.1" />
<line x1="1609.4" y1="1550" x2="1609.1" y2="1623" stroke="#27272a" stroke-width="1.1" />
<line x1="1547.2" y1="1560" x2="1546.9" y2="1632" stroke="#27272a" stroke-width="1.1" />
<ellipse cx="1574.5" cy="1769.5" rx="72.9" ry="55.4" fill="#fff" stroke="#27272a" stroke-width="2.38" />
<ellipse cx="1574.5" cy="1767" rx="72.9" ry="55.4" fill="#fff" stroke="#27272a" stroke-width="3.17" />
<ellipse cx="1574.5" cy="1767" rx="67.5" ry="50.6" fill="none" stroke="#27272a" stroke-width="1.98" />
<line x1="1516.9" y1="1782.4" x2="1566.2" y2="1768.8" stroke="#27272a" stroke-width="8.4"/>
<line x1="1516.9" y1="1782.4" x2="1566.2" y2="1768.8" stroke="#fff" stroke-width="5.4"/>
<line x1="1582.2" y1="1762.7" x2="1631.5" y2="1747.3" stroke="#27272a" stroke-width="8.4"/>
<line x1="1582.2" y1="1762.7" x2="1631.5" y2="1747.3" stroke="#fff" stroke-width="5.4"/>
<ellipse cx="1549.6" cy="1722.8" rx="8" ry="6" fill="#fff" stroke="#27272a" stroke-width="1.72" />
<ellipse cx="1549.6" cy="1720.8" rx="8" ry="6" fill="#fff" stroke="#27272a" stroke-width="1.98" />
<ellipse cx="1549.6" cy="1720.3" rx="4.4" ry="3.2" fill="none" stroke="#27272a" stroke-width="1.72" />
<ellipse cx="1549.6" cy="1720.3" rx="1.4" ry="1.1" fill="#666" stroke="#27272a" stroke-width="1.19" />
<ellipse cx="1597.6" cy="1722.8" rx="8" ry="6" fill="#fff" stroke="#27272a" stroke-width="1.72" />
<ellipse cx="1597.6" cy="1720.8" rx="8" ry="6" fill="#fff" stroke="#27272a" stroke-width="1.98" />
<ellipse cx="1597.6" cy="1720.3" rx="4.4" ry="3.2" fill="none" stroke="#27272a" stroke-width="1.72" />
<ellipse cx="1597.6" cy="1720.3" rx="1.4" ry="1.1" fill="#666" stroke="#27272a" stroke-width="1.19" />
<ellipse cx="1631.5" cy="1749.3" rx="8" ry="6" fill="#fff" stroke="#27272a" stroke-width="1.72" />
<ellipse cx="1631.5" cy="1747.3" rx="8" ry="6" fill="#fff" stroke="#27272a" stroke-width="1.98" />
<ellipse cx="1631.5" cy="1746.8" rx="4.4" ry="3.2" fill="none" stroke="#27272a" stroke-width="1.72" />
<ellipse cx="1631.5" cy="1746.8" rx="1.4" ry="1.1" fill="#666" stroke="#27272a" stroke-width="1.19" />
<ellipse cx="1632.1" cy="1784.4" rx="8" ry="6" fill="#fff" stroke="#27272a" stroke-width="1.72" />
<ellipse cx="1632.1" cy="1782.4" rx="8" ry="6" fill="#fff" stroke="#27272a" stroke-width="1.98" />
<ellipse cx="1632.1" cy="1781.9" rx="4.4" ry="3.2" fill="none" stroke="#27272a" stroke-width="1.72" />
<ellipse cx="1632.1" cy="1781.9" rx="1.4" ry="1.1" fill="#666" stroke="#27272a" stroke-width="1.19" />
<ellipse cx="1597.6" cy="1809" rx="8" ry="6" fill="#fff" stroke="#27272a" stroke-width="1.72" />
<ellipse cx="1597.6" cy="1807" rx="8" ry="6" fill="#fff" stroke="#27272a" stroke-width="1.98" />
<ellipse cx="1597.6" cy="1806.5" rx="4.4" ry="3.2" fill="none" stroke="#27272a" stroke-width="1.72" />
<ellipse cx="1597.6" cy="1806.5" rx="1.4" ry="1.1" fill="#666" stroke="#27272a" stroke-width="1.19" />
<ellipse cx="1549.6" cy="1809" rx="8" ry="6" fill="#fff" stroke="#27272a" stroke-width="1.72" />
<ellipse cx="1549.6" cy="1807" rx="8" ry="6" fill="#fff" stroke="#27272a" stroke-width="1.98" />
<ellipse cx="1549.6" cy="1806.5" rx="4.4" ry="3.2" fill="none" stroke="#27272a" stroke-width="1.72" />
<ellipse cx="1549.6" cy="1806.5" rx="1.4" ry="1.1" fill="#666" stroke="#27272a" stroke-width="1.19" />
<ellipse cx="1515.7" cy="1784.4" rx="8" ry="6" fill="#fff" stroke="#27272a" stroke-width="1.72" />
<ellipse cx="1515.7" cy="1782.4" rx="8" ry="6" fill="#fff" stroke="#27272a" stroke-width="1.98" />
<ellipse cx="1515.7" cy="1781.9" rx="4.4" ry="3.2" fill="none" stroke="#27272a" stroke-width="1.72" />
<ellipse cx="1515.7" cy="1781.9" rx="1.4" ry="1.1" fill="#666" stroke="#27272a" stroke-width="1.19" />
<ellipse cx="1516.3" cy="1748.6" rx="8" ry="6" fill="#fff" stroke="#27272a" stroke-width="1.72" />
<ellipse cx="1516.3" cy="1746.6" rx="8" ry="6" fill="#fff" stroke="#27272a" stroke-width="1.98" />
<ellipse cx="1516.3" cy="1746.1" rx="4.4" ry="3.2" fill="none" stroke="#27272a" stroke-width="1.72" />
<ellipse cx="1516.3" cy="1746.1" rx="1.4" ry="1.1" fill="#666" stroke="#27272a" stroke-width="1.19" />
<polygon points="1558.8,1787.3 1563.7,1792.8 1597,1787.9 1603.8,1781.7 1590.8,1776.2" fill="#fff" stroke="#27272a" stroke-width="1.85" stroke-linejoin="round" stroke-linecap="round" />
<ellipse cx="1573.6" cy="1766.4" rx="31.4" ry="24.6" fill="#2d3234" stroke="#27272a" stroke-width="1.58" />
<ellipse cx="1573.6" cy="1763.9" rx="31.4" ry="24.6" fill="#333a3c" stroke="#27272a" stroke-width="1.58" />
<ellipse cx="1568" cy="1764.6" rx="1.1" ry="0.9" fill="#e8e8e8" stroke="#27272a" stroke-width="0.13" />
<ellipse cx="1573.6" cy="1767" rx="1.1" ry="0.9" fill="#e8e8e8" stroke="#27272a" stroke-width="0.13" />
<ellipse cx="1579.2" cy="1764.6" rx="1.1" ry="0.9" fill="#e8e8e8" stroke="#27272a" stroke-width="0.13" />
<ellipse cx="1574.2" cy="1767.5" rx="1.6" ry="0.9" fill="#e8e8e8" stroke="#27272a" stroke-width="0.13" />
<path d="M1599.6 1777.5 L1599.6 1786.5 A3.6 2.6 0 0 0 1606.8 1786.5 L1606.8 1777.5" fill="#fff" stroke="#27272a" stroke-width="1.85" stroke-linejoin="round" stroke-linecap="round" />
<ellipse cx="1603.2" cy="1777.5" rx="3.6" ry="2.6" fill="#fff" stroke="#27272a" stroke-width="1.85" />
<line x1="1574.6" y1="1690" x2="1574.4" y2="1737" stroke="#27272a" stroke-width="1.1" />
<g>
<path d="M1544.2 1849.3 L1544.2 1854.8 Q1544.2 1856 1545.8 1856 L1545.8 1858.6 Q1545.8 1859.7 1548 1860 L1550.2 1858.6 Q1550.2 1859.7 1550.2 1858.6 L1550.2 1856 Q1551.8 1856 1551.8 1854.8 L1551.8 1849.3" fill="#fff" stroke="#27272a" stroke-width="1.65" stroke-linejoin="round" stroke-linecap="round" />
<line x1="1545.8" y1="1856" x2="1550.2" y2="1856" stroke="#27272a" stroke-width="1.0" />
<path d="M1539.2 1843.9 L1539.2 1846.2 A8.8 6.1 0 0 0 1556.8 1846.2 L1556.8 1843.9" fill="#fff" stroke="#27272a" stroke-width="1.98" stroke-linejoin="round" stroke-linecap="round" />
<ellipse cx="1548" cy="1843.9" rx="8.8" ry="6.1" fill="#fff" stroke="#27272a" stroke-width="1.98" />
<line x1="1547.9" y1="1837.9" x2="1545.5" y2="1851.7" stroke="#27272a" stroke-width="1.25" />
<line x1="1549.6" y1="1837.9" x2="1547.2" y2="1851.7" stroke="#27272a" stroke-width="1.25" />
</g>
<g>
<path d="M1596.2 1871.3 L1596.2 1876.8 Q1596.2 1878 1597.8 1878 L1597.8 1880.6 Q1597.8 1881.7 1600 1882 L1602.2 1880.6 Q1602.2 1881.7 1602.2 1880.6 L1602.2 1878 Q1603.8 1878 1603.8 1876.8 L1603.8 1871.3" fill="#fff" stroke="#27272a" stroke-width="1.65" stroke-linejoin="round" stroke-linecap="round" />
<line x1="1597.8" y1="1878" x2="1602.2" y2="1878" stroke="#27272a" stroke-width="1.0" />
<path d="M1591.2 1865.9 L1591.2 1868.2 A8.8 6.1 0 0 0 1608.8 1868.2 L1608.8 1865.9" fill="#fff" stroke="#27272a" stroke-width="1.98" stroke-linejoin="round" stroke-linecap="round" />
<ellipse cx="1600" cy="1865.9" rx="8.8" ry="6.1" fill="#fff" stroke="#27272a" stroke-width="1.98" />
<line x1="1599.9" y1="1859.9" x2="1597.5" y2="1873.7" stroke="#27272a" stroke-width="1.25" />
<line x1="1601.6" y1="1859.9" x2="1599.2" y2="1873.7" stroke="#27272a" stroke-width="1.25" />
</g>
<path d="M1547.6 1905.7 C1549.8 1904.7 1553.2 1902.8 1556.5 1902.3 C1559.8 1901.9 1563.9 1902.4 1567.6 1903.1 C1571.3 1903.9 1574.9 1906.1 1578.6 1906.8 C1582.3 1907.5 1585.3 1906.1 1589.7 1907.3 C1594.2 1908.5 1600.6 1911 1605.2 1914 C1609.8 1916.9 1614.3 1921 1617.4 1925.1 C1620.6 1929.1 1622.9 1933.9 1624.1 1938.4 C1625.3 1942.8 1625.5 1947.4 1624.6 1951.7 C1623.7 1955.9 1621.4 1960.1 1618.5 1963.8 C1615.7 1967.5 1611.9 1971 1607.4 1973.8 C1603 1976.6 1597.5 1978.9 1591.9 1980.5 C1586.4 1982 1580.1 1983.1 1574.2 1983.2 C1568.3 1983.3 1562 1982.6 1556.5 1981 C1550.9 1979.4 1545.6 1976.9 1541 1973.8 C1536.4 1970.8 1531.8 1966.8 1528.8 1962.7 C1525.7 1958.7 1523.6 1953.9 1522.7 1949.4 C1521.8 1945 1522 1940.4 1523.2 1936.1 C1524.4 1931.9 1527.1 1927.5 1529.9 1924 C1532.7 1920.4 1537.6 1917.7 1539.9 1915.1 C1542.1 1912.5 1541.9 1910 1543.2 1908.4 C1544.5 1906.9 1545.4 1906.7 1547.6 1905.7Z" fill="#fff" stroke="#27272a" stroke-width="1.85" stroke-linejoin="round" stroke-linecap="round" />
<path d="M1547.6 1900.5 C1549.8 1899.5 1553.2 1897.6 1556.5 1897.1 C1559.8 1896.7 1563.9 1897.2 1567.6 1897.9 C1571.3 1898.7 1574.9 1900.9 1578.6 1901.6 C1582.3 1902.3 1585.3 1900.9 1589.7 1902.1 C1594.2 1903.3 1600.6 1905.8 1605.2 1908.8 C1609.8 1911.7 1614.3 1915.8 1617.4 1919.9 C1620.6 1923.9 1622.9 1928.7 1624.1 1933.2 C1625.3 1937.6 1625.5 1942.2 1624.6 1946.5 C1623.7 1950.7 1621.4 1954.9 1618.5 1958.6 C1615.7 1962.3 1611.9 1965.8 1607.4 1968.6 C1603 1971.4 1597.5 1973.7 1591.9 1975.3 C1586.4 1976.8 1580.1 1977.9 1574.2 1978 C1568.3 1978.1 1562 1977.4 1556.5 1975.8 C1550.9 1974.2 1545.6 1971.7 1541 1968.6 C1536.4 1965.6 1531.8 1961.6 1528.8 1957.5 C1525.7 1953.5 1523.6 1948.7 1522.7 1944.2 C1521.8 1939.8 1522 1935.2 1523.2 1930.9 C1524.4 1926.7 1527.1 1922.3 1529.9 1918.8 C1532.7 1915.2 1537.6 1912.5 1539.9 1909.9 C1542.1 1907.3 1541.9 1904.8 1543.2 1903.2 C1544.5 1901.7 1545.4 1901.5 1547.6 1900.5Z" fill="#fff" stroke="#27272a" stroke-width="2.11" stroke-linejoin="round" stroke-linecap="round" />
<path d="M1545.4 1922.1 C1547.2 1920.1 1554.1 1918.7 1558.7 1917.1 C1563.3 1915.5 1569.4 1913.2 1573.1 1912.7 C1576.8 1912.1 1579.4 1912.9 1580.9 1913.8 C1582.3 1914.6 1582.5 1916.1 1582 1917.6 C1581.4 1919.2 1576.6 1921.5 1577.5 1923.2 C1578.5 1924.8 1583.9 1926 1587.5 1927.6 C1591.1 1929.3 1596.7 1930.9 1599.1 1933.2 C1601.5 1935.4 1602.4 1937.4 1601.9 1940.9 C1601.4 1944.4 1599 1950.7 1596.4 1954.2 C1593.8 1957.7 1590.1 1960.3 1586.4 1962 C1582.7 1963.6 1577.5 1964.1 1574.2 1964.2 C1570.9 1964.3 1568.7 1964.2 1566.5 1962.5 C1564.2 1960.9 1562.1 1957.6 1560.9 1954.2 C1559.7 1950.8 1559.7 1945.3 1559.2 1942 C1558.8 1938.7 1558.8 1936.2 1558.1 1934.3 C1557.5 1932.3 1557 1931.3 1555.4 1930.4 C1553.7 1929.5 1549.8 1930.1 1548.2 1928.7 C1546.5 1927.3 1543.6 1924 1545.4 1922.1Z" fill="#fff" stroke="#27272a" stroke-width="2.11" stroke-linejoin="round" stroke-linecap="round" />
<path d="M1578.6 1925.4 C1578.5 1926.7 1576.1 1931.1 1577.5 1933.2 C1579 1935.2 1584.4 1936.3 1587.5 1937.6 C1590.6 1938.9 1594.3 1940 1596.4 1940.9 C1598.4 1941.8 1599.1 1942.8 1599.7 1943.1" fill="none" stroke="#27272a" stroke-width="1.72" stroke-linejoin="round" stroke-linecap="round" />
<path d="M1556.5 1936.5 C1556.7 1937.2 1557.8 1939.8 1557.8 1940.9 C1557.8 1942 1556.7 1942.8 1556.5 1943.1" fill="none" stroke="#27272a" stroke-width="1.45" stroke-linejoin="round" stroke-linecap="round" />
<path d="M1562 1958.6 C1562.4 1960.5 1563.8 1965.8 1564 1969.7 C1564.2 1973.6 1563.3 1979.9 1563.1 1981.9" fill="none" stroke="#27272a" stroke-width="1.98" stroke-linejoin="round" stroke-linecap="round" />
<path d="M1566.5 1963.1 C1566.7 1964.3 1568.1 1967.2 1568.1 1970.3 C1568.1 1973.3 1566.7 1979.5 1566.5 1981.4" fill="none" stroke="#27272a" stroke-width="1.98" stroke-linejoin="round" stroke-linecap="round" />
<path d="M1595.3 1954.2 C1596.6 1955.5 1600.2 1959.6 1603 1962 C1605.8 1964.4 1610.4 1967.5 1611.9 1968.6" fill="none" stroke="#27272a" stroke-width="1.98" stroke-linejoin="round" stroke-linecap="round" />
<path d="M1598 1952.5 C1599.4 1953.7 1603.9 1957.1 1606.3 1959.2 C1608.7 1961.3 1611.4 1964.3 1612.4 1965.3" fill="none" stroke="#27272a" stroke-width="1.98" stroke-linejoin="round" stroke-linecap="round" />
<ellipse cx="1599.1" cy="1921" rx="13" ry="10.1" fill="#fff" stroke="#27272a" stroke-width="1.58" />
<ellipse cx="1599.1" cy="1922" rx="8.8" ry="6.9" fill="none" stroke="#27272a" stroke-width="1.43" />
<ellipse cx="1599.1" cy="1923.6" rx="5.2" ry="4.1" fill="none" stroke="#27272a" stroke-width="1.43" />
<ellipse cx="1547.6" cy="1955.9" rx="13" ry="10.1" fill="#fff" stroke="#27272a" stroke-width="1.58" />
<ellipse cx="1547.6" cy="1956.9" rx="8.8" ry="6.9" fill="none" stroke="#27272a" stroke-width="1.43" />
<ellipse cx="1547.6" cy="1958.5" rx="5.2" ry="4.1" fill="none" stroke="#27272a" stroke-width="1.43" />
<ellipse cx="1555.4" cy="1906" rx="8.4" ry="5.6" fill="#fff" stroke="#27272a" stroke-width="2.11" />
<ellipse cx="1555.4" cy="1906" rx="5" ry="3.2" fill="none" stroke="#27272a" stroke-width="1.58" />
<ellipse cx="1555.4" cy="1906" rx="2" ry="1.3" fill="none" stroke="#27272a" stroke-width="1.32" />
<ellipse cx="1532.7" cy="1932" rx="5.6" ry="4.4" fill="none" stroke="#27272a" stroke-width="2.11" />
<ellipse cx="1613.5" cy="1944.2" rx="5.6" ry="4.4" fill="none" stroke="#27272a" stroke-width="2.11" transform="rotate(-20 1613.5 1944.2)" />
<line x1="1548" y1="1861" x2="1547.6" y2="1954" stroke="#27272a" stroke-width="1.1" />
<line x1="1599.9" y1="1884" x2="1599.7" y2="1920" stroke="#27272a" stroke-width="1.1" />
<line x1="1574.2" y1="1822" x2="1573.7" y2="1926" stroke="#27272a" stroke-width="1.1" />
<line x1="1555.6" y1="1880" x2="1555.3" y2="1935" stroke="#27272a" stroke-width="1.1" />
<path d="M1554.8 2038.4 C1552.9 2038.8 1547 2039.6 1543.2 2040.6 C1539.4 2041.6 1535.4 2043.4 1532.1 2044.5 C1528.8 2045.6 1524.7 2046.8 1523.2 2047.3" fill="none" stroke="#27272a" stroke-width="7.13" stroke-linejoin="round" stroke-linecap="round" />
<path d="M1554.8 2038.4 C1556.6 2037.9 1561.7 2035.9 1565.3 2035.1 C1568.9 2034.3 1573.5 2033.8 1576.4 2033.4 C1579.4 2033.1 1582 2033 1583.1 2032.9" fill="none" stroke="#27272a" stroke-width="7.13" stroke-linejoin="round" stroke-linecap="round" />
<path d="M1554.8 2038.4 C1555.5 2039.9 1557.1 2044.1 1558.7 2047.3 C1560.3 2050.4 1562.4 2054.3 1564.2 2057.3 C1566.1 2060.2 1568.9 2063.7 1569.8 2065" fill="none" stroke="#27272a" stroke-width="7.13" stroke-linejoin="round" stroke-linecap="round" />
<path d="M1554.8 2038.4 C1552.9 2038.8 1547 2039.6 1543.2 2040.6 C1539.4 2041.6 1535.4 2043.4 1532.1 2044.5 C1528.8 2045.6 1524.7 2046.8 1523.2 2047.3" fill="none" stroke="#fff" stroke-width="2.64" stroke-linejoin="round" stroke-linecap="round" />
<path d="M1554.8 2038.4 C1556.6 2037.9 1561.7 2035.9 1565.3 2035.1 C1568.9 2034.3 1573.5 2033.8 1576.4 2033.4 C1579.4 2033.1 1582 2033 1583.1 2032.9" fill="none" stroke="#fff" stroke-width="2.64" stroke-linejoin="round" stroke-linecap="round" />
<path d="M1554.8 2038.4 C1555.5 2039.9 1557.1 2044.1 1558.7 2047.3 C1560.3 2050.4 1562.4 2054.3 1564.2 2057.3 C1566.1 2060.2 1568.9 2063.7 1569.8 2065" fill="none" stroke="#fff" stroke-width="2.64" stroke-linejoin="round" stroke-linecap="round" />
<ellipse cx="1554.8" cy="2038.4" rx="2.6" ry="2.2" fill="#555" stroke="#27272a" stroke-width="1.32" />
<path d="M1523.2 2047.3 C1523.6 2046.4 1524.2 2043.8 1525.5 2041.7 C1526.7 2039.7 1530.1 2036.2 1531 2035.1" fill="none" stroke="#27272a" stroke-width="6.07" stroke-linejoin="round" stroke-linecap="round" />
<path d="M1523.2 2047.3 C1523.6 2046.4 1524.2 2043.8 1525.5 2041.7 C1526.7 2039.7 1530.1 2036.2 1531 2035.1" fill="none" stroke="#fff" stroke-width="2.64" stroke-linejoin="round" stroke-linecap="round" />
<path d="M1583.1 2032.9 C1582.3 2032.1 1580.5 2029.6 1578.6 2028.4 C1576.8 2027.3 1573.1 2026.6 1572 2026.2" fill="none" stroke="#27272a" stroke-width="6.07" stroke-linejoin="round" stroke-linecap="round" />
<path d="M1583.1 2032.9 C1582.3 2032.1 1580.5 2029.6 1578.6 2028.4 C1576.8 2027.3 1573.1 2026.6 1572 2026.2" fill="none" stroke="#fff" stroke-width="2.64" stroke-linejoin="round" stroke-linecap="round" />
<polyline points="1563.1,2061.7 1565.9,2069.4" fill="none" stroke="#27272a" stroke-width="2.11" stroke-linejoin="round" stroke-linecap="round" />
<polyline points="1566.5,2061.7 1569.2,2069.4" fill="none" stroke="#27272a" stroke-width="2.11" stroke-linejoin="round" stroke-linecap="round" />
<polyline points="1569.8,2061.7 1572.5,2069.4" fill="none" stroke="#27272a" stroke-width="2.11" stroke-linejoin="round" stroke-linecap="round" />
<path d="M0 0 Q16.9 -2.8 35 -9.3 A9.7 9.7 0 1 1 35 9.3 Q16.9 2.8 0 0Z" transform="translate(1570.3 2023.5) rotate(-139.7)" fill="#2fa06a" stroke="none" stroke-width="1.4"/>
<polygon points="1357,1994.7 1364.7,1985.5 1368.4,1989.6 1374.3,1992.9 1384.7,1997.7 1389.1,2002.1 1389.9,2007.3 1386.9,2018.4 1384.7,2022.8 1377.3,2024.7 1373.2,2021.3 1372.9,2016.2 1374.3,2013.2 1369.9,2007.3 1368.4,2001.4 1366.2,1998.4 1361.8,1998.4 1357.3,1997" fill="#fff" stroke="#27272a" stroke-width="1.98" stroke-linejoin="round" stroke-linecap="round" />
<polyline points="1364.7,1985.5 1359.6,1992.5 1365.5,1993.3 1368.4,1989.6" fill="none" stroke="#27272a" stroke-width="1.32" stroke-linejoin="round" stroke-linecap="round" />
<polyline points="1357.3,1997 1359.6,1992.5" fill="none" stroke="#27272a" stroke-width="1.32" stroke-linejoin="round" stroke-linecap="round" />
<polyline points="1374.3,2021.3 1381.7,2019.9 1386.9,2018.4" fill="none" stroke="#27272a" stroke-width="1.32" stroke-linejoin="round" stroke-linecap="round" />
<polyline points="1381.7,2019.9 1386.9,2005.1 1384.7,1997.7" fill="none" stroke="#27272a" stroke-width="1.19" stroke-linejoin="round" stroke-linecap="round" />
<ellipse cx="1379.1" cy="2002.5" rx="3.6" ry="3.3" fill="#3a3a3c" stroke="#27272a" stroke-width="1.32" />
<line x1="1360.5" y1="2092.3" x2="1337" y2="2192.5" stroke="#2c2c2e" stroke-width="2.8" />
<g>
<path d="M1367 2162.4 L1367 2168.3 Q1367 2169.6 1368.9 2169.6 L1368.9 2172.6 Q1368.9 2173.7 1371.3 2174.1 L1373.7 2172.6 Q1373.7 2173.7 1373.7 2172.6 L1373.7 2169.6 Q1375.6 2169.6 1375.6 2168.3 L1375.6 2162.4" fill="#fff" stroke="#27272a" stroke-width="1.65" stroke-linejoin="round" stroke-linecap="round" />
<line x1="1368.9" y1="2169.6" x2="1373.7" y2="2169.6" stroke="#27272a" stroke-width="1.0" />
<path d="M1361.5 2156.2 L1361.5 2158.7 A9.8 6.8 0 0 0 1381 2158.7 L1381 2156.2" fill="#fff" stroke="#27272a" stroke-width="1.98" stroke-linejoin="round" stroke-linecap="round" />
<ellipse cx="1371.3" cy="2156.2" rx="9.8" ry="6.8" fill="#fff" stroke="#27272a" stroke-width="1.98" />
<line x1="1371.2" y1="2149.5" x2="1368.5" y2="2164.8" stroke="#27272a" stroke-width="1.25" />
<line x1="1373.1" y1="2149.5" x2="1370.4" y2="2164.8" stroke="#27272a" stroke-width="1.25" />
</g>
<g>
<path d="M1113.9 1894.2 L1113.9 1902.7 Q1113.9 1905 1117 1905 L1117 1909.8 Q1117 1911.8 1121.1 1912.4 L1125.2 1909.8 Q1125.2 1911.8 1125.2 1909.8 L1125.2 1905 Q1128.2 1905 1128.2 1902.7 L1128.2 1894.2" fill="#fff" stroke="#27272a" stroke-width="1.65" stroke-linejoin="round" stroke-linecap="round" />
<line x1="1117" y1="1905" x2="1125.2" y2="1905" stroke="#27272a" stroke-width="1.0" />
<path d="M1104.8 1882.5 L1104.8 1886.7 A16.2 11.4 0 0 0 1137.3 1886.7 L1137.3 1882.5" fill="#fff" stroke="#27272a" stroke-width="1.98" stroke-linejoin="round" stroke-linecap="round" />
<ellipse cx="1121.1" cy="1882.5" rx="16.2" ry="11.4" fill="#fff" stroke="#27272a" stroke-width="1.98" />
<line x1="1120.9" y1="1871.4" x2="1116.4" y2="1896.9" stroke="#27272a" stroke-width="1.25" />
<line x1="1124.2" y1="1871.4" x2="1119.6" y2="1896.9" stroke="#27272a" stroke-width="1.25" />
</g>
<g>
<path d="M538.9 2153.3 L538.9 2161.5 Q538.9 2163.7 541.8 2163.7 L541.8 2168.4 Q541.8 2170.2 545.7 2170.8 L549.6 2168.4 Q549.6 2170.2 549.6 2168.4 L549.6 2163.7 Q552.5 2163.7 552.5 2161.5 L552.5 2153.3" fill="#fff" stroke="#27272a" stroke-width="1.65" stroke-linejoin="round" stroke-linecap="round" />
<line x1="541.8" y1="2163.7" x2="549.6" y2="2163.7" stroke="#27272a" stroke-width="1.0" />
<path d="M530.2 2142.3 L530.2 2146.3 A15.5 10.8 0 0 0 561.2 2146.3 L561.2 2142.3" fill="#fff" stroke="#27272a" stroke-width="1.98" stroke-linejoin="round" stroke-linecap="round" />
<ellipse cx="545.7" cy="2142.3" rx="15.5" ry="10.8" fill="#fff" stroke="#27272a" stroke-width="1.98" />
<line x1="545.5" y1="2131.6" x2="541.2" y2="2156" stroke="#27272a" stroke-width="1.25" />
<line x1="548.6" y1="2131.6" x2="544.3" y2="2156" stroke="#27272a" stroke-width="1.25" />
</g>
<path d="M261.6 1986.4 C261.1 1988 260 1993.3 260.7 1995.9 C261.4 1998.4 262.7 2000.3 265.9 2001.9 C269 2003.5 276.1 2003.8 279.7 2005.3 C283.2 2006.9 285.8 2008.9 287.4 2011.4 C289 2013.8 289.9 2016.8 289.1 2020 C288.4 2023.2 285.5 2027.2 283.1 2030.3 C280.7 2033.5 276.3 2036.4 274.5 2039 C272.6 2041.5 271.8 2043.8 271.9 2045.9 C272 2047.9 273.5 2049.7 275.3 2051 C277.2 2052.3 279.8 2053 283.1 2053.6 C286.4 2054.2 289.7 2051.5 295.2 2054.5 C300.6 2057.5 309 2066 315.9 2071.7 C322.8 2077.5 331.9 2084.6 336.5 2089 C341.1 2093.3 341.6 2094.7 343.4 2097.6 C345.3 2100.4 345.5 2103.3 347.8 2106.2 C350 2109.1 353.4 2112.4 357.2 2114.8 C361.1 2117.3 365.6 2119.3 371 2120.8 C376.5 2122.4 383.7 2124 390 2124.3 C396.3 2124.6 404.1 2123.6 409 2122.6 C413.8 2121.6 414.4 2120.6 419.3 2118.3 C424.2 2116 431.1 2112.6 438.3 2108.8 C445.4 2105 454.5 2100 462.4 2095.5 C470.3 2091 481.5 2085 485.7 2081.7 C489.8 2078.5 487.4 2077.1 487.2 2076 C487.1 2075 485.4 2074.9 484.8 2075.5 C484.2 2076.1 487.6 2076.6 483.6 2079.5 C479.6 2082.3 468.2 2088.6 460.7 2092.7 C453.1 2096.9 444.6 2101.8 438.3 2104.5 C431.9 2107.1 427.3 2108 422.7 2108.8 C418.1 2109.6 415.3 2110 410.7 2109.3 C406.1 2108.6 399.2 2104.8 395.2 2104.5 C391.1 2104.2 390 2107.5 386.5 2107.4 C383.1 2107.3 378.2 2105.5 374.5 2104 C370.7 2102.4 366.7 2100.1 364.1 2097.9 C361.5 2095.8 361.3 2093.9 359 2091 C356.7 2088.2 355.2 2085.3 350.3 2080.7 C345.5 2076.1 336.5 2069.2 329.6 2063.4 C322.8 2057.7 314.4 2050.8 309 2046.2 C303.5 2041.6 298.3 2039.1 296.9 2035.9 C295.5 2032.6 299.6 2030.1 300.3 2026.9 C301.1 2023.7 301.8 2020 301.2 2016.5 C300.6 2013.1 299 2008.9 296.9 2006.2 C294.7 2003.5 292 2001.8 288.3 2000.2 C284.5 1998.6 277.9 1998 274.5 1996.7 C271 1995.4 269.5 1994.1 267.6 1992.4 C265.7 1990.7 264.3 1987.4 263.3 1986.4 C262.3 1985.4 262 1984.8 261.6 1986.4Z" fill="#fff" stroke="#27272a" stroke-width="1.91" stroke-linejoin="round" stroke-linecap="round" />
<path d="M283.1 2054.8 C285.4 2055.1 291.4 2053.1 296.9 2056.2 C302.4 2059.3 309.4 2067.7 315.9 2073.4 C322.3 2079.2 331.2 2086.4 335.7 2090.7 C340.1 2094.9 340.7 2096.1 342.6 2099 C344.4 2101.8 344.6 2104.7 346.9 2107.6 C349.2 2110.4 352.6 2113.7 356.5 2116.2 C360.5 2118.7 365.1 2120.8 370.7 2122.4 C376.3 2124 383.6 2125.4 390 2125.7 C396.4 2125.9 404.3 2125 409.3 2124 C414.3 2122.9 415.3 2121.9 420.2 2119.6 C425 2117.4 435.2 2111.9 438.3 2110.3" fill="none" stroke="#27272a" stroke-width="1.32" stroke-linejoin="round" stroke-linecap="round" />
<ellipse cx="281.4" cy="2043.3" rx="3.8" ry="2.8" fill="none" stroke="#27272a" stroke-width="1.72" />
<polygon points="328.8,2037.8 331.7,2036.5 394.6,2104.1 392.7,2106.5" fill="#fff" stroke="#27272a" stroke-width="1.72" stroke-linejoin="round" stroke-linecap="round" />
<line x1="273.3" y1="1975" x2="272.6" y2="2116" stroke="#27272a" stroke-width="1.1" />
<line x1="283" y1="1975" x2="282.4" y2="2095.7" stroke="#27272a" stroke-width="1.1" />
<text x="1105" y="310.3" font-size="44" fill="#38383b" text-anchor="middle" font-weight="bold" textLength="94" lengthAdjust="spacingAndGlyphs">3120</text>
<path d="M0 0 Q19.4 -3.1 40.5 -10.5 A10.8 10.8 0 1 1 40.5 10.5 Q19.4 3.1 0 0Z" transform="translate(1366 441) rotate(0)" fill="#2a62a8" stroke="none" stroke-width="1.4"/>
<text x="1444.5" y="452.6" font-size="34.3" fill="#2b5c9b" text-anchor="start" font-weight="normal" >316L</text>
<path d="M0 0 Q19.4 -3.1 40.5 -10.5 A10.8 10.8 0 1 1 40.5 10.5 Q19.4 3.1 0 0Z" transform="translate(1366 502.3) rotate(0)" fill="#3aa3c9" stroke="none" stroke-width="1.4"/>
<text x="1444.5" y="513.9" font-size="34.3" fill="#3a9cc0" text-anchor="start" font-weight="normal" textLength="135.5" lengthAdjust="spacing">HP 1300</text>
<path d="M0 0 Q19.4 -3.1 40.5 -10.5 A10.8 10.8 0 1 1 40.5 10.5 Q19.4 3.1 0 0Z" transform="translate(1366 565.2) rotate(0)" fill="#de2f45" stroke="none" stroke-width="1.4"/>
<text x="1444.5" y="576.8" font-size="34.3" fill="#cf2540" text-anchor="start" font-weight="normal" >9010</text>
<path d="M0 0 Q19.4 -3.1 40.5 -10.5 A10.8 10.8 0 1 1 40.5 10.5 Q19.4 3.1 0 0Z" transform="translate(1366 627.6) rotate(0)" fill="#2fa164" stroke="none" stroke-width="1.4"/>
<text x="1444.5" y="639.2" font-size="34.3" fill="#2f9a5c" text-anchor="start" font-weight="normal" >9415</text>
<path d="M0 0 Q19.4 -3.1 40.5 -10.5 A10.8 10.8 0 1 1 40.5 10.5 Q19.4 3.1 0 0Z" transform="translate(1366 691.3) rotate(0)" fill="#2f7650" stroke="#38403a" stroke-width="1.4"/>
<text x="1444.5" y="702.9" font-size="34.3" fill="#3a3a3d" text-anchor="start" font-weight="normal" >PML</text>
<path d="M0 0 Q19.4 -3.1 40.5 -10.5 A10.8 10.8 0 1 1 40.5 10.5 Q19.4 3.1 0 0Z" transform="translate(1366 753) rotate(0)" fill="none" stroke="#dc7440" stroke-width="1.4"/>
<text x="1444.5" y="764.6" font-size="34.3" fill="#d8703d" text-anchor="start" font-weight="normal" textLength="201" lengthAdjust="spacing">0.2 ‰ / 8200</text>
<path d="M0 0 Q19.4 -3.1 40.5 -10.5 A10.8 10.8 0 1 1 40.5 10.5 Q19.4 3.1 0 0Z" transform="translate(1366 816.6) rotate(0)" fill="#3d4245" stroke="none" stroke-width="1.4"/>
<text x="1444.5" y="828.2" font-size="34.3" fill="#333336" text-anchor="start" font-weight="normal" >8302</text>
<text x="365.4" y="555.4" font-size="25" fill="#c9223f" text-anchor="middle" font-weight="normal">85</text>
<text x="309.5" y="598.8" font-size="25" fill="#c9223f" text-anchor="middle" font-weight="normal">85</text>
<text x="406" y="665.5" font-size="25" fill="#c9223f" text-anchor="middle" font-weight="normal">21</text>
<text x="415.5" y="780" font-size="25" fill="#c9223f" text-anchor="middle" font-weight="normal">20</text>
<text x="229" y="799.6" font-size="25" fill="#c9223f" text-anchor="middle" font-weight="normal">86</text>
<text x="514.4" y="816.5" font-size="25" fill="#c9223f" text-anchor="middle" font-weight="normal">81</text>
<text x="210.3" y="878.2" font-size="25" fill="#c9223f" text-anchor="middle" font-weight="normal">27</text>
<text x="357" y="905.7" font-size="25" fill="#c9223f" text-anchor="middle" font-weight="normal">81</text>
<text x="216.4" y="937.6" font-size="25" fill="#c9223f" text-anchor="middle" font-weight="normal">28</text>
<text x="184.2" y="1024" font-size="25" fill="#c9223f" text-anchor="middle" font-weight="normal">81</text>
<text x="562.8" y="996.2" font-size="25" fill="#c9223f" text-anchor="middle" font-weight="normal">23</text>
<text x="430.8" y="1105.2" font-size="25" fill="#c9223f" text-anchor="middle" font-weight="normal">25</text>
<text x="253.6" y="1195" font-size="25" fill="#c9223f" text-anchor="middle" font-weight="normal">2</text>
<text x="513.7" y="1214.5" font-size="25" fill="#c9223f" text-anchor="middle" font-weight="normal">22</text>
<text x="774" y="548" font-size="25" fill="#c9223f" text-anchor="middle" font-weight="normal">89</text>
<text x="848" y="547" font-size="25" fill="#c9223f" text-anchor="middle" font-weight="normal">89</text>
<text x="977.3" y="663" font-size="25" fill="#c9223f" text-anchor="middle" font-weight="normal">49</text>
<text x="1076.5" y="776.6" font-size="25" fill="#c9223f" text-anchor="middle" font-weight="normal">91</text>
<text x="1109.6" y="861" font-size="25" fill="#c9223f" text-anchor="middle" font-weight="normal">51</text>
<text x="891.3" y="890" font-size="25" fill="#c9223f" text-anchor="middle" font-weight="normal">81</text>
<text x="735.4" y="939.6" font-size="25" fill="#c9223f" text-anchor="middle" font-weight="normal">81</text>
<text x="638.6" y="1019.5" font-size="25" fill="#c9223f" text-anchor="middle" font-weight="normal">81</text>
<text x="621.6" y="1170" font-size="25" fill="#c9223f" text-anchor="middle" font-weight="normal">4</text>
<text x="1002" y="1161.5" font-size="25" fill="#c9223f" text-anchor="middle" font-weight="normal">50</text>
<text x="1282.8" y="922.7" font-size="25" fill="#c9223f" text-anchor="middle" font-weight="normal">7</text>
<text x="1179.8" y="809.6" font-size="25" fill="#c9223f" text-anchor="middle" font-weight="normal">81</text>
<text x="1422.7" y="943.7" font-size="25" fill="#c9223f" text-anchor="middle" font-weight="normal">81</text>
<text x="1279.4" y="1186.9" font-size="25" fill="#c9223f" text-anchor="middle" font-weight="normal">55</text>
<text x="896.4" y="1261.8" font-size="25" fill="#c9223f" text-anchor="middle" font-weight="normal">18</text>
<text x="832.7" y="1411.9" font-size="25" fill="#c9223f" text-anchor="middle" font-weight="normal">15</text>
<text x="895.3" y="1529.4" font-size="25" fill="#c9223f" text-anchor="middle" font-weight="normal">16</text>
<text x="537.5" y="1380" font-size="25" fill="#c9223f" text-anchor="middle" font-weight="normal">9</text>
<text x="1315" y="1323.7" font-size="25" fill="#c9223f" text-anchor="middle" font-weight="normal">54</text>
<text x="1345.5" y="1477.8" font-size="25" fill="#c9223f" text-anchor="middle" font-weight="normal">53</text>
<text x="1303.1" y="1602" font-size="25" fill="#c9223f" text-anchor="middle" font-weight="normal">52</text>
<text x="1679.7" y="1233.2" font-size="25" fill="#c9223f" text-anchor="middle" font-weight="normal">81</text>
<text x="1605" y="1264.5" font-size="25" fill="#c9223f" text-anchor="middle" font-weight="normal">87</text>
<text x="1548" y="1309" font-size="25" fill="#c9223f" text-anchor="middle" font-weight="normal">87</text>
<text x="1572.5" y="1488" font-size="25" fill="#c9223f" text-anchor="middle" font-weight="normal">87</text>
<text x="1633" y="1478" font-size="25" fill="#c9223f" text-anchor="middle" font-weight="normal">87</text>
<text x="1498.5" y="1365.2" font-size="25" fill="#c9223f" text-anchor="middle" font-weight="normal">81</text>
<text x="1457.8" y="1545.2" font-size="25" fill="#c9223f" text-anchor="middle" font-weight="normal">6</text>
<text x="1645.4" y="1547.9" font-size="25" fill="#c9223f" text-anchor="middle" font-weight="normal">48</text>
<text x="1637" y="1658" font-size="25" fill="#c9223f" text-anchor="middle" font-weight="normal">47</text>
<text x="1658.9" y="1725.4" font-size="25" fill="#c9223f" text-anchor="middle" font-weight="normal">43</text>
<text x="1515.3" y="1854.2" font-size="25" fill="#c9223f" text-anchor="middle" font-weight="normal">84</text>
<text x="1631.3" y="1879" font-size="25" fill="#c9223f" text-anchor="middle" font-weight="normal">84</text>
<text x="1645.3" y="1971.2" font-size="25" fill="#c9223f" text-anchor="middle" font-weight="normal">5</text>
<text x="1607.6" y="2063.6" font-size="25" fill="#c9223f" text-anchor="middle" font-weight="normal">42</text>
<text x="1412.6" y="2036.8" font-size="25" fill="#c9223f" text-anchor="middle" font-weight="normal">56</text>
<text x="1306" y="2194.8" font-size="25" fill="#c9223f" text-anchor="middle" font-weight="normal">57</text>
<text x="1410.3" y="2168.4" font-size="25" fill="#c9223f" text-anchor="middle" font-weight="normal">86</text>
<text x="867.6" y="1641.8" font-size="25" fill="#c9223f" text-anchor="middle" font-weight="normal">90</text>
<text x="722.6" y="1662" font-size="25" fill="#c9223f" text-anchor="middle" font-weight="normal">88</text>
<text x="693" y="1764.8" font-size="25" fill="#c9223f" text-anchor="middle" font-weight="normal">3</text>
<text x="705" y="1839.2" font-size="25" fill="#c9223f" text-anchor="middle" font-weight="normal">14</text>
<text x="844.5" y="1903.5" font-size="25" fill="#c9223f" text-anchor="middle" font-weight="normal">17</text>
<text x="1122" y="1856" font-size="25" fill="#c9223f" text-anchor="middle" font-weight="normal">93</text>
<text x="917.4" y="2013.7" font-size="25" fill="#c9223f" text-anchor="middle" font-weight="normal">19</text>
<text x="423.7" y="2092.4" font-size="25" fill="#c9223f" text-anchor="middle" font-weight="normal">41</text>
<text x="503.2" y="2157.5" font-size="25" fill="#c9223f" text-anchor="middle" font-weight="normal">93</text>
<text x="1012.9" y="2421.9" font-size="25" fill="#c9223f" text-anchor="middle" font-weight="normal">1</text>
<text x="516" y="1066.8" font-size="20.1" fill="#2b5c9b" text-anchor="start" font-weight="normal" >ratchet wheel</text>
<text x="516" y="1090.5" font-size="20.1" fill="#2b5c9b" text-anchor="start" font-weight="normal" >support (under)</text>
<text x="327.5" y="1519" font-size="19.9" fill="#3a9cc0" text-anchor="start" font-weight="normal" >pivotement</text>
<text x="327.5" y="1542.5" font-size="19.9" fill="#3a9cc0" text-anchor="start" font-weight="normal" >(under)</text>
<text x="1056.8" y="1665" font-size="19.7" fill="#cf2540" text-anchor="start" font-weight="normal" >reverser interm.</text>
<text x="1056.8" y="1689.3" font-size="19.7" fill="#cf2540" text-anchor="start" font-weight="normal" >wheels pivot.</text>
<g style="mix-blend-mode:multiply">
<defs><g id="pin">
<path d="M-22.8 19.5 A30 30 0 1 1 22.8 19.5 A24 24 0 1 0 -22.8 19.5Z" fill="#fae0e0"/>
<path d="M-8.6 12 A9.4 9.4 0 1 1 9.6 13.5 Q8.6 30 6.6 47 Q-1 36 -11 27.5 Q-6.5 25.5 -4.5 21 Q-8 17.5 -8.6 12Z" fill="#fae0e0"/>
</g></defs>
<g font-weight="bold" font-size="43" fill="#e8e8e8">
<use href="#pin" x="-228.9" y="124.5"/>
<g transform="translate(-228.9 124.5) rotate(-43.8)"><text x="-186.7" y="26.2" textLength="139" lengthAdjust="spacingAndGlyphs">WATCH</text><text x="44.3" y="26.2" textLength="132" lengthAdjust="spacingAndGlyphs">PARTS</text></g>
<use href="#pin" x="118.1" y="-208.5"/>
<g transform="translate(118.1 -208.5) rotate(-43.8)"><text x="-186.7" y="26.2" textLength="139" lengthAdjust="spacingAndGlyphs">WATCH</text><text x="44.3" y="26.2" textLength="132" lengthAdjust="spacingAndGlyphs">PARTS</text></g>
<use href="#pin" x="-95.5" y="262.6"/>
<g transform="translate(-95.5 262.6) rotate(-43.8)"><text x="-186.7" y="26.2" textLength="139" lengthAdjust="spacingAndGlyphs">WATCH</text><text x="44.3" y="26.2" textLength="132" lengthAdjust="spacingAndGlyphs">PARTS</text></g>
<use href="#pin" x="251.5" y="-70.4"/>
<g transform="translate(251.5 -70.4) rotate(-43.8)"><text x="-186.7" y="26.2" textLength="139" lengthAdjust="spacingAndGlyphs">WATCH</text><text x="44.3" y="26.2" textLength="132" lengthAdjust="spacingAndGlyphs">PARTS</text></g>
<use href="#pin" x="-309.1" y="733.7"/>
<g transform="translate(-309.1 733.7) rotate(-43.8)"><text x="-186.7" y="26.2" textLength="139" lengthAdjust="spacingAndGlyphs">WATCH</text><text x="44.3" y="26.2" textLength="132" lengthAdjust="spacingAndGlyphs">PARTS</text></g>
<use href="#pin" x="37.9" y="400.7"/>
<g transform="translate(37.9 400.7) rotate(-43.8)"><text x="-186.7" y="26.2" textLength="139" lengthAdjust="spacingAndGlyphs">WATCH</text><text x="44.3" y="26.2" textLength="132" lengthAdjust="spacingAndGlyphs">PARTS</text></g>
<use href="#pin" x="384.9" y="67.7"/>
<g transform="translate(384.9 67.7) rotate(-43.8)"><text x="-186.7" y="26.2" textLength="139" lengthAdjust="spacingAndGlyphs">WATCH</text><text x="44.3" y="26.2" textLength="132" lengthAdjust="spacingAndGlyphs">PARTS</text></g>
<use href="#pin" x="731.9" y="-265.3"/>
<g transform="translate(731.9 -265.3) rotate(-43.8)"><text x="-186.7" y="26.2" textLength="139" lengthAdjust="spacingAndGlyphs">WATCH</text><text x="44.3" y="26.2" textLength="132" lengthAdjust="spacingAndGlyphs">PARTS</text></g>
<use href="#pin" x="-175.7" y="871.8"/>
<g transform="translate(-175.7 871.8) rotate(-43.8)"><text x="-186.7" y="26.2" textLength="139" lengthAdjust="spacingAndGlyphs">WATCH</text><text x="44.3" y="26.2" textLength="132" lengthAdjust="spacingAndGlyphs">PARTS</text></g>
<use href="#pin" x="171.3" y="538.8"/>
<g transform="translate(171.3 538.8) rotate(-43.8)"><text x="-186.7" y="26.2" textLength="139" lengthAdjust="spacingAndGlyphs">WATCH</text><text x="44.3" y="26.2" textLength="132" lengthAdjust="spacingAndGlyphs">PARTS</text></g>
<use href="#pin" x="518.3" y="205.8"/>
<g transform="translate(518.3 205.8) rotate(-43.8)"><text x="-186.7" y="26.2" textLength="139" lengthAdjust="spacingAndGlyphs">WATCH</text><text x="44.3" y="26.2" textLength="132" lengthAdjust="spacingAndGlyphs">PARTS</text></g>
<use href="#pin" x="865.3" y="-127.2"/>
<g transform="translate(865.3 -127.2) rotate(-43.8)"><text x="-186.7" y="26.2" textLength="139" lengthAdjust="spacingAndGlyphs">WATCH</text><text x="44.3" y="26.2" textLength="132" lengthAdjust="spacingAndGlyphs">PARTS</text></g>
<use href="#pin" x="-42.3" y="1009.9"/>
<g transform="translate(-42.3 1009.9) rotate(-43.8)"><text x="-186.7" y="26.2" textLength="139" lengthAdjust="spacingAndGlyphs">WATCH</text><text x="44.3" y="26.2" textLength="132" lengthAdjust="spacingAndGlyphs">PARTS</text></g>
<use href="#pin" x="304.7" y="676.9"/>
<g transform="translate(304.7 676.9) rotate(-43.8)"><text x="-186.7" y="26.2" textLength="139" lengthAdjust="spacingAndGlyphs">WATCH</text><text x="44.3" y="26.2" textLength="132" lengthAdjust="spacingAndGlyphs">PARTS</text></g>
<use href="#pin" x="651.7" y="343.9"/>
<g transform="translate(651.7 343.9) rotate(-43.8)"><text x="-186.7" y="26.2" textLength="139" lengthAdjust="spacingAndGlyphs">WATCH</text><text x="44.3" y="26.2" textLength="132" lengthAdjust="spacingAndGlyphs">PARTS</text></g>
<use href="#pin" x="998.7" y="10.9"/>
<g transform="translate(998.7 10.9) rotate(-43.8)"><text x="-186.7" y="26.2" textLength="139" lengthAdjust="spacingAndGlyphs">WATCH</text><text x="44.3" y="26.2" textLength="132" lengthAdjust="spacingAndGlyphs">PARTS</text></g>
<use href="#pin" x="1345.7" y="-322.1"/>
<g transform="translate(1345.7 -322.1) rotate(-43.8)"><text x="-186.7" y="26.2" textLength="139" lengthAdjust="spacingAndGlyphs">WATCH</text><text x="44.3" y="26.2" textLength="132" lengthAdjust="spacingAndGlyphs">PARTS</text></g>
<use href="#pin" x="-255.9" y="1481"/>
<g transform="translate(-255.9 1481) rotate(-43.8)"><text x="-186.7" y="26.2" textLength="139" lengthAdjust="spacingAndGlyphs">WATCH</text><text x="44.3" y="26.2" textLength="132" lengthAdjust="spacingAndGlyphs">PARTS</text></g>
<use href="#pin" x="91.1" y="1148"/>
<g transform="translate(91.1 1148) rotate(-43.8)"><text x="-186.7" y="26.2" textLength="139" lengthAdjust="spacingAndGlyphs">WATCH</text><text x="44.3" y="26.2" textLength="132" lengthAdjust="spacingAndGlyphs">PARTS</text></g>
<use href="#pin" x="438.1" y="815"/>
<g transform="translate(438.1 815) rotate(-43.8)"><text x="-186.7" y="26.2" textLength="139" lengthAdjust="spacingAndGlyphs">WATCH</text><text x="44.3" y="26.2" textLength="132" lengthAdjust="spacingAndGlyphs">PARTS</text></g>
<use href="#pin" x="785.1" y="482"/>
<g transform="translate(785.1 482) rotate(-43.8)"><text x="-186.7" y="26.2" textLength="139" lengthAdjust="spacingAndGlyphs">WATCH</text><text x="44.3" y="26.2" textLength="132" lengthAdjust="spacingAndGlyphs">PARTS</text></g>
<use href="#pin" x="1132.1" y="149"/>
<g transform="translate(1132.1 149) rotate(-43.8)"><text x="-186.7" y="26.2" textLength="139" lengthAdjust="spacingAndGlyphs">WATCH</text><text x="44.3" y="26.2" textLength="132" lengthAdjust="spacingAndGlyphs">PARTS</text></g>
<use href="#pin" x="1479.1" y="-184"/>
<g transform="translate(1479.1 -184) rotate(-43.8)"><text x="-186.7" y="26.2" textLength="139" lengthAdjust="spacingAndGlyphs">WATCH</text><text x="44.3" y="26.2" textLength="132" lengthAdjust="spacingAndGlyphs">PARTS</text></g>
<use href="#pin" x="-122.5" y="1619.1"/>
<g transform="translate(-122.5 1619.1) rotate(-43.8)"><text x="-186.7" y="26.2" textLength="139" lengthAdjust="spacingAndGlyphs">WATCH</text><text x="44.3" y="26.2" textLength="132" lengthAdjust="spacingAndGlyphs">PARTS</text></g>
<use href="#pin" x="224.5" y="1286.1"/>
<g transform="translate(224.5 1286.1) rotate(-43.8)"><text x="-186.7" y="26.2" textLength="139" lengthAdjust="spacingAndGlyphs">WATCH</text><text x="44.3" y="26.2" textLength="132" lengthAdjust="spacingAndGlyphs">PARTS</text></g>
<use href="#pin" x="571.5" y="953.1"/>
<g transform="translate(571.5 953.1) rotate(-43.8)"><text x="-186.7" y="26.2" textLength="139" lengthAdjust="spacingAndGlyphs">WATCH</text><text x="44.3" y="26.2" textLength="132" lengthAdjust="spacingAndGlyphs">PARTS</text></g>
<use href="#pin" x="918.5" y="620.1"/>
<g transform="translate(918.5 620.1) rotate(-43.8)"><text x="-186.7" y="26.2" textLength="139" lengthAdjust="spacingAndGlyphs">WATCH</text><text x="44.3" y="26.2" textLength="132" lengthAdjust="spacingAndGlyphs">PARTS</text></g>
<use href="#pin" x="1265.5" y="287.1"/>
<g transform="translate(1265.5 287.1) rotate(-43.8)"><text x="-186.7" y="26.2" textLength="139" lengthAdjust="spacingAndGlyphs">WATCH</text><text x="44.3" y="26.2" textLength="132" lengthAdjust="spacingAndGlyphs">PARTS</text></g>
<use href="#pin" x="1612.5" y="-45.9"/>
<g transform="translate(1612.5 -45.9) rotate(-43.8)"><text x="-186.7" y="26.2" textLength="139" lengthAdjust="spacingAndGlyphs">WATCH</text><text x="44.3" y="26.2" textLength="132" lengthAdjust="spacingAndGlyphs">PARTS</text></g>
<use href="#pin" x="10.9" y="1757.2"/>
<g transform="translate(10.9 1757.2) rotate(-43.8)"><text x="-186.7" y="26.2" textLength="139" lengthAdjust="spacingAndGlyphs">WATCH</text><text x="44.3" y="26.2" textLength="132" lengthAdjust="spacingAndGlyphs">PARTS</text></g>
<use href="#pin" x="357.9" y="1424.2"/>
<g transform="translate(357.9 1424.2) rotate(-43.8)"><text x="-186.7" y="26.2" textLength="139" lengthAdjust="spacingAndGlyphs">WATCH</text><text x="44.3" y="26.2" textLength="132" lengthAdjust="spacingAndGlyphs">PARTS</text></g>
<use href="#pin" x="704.9" y="1091.2"/>
<g transform="translate(704.9 1091.2) rotate(-43.8)"><text x="-186.7" y="26.2" textLength="139" lengthAdjust="spacingAndGlyphs">WATCH</text><text x="44.3" y="26.2" textLength="132" lengthAdjust="spacingAndGlyphs">PARTS</text></g>
<use href="#pin" x="1051.9" y="758.2"/>
<g transform="translate(1051.9 758.2) rotate(-43.8)"><text x="-186.7" y="26.2" textLength="139" lengthAdjust="spacingAndGlyphs">WATCH</text><text x="44.3" y="26.2" textLength="132" lengthAdjust="spacingAndGlyphs">PARTS</text></g>
<use href="#pin" x="1398.9" y="425.2"/>
<g transform="translate(1398.9 425.2) rotate(-43.8)"><text x="-186.7" y="26.2" textLength="139" lengthAdjust="spacingAndGlyphs">WATCH</text><text x="44.3" y="26.2" textLength="132" lengthAdjust="spacingAndGlyphs">PARTS</text></g>
<use href="#pin" x="1745.9" y="92.2"/>
<g transform="translate(1745.9 92.2) rotate(-43.8)"><text x="-186.7" y="26.2" textLength="139" lengthAdjust="spacingAndGlyphs">WATCH</text><text x="44.3" y="26.2" textLength="132" lengthAdjust="spacingAndGlyphs">PARTS</text></g>
<use href="#pin" x="2092.9" y="-240.8"/>
<g transform="translate(2092.9 -240.8) rotate(-43.8)"><text x="-186.7" y="26.2" textLength="139" lengthAdjust="spacingAndGlyphs">WATCH</text><text x="44.3" y="26.2" textLength="132" lengthAdjust="spacingAndGlyphs">PARTS</text></g>
<use href="#pin" x="-202.7" y="2228.3"/>
<g transform="translate(-202.7 2228.3) rotate(-43.8)"><text x="-186.7" y="26.2" textLength="139" lengthAdjust="spacingAndGlyphs">WATCH</text><text x="44.3" y="26.2" textLength="132" lengthAdjust="spacingAndGlyphs">PARTS</text></g>
<use href="#pin" x="144.3" y="1895.3"/>
<g transform="translate(144.3 1895.3) rotate(-43.8)"><text x="-186.7" y="26.2" textLength="139" lengthAdjust="spacingAndGlyphs">WATCH</text><text x="44.3" y="26.2" textLength="132" lengthAdjust="spacingAndGlyphs">PARTS</text></g>
<use href="#pin" x="491.3" y="1562.3"/>
<g transform="translate(491.3 1562.3) rotate(-43.8)"><text x="-186.7" y="26.2" textLength="139" lengthAdjust="spacingAndGlyphs">WATCH</text><text x="44.3" y="26.2" textLength="132" lengthAdjust="spacingAndGlyphs">PARTS</text></g>
<use href="#pin" x="838.3" y="1229.3"/>
<g transform="translate(838.3 1229.3) rotate(-43.8)"><text x="-186.7" y="26.2" textLength="139" lengthAdjust="spacingAndGlyphs">WATCH</text><text x="44.3" y="26.2" textLength="132" lengthAdjust="spacingAndGlyphs">PARTS</text></g>
<use href="#pin" x="1185.3" y="896.3"/>
<g transform="translate(1185.3 896.3) rotate(-43.8)"><text x="-186.7" y="26.2" textLength="139" lengthAdjust="spacingAndGlyphs">WATCH</text><text x="44.3" y="26.2" textLength="132" lengthAdjust="spacingAndGlyphs">PARTS</text></g>
<use href="#pin" x="1532.3" y="563.3"/>
<g transform="translate(1532.3 563.3) rotate(-43.8)"><text x="-186.7" y="26.2" textLength="139" lengthAdjust="spacingAndGlyphs">WATCH</text><text x="44.3" y="26.2" textLength="132" lengthAdjust="spacingAndGlyphs">PARTS</text></g>
<use href="#pin" x="1879.3" y="230.3"/>
<g transform="translate(1879.3 230.3) rotate(-43.8)"><text x="-186.7" y="26.2" textLength="139" lengthAdjust="spacingAndGlyphs">WATCH</text><text x="44.3" y="26.2" textLength="132" lengthAdjust="spacingAndGlyphs">PARTS</text></g>
<use href="#pin" x="2226.3" y="-102.7"/>
<g transform="translate(2226.3 -102.7) rotate(-43.8)"><text x="-186.7" y="26.2" textLength="139" lengthAdjust="spacingAndGlyphs">WATCH</text><text x="44.3" y="26.2" textLength="132" lengthAdjust="spacingAndGlyphs">PARTS</text></g>
<use href="#pin" x="-69.3" y="2366.4"/>
<g transform="translate(-69.3 2366.4) rotate(-43.8)"><text x="-186.7" y="26.2" textLength="139" lengthAdjust="spacingAndGlyphs">WATCH</text><text x="44.3" y="26.2" textLength="132" lengthAdjust="spacingAndGlyphs">PARTS</text></g>
<use href="#pin" x="277.7" y="2033.4"/>
<g transform="translate(277.7 2033.4) rotate(-43.8)"><text x="-186.7" y="26.2" textLength="139" lengthAdjust="spacingAndGlyphs">WATCH</text><text x="44.3" y="26.2" textLength="132" lengthAdjust="spacingAndGlyphs">PARTS</text></g>
<use href="#pin" x="624.7" y="1700.4"/>
<g transform="translate(624.7 1700.4) rotate(-43.8)"><text x="-186.7" y="26.2" textLength="139" lengthAdjust="spacingAndGlyphs">WATCH</text><text x="44.3" y="26.2" textLength="132" lengthAdjust="spacingAndGlyphs">PARTS</text></g>
<use href="#pin" x="971.7" y="1367.4"/>
<g transform="translate(971.7 1367.4) rotate(-43.8)"><text x="-186.7" y="26.2" textLength="139" lengthAdjust="spacingAndGlyphs">WATCH</text><text x="44.3" y="26.2" textLength="132" lengthAdjust="spacingAndGlyphs">PARTS</text></g>
<use href="#pin" x="1318.7" y="1034.4"/>
<g transform="translate(1318.7 1034.4) rotate(-43.8)"><text x="-186.7" y="26.2" textLength="139" lengthAdjust="spacingAndGlyphs">WATCH</text><text x="44.3" y="26.2" textLength="132" lengthAdjust="spacingAndGlyphs">PARTS</text></g>
<use href="#pin" x="1665.7" y="701.4"/>
<g transform="translate(1665.7 701.4) rotate(-43.8)"><text x="-186.7" y="26.2" textLength="139" lengthAdjust="spacingAndGlyphs">WATCH</text><text x="44.3" y="26.2" textLength="132" lengthAdjust="spacingAndGlyphs">PARTS</text></g>
<use href="#pin" x="2012.7" y="368.4"/>
<g transform="translate(2012.7 368.4) rotate(-43.8)"><text x="-186.7" y="26.2" textLength="139" lengthAdjust="spacingAndGlyphs">WATCH</text><text x="44.3" y="26.2" textLength="132" lengthAdjust="spacingAndGlyphs">PARTS</text></g>
<use href="#pin" x="-282.9" y="2837.5"/>
<g transform="translate(-282.9 2837.5) rotate(-43.8)"><text x="-186.7" y="26.2" textLength="139" lengthAdjust="spacingAndGlyphs">WATCH</text><text x="44.3" y="26.2" textLength="132" lengthAdjust="spacingAndGlyphs">PARTS</text></g>
<use href="#pin" x="64.1" y="2504.5"/>
<g transform="translate(64.1 2504.5) rotate(-43.8)"><text x="-186.7" y="26.2" textLength="139" lengthAdjust="spacingAndGlyphs">WATCH</text><text x="44.3" y="26.2" textLength="132" lengthAdjust="spacingAndGlyphs">PARTS</text></g>
<use href="#pin" x="411.1" y="2171.5"/>
<g transform="translate(411.1 2171.5) rotate(-43.8)"><text x="-186.7" y="26.2" textLength="139" lengthAdjust="spacingAndGlyphs">WATCH</text><text x="44.3" y="26.2" textLength="132" lengthAdjust="spacingAndGlyphs">PARTS</text></g>
<use href="#pin" x="758.1" y="1838.5"/>
<g transform="translate(758.1 1838.5) rotate(-43.8)"><text x="-186.7" y="26.2" textLength="139" lengthAdjust="spacingAndGlyphs">WATCH</text><text x="44.3" y="26.2" textLength="132" lengthAdjust="spacingAndGlyphs">PARTS</text></g>
<use href="#pin" x="1105.1" y="1505.5"/>
<g transform="translate(1105.1 1505.5) rotate(-43.8)"><text x="-186.7" y="26.2" textLength="139" lengthAdjust="spacingAndGlyphs">WATCH</text><text x="44.3" y="26.2" textLength="132" lengthAdjust="spacingAndGlyphs">PARTS</text></g>
<use href="#pin" x="1452.1" y="1172.5"/>
<g transform="translate(1452.1 1172.5) rotate(-43.8)"><text x="-186.7" y="26.2" textLength="139" lengthAdjust="spacingAndGlyphs">WATCH</text><text x="44.3" y="26.2" textLength="132" lengthAdjust="spacingAndGlyphs">PARTS</text></g>
<use href="#pin" x="1799.1" y="839.5"/>
<g transform="translate(1799.1 839.5) rotate(-43.8)"><text x="-186.7" y="26.2" textLength="139" lengthAdjust="spacingAndGlyphs">WATCH</text><text x="44.3" y="26.2" textLength="132" lengthAdjust="spacingAndGlyphs">PARTS</text></g>
<use href="#pin" x="2146.1" y="506.5"/>
<g transform="translate(2146.1 506.5) rotate(-43.8)"><text x="-186.7" y="26.2" textLength="139" lengthAdjust="spacingAndGlyphs">WATCH</text><text x="44.3" y="26.2" textLength="132" lengthAdjust="spacingAndGlyphs">PARTS</text></g>
<use href="#pin" x="-149.5" y="2975.6"/>
<g transform="translate(-149.5 2975.6) rotate(-43.8)"><text x="-186.7" y="26.2" textLength="139" lengthAdjust="spacingAndGlyphs">WATCH</text><text x="44.3" y="26.2" textLength="132" lengthAdjust="spacingAndGlyphs">PARTS</text></g>
<use href="#pin" x="197.5" y="2642.6"/>
<g transform="translate(197.5 2642.6) rotate(-43.8)"><text x="-186.7" y="26.2" textLength="139" lengthAdjust="spacingAndGlyphs">WATCH</text><text x="44.3" y="26.2" textLength="132" lengthAdjust="spacingAndGlyphs">PARTS</text></g>
<use href="#pin" x="544.5" y="2309.6"/>
<g transform="translate(544.5 2309.6) rotate(-43.8)"><text x="-186.7" y="26.2" textLength="139" lengthAdjust="spacingAndGlyphs">WATCH</text><text x="44.3" y="26.2" textLength="132" lengthAdjust="spacingAndGlyphs">PARTS</text></g>
<use href="#pin" x="891.5" y="1976.6"/>
<g transform="translate(891.5 1976.6) rotate(-43.8)"><text x="-186.7" y="26.2" textLength="139" lengthAdjust="spacingAndGlyphs">WATCH</text><text x="44.3" y="26.2" textLength="132" lengthAdjust="spacingAndGlyphs">PARTS</text></g>
<use href="#pin" x="1238.5" y="1643.6"/>
<g transform="translate(1238.5 1643.6) rotate(-43.8)"><text x="-186.7" y="26.2" textLength="139" lengthAdjust="spacingAndGlyphs">WATCH</text><text x="44.3" y="26.2" textLength="132" lengthAdjust="spacingAndGlyphs">PARTS</text></g>
<use href="#pin" x="1585.5" y="1310.6"/>
<g transform="translate(1585.5 1310.6) rotate(-43.8)"><text x="-186.7" y="26.2" textLength="139" lengthAdjust="spacingAndGlyphs">WATCH</text><text x="44.3" y="26.2" textLength="132" lengthAdjust="spacingAndGlyphs">PARTS</text></g>
<use href="#pin" x="1932.5" y="977.6"/>
<g transform="translate(1932.5 977.6) rotate(-43.8)"><text x="-186.7" y="26.2" textLength="139" lengthAdjust="spacingAndGlyphs">WATCH</text><text x="44.3" y="26.2" textLength="132" lengthAdjust="spacingAndGlyphs">PARTS</text></g>
<use href="#pin" x="330.9" y="2780.7"/>
<g transform="translate(330.9 2780.7) rotate(-43.8)"><text x="-186.7" y="26.2" textLength="139" lengthAdjust="spacingAndGlyphs">WATCH</text><text x="44.3" y="26.2" textLength="132" lengthAdjust="spacingAndGlyphs">PARTS</text></g>
<use href="#pin" x="677.9" y="2447.7"/>
<g transform="translate(677.9 2447.7) rotate(-43.8)"><text x="-186.7" y="26.2" textLength="139" lengthAdjust="spacingAndGlyphs">WATCH</text><text x="44.3" y="26.2" textLength="132" lengthAdjust="spacingAndGlyphs">PARTS</text></g>
<use href="#pin" x="1024.9" y="2114.7"/>
<g transform="translate(1024.9 2114.7) rotate(-43.8)"><text x="-186.7" y="26.2" textLength="139" lengthAdjust="spacingAndGlyphs">WATCH</text><text x="44.3" y="26.2" textLength="132" lengthAdjust="spacingAndGlyphs">PARTS</text></g>
<use href="#pin" x="1371.9" y="1781.7"/>
<g transform="translate(1371.9 1781.7) rotate(-43.8)"><text x="-186.7" y="26.2" textLength="139" lengthAdjust="spacingAndGlyphs">WATCH</text><text x="44.3" y="26.2" textLength="132" lengthAdjust="spacingAndGlyphs">PARTS</text></g>
<use href="#pin" x="1718.9" y="1448.7"/>
<g transform="translate(1718.9 1448.7) rotate(-43.8)"><text x="-186.7" y="26.2" textLength="139" lengthAdjust="spacingAndGlyphs">WATCH</text><text x="44.3" y="26.2" textLength="132" lengthAdjust="spacingAndGlyphs">PARTS</text></g>
<use href="#pin" x="2065.9" y="1115.7"/>
<g transform="translate(2065.9 1115.7) rotate(-43.8)"><text x="-186.7" y="26.2" textLength="139" lengthAdjust="spacingAndGlyphs">WATCH</text><text x="44.3" y="26.2" textLength="132" lengthAdjust="spacingAndGlyphs">PARTS</text></g>
<use href="#pin" x="464.3" y="2918.8"/>
<g transform="translate(464.3 2918.8) rotate(-43.8)"><text x="-186.7" y="26.2" textLength="139" lengthAdjust="spacingAndGlyphs">WATCH</text><text x="44.3" y="26.2" textLength="132" lengthAdjust="spacingAndGlyphs">PARTS</text></g>
<use href="#pin" x="811.3" y="2585.8"/>
<g transform="translate(811.3 2585.8) rotate(-43.8)"><text x="-186.7" y="26.2" textLength="139" lengthAdjust="spacingAndGlyphs">WATCH</text><text x="44.3" y="26.2" textLength="132" lengthAdjust="spacingAndGlyphs">PARTS</text></g>
<use href="#pin" x="1158.3" y="2252.8"/>
<g transform="translate(1158.3 2252.8) rotate(-43.8)"><text x="-186.7" y="26.2" textLength="139" lengthAdjust="spacingAndGlyphs">WATCH</text><text x="44.3" y="26.2" textLength="132" lengthAdjust="spacingAndGlyphs">PARTS</text></g>
<use href="#pin" x="1505.3" y="1919.8"/>
<g transform="translate(1505.3 1919.8) rotate(-43.8)"><text x="-186.7" y="26.2" textLength="139" lengthAdjust="spacingAndGlyphs">WATCH</text><text x="44.3" y="26.2" textLength="132" lengthAdjust="spacingAndGlyphs">PARTS</text></g>
<use href="#pin" x="1852.3" y="1586.8"/>
<g transform="translate(1852.3 1586.8) rotate(-43.8)"><text x="-186.7" y="26.2" textLength="139" lengthAdjust="spacingAndGlyphs">WATCH</text><text x="44.3" y="26.2" textLength="132" lengthAdjust="spacingAndGlyphs">PARTS</text></g>
<use href="#pin" x="2199.3" y="1253.8"/>
<g transform="translate(2199.3 1253.8) rotate(-43.8)"><text x="-186.7" y="26.2" textLength="139" lengthAdjust="spacingAndGlyphs">WATCH</text><text x="44.3" y="26.2" textLength="132" lengthAdjust="spacingAndGlyphs">PARTS</text></g>
<use href="#pin" x="597.7" y="3056.9"/>
<g transform="translate(597.7 3056.9) rotate(-43.8)"><text x="-186.7" y="26.2" textLength="139" lengthAdjust="spacingAndGlyphs">WATCH</text><text x="44.3" y="26.2" textLength="132" lengthAdjust="spacingAndGlyphs">PARTS</text></g>
<use href="#pin" x="944.7" y="2723.9"/>
<g transform="translate(944.7 2723.9) rotate(-43.8)"><text x="-186.7" y="26.2" textLength="139" lengthAdjust="spacingAndGlyphs">WATCH</text><text x="44.3" y="26.2" textLength="132" lengthAdjust="spacingAndGlyphs">PARTS</text></g>
<use href="#pin" x="1291.7" y="2390.9"/>
<g transform="translate(1291.7 2390.9) rotate(-43.8)"><text x="-186.7" y="26.2" textLength="139" lengthAdjust="spacingAndGlyphs">WATCH</text><text x="44.3" y="26.2" textLength="132" lengthAdjust="spacingAndGlyphs">PARTS</text></g>
<use href="#pin" x="1638.7" y="2057.9"/>
<g transform="translate(1638.7 2057.9) rotate(-43.8)"><text x="-186.7" y="26.2" textLength="139" lengthAdjust="spacingAndGlyphs">WATCH</text><text x="44.3" y="26.2" textLength="132" lengthAdjust="spacingAndGlyphs">PARTS</text></g>
<use href="#pin" x="1985.7" y="1724.9"/>
<g transform="translate(1985.7 1724.9) rotate(-43.8)"><text x="-186.7" y="26.2" textLength="139" lengthAdjust="spacingAndGlyphs">WATCH</text><text x="44.3" y="26.2" textLength="132" lengthAdjust="spacingAndGlyphs">PARTS</text></g>
<use href="#pin" x="1078.1" y="2862"/>
<g transform="translate(1078.1 2862) rotate(-43.8)"><text x="-186.7" y="26.2" textLength="139" lengthAdjust="spacingAndGlyphs">WATCH</text><text x="44.3" y="26.2" textLength="132" lengthAdjust="spacingAndGlyphs">PARTS</text></g>
<use href="#pin" x="1425.1" y="2529"/>
<g transform="translate(1425.1 2529) rotate(-43.8)"><text x="-186.7" y="26.2" textLength="139" lengthAdjust="spacingAndGlyphs">WATCH</text><text x="44.3" y="26.2" textLength="132" lengthAdjust="spacingAndGlyphs">PARTS</text></g>
<use href="#pin" x="1772.1" y="2196"/>
<g transform="translate(1772.1 2196) rotate(-43.8)"><text x="-186.7" y="26.2" textLength="139" lengthAdjust="spacingAndGlyphs">WATCH</text><text x="44.3" y="26.2" textLength="132" lengthAdjust="spacingAndGlyphs">PARTS</text></g>
<use href="#pin" x="2119.1" y="1863"/>
<g transform="translate(2119.1 1863) rotate(-43.8)"><text x="-186.7" y="26.2" textLength="139" lengthAdjust="spacingAndGlyphs">WATCH</text><text x="44.3" y="26.2" textLength="132" lengthAdjust="spacingAndGlyphs">PARTS</text></g>
<use href="#pin" x="1211.5" y="3000.1"/>
<g transform="translate(1211.5 3000.1) rotate(-43.8)"><text x="-186.7" y="26.2" textLength="139" lengthAdjust="spacingAndGlyphs">WATCH</text><text x="44.3" y="26.2" textLength="132" lengthAdjust="spacingAndGlyphs">PARTS</text></g>
<use href="#pin" x="1558.5" y="2667.1"/>
<g transform="translate(1558.5 2667.1) rotate(-43.8)"><text x="-186.7" y="26.2" textLength="139" lengthAdjust="spacingAndGlyphs">WATCH</text><text x="44.3" y="26.2" textLength="132" lengthAdjust="spacingAndGlyphs">PARTS</text></g>
<use href="#pin" x="1905.5" y="2334.1"/>
<g transform="translate(1905.5 2334.1) rotate(-43.8)"><text x="-186.7" y="26.2" textLength="139" lengthAdjust="spacingAndGlyphs">WATCH</text><text x="44.3" y="26.2" textLength="132" lengthAdjust="spacingAndGlyphs">PARTS</text></g>
<use href="#pin" x="2252.5" y="2001.1"/>
<g transform="translate(2252.5 2001.1) rotate(-43.8)"><text x="-186.7" y="26.2" textLength="139" lengthAdjust="spacingAndGlyphs">WATCH</text><text x="44.3" y="26.2" textLength="132" lengthAdjust="spacingAndGlyphs">PARTS</text></g>
<use href="#pin" x="1691.9" y="2805.2"/>
<g transform="translate(1691.9 2805.2) rotate(-43.8)"><text x="-186.7" y="26.2" textLength="139" lengthAdjust="spacingAndGlyphs">WATCH</text><text x="44.3" y="26.2" textLength="132" lengthAdjust="spacingAndGlyphs">PARTS</text></g>
<use href="#pin" x="2038.9" y="2472.2"/>
<g transform="translate(2038.9 2472.2) rotate(-43.8)"><text x="-186.7" y="26.2" textLength="139" lengthAdjust="spacingAndGlyphs">WATCH</text><text x="44.3" y="26.2" textLength="132" lengthAdjust="spacingAndGlyphs">PARTS</text></g>
<use href="#pin" x="1825.3" y="2943.3"/>
<g transform="translate(1825.3 2943.3) rotate(-43.8)"><text x="-186.7" y="26.2" textLength="139" lengthAdjust="spacingAndGlyphs">WATCH</text><text x="44.3" y="26.2" textLength="132" lengthAdjust="spacingAndGlyphs">PARTS</text></g>
<use href="#pin" x="2172.3" y="2610.3"/>
<g transform="translate(2172.3 2610.3) rotate(-43.8)"><text x="-186.7" y="26.2" textLength="139" lengthAdjust="spacingAndGlyphs">WATCH</text><text x="44.3" y="26.2" textLength="132" lengthAdjust="spacingAndGlyphs">PARTS</text></g>
</g>
</g>
</svg>
</body>
</html>
